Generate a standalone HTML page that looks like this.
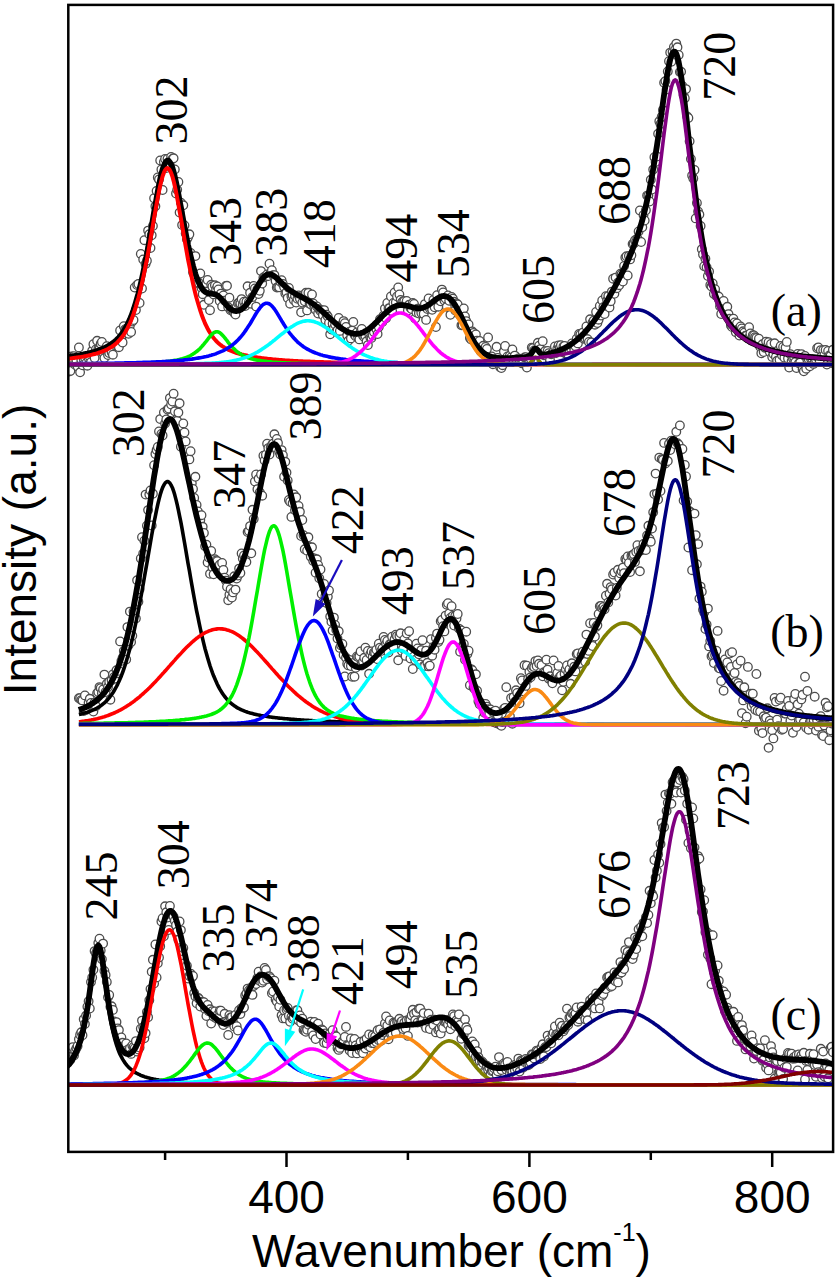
<!DOCTYPE html>
<html><head><meta charset="utf-8"><style>html,body{margin:0;padding:0;background:#fff;overflow:hidden}svg{display:block}</style></head>
<body><svg width="837" height="1280" viewBox="0 0 837 1280">
<rect width="837" height="1280" fill="#fff"/>
<defs><clipPath id="cp"><rect x="68" y="5" width="765" height="1146"/></clipPath></defs>
<g clip-path="url(#cp)">
<g fill="#fff" stroke="#4d4d4d" stroke-width="1.3"><circle cx="67.9" cy="360.6" r="4.3"/><circle cx="69.1" cy="371.6" r="4.3"/><circle cx="70.4" cy="370.9" r="4.3"/><circle cx="71.6" cy="356.5" r="4.3"/><circle cx="72.8" cy="358.2" r="4.3"/><circle cx="74.0" cy="356.1" r="4.3"/><circle cx="75.2" cy="364.8" r="4.3"/><circle cx="76.4" cy="360.4" r="4.3"/><circle cx="77.6" cy="366.4" r="4.3"/><circle cx="78.9" cy="347.4" r="4.3"/><circle cx="80.1" cy="372.3" r="4.3"/><circle cx="81.3" cy="360.0" r="4.3"/><circle cx="82.5" cy="365.3" r="4.3"/><circle cx="83.7" cy="358.8" r="4.3"/><circle cx="84.9" cy="357.4" r="4.3"/><circle cx="86.1" cy="363.2" r="4.3"/><circle cx="87.4" cy="365.7" r="4.3"/><circle cx="88.6" cy="358.1" r="4.3"/><circle cx="89.8" cy="356.8" r="4.3"/><circle cx="91.0" cy="362.1" r="4.3"/><circle cx="92.2" cy="350.8" r="4.3"/><circle cx="93.4" cy="344.2" r="4.3"/><circle cx="94.6" cy="358.0" r="4.3"/><circle cx="95.9" cy="349.4" r="4.3"/><circle cx="97.1" cy="340.8" r="4.3"/><circle cx="98.3" cy="349.1" r="4.3"/><circle cx="99.5" cy="349.1" r="4.3"/><circle cx="100.7" cy="343.7" r="4.3"/><circle cx="101.9" cy="341.9" r="4.3"/><circle cx="103.1" cy="352.7" r="4.3"/><circle cx="104.4" cy="358.1" r="4.3"/><circle cx="105.6" cy="349.7" r="4.3"/><circle cx="106.8" cy="346.2" r="4.3"/><circle cx="108.0" cy="355.1" r="4.3"/><circle cx="109.2" cy="353.1" r="4.3"/><circle cx="110.4" cy="349.1" r="4.3"/><circle cx="111.6" cy="352.3" r="4.3"/><circle cx="112.9" cy="354.7" r="4.3"/><circle cx="114.1" cy="345.0" r="4.3"/><circle cx="115.3" cy="344.0" r="4.3"/><circle cx="116.5" cy="344.2" r="4.3"/><circle cx="117.7" cy="343.9" r="4.3"/><circle cx="118.9" cy="347.2" r="4.3"/><circle cx="120.1" cy="330.4" r="4.3"/><circle cx="121.4" cy="339.0" r="4.3"/><circle cx="122.6" cy="342.5" r="4.3"/><circle cx="123.8" cy="326.2" r="4.3"/><circle cx="125.0" cy="329.4" r="4.3"/><circle cx="126.2" cy="329.3" r="4.3"/><circle cx="127.4" cy="328.2" r="4.3"/><circle cx="128.6" cy="333.8" r="4.3"/><circle cx="129.9" cy="325.5" r="4.3"/><circle cx="131.1" cy="332.0" r="4.3"/><circle cx="132.3" cy="321.6" r="4.3"/><circle cx="133.5" cy="320.0" r="4.3"/><circle cx="134.7" cy="287.5" r="4.3"/><circle cx="135.9" cy="310.0" r="4.3"/><circle cx="137.1" cy="284.9" r="4.3"/><circle cx="138.4" cy="284.0" r="4.3"/><circle cx="139.6" cy="303.0" r="4.3"/><circle cx="140.8" cy="253.9" r="4.3"/><circle cx="142.0" cy="288.5" r="4.3"/><circle cx="143.2" cy="259.5" r="4.3"/><circle cx="144.4" cy="240.2" r="4.3"/><circle cx="145.6" cy="263.9" r="4.3"/><circle cx="146.9" cy="260.7" r="4.3"/><circle cx="148.1" cy="230.6" r="4.3"/><circle cx="149.3" cy="234.3" r="4.3"/><circle cx="150.5" cy="248.0" r="4.3"/><circle cx="151.7" cy="235.3" r="4.3"/><circle cx="152.9" cy="226.0" r="4.3"/><circle cx="154.1" cy="198.2" r="4.3"/><circle cx="155.4" cy="206.3" r="4.3"/><circle cx="156.6" cy="190.9" r="4.3"/><circle cx="157.8" cy="177.5" r="4.3"/><circle cx="159.0" cy="179.4" r="4.3"/><circle cx="160.2" cy="160.4" r="4.3"/><circle cx="161.4" cy="169.5" r="4.3"/><circle cx="162.6" cy="190.0" r="4.3"/><circle cx="163.9" cy="162.0" r="4.3"/><circle cx="165.1" cy="159.0" r="4.3"/><circle cx="166.3" cy="168.1" r="4.3"/><circle cx="167.5" cy="158.9" r="4.3"/><circle cx="168.7" cy="166.1" r="4.3"/><circle cx="169.9" cy="165.7" r="4.3"/><circle cx="171.1" cy="156.9" r="4.3"/><circle cx="172.4" cy="158.9" r="4.3"/><circle cx="173.6" cy="158.3" r="4.3"/><circle cx="174.8" cy="169.5" r="4.3"/><circle cx="176.0" cy="193.5" r="4.3"/><circle cx="177.2" cy="189.8" r="4.3"/><circle cx="178.4" cy="181.9" r="4.3"/><circle cx="179.6" cy="212.6" r="4.3"/><circle cx="180.9" cy="202.7" r="4.3"/><circle cx="182.1" cy="225.1" r="4.3"/><circle cx="183.3" cy="205.3" r="4.3"/><circle cx="184.5" cy="225.4" r="4.3"/><circle cx="185.7" cy="233.5" r="4.3"/><circle cx="186.9" cy="239.2" r="4.3"/><circle cx="188.1" cy="236.9" r="4.3"/><circle cx="189.4" cy="234.3" r="4.3"/><circle cx="190.6" cy="253.0" r="4.3"/><circle cx="191.8" cy="256.4" r="4.3"/><circle cx="193.0" cy="272.3" r="4.3"/><circle cx="194.2" cy="274.4" r="4.3"/><circle cx="195.4" cy="256.1" r="4.3"/><circle cx="196.6" cy="277.5" r="4.3"/><circle cx="197.9" cy="283.2" r="4.3"/><circle cx="199.1" cy="283.3" r="4.3"/><circle cx="200.3" cy="273.5" r="4.3"/><circle cx="201.5" cy="288.1" r="4.3"/><circle cx="202.7" cy="294.2" r="4.3"/><circle cx="203.9" cy="304.8" r="4.3"/><circle cx="205.1" cy="287.8" r="4.3"/><circle cx="206.4" cy="283.2" r="4.3"/><circle cx="207.6" cy="279.9" r="4.3"/><circle cx="208.8" cy="300.1" r="4.3"/><circle cx="210.0" cy="310.2" r="4.3"/><circle cx="211.2" cy="284.8" r="4.3"/><circle cx="212.4" cy="286.5" r="4.3"/><circle cx="213.6" cy="294.4" r="4.3"/><circle cx="214.9" cy="285.3" r="4.3"/><circle cx="216.1" cy="289.5" r="4.3"/><circle cx="217.3" cy="286.5" r="4.3"/><circle cx="218.5" cy="289.4" r="4.3"/><circle cx="219.7" cy="301.1" r="4.3"/><circle cx="220.9" cy="293.6" r="4.3"/><circle cx="222.1" cy="306.4" r="4.3"/><circle cx="223.4" cy="295.4" r="4.3"/><circle cx="224.6" cy="300.6" r="4.3"/><circle cx="225.8" cy="286.0" r="4.3"/><circle cx="227.0" cy="285.8" r="4.3"/><circle cx="228.2" cy="307.3" r="4.3"/><circle cx="229.4" cy="297.7" r="4.3"/><circle cx="230.6" cy="310.2" r="4.3"/><circle cx="231.9" cy="309.9" r="4.3"/><circle cx="233.1" cy="309.8" r="4.3"/><circle cx="234.3" cy="313.1" r="4.3"/><circle cx="235.5" cy="314.6" r="4.3"/><circle cx="236.7" cy="306.9" r="4.3"/><circle cx="237.9" cy="303.3" r="4.3"/><circle cx="239.1" cy="302.7" r="4.3"/><circle cx="240.4" cy="303.5" r="4.3"/><circle cx="241.6" cy="299.1" r="4.3"/><circle cx="242.8" cy="304.7" r="4.3"/><circle cx="244.0" cy="301.7" r="4.3"/><circle cx="245.2" cy="306.0" r="4.3"/><circle cx="246.4" cy="301.7" r="4.3"/><circle cx="247.6" cy="286.3" r="4.3"/><circle cx="248.9" cy="302.2" r="4.3"/><circle cx="250.1" cy="292.8" r="4.3"/><circle cx="251.3" cy="303.7" r="4.3"/><circle cx="252.5" cy="297.1" r="4.3"/><circle cx="253.7" cy="286.0" r="4.3"/><circle cx="254.9" cy="288.4" r="4.3"/><circle cx="256.1" cy="306.6" r="4.3"/><circle cx="257.4" cy="289.2" r="4.3"/><circle cx="258.6" cy="294.0" r="4.3"/><circle cx="259.8" cy="290.8" r="4.3"/><circle cx="261.0" cy="271.1" r="4.3"/><circle cx="262.2" cy="283.5" r="4.3"/><circle cx="263.4" cy="277.5" r="4.3"/><circle cx="264.6" cy="277.0" r="4.3"/><circle cx="265.9" cy="276.5" r="4.3"/><circle cx="267.1" cy="274.5" r="4.3"/><circle cx="268.3" cy="276.0" r="4.3"/><circle cx="269.5" cy="263.7" r="4.3"/><circle cx="270.7" cy="272.7" r="4.3"/><circle cx="271.9" cy="270.2" r="4.3"/><circle cx="273.1" cy="275.3" r="4.3"/><circle cx="274.4" cy="275.1" r="4.3"/><circle cx="275.6" cy="280.9" r="4.3"/><circle cx="276.8" cy="287.6" r="4.3"/><circle cx="278.0" cy="287.2" r="4.3"/><circle cx="279.2" cy="287.3" r="4.3"/><circle cx="280.4" cy="281.7" r="4.3"/><circle cx="281.6" cy="280.2" r="4.3"/><circle cx="282.9" cy="283.9" r="4.3"/><circle cx="284.1" cy="286.9" r="4.3"/><circle cx="285.3" cy="293.6" r="4.3"/><circle cx="286.5" cy="292.5" r="4.3"/><circle cx="287.7" cy="298.1" r="4.3"/><circle cx="288.9" cy="287.9" r="4.3"/><circle cx="290.1" cy="303.7" r="4.3"/><circle cx="291.4" cy="296.2" r="4.3"/><circle cx="292.6" cy="295.2" r="4.3"/><circle cx="293.8" cy="300.1" r="4.3"/><circle cx="295.0" cy="295.7" r="4.3"/><circle cx="296.2" cy="302.6" r="4.3"/><circle cx="297.4" cy="298.8" r="4.3"/><circle cx="298.6" cy="295.5" r="4.3"/><circle cx="299.9" cy="298.7" r="4.3"/><circle cx="301.1" cy="312.3" r="4.3"/><circle cx="302.3" cy="302.6" r="4.3"/><circle cx="303.5" cy="295.1" r="4.3"/><circle cx="304.7" cy="301.3" r="4.3"/><circle cx="305.9" cy="292.8" r="4.3"/><circle cx="307.1" cy="310.4" r="4.3"/><circle cx="308.4" cy="292.8" r="4.3"/><circle cx="309.6" cy="303.7" r="4.3"/><circle cx="310.8" cy="304.2" r="4.3"/><circle cx="312.0" cy="294.4" r="4.3"/><circle cx="313.2" cy="303.4" r="4.3"/><circle cx="314.4" cy="308.3" r="4.3"/><circle cx="315.6" cy="309.8" r="4.3"/><circle cx="316.9" cy="306.5" r="4.3"/><circle cx="318.1" cy="313.5" r="4.3"/><circle cx="319.3" cy="309.3" r="4.3"/><circle cx="320.5" cy="311.0" r="4.3"/><circle cx="321.7" cy="310.2" r="4.3"/><circle cx="322.9" cy="315.3" r="4.3"/><circle cx="324.1" cy="310.1" r="4.3"/><circle cx="325.4" cy="319.9" r="4.3"/><circle cx="326.6" cy="314.7" r="4.3"/><circle cx="327.8" cy="316.6" r="4.3"/><circle cx="329.0" cy="322.9" r="4.3"/><circle cx="330.2" cy="334.3" r="4.3"/><circle cx="331.4" cy="329.5" r="4.3"/><circle cx="332.6" cy="323.7" r="4.3"/><circle cx="333.9" cy="328.2" r="4.3"/><circle cx="335.1" cy="324.5" r="4.3"/><circle cx="336.3" cy="331.7" r="4.3"/><circle cx="337.5" cy="330.3" r="4.3"/><circle cx="338.7" cy="318.0" r="4.3"/><circle cx="339.9" cy="330.9" r="4.3"/><circle cx="341.1" cy="325.7" r="4.3"/><circle cx="342.4" cy="324.4" r="4.3"/><circle cx="343.6" cy="321.1" r="4.3"/><circle cx="344.8" cy="323.2" r="4.3"/><circle cx="346.0" cy="327.0" r="4.3"/><circle cx="347.2" cy="335.6" r="4.3"/><circle cx="348.4" cy="340.8" r="4.3"/><circle cx="349.6" cy="331.7" r="4.3"/><circle cx="350.9" cy="338.4" r="4.3"/><circle cx="352.1" cy="330.6" r="4.3"/><circle cx="353.3" cy="322.0" r="4.3"/><circle cx="354.5" cy="334.8" r="4.3"/><circle cx="355.7" cy="336.3" r="4.3"/><circle cx="356.9" cy="332.5" r="4.3"/><circle cx="358.1" cy="337.2" r="4.3"/><circle cx="359.4" cy="339.4" r="4.3"/><circle cx="360.6" cy="331.4" r="4.3"/><circle cx="361.8" cy="328.9" r="4.3"/><circle cx="363.0" cy="335.8" r="4.3"/><circle cx="364.2" cy="336.9" r="4.3"/><circle cx="365.4" cy="336.0" r="4.3"/><circle cx="366.6" cy="341.3" r="4.3"/><circle cx="367.9" cy="345.1" r="4.3"/><circle cx="369.1" cy="334.0" r="4.3"/><circle cx="370.3" cy="337.5" r="4.3"/><circle cx="371.5" cy="337.9" r="4.3"/><circle cx="372.7" cy="335.2" r="4.3"/><circle cx="373.9" cy="331.9" r="4.3"/><circle cx="375.1" cy="326.9" r="4.3"/><circle cx="376.4" cy="329.2" r="4.3"/><circle cx="377.6" cy="334.1" r="4.3"/><circle cx="378.8" cy="327.0" r="4.3"/><circle cx="380.0" cy="319.3" r="4.3"/><circle cx="381.2" cy="319.4" r="4.3"/><circle cx="382.4" cy="322.0" r="4.3"/><circle cx="383.6" cy="315.6" r="4.3"/><circle cx="384.9" cy="308.6" r="4.3"/><circle cx="386.1" cy="318.2" r="4.3"/><circle cx="387.3" cy="303.0" r="4.3"/><circle cx="388.5" cy="308.4" r="4.3"/><circle cx="389.7" cy="308.2" r="4.3"/><circle cx="390.9" cy="296.5" r="4.3"/><circle cx="392.1" cy="311.0" r="4.3"/><circle cx="393.4" cy="302.9" r="4.3"/><circle cx="394.6" cy="292.5" r="4.3"/><circle cx="395.8" cy="302.4" r="4.3"/><circle cx="397.0" cy="296.4" r="4.3"/><circle cx="398.2" cy="287.5" r="4.3"/><circle cx="399.4" cy="294.5" r="4.3"/><circle cx="400.6" cy="300.0" r="4.3"/><circle cx="401.9" cy="302.5" r="4.3"/><circle cx="403.1" cy="301.2" r="4.3"/><circle cx="404.3" cy="301.1" r="4.3"/><circle cx="405.5" cy="304.3" r="4.3"/><circle cx="406.7" cy="300.9" r="4.3"/><circle cx="407.9" cy="310.5" r="4.3"/><circle cx="409.1" cy="304.8" r="4.3"/><circle cx="410.4" cy="307.8" r="4.3"/><circle cx="411.6" cy="309.1" r="4.3"/><circle cx="412.8" cy="303.0" r="4.3"/><circle cx="414.0" cy="303.9" r="4.3"/><circle cx="415.2" cy="318.5" r="4.3"/><circle cx="416.4" cy="312.5" r="4.3"/><circle cx="417.6" cy="308.8" r="4.3"/><circle cx="418.9" cy="313.5" r="4.3"/><circle cx="420.1" cy="308.6" r="4.3"/><circle cx="421.3" cy="313.0" r="4.3"/><circle cx="422.5" cy="309.0" r="4.3"/><circle cx="423.7" cy="314.0" r="4.3"/><circle cx="424.9" cy="304.1" r="4.3"/><circle cx="426.1" cy="319.9" r="4.3"/><circle cx="427.4" cy="309.1" r="4.3"/><circle cx="428.6" cy="298.5" r="4.3"/><circle cx="429.8" cy="308.4" r="4.3"/><circle cx="431.0" cy="307.5" r="4.3"/><circle cx="432.2" cy="309.8" r="4.3"/><circle cx="433.4" cy="299.9" r="4.3"/><circle cx="434.6" cy="307.3" r="4.3"/><circle cx="435.9" cy="327.0" r="4.3"/><circle cx="437.1" cy="295.2" r="4.3"/><circle cx="438.3" cy="306.7" r="4.3"/><circle cx="439.5" cy="300.5" r="4.3"/><circle cx="440.7" cy="301.3" r="4.3"/><circle cx="441.9" cy="289.6" r="4.3"/><circle cx="443.1" cy="292.5" r="4.3"/><circle cx="444.4" cy="300.4" r="4.3"/><circle cx="445.6" cy="298.5" r="4.3"/><circle cx="446.8" cy="306.8" r="4.3"/><circle cx="448.0" cy="295.4" r="4.3"/><circle cx="449.2" cy="300.8" r="4.3"/><circle cx="450.4" cy="314.8" r="4.3"/><circle cx="451.6" cy="296.9" r="4.3"/><circle cx="452.9" cy="298.7" r="4.3"/><circle cx="454.1" cy="301.8" r="4.3"/><circle cx="455.3" cy="310.5" r="4.3"/><circle cx="456.5" cy="303.4" r="4.3"/><circle cx="457.7" cy="304.5" r="4.3"/><circle cx="458.9" cy="312.8" r="4.3"/><circle cx="460.1" cy="315.2" r="4.3"/><circle cx="461.4" cy="325.3" r="4.3"/><circle cx="462.6" cy="325.0" r="4.3"/><circle cx="463.8" cy="308.4" r="4.3"/><circle cx="465.0" cy="316.5" r="4.3"/><circle cx="466.2" cy="321.1" r="4.3"/><circle cx="467.4" cy="326.8" r="4.3"/><circle cx="468.6" cy="324.4" r="4.3"/><circle cx="469.9" cy="338.1" r="4.3"/><circle cx="471.1" cy="339.5" r="4.3"/><circle cx="472.3" cy="331.5" r="4.3"/><circle cx="473.5" cy="333.0" r="4.3"/><circle cx="474.7" cy="337.5" r="4.3"/><circle cx="475.9" cy="334.5" r="4.3"/><circle cx="477.1" cy="340.6" r="4.3"/><circle cx="478.4" cy="345.6" r="4.3"/><circle cx="479.6" cy="341.0" r="4.3"/><circle cx="480.8" cy="351.4" r="4.3"/><circle cx="482.0" cy="348.0" r="4.3"/><circle cx="483.2" cy="345.8" r="4.3"/><circle cx="484.4" cy="349.1" r="4.3"/><circle cx="485.6" cy="346.9" r="4.3"/><circle cx="486.9" cy="349.0" r="4.3"/><circle cx="488.1" cy="337.5" r="4.3"/><circle cx="489.3" cy="360.6" r="4.3"/><circle cx="490.5" cy="360.6" r="4.3"/><circle cx="491.7" cy="356.5" r="4.3"/><circle cx="492.9" cy="364.2" r="4.3"/><circle cx="494.1" cy="361.0" r="4.3"/><circle cx="495.4" cy="361.8" r="4.3"/><circle cx="496.6" cy="346.8" r="4.3"/><circle cx="497.8" cy="358.0" r="4.3"/><circle cx="499.0" cy="362.2" r="4.3"/><circle cx="500.2" cy="367.2" r="4.3"/><circle cx="501.4" cy="368.0" r="4.3"/><circle cx="502.6" cy="365.2" r="4.3"/><circle cx="503.9" cy="351.6" r="4.3"/><circle cx="505.1" cy="345.9" r="4.3"/><circle cx="506.3" cy="359.4" r="4.3"/><circle cx="507.5" cy="356.4" r="4.3"/><circle cx="508.7" cy="360.8" r="4.3"/><circle cx="509.9" cy="355.6" r="4.3"/><circle cx="511.1" cy="357.4" r="4.3"/><circle cx="512.4" cy="349.5" r="4.3"/><circle cx="513.6" cy="359.5" r="4.3"/><circle cx="514.8" cy="355.6" r="4.3"/><circle cx="516.0" cy="359.5" r="4.3"/><circle cx="517.2" cy="360.8" r="4.3"/><circle cx="518.4" cy="358.4" r="4.3"/><circle cx="519.6" cy="361.0" r="4.3"/><circle cx="520.9" cy="359.6" r="4.3"/><circle cx="522.1" cy="363.4" r="4.3"/><circle cx="523.3" cy="362.2" r="4.3"/><circle cx="524.5" cy="357.4" r="4.3"/><circle cx="525.7" cy="357.2" r="4.3"/><circle cx="526.9" cy="367.6" r="4.3"/><circle cx="528.1" cy="358.5" r="4.3"/><circle cx="529.4" cy="361.8" r="4.3"/><circle cx="530.6" cy="358.7" r="4.3"/><circle cx="531.8" cy="347.6" r="4.3"/><circle cx="533.0" cy="348.2" r="4.3"/><circle cx="534.2" cy="350.4" r="4.3"/><circle cx="535.4" cy="351.5" r="4.3"/><circle cx="536.6" cy="354.6" r="4.3"/><circle cx="537.9" cy="342.8" r="4.3"/><circle cx="539.1" cy="345.7" r="4.3"/><circle cx="540.3" cy="349.1" r="4.3"/><circle cx="541.5" cy="361.1" r="4.3"/><circle cx="542.7" cy="341.2" r="4.3"/><circle cx="543.9" cy="355.3" r="4.3"/><circle cx="545.1" cy="351.1" r="4.3"/><circle cx="546.4" cy="355.5" r="4.3"/><circle cx="547.6" cy="350.9" r="4.3"/><circle cx="548.8" cy="353.1" r="4.3"/><circle cx="550.0" cy="359.9" r="4.3"/><circle cx="551.2" cy="354.3" r="4.3"/><circle cx="552.4" cy="353.1" r="4.3"/><circle cx="553.6" cy="351.7" r="4.3"/><circle cx="554.9" cy="346.4" r="4.3"/><circle cx="556.1" cy="353.0" r="4.3"/><circle cx="557.3" cy="348.7" r="4.3"/><circle cx="558.5" cy="345.4" r="4.3"/><circle cx="559.7" cy="347.7" r="4.3"/><circle cx="560.9" cy="345.2" r="4.3"/><circle cx="562.1" cy="352.0" r="4.3"/><circle cx="563.4" cy="346.4" r="4.3"/><circle cx="564.6" cy="346.0" r="4.3"/><circle cx="565.8" cy="353.7" r="4.3"/><circle cx="567.0" cy="353.4" r="4.3"/><circle cx="568.2" cy="354.4" r="4.3"/><circle cx="569.4" cy="349.6" r="4.3"/><circle cx="570.6" cy="348.1" r="4.3"/><circle cx="571.9" cy="343.5" r="4.3"/><circle cx="573.1" cy="346.3" r="4.3"/><circle cx="574.3" cy="350.4" r="4.3"/><circle cx="575.5" cy="346.2" r="4.3"/><circle cx="576.7" cy="338.7" r="4.3"/><circle cx="577.9" cy="343.4" r="4.3"/><circle cx="579.1" cy="333.9" r="4.3"/><circle cx="580.4" cy="334.5" r="4.3"/><circle cx="581.6" cy="337.6" r="4.3"/><circle cx="582.8" cy="332.6" r="4.3"/><circle cx="584.0" cy="338.8" r="4.3"/><circle cx="585.2" cy="338.3" r="4.3"/><circle cx="586.4" cy="326.4" r="4.3"/><circle cx="587.6" cy="339.2" r="4.3"/><circle cx="588.9" cy="341.9" r="4.3"/><circle cx="590.1" cy="319.3" r="4.3"/><circle cx="591.3" cy="342.5" r="4.3"/><circle cx="592.5" cy="322.4" r="4.3"/><circle cx="593.7" cy="320.6" r="4.3"/><circle cx="594.9" cy="324.7" r="4.3"/><circle cx="596.1" cy="311.9" r="4.3"/><circle cx="597.4" cy="323.0" r="4.3"/><circle cx="598.6" cy="319.7" r="4.3"/><circle cx="599.8" cy="306.0" r="4.3"/><circle cx="601.0" cy="315.5" r="4.3"/><circle cx="602.2" cy="300.4" r="4.3"/><circle cx="603.4" cy="307.1" r="4.3"/><circle cx="604.6" cy="314.1" r="4.3"/><circle cx="605.9" cy="296.2" r="4.3"/><circle cx="607.1" cy="300.6" r="4.3"/><circle cx="608.3" cy="296.1" r="4.3"/><circle cx="609.5" cy="307.6" r="4.3"/><circle cx="610.7" cy="301.2" r="4.3"/><circle cx="611.9" cy="291.6" r="4.3"/><circle cx="613.1" cy="278.7" r="4.3"/><circle cx="614.4" cy="293.8" r="4.3"/><circle cx="615.6" cy="277.6" r="4.3"/><circle cx="616.8" cy="288.2" r="4.3"/><circle cx="618.0" cy="282.6" r="4.3"/><circle cx="619.2" cy="285.2" r="4.3"/><circle cx="620.4" cy="273.7" r="4.3"/><circle cx="621.6" cy="274.3" r="4.3"/><circle cx="622.9" cy="281.5" r="4.3"/><circle cx="624.1" cy="265.9" r="4.3"/><circle cx="625.3" cy="257.6" r="4.3"/><circle cx="626.5" cy="256.3" r="4.3"/><circle cx="627.7" cy="275.5" r="4.3"/><circle cx="628.9" cy="256.0" r="4.3"/><circle cx="630.1" cy="259.4" r="4.3"/><circle cx="631.4" cy="255.2" r="4.3"/><circle cx="632.6" cy="243.9" r="4.3"/><circle cx="633.8" cy="243.6" r="4.3"/><circle cx="635.0" cy="240.3" r="4.3"/><circle cx="636.2" cy="241.8" r="4.3"/><circle cx="637.4" cy="238.6" r="4.3"/><circle cx="638.6" cy="231.4" r="4.3"/><circle cx="639.9" cy="210.4" r="4.3"/><circle cx="641.1" cy="242.0" r="4.3"/><circle cx="642.3" cy="227.3" r="4.3"/><circle cx="643.5" cy="215.1" r="4.3"/><circle cx="644.7" cy="220.5" r="4.3"/><circle cx="645.9" cy="210.2" r="4.3"/><circle cx="647.1" cy="195.6" r="4.3"/><circle cx="648.4" cy="195.4" r="4.3"/><circle cx="649.6" cy="201.5" r="4.3"/><circle cx="650.8" cy="179.8" r="4.3"/><circle cx="652.0" cy="189.6" r="4.3"/><circle cx="653.2" cy="169.6" r="4.3"/><circle cx="654.4" cy="157.2" r="4.3"/><circle cx="655.6" cy="162.1" r="4.3"/><circle cx="656.9" cy="156.5" r="4.3"/><circle cx="658.1" cy="133.8" r="4.3"/><circle cx="659.3" cy="121.3" r="4.3"/><circle cx="660.5" cy="123.9" r="4.3"/><circle cx="661.7" cy="116.7" r="4.3"/><circle cx="662.9" cy="110.1" r="4.3"/><circle cx="664.1" cy="82.7" r="4.3"/><circle cx="665.4" cy="81.1" r="4.3"/><circle cx="666.6" cy="89.6" r="4.3"/><circle cx="667.8" cy="71.5" r="4.3"/><circle cx="669.0" cy="61.2" r="4.3"/><circle cx="670.2" cy="52.6" r="4.3"/><circle cx="671.4" cy="61.7" r="4.3"/><circle cx="672.6" cy="52.1" r="4.3"/><circle cx="673.9" cy="46.9" r="4.3"/><circle cx="675.1" cy="49.7" r="4.3"/><circle cx="676.3" cy="43.6" r="4.3"/><circle cx="677.5" cy="47.3" r="4.3"/><circle cx="678.7" cy="54.9" r="4.3"/><circle cx="679.9" cy="71.9" r="4.3"/><circle cx="681.1" cy="71.8" r="4.3"/><circle cx="682.4" cy="85.9" r="4.3"/><circle cx="683.6" cy="95.2" r="4.3"/><circle cx="684.8" cy="98.2" r="4.3"/><circle cx="686.0" cy="89.1" r="4.3"/><circle cx="687.2" cy="116.4" r="4.3"/><circle cx="688.4" cy="118.0" r="4.3"/><circle cx="689.6" cy="141.2" r="4.3"/><circle cx="690.9" cy="158.9" r="4.3"/><circle cx="692.1" cy="175.5" r="4.3"/><circle cx="693.3" cy="178.5" r="4.3"/><circle cx="694.5" cy="169.9" r="4.3"/><circle cx="695.7" cy="218.4" r="4.3"/><circle cx="696.9" cy="203.0" r="4.3"/><circle cx="698.1" cy="211.4" r="4.3"/><circle cx="699.4" cy="214.6" r="4.3"/><circle cx="700.6" cy="226.0" r="4.3"/><circle cx="701.8" cy="249.3" r="4.3"/><circle cx="703.0" cy="254.4" r="4.3"/><circle cx="704.2" cy="266.2" r="4.3"/><circle cx="705.4" cy="258.7" r="4.3"/><circle cx="706.6" cy="267.3" r="4.3"/><circle cx="707.9" cy="276.0" r="4.3"/><circle cx="709.1" cy="271.6" r="4.3"/><circle cx="710.3" cy="285.1" r="4.3"/><circle cx="711.5" cy="286.4" r="4.3"/><circle cx="712.7" cy="283.4" r="4.3"/><circle cx="713.9" cy="294.0" r="4.3"/><circle cx="715.1" cy="289.2" r="4.3"/><circle cx="716.4" cy="296.0" r="4.3"/><circle cx="717.6" cy="295.8" r="4.3"/><circle cx="718.8" cy="296.7" r="4.3"/><circle cx="720.0" cy="306.2" r="4.3"/><circle cx="721.2" cy="314.0" r="4.3"/><circle cx="722.4" cy="306.4" r="4.3"/><circle cx="723.6" cy="300.9" r="4.3"/><circle cx="724.9" cy="309.2" r="4.3"/><circle cx="726.1" cy="309.6" r="4.3"/><circle cx="727.3" cy="306.8" r="4.3"/><circle cx="728.5" cy="314.1" r="4.3"/><circle cx="729.7" cy="318.8" r="4.3"/><circle cx="730.9" cy="325.5" r="4.3"/><circle cx="732.1" cy="327.1" r="4.3"/><circle cx="733.4" cy="318.7" r="4.3"/><circle cx="734.6" cy="322.4" r="4.3"/><circle cx="735.8" cy="332.2" r="4.3"/><circle cx="737.0" cy="323.4" r="4.3"/><circle cx="738.2" cy="329.3" r="4.3"/><circle cx="739.4" cy="335.5" r="4.3"/><circle cx="740.6" cy="326.5" r="4.3"/><circle cx="741.9" cy="328.5" r="4.3"/><circle cx="743.1" cy="331.3" r="4.3"/><circle cx="744.3" cy="332.7" r="4.3"/><circle cx="745.5" cy="335.8" r="4.3"/><circle cx="746.7" cy="335.7" r="4.3"/><circle cx="747.9" cy="338.6" r="4.3"/><circle cx="749.1" cy="327.2" r="4.3"/><circle cx="750.4" cy="333.5" r="4.3"/><circle cx="751.6" cy="340.7" r="4.3"/><circle cx="752.8" cy="335.2" r="4.3"/><circle cx="754.0" cy="335.4" r="4.3"/><circle cx="755.2" cy="337.1" r="4.3"/><circle cx="756.4" cy="338.0" r="4.3"/><circle cx="757.6" cy="343.1" r="4.3"/><circle cx="758.9" cy="338.7" r="4.3"/><circle cx="760.1" cy="346.7" r="4.3"/><circle cx="761.3" cy="353.3" r="4.3"/><circle cx="762.5" cy="344.3" r="4.3"/><circle cx="763.7" cy="352.1" r="4.3"/><circle cx="764.9" cy="347.7" r="4.3"/><circle cx="766.1" cy="341.6" r="4.3"/><circle cx="767.4" cy="346.4" r="4.3"/><circle cx="768.6" cy="342.2" r="4.3"/><circle cx="769.8" cy="351.9" r="4.3"/><circle cx="771.0" cy="344.0" r="4.3"/><circle cx="772.2" cy="356.9" r="4.3"/><circle cx="773.4" cy="353.9" r="4.3"/><circle cx="774.6" cy="343.3" r="4.3"/><circle cx="775.9" cy="357.0" r="4.3"/><circle cx="777.1" cy="360.8" r="4.3"/><circle cx="778.3" cy="350.3" r="4.3"/><circle cx="779.5" cy="359.8" r="4.3"/><circle cx="780.7" cy="346.0" r="4.3"/><circle cx="781.9" cy="355.2" r="4.3"/><circle cx="783.1" cy="347.0" r="4.3"/><circle cx="784.4" cy="357.7" r="4.3"/><circle cx="785.6" cy="347.6" r="4.3"/><circle cx="786.8" cy="341.9" r="4.3"/><circle cx="788.0" cy="358.6" r="4.3"/><circle cx="789.2" cy="367.6" r="4.3"/><circle cx="790.4" cy="354.2" r="4.3"/><circle cx="791.6" cy="361.2" r="4.3"/><circle cx="792.9" cy="358.4" r="4.3"/><circle cx="794.1" cy="357.2" r="4.3"/><circle cx="795.3" cy="362.1" r="4.3"/><circle cx="796.5" cy="368.1" r="4.3"/><circle cx="797.7" cy="354.0" r="4.3"/><circle cx="798.9" cy="363.3" r="4.3"/><circle cx="800.1" cy="362.7" r="4.3"/><circle cx="801.4" cy="354.1" r="4.3"/><circle cx="802.6" cy="369.3" r="4.3"/><circle cx="803.8" cy="371.3" r="4.3"/><circle cx="805.0" cy="355.9" r="4.3"/><circle cx="806.2" cy="368.7" r="4.3"/><circle cx="807.4" cy="360.3" r="4.3"/><circle cx="808.6" cy="359.0" r="4.3"/><circle cx="809.9" cy="366.3" r="4.3"/><circle cx="811.1" cy="359.3" r="4.3"/><circle cx="812.3" cy="359.1" r="4.3"/><circle cx="813.5" cy="363.9" r="4.3"/><circle cx="814.7" cy="362.4" r="4.3"/><circle cx="815.9" cy="359.4" r="4.3"/><circle cx="817.1" cy="348.2" r="4.3"/><circle cx="818.4" cy="347.5" r="4.3"/><circle cx="819.6" cy="360.4" r="4.3"/><circle cx="820.8" cy="350.1" r="4.3"/><circle cx="822.0" cy="355.8" r="4.3"/><circle cx="823.2" cy="350.2" r="4.3"/><circle cx="824.4" cy="355.0" r="4.3"/><circle cx="825.6" cy="349.9" r="4.3"/><circle cx="826.9" cy="364.5" r="4.3"/><circle cx="828.1" cy="350.9" r="4.3"/><circle cx="829.3" cy="355.5" r="4.3"/><circle cx="830.5" cy="355.8" r="4.3"/><circle cx="831.7" cy="363.1" r="4.3"/><circle cx="832.9" cy="349.8" r="4.3"/></g><path d="M67.9 356.9 69.1 356.8 70.4 356.6 71.6 356.4 72.8 356.2 74.0 356.1 75.2 355.9 76.4 355.7 77.6 355.5 78.9 355.3 80.1 355.1 81.3 354.8 82.5 354.6 83.7 354.4 84.9 354.1 86.1 353.8 87.4 353.6 88.6 353.3 89.8 353.0 91.0 352.7 92.2 352.4 93.4 352.0 94.6 351.7 95.9 351.3 97.1 350.9 98.3 350.5 99.5 350.1 100.7 349.6 101.9 349.1 103.1 348.6 104.4 348.1 105.6 347.5 106.8 346.9 108.0 346.2 109.2 345.5 110.4 344.8 111.6 344.0 112.9 343.1 114.1 342.2 115.3 341.2 116.5 340.1 117.7 338.9 118.9 337.6 120.1 336.2 121.4 334.7 122.6 333.0 123.8 331.2 125.0 329.2 126.2 327.1 127.4 324.8 128.6 322.3 129.9 319.6 131.1 316.7 132.3 313.5 133.5 310.1 134.7 306.4 135.9 302.5 137.1 298.3 138.4 293.8 139.6 289.1 140.8 284.0 142.0 278.7 143.2 273.0 144.4 267.1 145.6 260.9 146.9 254.5 148.1 247.8 149.3 241.0 150.5 233.9 151.7 226.8 152.9 219.5 154.1 212.3 155.4 205.2 156.6 198.2 157.8 191.5 159.0 185.1 160.2 179.3 161.4 174.0 162.6 169.5 163.9 165.8 165.1 163.1 166.3 161.3 167.5 160.6 168.7 160.9 169.9 162.3 171.1 164.6 172.4 167.9 173.6 172.0 174.8 176.8 176.0 182.2 177.2 188.1 178.4 194.3 179.6 200.7 180.9 207.3 182.1 213.9 183.3 220.5 184.5 227.0 185.7 233.4 186.9 239.5 188.1 245.3 189.4 250.9 190.6 256.2 191.8 261.2 193.0 265.8 194.2 270.0 195.4 273.9 196.6 277.4 197.9 280.5 199.1 283.3 200.3 285.7 201.5 287.7 202.7 289.4 203.9 290.8 205.1 291.8 206.4 292.6 207.6 293.1 208.8 293.4 210.0 293.6 211.2 293.7 212.4 293.8 213.6 294.0 214.9 294.3 216.1 294.7 217.3 295.4 218.5 296.3 219.7 297.4 220.9 298.6 222.1 300.0 223.4 301.4 224.6 302.9 225.8 304.3 227.0 305.7 228.2 306.9 229.4 308.1 230.6 309.0 231.9 309.8 233.1 310.4 234.3 310.8 235.5 311.0 236.7 311.0 237.9 310.8 239.1 310.5 240.4 309.9 241.6 309.2 242.8 308.3 244.0 307.2 245.2 306.0 246.4 304.5 247.6 303.0 248.9 301.3 250.1 299.4 251.3 297.5 252.5 295.4 253.7 293.3 254.9 291.1 256.1 288.9 257.4 286.7 258.6 284.6 259.8 282.6 261.0 280.7 262.2 279.0 263.4 277.6 264.6 276.3 265.9 275.4 267.1 274.7 268.3 274.3 269.5 274.2 270.7 274.3 271.9 274.8 273.1 275.4 274.4 276.2 275.6 277.2 276.8 278.2 278.0 279.4 279.2 280.6 280.4 281.8 281.6 283.0 282.9 284.2 284.1 285.4 285.3 286.5 286.5 287.6 287.7 288.6 288.9 289.5 290.1 290.4 291.4 291.2 292.6 292.0 293.8 292.8 295.0 293.5 296.2 294.2 297.4 294.8 298.6 295.5 299.9 296.1 301.1 296.8 302.3 297.4 303.5 298.0 304.7 298.7 305.9 299.4 307.1 300.1 308.4 300.8 309.6 301.5 310.8 302.3 312.0 303.1 313.2 304.0 314.4 304.9 315.6 305.8 316.9 306.7 318.1 307.7 319.3 308.7 320.5 309.8 321.7 310.8 322.9 311.9 324.1 313.0 325.4 314.1 326.6 315.2 327.8 316.4 329.0 317.5 330.2 318.6 331.4 319.7 332.6 320.8 333.9 321.9 335.1 323.0 336.3 324.0 337.5 325.1 338.7 326.0 339.9 327.0 341.1 327.9 342.4 328.8 343.6 329.6 344.8 330.3 346.0 331.0 347.2 331.6 348.4 332.2 349.6 332.6 350.9 333.0 352.1 333.4 353.3 333.6 354.5 333.8 355.7 333.8 356.9 333.8 358.1 333.7 359.4 333.5 360.6 333.2 361.8 332.8 363.0 332.4 364.2 331.8 365.4 331.1 366.6 330.4 367.9 329.6 369.1 328.7 370.3 327.8 371.5 326.8 372.7 325.7 373.9 324.6 375.1 323.4 376.4 322.2 377.6 321.0 378.8 319.8 380.0 318.5 381.2 317.3 382.4 316.0 383.6 314.8 384.9 313.7 386.1 312.6 387.3 311.5 388.5 310.5 389.7 309.5 390.9 308.7 392.1 307.9 393.4 307.2 394.6 306.6 395.8 306.1 397.0 305.7 398.2 305.4 399.4 305.2 400.6 305.1 401.9 305.1 403.1 305.2 404.3 305.3 405.5 305.5 406.7 305.7 407.9 306.0 409.1 306.4 410.4 306.7 411.6 307.0 412.8 307.4 414.0 307.7 415.2 307.9 416.4 308.1 417.6 308.2 418.9 308.2 420.1 308.2 421.3 308.0 422.5 307.8 423.7 307.4 424.9 306.9 426.1 306.4 427.4 305.7 428.6 304.9 429.8 304.1 431.0 303.2 432.2 302.3 433.4 301.3 434.6 300.4 435.9 299.5 437.1 298.6 438.3 297.9 439.5 297.2 440.7 296.6 441.9 296.2 443.1 296.0 444.4 296.0 445.6 296.2 446.8 296.5 448.0 297.1 449.2 298.0 450.4 299.0 451.6 300.3 452.9 301.8 454.1 303.5 455.3 305.4 456.5 307.5 457.7 309.7 458.9 312.0 460.1 314.4 461.4 316.9 462.6 319.5 463.8 322.0 465.0 324.6 466.2 327.1 467.4 329.6 468.6 332.1 469.9 334.4 471.1 336.7 472.3 338.8 473.5 340.9 474.7 342.8 475.9 344.6 477.1 346.2 478.4 347.7 479.6 349.1 480.8 350.4 482.0 351.5 483.2 352.5 484.4 353.4 485.6 354.2 486.9 354.9 488.1 355.5 489.3 356.0 490.5 356.4 491.7 356.8 492.9 357.1 494.1 357.4 495.4 357.6 496.6 357.8 497.8 357.9 499.0 358.0 500.2 358.1 501.4 358.1 502.6 358.2 503.9 358.2 505.1 358.2 506.3 358.2 507.5 358.2 508.7 358.1 509.9 358.1 511.1 358.1 512.4 358.0 513.6 358.0 514.8 357.9 516.0 357.8 517.2 357.8 518.4 357.7 519.6 357.6 520.9 357.5 522.1 357.4 523.3 357.3 524.5 357.2 525.7 357.1 526.9 356.9 528.1 356.4 529.4 355.7 530.6 354.5 531.8 352.8 533.0 350.9 534.2 349.3 535.4 348.6 536.6 349.0 537.9 350.3 539.1 351.8 540.3 353.2 541.5 354.1 542.7 354.5 543.9 354.6 545.1 354.5 546.4 354.3 547.6 354.0 548.8 353.7 550.0 353.4 551.2 353.1 552.4 352.7 553.6 352.4 554.9 352.0 556.1 351.6 557.3 351.2 558.5 350.7 559.7 350.2 560.9 349.7 562.1 349.2 563.4 348.6 564.6 348.0 565.8 347.4 567.0 346.7 568.2 346.0 569.4 345.3 570.6 344.5 571.9 343.7 573.1 342.8 574.3 341.9 575.5 341.0 576.7 340.0 577.9 339.0 579.1 337.9 580.4 336.8 581.6 335.6 582.8 334.4 584.0 333.1 585.2 331.8 586.4 330.5 587.6 329.1 588.9 327.6 590.1 326.1 591.3 324.6 592.5 323.0 593.7 321.4 594.9 319.7 596.1 318.0 597.4 316.2 598.6 314.4 599.8 312.6 601.0 310.7 602.2 308.8 603.4 306.8 604.6 304.8 605.9 302.8 607.1 300.7 608.3 298.6 609.5 296.5 610.7 294.4 611.9 292.2 613.1 290.0 614.4 287.8 615.6 285.5 616.8 283.2 618.0 280.9 619.2 278.5 620.4 276.1 621.6 273.7 622.9 271.2 624.1 268.7 625.3 266.2 626.5 263.5 627.7 260.9 628.9 258.1 630.1 255.3 631.4 252.4 632.6 249.3 633.8 246.2 635.0 243.0 636.2 239.6 637.4 236.1 638.6 232.4 639.9 228.5 641.1 224.4 642.3 220.1 643.5 215.6 644.7 210.8 645.9 205.8 647.1 200.4 648.4 194.8 649.6 188.9 650.8 182.6 652.0 175.9 653.2 169.0 654.4 161.6 655.6 154.0 656.9 146.0 658.1 137.8 659.3 129.3 660.5 120.6 661.7 111.9 662.9 103.1 664.1 94.6 665.4 86.3 666.6 78.5 667.8 71.3 669.0 65.0 670.2 59.7 671.4 55.6 672.6 52.8 673.9 51.6 675.1 51.9 676.3 53.8 677.5 57.2 678.7 62.2 679.9 68.5 681.1 76.0 682.4 84.6 683.6 93.9 684.8 104.0 686.0 114.4 687.2 125.1 688.4 136.0 689.6 146.8 690.9 157.4 692.1 167.9 693.3 178.1 694.5 187.9 695.7 197.3 696.9 206.3 698.1 214.9 699.4 223.1 700.6 230.8 701.8 238.1 703.0 245.0 704.2 251.5 705.4 257.6 706.6 263.3 707.9 268.7 709.1 273.7 710.3 278.5 711.5 282.9 712.7 287.1 713.9 291.0 715.1 294.6 716.4 298.0 717.6 301.2 718.8 304.2 720.0 307.0 721.2 309.6 722.4 312.1 723.6 314.4 724.9 316.5 726.1 318.6 727.3 320.5 728.5 322.3 729.7 324.0 730.9 325.6 732.1 327.1 733.4 328.5 734.6 329.8 735.8 331.1 737.0 332.3 738.2 333.4 739.4 334.5 740.6 335.5 741.9 336.5 743.1 337.4 744.3 338.3 745.5 339.1 746.7 339.9 747.9 340.6 749.1 341.4 750.4 342.1 751.6 342.7 752.8 343.3 754.0 343.9 755.2 344.5 756.4 345.1 757.6 345.6 758.9 346.1 760.1 346.6 761.3 347.1 762.5 347.5 763.7 347.9 764.9 348.4 766.1 348.8 767.4 349.1 768.6 349.5 769.8 349.9 771.0 350.2 772.2 350.6 773.4 350.9 774.6 351.2 775.9 351.5 777.1 351.8 778.3 352.1 779.5 352.3 780.7 352.6 781.9 352.8 783.1 353.1 784.4 353.3 785.6 353.6 786.8 353.8 788.0 354.0 789.2 354.2 790.4 354.4 791.6 354.6 792.9 354.8 794.1 355.0 795.3 355.2 796.5 355.3 797.7 355.5 798.9 355.7 800.1 355.8 801.4 356.0 802.6 356.2 803.8 356.3 805.0 356.5 806.2 356.6 807.4 356.7 808.6 356.9 809.9 357.0 811.1 357.1 812.3 357.2 813.5 357.4 814.7 357.5 815.9 357.6 817.1 357.7 818.4 357.8 819.6 357.9 820.8 358.0 822.0 358.1 823.2 358.2 824.4 358.3 825.6 358.4 826.9 358.5 828.1 358.6 829.3 358.7 830.5 358.8 831.7 358.9 832.9 358.9" fill="none" stroke="#000" stroke-width="5.8" stroke-linejoin="round"/><path d="M67.9 358.7 69.1 358.6 70.4 358.4 71.6 358.3 72.8 358.1 74.0 358.0 75.2 357.8 76.4 357.6 77.6 357.5 78.9 357.3 80.1 357.1 81.3 356.9 82.5 356.7 83.7 356.5 84.9 356.2 86.1 356.0 87.4 355.7 88.6 355.5 89.8 355.2 91.0 354.9 92.2 354.6 93.4 354.3 94.6 354.0 95.9 353.7 97.1 353.3 98.3 352.9 99.5 352.5 100.7 352.1 101.9 351.7 103.1 351.2 104.4 350.7 105.6 350.2 106.8 349.6 108.0 349.0 109.2 348.3 110.4 347.6 111.6 346.9 112.9 346.0 114.1 345.1 115.3 344.2 116.5 343.1 117.7 342.0 118.9 340.7 120.1 339.4 121.4 337.9 122.6 336.3 123.8 334.6 125.0 332.7 126.2 330.6 127.4 328.4 128.6 325.9 129.9 323.3 131.1 320.4 132.3 317.3 133.5 314.0 134.7 310.4 135.9 306.6 137.1 302.4 138.4 298.0 139.6 293.4 140.8 288.4 142.0 283.1 143.2 277.6 144.4 271.8 145.6 265.7 146.9 259.4 148.1 252.8 149.3 246.0 150.5 239.1 151.7 232.1 152.9 225.0 154.1 217.9 155.4 210.9 156.6 204.1 157.8 197.5 159.0 191.3 160.2 185.6 161.4 180.6 162.6 176.2 163.9 172.7 165.1 170.2 166.3 168.6 167.5 168.1 168.7 168.7 169.9 170.3 171.1 172.9 172.4 176.5 173.6 180.9 174.8 186.0 176.0 191.7 177.2 197.9 178.4 204.5 179.6 211.3 180.9 218.4 182.1 225.4 183.3 232.5 184.5 239.6 185.7 246.5 186.9 253.2 188.1 259.8 189.4 266.1 190.6 272.1 191.8 277.9 193.0 283.5 194.2 288.7 195.4 293.7 196.6 298.3 197.9 302.7 199.1 306.8 200.3 310.6 201.5 314.2 202.7 317.5 203.9 320.6 205.1 323.5 206.4 326.1 207.6 328.5 208.8 330.7 210.0 332.8 211.2 334.7 212.4 336.4 213.6 338.0 214.9 339.5 216.1 340.8 217.3 342.1 218.5 343.2 219.7 344.2 220.9 345.2 222.1 346.1 223.4 346.9 224.6 347.7 225.8 348.4 227.0 349.0 228.2 349.6 229.4 350.2 230.6 350.7 231.9 351.2 233.1 351.7 234.3 352.2 235.5 352.6 236.7 353.0 237.9 353.3 239.1 353.7 240.4 354.0 241.6 354.4 242.8 354.7 244.0 355.0 245.2 355.2 246.4 355.5 247.6 355.8 248.9 356.0 250.1 356.2 251.3 356.5 252.5 356.7 253.7 356.9 254.9 357.1 256.1 357.3 257.4 357.5 258.6 357.7 259.8 357.8 261.0 358.0 262.2 358.2 263.4 358.3 264.6 358.5 265.9 358.6 267.1 358.7 268.3 358.9 269.5 359.0 270.7 359.1 271.9 359.2 273.1 359.4 274.4 359.5 275.6 359.6 276.8 359.7 278.0 359.8 279.2 359.9 280.4 360.0 281.6 360.1 282.9 360.2 284.1 360.3 285.3 360.4 286.5 360.4 287.7 360.5 288.9 360.6 290.1 360.7 291.4 360.7 292.6 360.8 293.8 360.9 295.0 361.0 296.2 361.0 297.4 361.1 298.6 361.2 299.9 361.2 301.1 361.3 302.3 361.3 303.5 361.4 304.7 361.4 305.9 361.5 307.1 361.5 308.4 361.6 309.6 361.6 310.8 361.7 312.0 361.7 313.2 361.8 314.4 361.8 315.6 361.9 316.9 361.9 318.1 362.0 319.3 362.0 320.5 362.0 321.7 362.1 322.9 362.1 324.1 362.2 325.4 362.2 326.6 362.2 327.8 362.3 329.0 362.3 330.2 362.3 331.4 362.4 332.6 362.4 333.9 362.4 335.1 362.5 336.3 362.5 337.5 362.5 338.7 362.6 339.9 362.6 341.1 362.6 342.4 362.6 343.6 362.7 344.8 362.7 346.0 362.7 347.2 362.7 348.4 362.8 349.6 362.8 350.9 362.8 352.1 362.8 353.3 362.9 354.5 362.9 355.7 362.9 356.9 362.9 358.1 362.9 359.4 363.0 360.6 363.0 361.8 363.0 363.0 363.0 364.2 363.0 365.4 363.1 366.6 363.1 367.9 363.1 369.1 363.1 370.3 363.1 371.5 363.2 372.7 363.2 373.9 363.2 375.1 363.2 376.4 363.2 377.6 363.2 378.8 363.2 380.0 363.3 381.2 363.3 382.4 363.3 383.6 363.3 384.9 363.3 386.1 363.3 387.3 363.3 388.5 363.4 389.7 363.4 390.9 363.4 392.1 363.4 393.4 363.4 394.6 363.4 395.8 363.4 397.0 363.5 398.2 363.5 399.4 363.5 400.6 363.5 401.9 363.5 403.1 363.5 404.3 363.5 405.5 363.5 406.7 363.5 407.9 363.6 409.1 363.6 410.4 363.6 411.6 363.6 412.8 363.6 414.0 363.6 415.2 363.6 416.4 363.6 417.6 363.6 418.9 363.6 420.1 363.7 421.3 363.7 422.5 363.7 423.7 363.7 424.9 363.7 426.1 363.7 427.4 363.7 428.6 363.7 429.8 363.7 431.0 363.7 432.2 363.7 433.4 363.7 434.6 363.8 435.9 363.8 437.1 363.8 438.3 363.8 439.5 363.8 440.7 363.8 441.9 363.8 443.1 363.8 444.4 363.8 445.6 363.8 446.8 363.8 448.0 363.8 449.2 363.8 450.4 363.8 451.6 363.8 452.9 363.9 454.1 363.9 455.3 363.9 456.5 363.9 457.7 363.9 458.9 363.9 460.1 363.9 461.4 363.9 462.6 363.9 463.8 363.9 465.0 363.9 466.2 363.9 467.4 363.9 468.6 363.9 469.9 363.9 471.1 363.9 472.3 363.9 473.5 364.0 474.7 364.0 475.9 364.0 477.1 364.0 478.4 364.0 479.6 364.0 480.8 364.0 482.0 364.0 483.2 364.0 484.4 364.0 485.6 364.0 486.9 364.0 488.1 364.0 489.3 364.0 490.5 364.0 491.7 364.0 492.9 364.0 494.1 364.0 495.4 364.0 496.6 364.0 497.8 364.0 499.0 364.0 500.2 364.1 501.4 364.1 502.6 364.1 503.9 364.1 505.1 364.1 506.3 364.1 507.5 364.1 508.7 364.1 509.9 364.1 511.1 364.1 512.4 364.1 513.6 364.1 514.8 364.1 516.0 364.1 517.2 364.1 518.4 364.1 519.6 364.1 520.9 364.1 522.1 364.1 523.3 364.1 524.5 364.1 525.7 364.1 526.9 364.1 528.1 364.1 529.4 364.1 530.6 364.1 531.8 364.1 533.0 364.1 534.2 364.1 535.4 364.2 536.6 364.2 537.9 364.2 539.1 364.2 540.3 364.2 541.5 364.2 542.7 364.2 543.9 364.2 545.1 364.2 546.4 364.2 547.6 364.2 548.8 364.2 550.0 364.2 551.2 364.2 552.4 364.2 553.6 364.2 554.9 364.2 556.1 364.2 557.3 364.2 558.5 364.2 559.7 364.2 560.9 364.2 562.1 364.2 563.4 364.2 564.6 364.2 565.8 364.2 567.0 364.2 568.2 364.2 569.4 364.2 570.6 364.2 571.9 364.2 573.1 364.2 574.3 364.2 575.5 364.2 576.7 364.2 577.9 364.2 579.1 364.2 580.4 364.2 581.6 364.2 582.8 364.2 584.0 364.2 585.2 364.3 586.4 364.3 587.6 364.3 588.9 364.3 590.1 364.3 591.3 364.3 592.5 364.3 593.7 364.3 594.9 364.3 596.1 364.3 597.4 364.3 598.6 364.3 599.8 364.3 601.0 364.3 602.2 364.3 603.4 364.3 604.6 364.3 605.9 364.3 607.1 364.3 608.3 364.3 609.5 364.3 610.7 364.3 611.9 364.3 613.1 364.3 614.4 364.3 615.6 364.3 616.8 364.3 618.0 364.3 619.2 364.3 620.4 364.3 621.6 364.3 622.9 364.3 624.1 364.3 625.3 364.3 626.5 364.3 627.7 364.3 628.9 364.3 630.1 364.3 631.4 364.3 632.6 364.3 633.8 364.3 635.0 364.3 636.2 364.3 637.4 364.3 638.6 364.3 639.9 364.3 641.1 364.3 642.3 364.3 643.5 364.3 644.7 364.3 645.9 364.3 647.1 364.3 648.4 364.3 649.6 364.3 650.8 364.3 652.0 364.3 653.2 364.3 654.4 364.3 655.6 364.3 656.9 364.3 658.1 364.3 659.3 364.3 660.5 364.3 661.7 364.4 662.9 364.4 664.1 364.4 665.4 364.4 666.6 364.4 667.8 364.4 669.0 364.4 670.2 364.4 671.4 364.4 672.6 364.4 673.9 364.4 675.1 364.4 676.3 364.4 677.5 364.4 678.7 364.4 679.9 364.4 681.1 364.4 682.4 364.4 683.6 364.4 684.8 364.4 686.0 364.4 687.2 364.4 688.4 364.4 689.6 364.4 690.9 364.4 692.1 364.4 693.3 364.4 694.5 364.4 695.7 364.4 696.9 364.4 698.1 364.4 699.4 364.4 700.6 364.4 701.8 364.4 703.0 364.4 704.2 364.4 705.4 364.4 706.6 364.4 707.9 364.4 709.1 364.4 710.3 364.4 711.5 364.4 712.7 364.4 713.9 364.4 715.1 364.4 716.4 364.4 717.6 364.4 718.8 364.4 720.0 364.4 721.2 364.4 722.4 364.4 723.6 364.4 724.9 364.4 726.1 364.4 727.3 364.4 728.5 364.4 729.7 364.4 730.9 364.4 732.1 364.4 733.4 364.4 734.6 364.4 735.8 364.4 737.0 364.4 738.2 364.4 739.4 364.4 740.6 364.4 741.9 364.4 743.1 364.4 744.3 364.4 745.5 364.4 746.7 364.4 747.9 364.4 749.1 364.4 750.4 364.4 751.6 364.4 752.8 364.4 754.0 364.4 755.2 364.4 756.4 364.4 757.6 364.4 758.9 364.4 760.1 364.4 761.3 364.4 762.5 364.4 763.7 364.4 764.9 364.4 766.1 364.4 767.4 364.4 768.6 364.4 769.8 364.4 771.0 364.4 772.2 364.4 773.4 364.4 774.6 364.4 775.9 364.4 777.1 364.4 778.3 364.4 779.5 364.4 780.7 364.4 781.9 364.4 783.1 364.4 784.4 364.4 785.6 364.4 786.8 364.4 788.0 364.4 789.2 364.4 790.4 364.4 791.6 364.4 792.9 364.4 794.1 364.4 795.3 364.4 796.5 364.4 797.7 364.4 798.9 364.4 800.1 364.4 801.4 364.4 802.6 364.4 803.8 364.4 805.0 364.5 806.2 364.5 807.4 364.5 808.6 364.5 809.9 364.5 811.1 364.5 812.3 364.5 813.5 364.5 814.7 364.5 815.9 364.5 817.1 364.5 818.4 364.5 819.6 364.5 820.8 364.5 822.0 364.5 823.2 364.5 824.4 364.5 825.6 364.5 826.9 364.5 828.1 364.5 829.3 364.5 830.5 364.5 831.7 364.5 832.9 364.5" fill="none" stroke="#ff0000" stroke-width="4.0" stroke-linejoin="round"/><path d="M67.9 364.2 69.1 364.2 70.4 364.2 71.6 364.2 72.8 364.2 74.0 364.2 75.2 364.2 76.4 364.2 77.6 364.2 78.9 364.2 80.1 364.2 81.3 364.1 82.5 364.1 83.7 364.1 84.9 364.1 86.1 364.1 87.4 364.1 88.6 364.1 89.8 364.1 91.0 364.1 92.2 364.1 93.4 364.1 94.6 364.0 95.9 364.0 97.1 364.0 98.3 364.0 99.5 364.0 100.7 364.0 101.9 364.0 103.1 364.0 104.4 363.9 105.6 363.9 106.8 363.9 108.0 363.9 109.2 363.9 110.4 363.9 111.6 363.9 112.9 363.8 114.1 363.8 115.3 363.8 116.5 363.8 117.7 363.8 118.9 363.7 120.1 363.7 121.4 363.7 122.6 363.7 123.8 363.7 125.0 363.6 126.2 363.6 127.4 363.6 128.6 363.6 129.9 363.5 131.1 363.5 132.3 363.5 133.5 363.4 134.7 363.4 135.9 363.4 137.1 363.3 138.4 363.3 139.6 363.2 140.8 363.2 142.0 363.2 143.2 363.1 144.4 363.1 145.6 363.0 146.9 363.0 148.1 362.9 149.3 362.9 150.5 362.8 151.7 362.7 152.9 362.7 154.1 362.6 155.4 362.5 156.6 362.4 157.8 362.4 159.0 362.3 160.2 362.2 161.4 362.1 162.6 362.0 163.9 361.9 165.1 361.7 166.3 361.6 167.5 361.5 168.7 361.3 169.9 361.2 171.1 361.0 172.4 360.8 173.6 360.6 174.8 360.4 176.0 360.2 177.2 360.0 178.4 359.7 179.6 359.4 180.9 359.1 182.1 358.8 183.3 358.4 184.5 358.1 185.7 357.6 186.9 357.2 188.1 356.7 189.4 356.1 190.6 355.5 191.8 354.8 193.0 354.1 194.2 353.3 195.4 352.4 196.6 351.5 197.9 350.5 199.1 349.4 200.3 348.2 201.5 346.9 202.7 345.5 203.9 344.1 205.1 342.6 206.4 341.1 207.6 339.5 208.8 337.9 210.0 336.5 211.2 335.1 212.4 333.9 213.6 332.9 214.9 332.2 216.1 331.8 217.3 331.8 218.5 332.1 219.7 332.7 220.9 333.7 222.1 334.8 223.4 336.2 224.6 337.6 225.8 339.2 227.0 340.7 228.2 342.3 229.4 343.8 230.6 345.3 231.9 346.6 233.1 347.9 234.3 349.1 235.5 350.3 236.7 351.3 237.9 352.3 239.1 353.1 240.4 353.9 241.6 354.7 242.8 355.4 244.0 356.0 245.2 356.5 246.4 357.1 247.6 357.5 248.9 358.0 250.1 358.4 251.3 358.7 252.5 359.1 253.7 359.4 254.9 359.7 256.1 359.9 257.4 360.2 258.6 360.4 259.8 360.6 261.0 360.8 262.2 361.0 263.4 361.1 264.6 361.3 265.9 361.4 267.1 361.6 268.3 361.7 269.5 361.8 270.7 361.9 271.9 362.1 273.1 362.2 274.4 362.2 275.6 362.3 276.8 362.4 278.0 362.5 279.2 362.6 280.4 362.6 281.6 362.7 282.9 362.8 284.1 362.8 285.3 362.9 286.5 363.0 287.7 363.0 288.9 363.1 290.1 363.1 291.4 363.2 292.6 363.2 293.8 363.2 295.0 363.3 296.2 363.3 297.4 363.4 298.6 363.4 299.9 363.4 301.1 363.5 302.3 363.5 303.5 363.5 304.7 363.5 305.9 363.6 307.1 363.6 308.4 363.6 309.6 363.6 310.8 363.7 312.0 363.7 313.2 363.7 314.4 363.7 315.6 363.8 316.9 363.8 318.1 363.8 319.3 363.8 320.5 363.8 321.7 363.9 322.9 363.9 324.1 363.9 325.4 363.9 326.6 363.9 327.8 363.9 329.0 363.9 330.2 364.0 331.4 364.0 332.6 364.0 333.9 364.0 335.1 364.0 336.3 364.0 337.5 364.0 338.7 364.0 339.9 364.1 341.1 364.1 342.4 364.1 343.6 364.1 344.8 364.1 346.0 364.1 347.2 364.1 348.4 364.1 349.6 364.1 350.9 364.1 352.1 364.1 353.3 364.2 354.5 364.2 355.7 364.2 356.9 364.2 358.1 364.2 359.4 364.2 360.6 364.2 361.8 364.2 363.0 364.2 364.2 364.2 365.4 364.2 366.6 364.2 367.9 364.2 369.1 364.2 370.3 364.2 371.5 364.3 372.7 364.3 373.9 364.3 375.1 364.3 376.4 364.3 377.6 364.3 378.8 364.3 380.0 364.3 381.2 364.3 382.4 364.3 383.6 364.3 384.9 364.3 386.1 364.3 387.3 364.3 388.5 364.3 389.7 364.3 390.9 364.3 392.1 364.3 393.4 364.3 394.6 364.3 395.8 364.3 397.0 364.3 398.2 364.3 399.4 364.3 400.6 364.4 401.9 364.4 403.1 364.4 404.3 364.4 405.5 364.4 406.7 364.4 407.9 364.4 409.1 364.4 410.4 364.4 411.6 364.4 412.8 364.4 414.0 364.4 415.2 364.4 416.4 364.4 417.6 364.4 418.9 364.4 420.1 364.4 421.3 364.4 422.5 364.4 423.7 364.4 424.9 364.4 426.1 364.4 427.4 364.4 428.6 364.4 429.8 364.4 431.0 364.4 432.2 364.4 433.4 364.4 434.6 364.4 435.9 364.4 437.1 364.4 438.3 364.4 439.5 364.4 440.7 364.4 441.9 364.4 443.1 364.4 444.4 364.4 445.6 364.4 446.8 364.4 448.0 364.4 449.2 364.4 450.4 364.4 451.6 364.4 452.9 364.4 454.1 364.5 455.3 364.5 456.5 364.5 457.7 364.5 458.9 364.5 460.1 364.5 461.4 364.5 462.6 364.5 463.8 364.5 465.0 364.5 466.2 364.5 467.4 364.5 468.6 364.5 469.9 364.5 471.1 364.5 472.3 364.5 473.5 364.5 474.7 364.5 475.9 364.5 477.1 364.5 478.4 364.5 479.6 364.5 480.8 364.5 482.0 364.5 483.2 364.5 484.4 364.5 485.6 364.5 486.9 364.5 488.1 364.5 489.3 364.5 490.5 364.5 491.7 364.5 492.9 364.5 494.1 364.5 495.4 364.5 496.6 364.5 497.8 364.5 499.0 364.5 500.2 364.5 501.4 364.5 502.6 364.5 503.9 364.5 505.1 364.5 506.3 364.5 507.5 364.5 508.7 364.5 509.9 364.5 511.1 364.5 512.4 364.5 513.6 364.5 514.8 364.5 516.0 364.5 517.2 364.5 518.4 364.5 519.6 364.5 520.9 364.5 522.1 364.5 523.3 364.5 524.5 364.5 525.7 364.5 526.9 364.5 528.1 364.5 529.4 364.5 530.6 364.5 531.8 364.5 533.0 364.5 534.2 364.5 535.4 364.5 536.6 364.5 537.9 364.5 539.1 364.5 540.3 364.5 541.5 364.5 542.7 364.5 543.9 364.5 545.1 364.5 546.4 364.5 547.6 364.5 548.8 364.5 550.0 364.5 551.2 364.5 552.4 364.5 553.6 364.5 554.9 364.5 556.1 364.5 557.3 364.5 558.5 364.5 559.7 364.5 560.9 364.5 562.1 364.5 563.4 364.5 564.6 364.5 565.8 364.5 567.0 364.5 568.2 364.5 569.4 364.5 570.6 364.5 571.9 364.5 573.1 364.5 574.3 364.5 575.5 364.5 576.7 364.5 577.9 364.5 579.1 364.5 580.4 364.5 581.6 364.5 582.8 364.5 584.0 364.5 585.2 364.5 586.4 364.5 587.6 364.5 588.9 364.5 590.1 364.5 591.3 364.5 592.5 364.5 593.7 364.5 594.9 364.5 596.1 364.5 597.4 364.5 598.6 364.5 599.8 364.5 601.0 364.5 602.2 364.5 603.4 364.5 604.6 364.5 605.9 364.5 607.1 364.5 608.3 364.5 609.5 364.5 610.7 364.5 611.9 364.5 613.1 364.5 614.4 364.5 615.6 364.5 616.8 364.5 618.0 364.5 619.2 364.5 620.4 364.5 621.6 364.5 622.9 364.5 624.1 364.5 625.3 364.5 626.5 364.5 627.7 364.6 628.9 364.6 630.1 364.6 631.4 364.6 632.6 364.6 633.8 364.6 635.0 364.6 636.2 364.6 637.4 364.6 638.6 364.6 639.9 364.6 641.1 364.6 642.3 364.6 643.5 364.6 644.7 364.6 645.9 364.6 647.1 364.6 648.4 364.6 649.6 364.6 650.8 364.6 652.0 364.6 653.2 364.6 654.4 364.6 655.6 364.6 656.9 364.6 658.1 364.6 659.3 364.6 660.5 364.6 661.7 364.6 662.9 364.6 664.1 364.6 665.4 364.6 666.6 364.6 667.8 364.6 669.0 364.6 670.2 364.6 671.4 364.6 672.6 364.6 673.9 364.6 675.1 364.6 676.3 364.6 677.5 364.6 678.7 364.6 679.9 364.6 681.1 364.6 682.4 364.6 683.6 364.6 684.8 364.6 686.0 364.6 687.2 364.6 688.4 364.6 689.6 364.6 690.9 364.6 692.1 364.6 693.3 364.6 694.5 364.6 695.7 364.6 696.9 364.6 698.1 364.6 699.4 364.6 700.6 364.6 701.8 364.6 703.0 364.6 704.2 364.6 705.4 364.6 706.6 364.6 707.9 364.6 709.1 364.6 710.3 364.6 711.5 364.6 712.7 364.6 713.9 364.6 715.1 364.6 716.4 364.6 717.6 364.6 718.8 364.6 720.0 364.6 721.2 364.6 722.4 364.6 723.6 364.6 724.9 364.6 726.1 364.6 727.3 364.6 728.5 364.6 729.7 364.6 730.9 364.6 732.1 364.6 733.4 364.6 734.6 364.6 735.8 364.6 737.0 364.6 738.2 364.6 739.4 364.6 740.6 364.6 741.9 364.6 743.1 364.6 744.3 364.6 745.5 364.6 746.7 364.6 747.9 364.6 749.1 364.6 750.4 364.6 751.6 364.6 752.8 364.6 754.0 364.6 755.2 364.6 756.4 364.6 757.6 364.6 758.9 364.6 760.1 364.6 761.3 364.6 762.5 364.6 763.7 364.6 764.9 364.6 766.1 364.6 767.4 364.6 768.6 364.6 769.8 364.6 771.0 364.6 772.2 364.6 773.4 364.6 774.6 364.6 775.9 364.6 777.1 364.6 778.3 364.6 779.5 364.6 780.7 364.6 781.9 364.6 783.1 364.6 784.4 364.6 785.6 364.6 786.8 364.6 788.0 364.6 789.2 364.6 790.4 364.6 791.6 364.6 792.9 364.6 794.1 364.6 795.3 364.6 796.5 364.6 797.7 364.6 798.9 364.6 800.1 364.6 801.4 364.6 802.6 364.6 803.8 364.6 805.0 364.6 806.2 364.6 807.4 364.6 808.6 364.6 809.9 364.6 811.1 364.6 812.3 364.6 813.5 364.6 814.7 364.6 815.9 364.6 817.1 364.6 818.4 364.6 819.6 364.6 820.8 364.6 822.0 364.6 823.2 364.6 824.4 364.6 825.6 364.6 826.9 364.6 828.1 364.6 829.3 364.6 830.5 364.6 831.7 364.6 832.9 364.6" fill="none" stroke="#00f000" stroke-width="3.6" stroke-linejoin="round"/><path d="M67.9 363.7 69.1 363.7 70.4 363.7 71.6 363.7 72.8 363.7 74.0 363.7 75.2 363.7 76.4 363.7 77.6 363.7 78.9 363.6 80.1 363.6 81.3 363.6 82.5 363.6 83.7 363.6 84.9 363.6 86.1 363.6 87.4 363.6 88.6 363.5 89.8 363.5 91.0 363.5 92.2 363.5 93.4 363.5 94.6 363.5 95.9 363.5 97.1 363.4 98.3 363.4 99.5 363.4 100.7 363.4 101.9 363.4 103.1 363.3 104.4 363.3 105.6 363.3 106.8 363.3 108.0 363.3 109.2 363.3 110.4 363.2 111.6 363.2 112.9 363.2 114.1 363.2 115.3 363.1 116.5 363.1 117.7 363.1 118.9 363.1 120.1 363.0 121.4 363.0 122.6 363.0 123.8 363.0 125.0 362.9 126.2 362.9 127.4 362.9 128.6 362.9 129.9 362.8 131.1 362.8 132.3 362.8 133.5 362.7 134.7 362.7 135.9 362.7 137.1 362.6 138.4 362.6 139.6 362.6 140.8 362.5 142.0 362.5 143.2 362.4 144.4 362.4 145.6 362.4 146.9 362.3 148.1 362.3 149.3 362.2 150.5 362.2 151.7 362.1 152.9 362.1 154.1 362.0 155.4 362.0 156.6 361.9 157.8 361.8 159.0 361.8 160.2 361.7 161.4 361.7 162.6 361.6 163.9 361.5 165.1 361.5 166.3 361.4 167.5 361.3 168.7 361.2 169.9 361.2 171.1 361.1 172.4 361.0 173.6 360.9 174.8 360.8 176.0 360.7 177.2 360.6 178.4 360.5 179.6 360.4 180.9 360.3 182.1 360.2 183.3 360.1 184.5 359.9 185.7 359.8 186.9 359.7 188.1 359.5 189.4 359.4 190.6 359.2 191.8 359.1 193.0 358.9 194.2 358.7 195.4 358.5 196.6 358.3 197.9 358.1 199.1 357.9 200.3 357.7 201.5 357.5 202.7 357.3 203.9 357.0 205.1 356.7 206.4 356.5 207.6 356.2 208.8 355.9 210.0 355.5 211.2 355.2 212.4 354.8 213.6 354.5 214.9 354.1 216.1 353.7 217.3 353.2 218.5 352.7 219.7 352.2 220.9 351.7 222.1 351.2 223.4 350.6 224.6 350.0 225.8 349.3 227.0 348.6 228.2 347.8 229.4 347.1 230.6 346.2 231.9 345.3 233.1 344.4 234.3 343.4 235.5 342.3 236.7 341.2 237.9 340.0 239.1 338.7 240.4 337.3 241.6 335.9 242.8 334.4 244.0 332.8 245.2 331.1 246.4 329.4 247.6 327.5 248.9 325.6 250.1 323.7 251.3 321.7 252.5 319.6 253.7 317.6 254.9 315.5 256.1 313.5 257.4 311.6 258.6 309.8 259.8 308.2 261.0 306.7 262.2 305.4 263.4 304.4 264.6 303.7 265.9 303.3 267.1 303.2 268.3 303.5 269.5 304.0 270.7 304.9 271.9 306.0 273.1 307.4 274.4 309.0 275.6 310.7 276.8 312.6 278.0 314.6 279.2 316.6 280.4 318.6 281.6 320.7 282.9 322.7 284.1 324.7 285.3 326.6 286.5 328.5 287.7 330.3 288.9 332.0 290.1 333.6 291.4 335.2 292.6 336.6 293.8 338.0 295.0 339.3 296.2 340.6 297.4 341.8 298.6 342.9 299.9 343.9 301.1 344.9 302.3 345.8 303.5 346.7 304.7 347.5 305.9 348.2 307.1 349.0 308.4 349.6 309.6 350.3 310.8 350.9 312.0 351.5 313.2 352.0 314.4 352.5 315.6 353.0 316.9 353.4 318.1 353.9 319.3 354.3 320.5 354.7 321.7 355.0 322.9 355.4 324.1 355.7 325.4 356.0 326.6 356.3 327.8 356.6 329.0 356.9 330.2 357.1 331.4 357.4 332.6 357.6 333.9 357.8 335.1 358.0 336.3 358.3 337.5 358.4 338.7 358.6 339.9 358.8 341.1 359.0 342.4 359.1 343.6 359.3 344.8 359.4 346.0 359.6 347.2 359.7 348.4 359.9 349.6 360.0 350.9 360.1 352.1 360.2 353.3 360.3 354.5 360.5 355.7 360.6 356.9 360.7 358.1 360.8 359.4 360.9 360.6 360.9 361.8 361.0 363.0 361.1 364.2 361.2 365.4 361.3 366.6 361.4 367.9 361.4 369.1 361.5 370.3 361.6 371.5 361.6 372.7 361.7 373.9 361.8 375.1 361.8 376.4 361.9 377.6 361.9 378.8 362.0 380.0 362.0 381.2 362.1 382.4 362.1 383.6 362.2 384.9 362.2 386.1 362.3 387.3 362.3 388.5 362.4 389.7 362.4 390.9 362.5 392.1 362.5 393.4 362.5 394.6 362.6 395.8 362.6 397.0 362.6 398.2 362.7 399.4 362.7 400.6 362.7 401.9 362.8 403.1 362.8 404.3 362.8 405.5 362.9 406.7 362.9 407.9 362.9 409.1 363.0 410.4 363.0 411.6 363.0 412.8 363.0 414.0 363.1 415.2 363.1 416.4 363.1 417.6 363.1 418.9 363.2 420.1 363.2 421.3 363.2 422.5 363.2 423.7 363.2 424.9 363.3 426.1 363.3 427.4 363.3 428.6 363.3 429.8 363.3 431.0 363.4 432.2 363.4 433.4 363.4 434.6 363.4 435.9 363.4 437.1 363.4 438.3 363.5 439.5 363.5 440.7 363.5 441.9 363.5 443.1 363.5 444.4 363.5 445.6 363.5 446.8 363.6 448.0 363.6 449.2 363.6 450.4 363.6 451.6 363.6 452.9 363.6 454.1 363.6 455.3 363.7 456.5 363.7 457.7 363.7 458.9 363.7 460.1 363.7 461.4 363.7 462.6 363.7 463.8 363.7 465.0 363.7 466.2 363.8 467.4 363.8 468.6 363.8 469.9 363.8 471.1 363.8 472.3 363.8 473.5 363.8 474.7 363.8 475.9 363.8 477.1 363.8 478.4 363.8 479.6 363.9 480.8 363.9 482.0 363.9 483.2 363.9 484.4 363.9 485.6 363.9 486.9 363.9 488.1 363.9 489.3 363.9 490.5 363.9 491.7 363.9 492.9 363.9 494.1 363.9 495.4 364.0 496.6 364.0 497.8 364.0 499.0 364.0 500.2 364.0 501.4 364.0 502.6 364.0 503.9 364.0 505.1 364.0 506.3 364.0 507.5 364.0 508.7 364.0 509.9 364.0 511.1 364.0 512.4 364.0 513.6 364.0 514.8 364.0 516.0 364.1 517.2 364.1 518.4 364.1 519.6 364.1 520.9 364.1 522.1 364.1 523.3 364.1 524.5 364.1 525.7 364.1 526.9 364.1 528.1 364.1 529.4 364.1 530.6 364.1 531.8 364.1 533.0 364.1 534.2 364.1 535.4 364.1 536.6 364.1 537.9 364.1 539.1 364.1 540.3 364.1 541.5 364.1 542.7 364.2 543.9 364.2 545.1 364.2 546.4 364.2 547.6 364.2 548.8 364.2 550.0 364.2 551.2 364.2 552.4 364.2 553.6 364.2 554.9 364.2 556.1 364.2 557.3 364.2 558.5 364.2 559.7 364.2 560.9 364.2 562.1 364.2 563.4 364.2 564.6 364.2 565.8 364.2 567.0 364.2 568.2 364.2 569.4 364.2 570.6 364.2 571.9 364.2 573.1 364.2 574.3 364.2 575.5 364.2 576.7 364.2 577.9 364.2 579.1 364.3 580.4 364.3 581.6 364.3 582.8 364.3 584.0 364.3 585.2 364.3 586.4 364.3 587.6 364.3 588.9 364.3 590.1 364.3 591.3 364.3 592.5 364.3 593.7 364.3 594.9 364.3 596.1 364.3 597.4 364.3 598.6 364.3 599.8 364.3 601.0 364.3 602.2 364.3 603.4 364.3 604.6 364.3 605.9 364.3 607.1 364.3 608.3 364.3 609.5 364.3 610.7 364.3 611.9 364.3 613.1 364.3 614.4 364.3 615.6 364.3 616.8 364.3 618.0 364.3 619.2 364.3 620.4 364.3 621.6 364.3 622.9 364.3 624.1 364.3 625.3 364.3 626.5 364.3 627.7 364.3 628.9 364.3 630.1 364.3 631.4 364.3 632.6 364.3 633.8 364.3 635.0 364.3 636.2 364.4 637.4 364.4 638.6 364.4 639.9 364.4 641.1 364.4 642.3 364.4 643.5 364.4 644.7 364.4 645.9 364.4 647.1 364.4 648.4 364.4 649.6 364.4 650.8 364.4 652.0 364.4 653.2 364.4 654.4 364.4 655.6 364.4 656.9 364.4 658.1 364.4 659.3 364.4 660.5 364.4 661.7 364.4 662.9 364.4 664.1 364.4 665.4 364.4 666.6 364.4 667.8 364.4 669.0 364.4 670.2 364.4 671.4 364.4 672.6 364.4 673.9 364.4 675.1 364.4 676.3 364.4 677.5 364.4 678.7 364.4 679.9 364.4 681.1 364.4 682.4 364.4 683.6 364.4 684.8 364.4 686.0 364.4 687.2 364.4 688.4 364.4 689.6 364.4 690.9 364.4 692.1 364.4 693.3 364.4 694.5 364.4 695.7 364.4 696.9 364.4 698.1 364.4 699.4 364.4 700.6 364.4 701.8 364.4 703.0 364.4 704.2 364.4 705.4 364.4 706.6 364.4 707.9 364.4 709.1 364.4 710.3 364.4 711.5 364.4 712.7 364.4 713.9 364.4 715.1 364.4 716.4 364.4 717.6 364.4 718.8 364.4 720.0 364.4 721.2 364.4 722.4 364.4 723.6 364.4 724.9 364.4 726.1 364.4 727.3 364.4 728.5 364.4 729.7 364.4 730.9 364.4 732.1 364.4 733.4 364.4 734.6 364.4 735.8 364.4 737.0 364.4 738.2 364.4 739.4 364.4 740.6 364.4 741.9 364.4 743.1 364.4 744.3 364.5 745.5 364.5 746.7 364.5 747.9 364.5 749.1 364.5 750.4 364.5 751.6 364.5 752.8 364.5 754.0 364.5 755.2 364.5 756.4 364.5 757.6 364.5 758.9 364.5 760.1 364.5 761.3 364.5 762.5 364.5 763.7 364.5 764.9 364.5 766.1 364.5 767.4 364.5 768.6 364.5 769.8 364.5 771.0 364.5 772.2 364.5 773.4 364.5 774.6 364.5 775.9 364.5 777.1 364.5 778.3 364.5 779.5 364.5 780.7 364.5 781.9 364.5 783.1 364.5 784.4 364.5 785.6 364.5 786.8 364.5 788.0 364.5 789.2 364.5 790.4 364.5 791.6 364.5 792.9 364.5 794.1 364.5 795.3 364.5 796.5 364.5 797.7 364.5 798.9 364.5 800.1 364.5 801.4 364.5 802.6 364.5 803.8 364.5 805.0 364.5 806.2 364.5 807.4 364.5 808.6 364.5 809.9 364.5 811.1 364.5 812.3 364.5 813.5 364.5 814.7 364.5 815.9 364.5 817.1 364.5 818.4 364.5 819.6 364.5 820.8 364.5 822.0 364.5 823.2 364.5 824.4 364.5 825.6 364.5 826.9 364.5 828.1 364.5 829.3 364.5 830.5 364.5 831.7 364.5 832.9 364.5" fill="none" stroke="#0000ff" stroke-width="3.6" stroke-linejoin="round"/><path d="M67.9 364.4 69.1 364.4 70.4 364.4 71.6 364.4 72.8 364.4 74.0 364.4 75.2 364.4 76.4 364.4 77.6 364.4 78.9 364.4 80.1 364.4 81.3 364.4 82.5 364.4 83.7 364.4 84.9 364.4 86.1 364.4 87.4 364.4 88.6 364.4 89.8 364.3 91.0 364.3 92.2 364.3 93.4 364.3 94.6 364.3 95.9 364.3 97.1 364.3 98.3 364.3 99.5 364.3 100.7 364.3 101.9 364.3 103.1 364.3 104.4 364.3 105.6 364.3 106.8 364.3 108.0 364.3 109.2 364.3 110.4 364.3 111.6 364.3 112.9 364.3 114.1 364.3 115.3 364.3 116.5 364.3 117.7 364.3 118.9 364.3 120.1 364.3 121.4 364.3 122.6 364.3 123.8 364.3 125.0 364.2 126.2 364.2 127.4 364.2 128.6 364.2 129.9 364.2 131.1 364.2 132.3 364.2 133.5 364.2 134.7 364.2 135.9 364.2 137.1 364.2 138.4 364.2 139.6 364.2 140.8 364.2 142.0 364.2 143.2 364.2 144.4 364.2 145.6 364.2 146.9 364.2 148.1 364.1 149.3 364.1 150.5 364.1 151.7 364.1 152.9 364.1 154.1 364.1 155.4 364.1 156.6 364.1 157.8 364.1 159.0 364.1 160.2 364.1 161.4 364.1 162.6 364.1 163.9 364.0 165.1 364.0 166.3 364.0 167.5 364.0 168.7 364.0 169.9 364.0 171.1 364.0 172.4 364.0 173.6 364.0 174.8 364.0 176.0 363.9 177.2 363.9 178.4 363.9 179.6 363.9 180.9 363.9 182.1 363.9 183.3 363.9 184.5 363.8 185.7 363.8 186.9 363.8 188.1 363.8 189.4 363.8 190.6 363.8 191.8 363.7 193.0 363.7 194.2 363.7 195.4 363.7 196.6 363.6 197.9 363.6 199.1 363.6 200.3 363.6 201.5 363.5 202.7 363.5 203.9 363.5 205.1 363.4 206.4 363.4 207.6 363.3 208.8 363.3 210.0 363.2 211.2 363.2 212.4 363.1 213.6 363.0 214.9 363.0 216.1 362.9 217.3 362.8 218.5 362.7 219.7 362.6 220.9 362.5 222.1 362.4 223.4 362.3 224.6 362.1 225.8 362.0 227.0 361.8 228.2 361.7 229.4 361.5 230.6 361.3 231.9 361.1 233.1 360.8 234.3 360.6 235.5 360.4 236.7 360.1 237.9 359.8 239.1 359.5 240.4 359.1 241.6 358.8 242.8 358.4 244.0 358.0 245.2 357.6 246.4 357.2 247.6 356.7 248.9 356.2 250.1 355.7 251.3 355.2 252.5 354.6 253.7 354.0 254.9 353.4 256.1 352.7 257.4 352.1 258.6 351.4 259.8 350.6 261.0 349.9 262.2 349.1 263.4 348.3 264.6 347.5 265.9 346.6 267.1 345.8 268.3 344.9 269.5 344.0 270.7 343.0 271.9 342.1 273.1 341.1 274.4 340.2 275.6 339.2 276.8 338.2 278.0 337.2 279.2 336.2 280.4 335.2 281.6 334.2 282.9 333.3 284.1 332.3 285.3 331.4 286.5 330.4 287.7 329.5 288.9 328.6 290.1 327.8 291.4 326.9 292.6 326.2 293.8 325.4 295.0 324.7 296.2 324.0 297.4 323.4 298.6 322.9 299.9 322.4 301.1 322.0 302.3 321.6 303.5 321.3 304.7 321.1 305.9 320.9 307.1 320.8 308.4 320.8 309.6 320.9 310.8 321.0 312.0 321.2 313.2 321.4 314.4 321.8 315.6 322.2 316.9 322.6 318.1 323.1 319.3 323.7 320.5 324.3 321.7 325.0 322.9 325.7 324.1 326.5 325.4 327.3 326.6 328.1 327.8 329.0 329.0 329.9 330.2 330.8 331.4 331.8 332.6 332.7 333.9 333.7 335.1 334.7 336.3 335.7 337.5 336.7 338.7 337.7 339.9 338.6 341.1 339.6 342.4 340.6 343.6 341.6 344.8 342.5 346.0 343.4 347.2 344.4 348.4 345.3 349.6 346.2 350.9 347.0 352.1 347.9 353.3 348.7 354.5 349.5 355.7 350.2 356.9 351.0 358.1 351.7 359.4 352.4 360.6 353.0 361.8 353.7 363.0 354.3 364.2 354.9 365.4 355.4 366.6 355.9 367.9 356.4 369.1 356.9 370.3 357.4 371.5 357.8 372.7 358.2 373.9 358.6 375.1 359.0 376.4 359.3 377.6 359.6 378.8 359.9 380.0 360.2 381.2 360.5 382.4 360.7 383.6 360.9 384.9 361.2 386.1 361.4 387.3 361.6 388.5 361.7 389.7 361.9 390.9 362.0 392.1 362.2 393.4 362.3 394.6 362.4 395.8 362.5 397.0 362.6 398.2 362.7 399.4 362.8 400.6 362.9 401.9 363.0 403.1 363.1 404.3 363.1 405.5 363.2 406.7 363.2 407.9 363.3 409.1 363.3 410.4 363.4 411.6 363.4 412.8 363.5 414.0 363.5 415.2 363.5 416.4 363.6 417.6 363.6 418.9 363.6 420.1 363.7 421.3 363.7 422.5 363.7 423.7 363.7 424.9 363.7 426.1 363.8 427.4 363.8 428.6 363.8 429.8 363.8 431.0 363.8 432.2 363.9 433.4 363.9 434.6 363.9 435.9 363.9 437.1 363.9 438.3 363.9 439.5 363.9 440.7 363.9 441.9 364.0 443.1 364.0 444.4 364.0 445.6 364.0 446.8 364.0 448.0 364.0 449.2 364.0 450.4 364.0 451.6 364.0 452.9 364.0 454.1 364.1 455.3 364.1 456.5 364.1 457.7 364.1 458.9 364.1 460.1 364.1 461.4 364.1 462.6 364.1 463.8 364.1 465.0 364.1 466.2 364.1 467.4 364.1 468.6 364.1 469.9 364.2 471.1 364.2 472.3 364.2 473.5 364.2 474.7 364.2 475.9 364.2 477.1 364.2 478.4 364.2 479.6 364.2 480.8 364.2 482.0 364.2 483.2 364.2 484.4 364.2 485.6 364.2 486.9 364.2 488.1 364.2 489.3 364.2 490.5 364.2 491.7 364.3 492.9 364.3 494.1 364.3 495.4 364.3 496.6 364.3 497.8 364.3 499.0 364.3 500.2 364.3 501.4 364.3 502.6 364.3 503.9 364.3 505.1 364.3 506.3 364.3 507.5 364.3 508.7 364.3 509.9 364.3 511.1 364.3 512.4 364.3 513.6 364.3 514.8 364.3 516.0 364.3 517.2 364.3 518.4 364.3 519.6 364.3 520.9 364.3 522.1 364.3 523.3 364.3 524.5 364.3 525.7 364.3 526.9 364.4 528.1 364.4 529.4 364.4 530.6 364.4 531.8 364.4 533.0 364.4 534.2 364.4 535.4 364.4 536.6 364.4 537.9 364.4 539.1 364.4 540.3 364.4 541.5 364.4 542.7 364.4 543.9 364.4 545.1 364.4 546.4 364.4 547.6 364.4 548.8 364.4 550.0 364.4 551.2 364.4 552.4 364.4 553.6 364.4 554.9 364.4 556.1 364.4 557.3 364.4 558.5 364.4 559.7 364.4 560.9 364.4 562.1 364.4 563.4 364.4 564.6 364.4 565.8 364.4 567.0 364.4 568.2 364.4 569.4 364.4 570.6 364.4 571.9 364.4 573.1 364.4 574.3 364.4 575.5 364.4 576.7 364.4 577.9 364.4 579.1 364.4 580.4 364.4 581.6 364.4 582.8 364.4 584.0 364.4 585.2 364.4 586.4 364.4 587.6 364.4 588.9 364.4 590.1 364.4 591.3 364.4 592.5 364.5 593.7 364.5 594.9 364.5 596.1 364.5 597.4 364.5 598.6 364.5 599.8 364.5 601.0 364.5 602.2 364.5 603.4 364.5 604.6 364.5 605.9 364.5 607.1 364.5 608.3 364.5 609.5 364.5 610.7 364.5 611.9 364.5 613.1 364.5 614.4 364.5 615.6 364.5 616.8 364.5 618.0 364.5 619.2 364.5 620.4 364.5 621.6 364.5 622.9 364.5 624.1 364.5 625.3 364.5 626.5 364.5 627.7 364.5 628.9 364.5 630.1 364.5 631.4 364.5 632.6 364.5 633.8 364.5 635.0 364.5 636.2 364.5 637.4 364.5 638.6 364.5 639.9 364.5 641.1 364.5 642.3 364.5 643.5 364.5 644.7 364.5 645.9 364.5 647.1 364.5 648.4 364.5 649.6 364.5 650.8 364.5 652.0 364.5 653.2 364.5 654.4 364.5 655.6 364.5 656.9 364.5 658.1 364.5 659.3 364.5 660.5 364.5 661.7 364.5 662.9 364.5 664.1 364.5 665.4 364.5 666.6 364.5 667.8 364.5 669.0 364.5 670.2 364.5 671.4 364.5 672.6 364.5 673.9 364.5 675.1 364.5 676.3 364.5 677.5 364.5 678.7 364.5 679.9 364.5 681.1 364.5 682.4 364.5 683.6 364.5 684.8 364.5 686.0 364.5 687.2 364.5 688.4 364.5 689.6 364.5 690.9 364.5 692.1 364.5 693.3 364.5 694.5 364.5 695.7 364.5 696.9 364.5 698.1 364.5 699.4 364.5 700.6 364.5 701.8 364.5 703.0 364.5 704.2 364.5 705.4 364.5 706.6 364.5 707.9 364.5 709.1 364.5 710.3 364.5 711.5 364.5 712.7 364.5 713.9 364.5 715.1 364.5 716.4 364.5 717.6 364.5 718.8 364.5 720.0 364.5 721.2 364.5 722.4 364.5 723.6 364.5 724.9 364.5 726.1 364.5 727.3 364.5 728.5 364.5 729.7 364.5 730.9 364.5 732.1 364.5 733.4 364.5 734.6 364.5 735.8 364.5 737.0 364.5 738.2 364.5 739.4 364.5 740.6 364.5 741.9 364.5 743.1 364.5 744.3 364.5 745.5 364.5 746.7 364.5 747.9 364.5 749.1 364.5 750.4 364.5 751.6 364.5 752.8 364.5 754.0 364.5 755.2 364.5 756.4 364.5 757.6 364.5 758.9 364.5 760.1 364.5 761.3 364.5 762.5 364.5 763.7 364.5 764.9 364.5 766.1 364.5 767.4 364.5 768.6 364.5 769.8 364.5 771.0 364.5 772.2 364.5 773.4 364.5 774.6 364.5 775.9 364.5 777.1 364.5 778.3 364.5 779.5 364.5 780.7 364.5 781.9 364.5 783.1 364.5 784.4 364.5 785.6 364.5 786.8 364.5 788.0 364.5 789.2 364.5 790.4 364.5 791.6 364.5 792.9 364.5 794.1 364.5 795.3 364.5 796.5 364.5 797.7 364.5 798.9 364.5 800.1 364.5 801.4 364.5 802.6 364.6 803.8 364.6 805.0 364.6 806.2 364.6 807.4 364.6 808.6 364.6 809.9 364.6 811.1 364.6 812.3 364.6 813.5 364.6 814.7 364.6 815.9 364.6 817.1 364.6 818.4 364.6 819.6 364.6 820.8 364.6 822.0 364.6 823.2 364.6 824.4 364.6 825.6 364.6 826.9 364.6 828.1 364.6 829.3 364.6 830.5 364.6 831.7 364.6 832.9 364.6" fill="none" stroke="#00ffff" stroke-width="3.6" stroke-linejoin="round"/><path d="M67.9 364.6 69.1 364.6 70.4 364.6 71.6 364.6 72.8 364.6 74.0 364.6 75.2 364.6 76.4 364.6 77.6 364.6 78.9 364.6 80.1 364.6 81.3 364.6 82.5 364.6 83.7 364.6 84.9 364.6 86.1 364.6 87.4 364.6 88.6 364.6 89.8 364.6 91.0 364.6 92.2 364.6 93.4 364.6 94.6 364.6 95.9 364.6 97.1 364.6 98.3 364.6 99.5 364.6 100.7 364.6 101.9 364.6 103.1 364.6 104.4 364.6 105.6 364.6 106.8 364.6 108.0 364.6 109.2 364.6 110.4 364.6 111.6 364.6 112.9 364.6 114.1 364.6 115.3 364.6 116.5 364.6 117.7 364.6 118.9 364.6 120.1 364.6 121.4 364.6 122.6 364.6 123.8 364.6 125.0 364.6 126.2 364.6 127.4 364.6 128.6 364.6 129.9 364.6 131.1 364.6 132.3 364.6 133.5 364.6 134.7 364.6 135.9 364.6 137.1 364.6 138.4 364.6 139.6 364.6 140.8 364.6 142.0 364.6 143.2 364.6 144.4 364.6 145.6 364.6 146.9 364.6 148.1 364.6 149.3 364.6 150.5 364.6 151.7 364.6 152.9 364.6 154.1 364.6 155.4 364.6 156.6 364.6 157.8 364.6 159.0 364.6 160.2 364.6 161.4 364.6 162.6 364.6 163.9 364.6 165.1 364.6 166.3 364.6 167.5 364.6 168.7 364.6 169.9 364.6 171.1 364.6 172.4 364.6 173.6 364.6 174.8 364.6 176.0 364.6 177.2 364.6 178.4 364.6 179.6 364.6 180.9 364.6 182.1 364.6 183.3 364.6 184.5 364.6 185.7 364.6 186.9 364.6 188.1 364.6 189.4 364.6 190.6 364.6 191.8 364.6 193.0 364.6 194.2 364.6 195.4 364.6 196.6 364.6 197.9 364.6 199.1 364.6 200.3 364.6 201.5 364.6 202.7 364.6 203.9 364.6 205.1 364.6 206.4 364.6 207.6 364.6 208.8 364.6 210.0 364.6 211.2 364.6 212.4 364.6 213.6 364.6 214.9 364.6 216.1 364.6 217.3 364.6 218.5 364.6 219.7 364.6 220.9 364.6 222.1 364.6 223.4 364.6 224.6 364.6 225.8 364.6 227.0 364.6 228.2 364.6 229.4 364.6 230.6 364.6 231.9 364.6 233.1 364.6 234.3 364.6 235.5 364.6 236.7 364.6 237.9 364.6 239.1 364.6 240.4 364.6 241.6 364.6 242.8 364.6 244.0 364.6 245.2 364.6 246.4 364.6 247.6 364.6 248.9 364.6 250.1 364.6 251.3 364.6 252.5 364.6 253.7 364.6 254.9 364.6 256.1 364.6 257.4 364.6 258.6 364.6 259.8 364.6 261.0 364.6 262.2 364.6 263.4 364.6 264.6 364.6 265.9 364.6 267.1 364.6 268.3 364.6 269.5 364.6 270.7 364.6 271.9 364.6 273.1 364.6 274.4 364.6 275.6 364.6 276.8 364.6 278.0 364.6 279.2 364.6 280.4 364.6 281.6 364.6 282.9 364.6 284.1 364.6 285.3 364.6 286.5 364.6 287.7 364.6 288.9 364.6 290.1 364.6 291.4 364.6 292.6 364.6 293.8 364.6 295.0 364.6 296.2 364.6 297.4 364.6 298.6 364.6 299.9 364.6 301.1 364.6 302.3 364.5 303.5 364.5 304.7 364.5 305.9 364.5 307.1 364.5 308.4 364.5 309.6 364.5 310.8 364.5 312.0 364.5 313.2 364.5 314.4 364.5 315.6 364.5 316.9 364.4 318.1 364.4 319.3 364.4 320.5 364.4 321.7 364.3 322.9 364.3 324.1 364.2 325.4 364.2 326.6 364.1 327.8 364.1 329.0 364.0 330.2 363.9 331.4 363.8 332.6 363.7 333.9 363.5 335.1 363.4 336.3 363.2 337.5 363.0 338.7 362.8 339.9 362.5 341.1 362.2 342.4 361.9 343.6 361.6 344.8 361.2 346.0 360.8 347.2 360.3 348.4 359.8 349.6 359.2 350.9 358.6 352.1 358.0 353.3 357.3 354.5 356.5 355.7 355.7 356.9 354.8 358.1 353.9 359.4 352.9 360.6 351.8 361.8 350.7 363.0 349.5 364.2 348.3 365.4 347.0 366.6 345.6 367.9 344.2 369.1 342.8 370.3 341.3 371.5 339.8 372.7 338.2 373.9 336.7 375.1 335.1 376.4 333.5 377.6 331.9 378.8 330.3 380.0 328.7 381.2 327.1 382.4 325.6 383.6 324.1 384.9 322.7 386.1 321.3 387.3 320.1 388.5 318.9 389.7 317.8 390.9 316.7 392.1 315.8 393.4 315.1 394.6 314.4 395.8 313.8 397.0 313.4 398.2 313.1 399.4 313.0 400.6 313.0 401.9 313.1 403.1 313.4 404.3 313.8 405.5 314.3 406.7 315.0 407.9 315.7 409.1 316.6 410.4 317.6 411.6 318.7 412.8 319.9 414.0 321.2 415.2 322.6 416.4 324.0 417.6 325.4 418.9 327.0 420.1 328.5 421.3 330.1 422.5 331.7 423.7 333.3 424.9 334.9 426.1 336.5 427.4 338.1 428.6 339.6 429.8 341.1 431.0 342.6 432.2 344.1 433.4 345.5 434.6 346.8 435.9 348.1 437.1 349.4 438.3 350.6 439.5 351.7 440.7 352.8 441.9 353.8 443.1 354.7 444.4 355.6 445.6 356.4 446.8 357.2 448.0 357.9 449.2 358.6 450.4 359.2 451.6 359.7 452.9 360.3 454.1 360.7 455.3 361.1 456.5 361.5 457.7 361.9 458.9 362.2 460.1 362.5 461.4 362.7 462.6 363.0 463.8 363.2 465.0 363.3 466.2 363.5 467.4 363.6 468.6 363.8 469.9 363.9 471.1 364.0 472.3 364.0 473.5 364.1 474.7 364.2 475.9 364.2 477.1 364.3 478.4 364.3 479.6 364.4 480.8 364.4 482.0 364.4 483.2 364.4 484.4 364.5 485.6 364.5 486.9 364.5 488.1 364.5 489.3 364.5 490.5 364.5 491.7 364.5 492.9 364.5 494.1 364.5 495.4 364.5 496.6 364.5 497.8 364.5 499.0 364.6 500.2 364.6 501.4 364.6 502.6 364.6 503.9 364.6 505.1 364.6 506.3 364.6 507.5 364.6 508.7 364.6 509.9 364.6 511.1 364.6 512.4 364.6 513.6 364.6 514.8 364.6 516.0 364.6 517.2 364.6 518.4 364.6 519.6 364.6 520.9 364.6 522.1 364.6 523.3 364.6 524.5 364.6 525.7 364.6 526.9 364.6 528.1 364.6 529.4 364.6 530.6 364.6 531.8 364.6 533.0 364.6 534.2 364.6 535.4 364.6 536.6 364.6 537.9 364.6 539.1 364.6 540.3 364.6 541.5 364.6 542.7 364.6 543.9 364.6 545.1 364.6 546.4 364.6 547.6 364.6 548.8 364.6 550.0 364.6 551.2 364.6 552.4 364.6 553.6 364.6 554.9 364.6 556.1 364.6 557.3 364.6 558.5 364.6 559.7 364.6 560.9 364.6 562.1 364.6 563.4 364.6 564.6 364.6 565.8 364.6 567.0 364.6 568.2 364.6 569.4 364.6 570.6 364.6 571.9 364.6 573.1 364.6 574.3 364.6 575.5 364.6 576.7 364.6 577.9 364.6 579.1 364.6 580.4 364.6 581.6 364.6 582.8 364.6 584.0 364.6 585.2 364.6 586.4 364.6 587.6 364.6 588.9 364.6 590.1 364.6 591.3 364.6 592.5 364.6 593.7 364.6 594.9 364.6 596.1 364.6 597.4 364.6 598.6 364.6 599.8 364.6 601.0 364.6 602.2 364.6 603.4 364.6 604.6 364.6 605.9 364.6 607.1 364.6 608.3 364.6 609.5 364.6 610.7 364.6 611.9 364.6 613.1 364.6 614.4 364.6 615.6 364.6 616.8 364.6 618.0 364.6 619.2 364.6 620.4 364.6 621.6 364.6 622.9 364.6 624.1 364.6 625.3 364.6 626.5 364.6 627.7 364.6 628.9 364.6 630.1 364.6 631.4 364.6 632.6 364.6 633.8 364.6 635.0 364.6 636.2 364.6 637.4 364.6 638.6 364.6 639.9 364.6 641.1 364.6 642.3 364.6 643.5 364.6 644.7 364.6 645.9 364.6 647.1 364.6 648.4 364.6 649.6 364.6 650.8 364.6 652.0 364.6 653.2 364.6 654.4 364.6 655.6 364.6 656.9 364.6 658.1 364.6 659.3 364.6 660.5 364.6 661.7 364.6 662.9 364.6 664.1 364.6 665.4 364.6 666.6 364.6 667.8 364.6 669.0 364.6 670.2 364.6 671.4 364.6 672.6 364.6 673.9 364.6 675.1 364.6 676.3 364.6 677.5 364.6 678.7 364.6 679.9 364.6 681.1 364.6 682.4 364.6 683.6 364.6 684.8 364.6 686.0 364.6 687.2 364.6 688.4 364.6 689.6 364.6 690.9 364.6 692.1 364.6 693.3 364.6 694.5 364.6 695.7 364.6 696.9 364.6 698.1 364.6 699.4 364.6 700.6 364.6 701.8 364.6 703.0 364.6 704.2 364.6 705.4 364.6 706.6 364.6 707.9 364.6 709.1 364.6 710.3 364.6 711.5 364.6 712.7 364.6 713.9 364.6 715.1 364.6 716.4 364.6 717.6 364.6 718.8 364.6 720.0 364.6 721.2 364.6 722.4 364.6 723.6 364.6 724.9 364.6 726.1 364.6 727.3 364.6 728.5 364.6 729.7 364.6 730.9 364.6 732.1 364.6 733.4 364.6 734.6 364.6 735.8 364.6 737.0 364.6 738.2 364.6 739.4 364.6 740.6 364.6 741.9 364.6 743.1 364.6 744.3 364.6 745.5 364.6 746.7 364.6 747.9 364.6 749.1 364.6 750.4 364.6 751.6 364.6 752.8 364.6 754.0 364.6 755.2 364.6 756.4 364.6 757.6 364.6 758.9 364.6 760.1 364.6 761.3 364.6 762.5 364.6 763.7 364.6 764.9 364.6 766.1 364.6 767.4 364.6 768.6 364.6 769.8 364.6 771.0 364.6 772.2 364.6 773.4 364.6 774.6 364.6 775.9 364.6 777.1 364.6 778.3 364.6 779.5 364.6 780.7 364.6 781.9 364.6 783.1 364.6 784.4 364.6 785.6 364.6 786.8 364.6 788.0 364.6 789.2 364.6 790.4 364.6 791.6 364.6 792.9 364.6 794.1 364.6 795.3 364.6 796.5 364.6 797.7 364.6 798.9 364.6 800.1 364.6 801.4 364.6 802.6 364.6 803.8 364.6 805.0 364.6 806.2 364.6 807.4 364.6 808.6 364.6 809.9 364.6 811.1 364.6 812.3 364.6 813.5 364.6 814.7 364.6 815.9 364.6 817.1 364.6 818.4 364.6 819.6 364.6 820.8 364.6 822.0 364.6 823.2 364.6 824.4 364.6 825.6 364.6 826.9 364.6 828.1 364.6 829.3 364.6 830.5 364.6 831.7 364.6 832.9 364.6" fill="none" stroke="#ff00ff" stroke-width="3.6" stroke-linejoin="round"/><path d="M67.9 364.6 69.1 364.6 70.4 364.6 71.6 364.6 72.8 364.6 74.0 364.6 75.2 364.6 76.4 364.6 77.6 364.6 78.9 364.6 80.1 364.6 81.3 364.6 82.5 364.6 83.7 364.6 84.9 364.6 86.1 364.6 87.4 364.6 88.6 364.6 89.8 364.6 91.0 364.6 92.2 364.6 93.4 364.6 94.6 364.6 95.9 364.6 97.1 364.6 98.3 364.6 99.5 364.6 100.7 364.6 101.9 364.6 103.1 364.6 104.4 364.6 105.6 364.6 106.8 364.6 108.0 364.6 109.2 364.6 110.4 364.6 111.6 364.6 112.9 364.6 114.1 364.6 115.3 364.6 116.5 364.6 117.7 364.6 118.9 364.6 120.1 364.6 121.4 364.6 122.6 364.6 123.8 364.6 125.0 364.6 126.2 364.6 127.4 364.6 128.6 364.6 129.9 364.6 131.1 364.6 132.3 364.6 133.5 364.6 134.7 364.6 135.9 364.6 137.1 364.6 138.4 364.6 139.6 364.6 140.8 364.6 142.0 364.6 143.2 364.6 144.4 364.6 145.6 364.6 146.9 364.6 148.1 364.6 149.3 364.6 150.5 364.6 151.7 364.6 152.9 364.6 154.1 364.6 155.4 364.6 156.6 364.6 157.8 364.6 159.0 364.6 160.2 364.6 161.4 364.6 162.6 364.6 163.9 364.6 165.1 364.6 166.3 364.6 167.5 364.6 168.7 364.6 169.9 364.6 171.1 364.6 172.4 364.6 173.6 364.6 174.8 364.6 176.0 364.6 177.2 364.6 178.4 364.6 179.6 364.6 180.9 364.6 182.1 364.6 183.3 364.6 184.5 364.6 185.7 364.6 186.9 364.6 188.1 364.6 189.4 364.6 190.6 364.6 191.8 364.6 193.0 364.6 194.2 364.6 195.4 364.6 196.6 364.6 197.9 364.6 199.1 364.6 200.3 364.6 201.5 364.6 202.7 364.6 203.9 364.6 205.1 364.6 206.4 364.6 207.6 364.6 208.8 364.6 210.0 364.6 211.2 364.6 212.4 364.6 213.6 364.6 214.9 364.6 216.1 364.6 217.3 364.6 218.5 364.6 219.7 364.6 220.9 364.6 222.1 364.6 223.4 364.6 224.6 364.6 225.8 364.6 227.0 364.6 228.2 364.6 229.4 364.6 230.6 364.6 231.9 364.6 233.1 364.6 234.3 364.6 235.5 364.6 236.7 364.6 237.9 364.6 239.1 364.6 240.4 364.6 241.6 364.6 242.8 364.6 244.0 364.6 245.2 364.6 246.4 364.6 247.6 364.6 248.9 364.6 250.1 364.6 251.3 364.6 252.5 364.6 253.7 364.6 254.9 364.6 256.1 364.6 257.4 364.6 258.6 364.6 259.8 364.6 261.0 364.6 262.2 364.6 263.4 364.6 264.6 364.6 265.9 364.6 267.1 364.6 268.3 364.6 269.5 364.6 270.7 364.6 271.9 364.6 273.1 364.6 274.4 364.6 275.6 364.6 276.8 364.6 278.0 364.6 279.2 364.6 280.4 364.6 281.6 364.6 282.9 364.6 284.1 364.6 285.3 364.6 286.5 364.6 287.7 364.6 288.9 364.6 290.1 364.6 291.4 364.6 292.6 364.6 293.8 364.6 295.0 364.6 296.2 364.6 297.4 364.6 298.6 364.6 299.9 364.6 301.1 364.6 302.3 364.6 303.5 364.6 304.7 364.6 305.9 364.6 307.1 364.6 308.4 364.6 309.6 364.6 310.8 364.6 312.0 364.6 313.2 364.6 314.4 364.6 315.6 364.6 316.9 364.6 318.1 364.6 319.3 364.6 320.5 364.6 321.7 364.6 322.9 364.6 324.1 364.6 325.4 364.6 326.6 364.6 327.8 364.6 329.0 364.6 330.2 364.6 331.4 364.6 332.6 364.6 333.9 364.6 335.1 364.6 336.3 364.6 337.5 364.6 338.7 364.6 339.9 364.6 341.1 364.6 342.4 364.6 343.6 364.6 344.8 364.6 346.0 364.6 347.2 364.6 348.4 364.6 349.6 364.6 350.9 364.6 352.1 364.6 353.3 364.6 354.5 364.6 355.7 364.6 356.9 364.6 358.1 364.6 359.4 364.6 360.6 364.6 361.8 364.6 363.0 364.6 364.2 364.6 365.4 364.6 366.6 364.6 367.9 364.6 369.1 364.6 370.3 364.6 371.5 364.6 372.7 364.6 373.9 364.6 375.1 364.6 376.4 364.6 377.6 364.6 378.8 364.6 380.0 364.6 381.2 364.6 382.4 364.6 383.6 364.6 384.9 364.5 386.1 364.5 387.3 364.5 388.5 364.5 389.7 364.4 390.9 364.4 392.1 364.3 393.4 364.3 394.6 364.2 395.8 364.1 397.0 364.0 398.2 363.8 399.4 363.6 400.6 363.4 401.9 363.1 403.1 362.8 404.3 362.5 405.5 362.1 406.7 361.6 407.9 361.0 409.1 360.4 410.4 359.7 411.6 358.8 412.8 357.9 414.0 356.9 415.2 355.7 416.4 354.4 417.6 353.0 418.9 351.5 420.1 349.9 421.3 348.1 422.5 346.2 423.7 344.2 424.9 342.1 426.1 339.9 427.4 337.6 428.6 335.3 429.8 332.9 431.0 330.5 432.2 328.1 433.4 325.7 434.6 323.4 435.9 321.2 437.1 319.1 438.3 317.1 439.5 315.3 440.7 313.7 441.9 312.2 443.1 311.1 444.4 310.1 445.6 309.5 446.8 309.1 448.0 309.0 449.2 309.1 450.4 309.6 451.6 310.3 452.9 311.3 454.1 312.5 455.3 314.0 456.5 315.7 457.7 317.5 458.9 319.5 460.1 321.7 461.4 323.9 462.6 326.3 463.8 328.6 465.0 331.0 466.2 333.4 467.4 335.8 468.6 338.1 469.9 340.4 471.1 342.6 472.3 344.7 473.5 346.6 474.7 348.5 475.9 350.3 477.1 351.9 478.4 353.4 479.6 354.7 480.8 356.0 482.0 357.1 483.2 358.1 484.4 359.0 485.6 359.8 486.9 360.5 488.1 361.2 489.3 361.7 490.5 362.2 491.7 362.6 492.9 362.9 494.1 363.2 495.4 363.5 496.6 363.7 497.8 363.8 499.0 364.0 500.2 364.1 501.4 364.2 502.6 364.3 503.9 364.3 505.1 364.4 506.3 364.4 507.5 364.5 508.7 364.5 509.9 364.5 511.1 364.5 512.4 364.6 513.6 364.6 514.8 364.6 516.0 364.6 517.2 364.6 518.4 364.6 519.6 364.6 520.9 364.6 522.1 364.6 523.3 364.6 524.5 364.6 525.7 364.6 526.9 364.6 528.1 364.6 529.4 364.6 530.6 364.6 531.8 364.6 533.0 364.6 534.2 364.6 535.4 364.6 536.6 364.6 537.9 364.6 539.1 364.6 540.3 364.6 541.5 364.6 542.7 364.6 543.9 364.6 545.1 364.6 546.4 364.6 547.6 364.6 548.8 364.6 550.0 364.6 551.2 364.6 552.4 364.6 553.6 364.6 554.9 364.6 556.1 364.6 557.3 364.6 558.5 364.6 559.7 364.6 560.9 364.6 562.1 364.6 563.4 364.6 564.6 364.6 565.8 364.6 567.0 364.6 568.2 364.6 569.4 364.6 570.6 364.6 571.9 364.6 573.1 364.6 574.3 364.6 575.5 364.6 576.7 364.6 577.9 364.6 579.1 364.6 580.4 364.6 581.6 364.6 582.8 364.6 584.0 364.6 585.2 364.6 586.4 364.6 587.6 364.6 588.9 364.6 590.1 364.6 591.3 364.6 592.5 364.6 593.7 364.6 594.9 364.6 596.1 364.6 597.4 364.6 598.6 364.6 599.8 364.6 601.0 364.6 602.2 364.6 603.4 364.6 604.6 364.6 605.9 364.6 607.1 364.6 608.3 364.6 609.5 364.6 610.7 364.6 611.9 364.6 613.1 364.6 614.4 364.6 615.6 364.6 616.8 364.6 618.0 364.6 619.2 364.6 620.4 364.6 621.6 364.6 622.9 364.6 624.1 364.6 625.3 364.6 626.5 364.6 627.7 364.6 628.9 364.6 630.1 364.6 631.4 364.6 632.6 364.6 633.8 364.6 635.0 364.6 636.2 364.6 637.4 364.6 638.6 364.6 639.9 364.6 641.1 364.6 642.3 364.6 643.5 364.6 644.7 364.6 645.9 364.6 647.1 364.6 648.4 364.6 649.6 364.6 650.8 364.6 652.0 364.6 653.2 364.6 654.4 364.6 655.6 364.6 656.9 364.6 658.1 364.6 659.3 364.6 660.5 364.6 661.7 364.6 662.9 364.6 664.1 364.6 665.4 364.6 666.6 364.6 667.8 364.6 669.0 364.6 670.2 364.6 671.4 364.6 672.6 364.6 673.9 364.6 675.1 364.6 676.3 364.6 677.5 364.6 678.7 364.6 679.9 364.6 681.1 364.6 682.4 364.6 683.6 364.6 684.8 364.6 686.0 364.6 687.2 364.6 688.4 364.6 689.6 364.6 690.9 364.6 692.1 364.6 693.3 364.6 694.5 364.6 695.7 364.6 696.9 364.6 698.1 364.6 699.4 364.6 700.6 364.6 701.8 364.6 703.0 364.6 704.2 364.6 705.4 364.6 706.6 364.6 707.9 364.6 709.1 364.6 710.3 364.6 711.5 364.6 712.7 364.6 713.9 364.6 715.1 364.6 716.4 364.6 717.6 364.6 718.8 364.6 720.0 364.6 721.2 364.6 722.4 364.6 723.6 364.6 724.9 364.6 726.1 364.6 727.3 364.6 728.5 364.6 729.7 364.6 730.9 364.6 732.1 364.6 733.4 364.6 734.6 364.6 735.8 364.6 737.0 364.6 738.2 364.6 739.4 364.6 740.6 364.6 741.9 364.6 743.1 364.6 744.3 364.6 745.5 364.6 746.7 364.6 747.9 364.6 749.1 364.6 750.4 364.6 751.6 364.6 752.8 364.6 754.0 364.6 755.2 364.6 756.4 364.6 757.6 364.6 758.9 364.6 760.1 364.6 761.3 364.6 762.5 364.6 763.7 364.6 764.9 364.6 766.1 364.6 767.4 364.6 768.6 364.6 769.8 364.6 771.0 364.6 772.2 364.6 773.4 364.6 774.6 364.6 775.9 364.6 777.1 364.6 778.3 364.6 779.5 364.6 780.7 364.6 781.9 364.6 783.1 364.6 784.4 364.6 785.6 364.6 786.8 364.6 788.0 364.6 789.2 364.6 790.4 364.6 791.6 364.6 792.9 364.6 794.1 364.6 795.3 364.6 796.5 364.6 797.7 364.6 798.9 364.6 800.1 364.6 801.4 364.6 802.6 364.6 803.8 364.6 805.0 364.6 806.2 364.6 807.4 364.6 808.6 364.6 809.9 364.6 811.1 364.6 812.3 364.6 813.5 364.6 814.7 364.6 815.9 364.6 817.1 364.6 818.4 364.6 819.6 364.6 820.8 364.6 822.0 364.6 823.2 364.6 824.4 364.6 825.6 364.6 826.9 364.6 828.1 364.6 829.3 364.6 830.5 364.6 831.7 364.6 832.9 364.6" fill="none" stroke="#fa8a14" stroke-width="3.6" stroke-linejoin="round"/><path d="M67.9 364.6 69.1 364.6 70.4 364.6 71.6 364.6 72.8 364.6 74.0 364.6 75.2 364.6 76.4 364.6 77.6 364.6 78.9 364.6 80.1 364.6 81.3 364.6 82.5 364.6 83.7 364.6 84.9 364.6 86.1 364.6 87.4 364.6 88.6 364.6 89.8 364.6 91.0 364.6 92.2 364.6 93.4 364.6 94.6 364.6 95.9 364.6 97.1 364.6 98.3 364.6 99.5 364.6 100.7 364.6 101.9 364.6 103.1 364.6 104.4 364.6 105.6 364.6 106.8 364.6 108.0 364.6 109.2 364.6 110.4 364.6 111.6 364.6 112.9 364.6 114.1 364.6 115.3 364.6 116.5 364.6 117.7 364.6 118.9 364.6 120.1 364.6 121.4 364.6 122.6 364.6 123.8 364.6 125.0 364.6 126.2 364.6 127.4 364.6 128.6 364.6 129.9 364.6 131.1 364.6 132.3 364.6 133.5 364.6 134.7 364.6 135.9 364.6 137.1 364.6 138.4 364.6 139.6 364.6 140.8 364.6 142.0 364.6 143.2 364.6 144.4 364.6 145.6 364.6 146.9 364.6 148.1 364.6 149.3 364.6 150.5 364.6 151.7 364.6 152.9 364.6 154.1 364.6 155.4 364.6 156.6 364.6 157.8 364.6 159.0 364.6 160.2 364.6 161.4 364.6 162.6 364.6 163.9 364.6 165.1 364.6 166.3 364.6 167.5 364.6 168.7 364.6 169.9 364.6 171.1 364.6 172.4 364.6 173.6 364.6 174.8 364.6 176.0 364.6 177.2 364.6 178.4 364.6 179.6 364.6 180.9 364.6 182.1 364.6 183.3 364.6 184.5 364.6 185.7 364.6 186.9 364.6 188.1 364.6 189.4 364.6 190.6 364.6 191.8 364.6 193.0 364.6 194.2 364.6 195.4 364.6 196.6 364.6 197.9 364.6 199.1 364.6 200.3 364.6 201.5 364.6 202.7 364.6 203.9 364.6 205.1 364.6 206.4 364.6 207.6 364.6 208.8 364.6 210.0 364.6 211.2 364.6 212.4 364.6 213.6 364.6 214.9 364.6 216.1 364.6 217.3 364.6 218.5 364.6 219.7 364.6 220.9 364.6 222.1 364.6 223.4 364.6 224.6 364.6 225.8 364.6 227.0 364.6 228.2 364.6 229.4 364.6 230.6 364.6 231.9 364.6 233.1 364.6 234.3 364.6 235.5 364.6 236.7 364.6 237.9 364.6 239.1 364.6 240.4 364.6 241.6 364.6 242.8 364.6 244.0 364.6 245.2 364.6 246.4 364.6 247.6 364.6 248.9 364.6 250.1 364.6 251.3 364.6 252.5 364.6 253.7 364.6 254.9 364.6 256.1 364.6 257.4 364.6 258.6 364.6 259.8 364.6 261.0 364.6 262.2 364.6 263.4 364.6 264.6 364.6 265.9 364.6 267.1 364.6 268.3 364.6 269.5 364.6 270.7 364.6 271.9 364.6 273.1 364.6 274.4 364.6 275.6 364.6 276.8 364.6 278.0 364.6 279.2 364.6 280.4 364.6 281.6 364.6 282.9 364.6 284.1 364.6 285.3 364.6 286.5 364.6 287.7 364.6 288.9 364.6 290.1 364.6 291.4 364.6 292.6 364.6 293.8 364.6 295.0 364.6 296.2 364.6 297.4 364.6 298.6 364.6 299.9 364.6 301.1 364.6 302.3 364.6 303.5 364.6 304.7 364.6 305.9 364.6 307.1 364.6 308.4 364.6 309.6 364.6 310.8 364.6 312.0 364.6 313.2 364.6 314.4 364.6 315.6 364.6 316.9 364.6 318.1 364.6 319.3 364.6 320.5 364.6 321.7 364.6 322.9 364.6 324.1 364.6 325.4 364.6 326.6 364.6 327.8 364.6 329.0 364.6 330.2 364.6 331.4 364.6 332.6 364.6 333.9 364.6 335.1 364.6 336.3 364.6 337.5 364.6 338.7 364.6 339.9 364.6 341.1 364.6 342.4 364.6 343.6 364.6 344.8 364.6 346.0 364.6 347.2 364.6 348.4 364.6 349.6 364.6 350.9 364.6 352.1 364.6 353.3 364.6 354.5 364.6 355.7 364.6 356.9 364.6 358.1 364.6 359.4 364.6 360.6 364.6 361.8 364.6 363.0 364.6 364.2 364.6 365.4 364.6 366.6 364.6 367.9 364.6 369.1 364.6 370.3 364.6 371.5 364.6 372.7 364.6 373.9 364.6 375.1 364.6 376.4 364.6 377.6 364.6 378.8 364.6 380.0 364.6 381.2 364.6 382.4 364.6 383.6 364.6 384.9 364.6 386.1 364.6 387.3 364.6 388.5 364.6 389.7 364.6 390.9 364.6 392.1 364.6 393.4 364.6 394.6 364.6 395.8 364.6 397.0 364.6 398.2 364.6 399.4 364.6 400.6 364.6 401.9 364.6 403.1 364.6 404.3 364.6 405.5 364.6 406.7 364.6 407.9 364.6 409.1 364.6 410.4 364.6 411.6 364.6 412.8 364.6 414.0 364.6 415.2 364.6 416.4 364.6 417.6 364.6 418.9 364.6 420.1 364.6 421.3 364.6 422.5 364.6 423.7 364.6 424.9 364.6 426.1 364.6 427.4 364.6 428.6 364.6 429.8 364.6 431.0 364.6 432.2 364.6 433.4 364.6 434.6 364.6 435.9 364.6 437.1 364.6 438.3 364.6 439.5 364.6 440.7 364.6 441.9 364.6 443.1 364.6 444.4 364.6 445.6 364.6 446.8 364.6 448.0 364.6 449.2 364.6 450.4 364.6 451.6 364.6 452.9 364.6 454.1 364.6 455.3 364.6 456.5 364.6 457.7 364.6 458.9 364.6 460.1 364.6 461.4 364.6 462.6 364.6 463.8 364.6 465.0 364.6 466.2 364.6 467.4 364.6 468.6 364.6 469.9 364.6 471.1 364.6 472.3 364.6 473.5 364.6 474.7 364.6 475.9 364.6 477.1 364.6 478.4 364.6 479.6 364.6 480.8 364.6 482.0 364.6 483.2 364.6 484.4 364.6 485.6 364.6 486.9 364.6 488.1 364.6 489.3 364.6 490.5 364.6 491.7 364.6 492.9 364.6 494.1 364.6 495.4 364.6 496.6 364.6 497.8 364.6 499.0 364.6 500.2 364.6 501.4 364.6 502.6 364.6 503.9 364.6 505.1 364.6 506.3 364.6 507.5 364.6 508.7 364.6 509.9 364.6 511.1 364.6 512.4 364.6 513.6 364.6 514.8 364.6 516.0 364.6 517.2 364.6 518.4 364.6 519.6 364.6 520.9 364.6 522.1 364.6 523.3 364.6 524.5 364.6 525.7 364.5 526.9 364.4 528.1 364.1 529.4 363.5 530.6 362.4 531.8 360.9 533.0 359.1 534.2 357.7 535.4 357.1 536.6 357.7 537.9 359.1 539.1 360.9 540.3 362.4 541.5 363.5 542.7 364.1 543.9 364.4 545.1 364.5 546.4 364.6 547.6 364.6 548.8 364.6 550.0 364.6 551.2 364.6 552.4 364.6 553.6 364.6 554.9 364.6 556.1 364.6 557.3 364.6 558.5 364.6 559.7 364.6 560.9 364.6 562.1 364.6 563.4 364.6 564.6 364.6 565.8 364.6 567.0 364.6 568.2 364.6 569.4 364.6 570.6 364.6 571.9 364.6 573.1 364.6 574.3 364.6 575.5 364.6 576.7 364.6 577.9 364.6 579.1 364.6 580.4 364.6 581.6 364.6 582.8 364.6 584.0 364.6 585.2 364.6 586.4 364.6 587.6 364.6 588.9 364.6 590.1 364.6 591.3 364.6 592.5 364.6 593.7 364.6 594.9 364.6 596.1 364.6 597.4 364.6 598.6 364.6 599.8 364.6 601.0 364.6 602.2 364.6 603.4 364.6 604.6 364.6 605.9 364.6 607.1 364.6 608.3 364.6 609.5 364.6 610.7 364.6 611.9 364.6 613.1 364.6 614.4 364.6 615.6 364.6 616.8 364.6 618.0 364.6 619.2 364.6 620.4 364.6 621.6 364.6 622.9 364.6 624.1 364.6 625.3 364.6 626.5 364.6 627.7 364.6 628.9 364.6 630.1 364.6 631.4 364.6 632.6 364.6 633.8 364.6 635.0 364.6 636.2 364.6 637.4 364.6 638.6 364.6 639.9 364.6 641.1 364.6 642.3 364.6 643.5 364.6 644.7 364.6 645.9 364.6 647.1 364.6 648.4 364.6 649.6 364.6 650.8 364.6 652.0 364.6 653.2 364.6 654.4 364.6 655.6 364.6 656.9 364.6 658.1 364.6 659.3 364.6 660.5 364.6 661.7 364.6 662.9 364.6 664.1 364.6 665.4 364.6 666.6 364.6 667.8 364.6 669.0 364.6 670.2 364.6 671.4 364.6 672.6 364.6 673.9 364.6 675.1 364.6 676.3 364.6 677.5 364.6 678.7 364.6 679.9 364.6 681.1 364.6 682.4 364.6 683.6 364.6 684.8 364.6 686.0 364.6 687.2 364.6 688.4 364.6 689.6 364.6 690.9 364.6 692.1 364.6 693.3 364.6 694.5 364.6 695.7 364.6 696.9 364.6 698.1 364.6 699.4 364.6 700.6 364.6 701.8 364.6 703.0 364.6 704.2 364.6 705.4 364.6 706.6 364.6 707.9 364.6 709.1 364.6 710.3 364.6 711.5 364.6 712.7 364.6 713.9 364.6 715.1 364.6 716.4 364.6 717.6 364.6 718.8 364.6 720.0 364.6 721.2 364.6 722.4 364.6 723.6 364.6 724.9 364.6 726.1 364.6 727.3 364.6 728.5 364.6 729.7 364.6 730.9 364.6 732.1 364.6 733.4 364.6 734.6 364.6 735.8 364.6 737.0 364.6 738.2 364.6 739.4 364.6 740.6 364.6 741.9 364.6 743.1 364.6 744.3 364.6 745.5 364.6 746.7 364.6 747.9 364.6 749.1 364.6 750.4 364.6 751.6 364.6 752.8 364.6 754.0 364.6 755.2 364.6 756.4 364.6 757.6 364.6 758.9 364.6 760.1 364.6 761.3 364.6 762.5 364.6 763.7 364.6 764.9 364.6 766.1 364.6 767.4 364.6 768.6 364.6 769.8 364.6 771.0 364.6 772.2 364.6 773.4 364.6 774.6 364.6 775.9 364.6 777.1 364.6 778.3 364.6 779.5 364.6 780.7 364.6 781.9 364.6 783.1 364.6 784.4 364.6 785.6 364.6 786.8 364.6 788.0 364.6 789.2 364.6 790.4 364.6 791.6 364.6 792.9 364.6 794.1 364.6 795.3 364.6 796.5 364.6 797.7 364.6 798.9 364.6 800.1 364.6 801.4 364.6 802.6 364.6 803.8 364.6 805.0 364.6 806.2 364.6 807.4 364.6 808.6 364.6 809.9 364.6 811.1 364.6 812.3 364.6 813.5 364.6 814.7 364.6 815.9 364.6 817.1 364.6 818.4 364.6 819.6 364.6 820.8 364.6 822.0 364.6 823.2 364.6 824.4 364.6 825.6 364.6 826.9 364.6 828.1 364.6 829.3 364.6 830.5 364.6 831.7 364.6 832.9 364.6" fill="none" stroke="#808000" stroke-width="3.6" stroke-linejoin="round"/><path d="M67.9 364.6 69.1 364.6 70.4 364.6 71.6 364.6 72.8 364.6 74.0 364.6 75.2 364.6 76.4 364.6 77.6 364.6 78.9 364.6 80.1 364.6 81.3 364.6 82.5 364.6 83.7 364.6 84.9 364.6 86.1 364.6 87.4 364.6 88.6 364.6 89.8 364.6 91.0 364.6 92.2 364.6 93.4 364.6 94.6 364.6 95.9 364.6 97.1 364.6 98.3 364.6 99.5 364.6 100.7 364.6 101.9 364.6 103.1 364.6 104.4 364.6 105.6 364.6 106.8 364.6 108.0 364.6 109.2 364.6 110.4 364.6 111.6 364.6 112.9 364.6 114.1 364.6 115.3 364.6 116.5 364.6 117.7 364.6 118.9 364.6 120.1 364.6 121.4 364.6 122.6 364.6 123.8 364.6 125.0 364.6 126.2 364.6 127.4 364.6 128.6 364.6 129.9 364.6 131.1 364.6 132.3 364.6 133.5 364.6 134.7 364.6 135.9 364.6 137.1 364.6 138.4 364.6 139.6 364.6 140.8 364.6 142.0 364.6 143.2 364.6 144.4 364.6 145.6 364.6 146.9 364.6 148.1 364.6 149.3 364.6 150.5 364.6 151.7 364.6 152.9 364.6 154.1 364.6 155.4 364.6 156.6 364.6 157.8 364.6 159.0 364.6 160.2 364.6 161.4 364.6 162.6 364.6 163.9 364.6 165.1 364.6 166.3 364.6 167.5 364.6 168.7 364.6 169.9 364.6 171.1 364.6 172.4 364.6 173.6 364.6 174.8 364.6 176.0 364.6 177.2 364.6 178.4 364.6 179.6 364.6 180.9 364.6 182.1 364.6 183.3 364.6 184.5 364.6 185.7 364.6 186.9 364.6 188.1 364.6 189.4 364.6 190.6 364.6 191.8 364.6 193.0 364.6 194.2 364.6 195.4 364.6 196.6 364.6 197.9 364.6 199.1 364.6 200.3 364.6 201.5 364.6 202.7 364.6 203.9 364.6 205.1 364.6 206.4 364.6 207.6 364.6 208.8 364.6 210.0 364.6 211.2 364.6 212.4 364.6 213.6 364.6 214.9 364.6 216.1 364.6 217.3 364.6 218.5 364.6 219.7 364.6 220.9 364.6 222.1 364.6 223.4 364.6 224.6 364.6 225.8 364.6 227.0 364.6 228.2 364.6 229.4 364.6 230.6 364.6 231.9 364.6 233.1 364.6 234.3 364.6 235.5 364.6 236.7 364.6 237.9 364.6 239.1 364.6 240.4 364.6 241.6 364.6 242.8 364.6 244.0 364.6 245.2 364.6 246.4 364.6 247.6 364.6 248.9 364.6 250.1 364.6 251.3 364.6 252.5 364.6 253.7 364.6 254.9 364.6 256.1 364.6 257.4 364.6 258.6 364.6 259.8 364.6 261.0 364.6 262.2 364.6 263.4 364.6 264.6 364.6 265.9 364.6 267.1 364.6 268.3 364.6 269.5 364.6 270.7 364.6 271.9 364.6 273.1 364.6 274.4 364.6 275.6 364.6 276.8 364.6 278.0 364.6 279.2 364.6 280.4 364.6 281.6 364.6 282.9 364.6 284.1 364.6 285.3 364.6 286.5 364.6 287.7 364.6 288.9 364.6 290.1 364.6 291.4 364.6 292.6 364.6 293.8 364.6 295.0 364.6 296.2 364.6 297.4 364.6 298.6 364.6 299.9 364.6 301.1 364.6 302.3 364.6 303.5 364.6 304.7 364.6 305.9 364.6 307.1 364.6 308.4 364.6 309.6 364.6 310.8 364.6 312.0 364.6 313.2 364.6 314.4 364.6 315.6 364.6 316.9 364.6 318.1 364.6 319.3 364.6 320.5 364.6 321.7 364.6 322.9 364.6 324.1 364.6 325.4 364.6 326.6 364.6 327.8 364.6 329.0 364.6 330.2 364.6 331.4 364.6 332.6 364.6 333.9 364.6 335.1 364.6 336.3 364.6 337.5 364.6 338.7 364.6 339.9 364.6 341.1 364.6 342.4 364.6 343.6 364.6 344.8 364.6 346.0 364.6 347.2 364.6 348.4 364.6 349.6 364.6 350.9 364.6 352.1 364.6 353.3 364.6 354.5 364.6 355.7 364.6 356.9 364.6 358.1 364.6 359.4 364.6 360.6 364.6 361.8 364.6 363.0 364.6 364.2 364.6 365.4 364.6 366.6 364.6 367.9 364.6 369.1 364.6 370.3 364.6 371.5 364.6 372.7 364.6 373.9 364.6 375.1 364.6 376.4 364.6 377.6 364.6 378.8 364.6 380.0 364.6 381.2 364.6 382.4 364.6 383.6 364.6 384.9 364.6 386.1 364.6 387.3 364.6 388.5 364.6 389.7 364.6 390.9 364.6 392.1 364.6 393.4 364.6 394.6 364.6 395.8 364.6 397.0 364.6 398.2 364.6 399.4 364.6 400.6 364.6 401.9 364.6 403.1 364.6 404.3 364.6 405.5 364.6 406.7 364.6 407.9 364.6 409.1 364.6 410.4 364.6 411.6 364.6 412.8 364.6 414.0 364.6 415.2 364.6 416.4 364.6 417.6 364.6 418.9 364.6 420.1 364.6 421.3 364.6 422.5 364.6 423.7 364.6 424.9 364.6 426.1 364.6 427.4 364.6 428.6 364.6 429.8 364.6 431.0 364.6 432.2 364.6 433.4 364.6 434.6 364.6 435.9 364.6 437.1 364.6 438.3 364.6 439.5 364.6 440.7 364.6 441.9 364.6 443.1 364.6 444.4 364.6 445.6 364.6 446.8 364.6 448.0 364.6 449.2 364.6 450.4 364.6 451.6 364.6 452.9 364.6 454.1 364.6 455.3 364.6 456.5 364.6 457.7 364.6 458.9 364.6 460.1 364.6 461.4 364.6 462.6 364.6 463.8 364.6 465.0 364.6 466.2 364.6 467.4 364.6 468.6 364.6 469.9 364.6 471.1 364.6 472.3 364.6 473.5 364.6 474.7 364.6 475.9 364.6 477.1 364.6 478.4 364.6 479.6 364.6 480.8 364.6 482.0 364.6 483.2 364.6 484.4 364.6 485.6 364.6 486.9 364.6 488.1 364.6 489.3 364.6 490.5 364.6 491.7 364.6 492.9 364.6 494.1 364.6 495.4 364.6 496.6 364.6 497.8 364.6 499.0 364.6 500.2 364.6 501.4 364.6 502.6 364.6 503.9 364.6 505.1 364.6 506.3 364.6 507.5 364.6 508.7 364.6 509.9 364.6 511.1 364.6 512.4 364.6 513.6 364.6 514.8 364.5 516.0 364.5 517.2 364.5 518.4 364.5 519.6 364.5 520.9 364.5 522.1 364.5 523.3 364.5 524.5 364.4 525.7 364.4 526.9 364.4 528.1 364.4 529.4 364.3 530.6 364.3 531.8 364.3 533.0 364.2 534.2 364.2 535.4 364.1 536.6 364.1 537.9 364.0 539.1 363.9 540.3 363.9 541.5 363.8 542.7 363.7 543.9 363.6 545.1 363.5 546.4 363.4 547.6 363.2 548.8 363.1 550.0 362.9 551.2 362.8 552.4 362.6 553.6 362.4 554.9 362.2 556.1 361.9 557.3 361.7 558.5 361.4 559.7 361.1 560.9 360.8 562.1 360.4 563.4 360.1 564.6 359.7 565.8 359.3 567.0 358.8 568.2 358.4 569.4 357.9 570.6 357.3 571.9 356.8 573.1 356.2 574.3 355.6 575.5 354.9 576.7 354.2 577.9 353.5 579.1 352.8 580.4 352.0 581.6 351.2 582.8 350.3 584.0 349.4 585.2 348.5 586.4 347.6 587.6 346.6 588.9 345.6 590.1 344.5 591.3 343.4 592.5 342.4 593.7 341.2 594.9 340.1 596.1 338.9 597.4 337.7 598.6 336.5 599.8 335.3 601.0 334.1 602.2 332.9 603.4 331.6 604.6 330.4 605.9 329.2 607.1 327.9 608.3 326.7 609.5 325.5 610.7 324.3 611.9 323.2 613.1 322.0 614.4 320.9 615.6 319.8 616.8 318.8 618.0 317.8 619.2 316.8 620.4 315.9 621.6 315.1 622.9 314.2 624.1 313.5 625.3 312.8 626.5 312.2 627.7 311.6 628.9 311.1 630.1 310.7 631.4 310.3 632.6 310.1 633.8 309.9 635.0 309.7 636.2 309.7 637.4 309.7 638.6 309.8 639.9 310.0 641.1 310.2 642.3 310.5 643.5 310.9 644.7 311.4 645.9 311.9 647.1 312.5 648.4 313.2 649.6 313.9 650.8 314.7 652.0 315.5 653.2 316.4 654.4 317.3 655.6 318.3 656.9 319.3 658.1 320.4 659.3 321.5 660.5 322.6 661.7 323.8 662.9 325.0 664.1 326.2 665.4 327.4 666.6 328.6 667.8 329.8 669.0 331.1 670.2 332.3 671.4 333.5 672.6 334.8 673.9 336.0 675.1 337.2 676.3 338.4 677.5 339.5 678.7 340.7 679.9 341.8 681.1 342.9 682.4 344.0 683.6 345.1 684.8 346.1 686.0 347.1 687.2 348.1 688.4 349.0 689.6 349.9 690.9 350.8 692.1 351.6 693.3 352.4 694.5 353.2 695.7 353.9 696.9 354.6 698.1 355.3 699.4 355.9 700.6 356.5 701.8 357.1 703.0 357.6 704.2 358.1 705.4 358.6 706.6 359.1 707.9 359.5 709.1 359.9 710.3 360.3 711.5 360.6 712.7 361.0 713.9 361.3 715.1 361.5 716.4 361.8 717.6 362.0 718.8 362.3 720.0 362.5 721.2 362.7 722.4 362.9 723.6 363.0 724.9 363.2 726.1 363.3 727.3 363.4 728.5 363.5 729.7 363.6 730.9 363.7 732.1 363.8 733.4 363.9 734.6 364.0 735.8 364.0 737.0 364.1 738.2 364.2 739.4 364.2 740.6 364.3 741.9 364.3 743.1 364.3 744.3 364.4 745.5 364.4 746.7 364.4 747.9 364.4 749.1 364.5 750.4 364.5 751.6 364.5 752.8 364.5 754.0 364.5 755.2 364.5 756.4 364.5 757.6 364.5 758.9 364.5 760.1 364.6 761.3 364.6 762.5 364.6 763.7 364.6 764.9 364.6 766.1 364.6 767.4 364.6 768.6 364.6 769.8 364.6 771.0 364.6 772.2 364.6 773.4 364.6 774.6 364.6 775.9 364.6 777.1 364.6 778.3 364.6 779.5 364.6 780.7 364.6 781.9 364.6 783.1 364.6 784.4 364.6 785.6 364.6 786.8 364.6 788.0 364.6 789.2 364.6 790.4 364.6 791.6 364.6 792.9 364.6 794.1 364.6 795.3 364.6 796.5 364.6 797.7 364.6 798.9 364.6 800.1 364.6 801.4 364.6 802.6 364.6 803.8 364.6 805.0 364.6 806.2 364.6 807.4 364.6 808.6 364.6 809.9 364.6 811.1 364.6 812.3 364.6 813.5 364.6 814.7 364.6 815.9 364.6 817.1 364.6 818.4 364.6 819.6 364.6 820.8 364.6 822.0 364.6 823.2 364.6 824.4 364.6 825.6 364.6 826.9 364.6 828.1 364.6 829.3 364.6 830.5 364.6 831.7 364.6 832.9 364.6" fill="none" stroke="#000080" stroke-width="3.6" stroke-linejoin="round"/><path d="M67.9 364.2 69.1 364.2 70.4 364.2 71.6 364.2 72.8 364.2 74.0 364.2 75.2 364.2 76.4 364.2 77.6 364.2 78.9 364.2 80.1 364.2 81.3 364.2 82.5 364.2 83.7 364.2 84.9 364.2 86.1 364.2 87.4 364.2 88.6 364.2 89.8 364.2 91.0 364.2 92.2 364.2 93.4 364.2 94.6 364.2 95.9 364.2 97.1 364.2 98.3 364.2 99.5 364.2 100.7 364.2 101.9 364.2 103.1 364.2 104.4 364.2 105.6 364.2 106.8 364.2 108.0 364.2 109.2 364.2 110.4 364.2 111.6 364.2 112.9 364.2 114.1 364.2 115.3 364.2 116.5 364.2 117.7 364.2 118.9 364.2 120.1 364.2 121.4 364.2 122.6 364.2 123.8 364.2 125.0 364.2 126.2 364.2 127.4 364.1 128.6 364.1 129.9 364.1 131.1 364.1 132.3 364.1 133.5 364.1 134.7 364.1 135.9 364.1 137.1 364.1 138.4 364.1 139.6 364.1 140.8 364.1 142.0 364.1 143.2 364.1 144.4 364.1 145.6 364.1 146.9 364.1 148.1 364.1 149.3 364.1 150.5 364.1 151.7 364.1 152.9 364.1 154.1 364.1 155.4 364.1 156.6 364.1 157.8 364.1 159.0 364.1 160.2 364.1 161.4 364.1 162.6 364.1 163.9 364.1 165.1 364.1 166.3 364.1 167.5 364.1 168.7 364.1 169.9 364.1 171.1 364.1 172.4 364.1 173.6 364.1 174.8 364.1 176.0 364.1 177.2 364.1 178.4 364.1 179.6 364.0 180.9 364.0 182.1 364.0 183.3 364.0 184.5 364.0 185.7 364.0 186.9 364.0 188.1 364.0 189.4 364.0 190.6 364.0 191.8 364.0 193.0 364.0 194.2 364.0 195.4 364.0 196.6 364.0 197.9 364.0 199.1 364.0 200.3 364.0 201.5 364.0 202.7 364.0 203.9 364.0 205.1 364.0 206.4 364.0 207.6 364.0 208.8 364.0 210.0 364.0 211.2 364.0 212.4 364.0 213.6 364.0 214.9 364.0 216.1 364.0 217.3 364.0 218.5 364.0 219.7 363.9 220.9 363.9 222.1 363.9 223.4 363.9 224.6 363.9 225.8 363.9 227.0 363.9 228.2 363.9 229.4 363.9 230.6 363.9 231.9 363.9 233.1 363.9 234.3 363.9 235.5 363.9 236.7 363.9 237.9 363.9 239.1 363.9 240.4 363.9 241.6 363.9 242.8 363.9 244.0 363.9 245.2 363.9 246.4 363.9 247.6 363.9 248.9 363.9 250.1 363.9 251.3 363.8 252.5 363.8 253.7 363.8 254.9 363.8 256.1 363.8 257.4 363.8 258.6 363.8 259.8 363.8 261.0 363.8 262.2 363.8 263.4 363.8 264.6 363.8 265.9 363.8 267.1 363.8 268.3 363.8 269.5 363.8 270.7 363.8 271.9 363.8 273.1 363.8 274.4 363.8 275.6 363.8 276.8 363.7 278.0 363.7 279.2 363.7 280.4 363.7 281.6 363.7 282.9 363.7 284.1 363.7 285.3 363.7 286.5 363.7 287.7 363.7 288.9 363.7 290.1 363.7 291.4 363.7 292.6 363.7 293.8 363.7 295.0 363.7 296.2 363.7 297.4 363.7 298.6 363.6 299.9 363.6 301.1 363.6 302.3 363.6 303.5 363.6 304.7 363.6 305.9 363.6 307.1 363.6 308.4 363.6 309.6 363.6 310.8 363.6 312.0 363.6 313.2 363.6 314.4 363.6 315.6 363.6 316.9 363.5 318.1 363.5 319.3 363.5 320.5 363.5 321.7 363.5 322.9 363.5 324.1 363.5 325.4 363.5 326.6 363.5 327.8 363.5 329.0 363.5 330.2 363.5 331.4 363.5 332.6 363.4 333.9 363.4 335.1 363.4 336.3 363.4 337.5 363.4 338.7 363.4 339.9 363.4 341.1 363.4 342.4 363.4 343.6 363.4 344.8 363.4 346.0 363.4 347.2 363.3 348.4 363.3 349.6 363.3 350.9 363.3 352.1 363.3 353.3 363.3 354.5 363.3 355.7 363.3 356.9 363.3 358.1 363.3 359.4 363.2 360.6 363.2 361.8 363.2 363.0 363.2 364.2 363.2 365.4 363.2 366.6 363.2 367.9 363.2 369.1 363.2 370.3 363.1 371.5 363.1 372.7 363.1 373.9 363.1 375.1 363.1 376.4 363.1 377.6 363.1 378.8 363.1 380.0 363.1 381.2 363.0 382.4 363.0 383.6 363.0 384.9 363.0 386.1 363.0 387.3 363.0 388.5 363.0 389.7 362.9 390.9 362.9 392.1 362.9 393.4 362.9 394.6 362.9 395.8 362.9 397.0 362.9 398.2 362.8 399.4 362.8 400.6 362.8 401.9 362.8 403.1 362.8 404.3 362.8 405.5 362.7 406.7 362.7 407.9 362.7 409.1 362.7 410.4 362.7 411.6 362.7 412.8 362.6 414.0 362.6 415.2 362.6 416.4 362.6 417.6 362.6 418.9 362.6 420.1 362.5 421.3 362.5 422.5 362.5 423.7 362.5 424.9 362.5 426.1 362.4 427.4 362.4 428.6 362.4 429.8 362.4 431.0 362.3 432.2 362.3 433.4 362.3 434.6 362.3 435.9 362.3 437.1 362.2 438.3 362.2 439.5 362.2 440.7 362.2 441.9 362.1 443.1 362.1 444.4 362.1 445.6 362.1 446.8 362.0 448.0 362.0 449.2 362.0 450.4 361.9 451.6 361.9 452.9 361.9 454.1 361.9 455.3 361.8 456.5 361.8 457.7 361.8 458.9 361.7 460.1 361.7 461.4 361.7 462.6 361.6 463.8 361.6 465.0 361.6 466.2 361.5 467.4 361.5 468.6 361.5 469.9 361.4 471.1 361.4 472.3 361.3 473.5 361.3 474.7 361.3 475.9 361.2 477.1 361.2 478.4 361.1 479.6 361.1 480.8 361.1 482.0 361.0 483.2 361.0 484.4 360.9 485.6 360.9 486.9 360.8 488.1 360.8 489.3 360.7 490.5 360.7 491.7 360.6 492.9 360.6 494.1 360.5 495.4 360.5 496.6 360.4 497.8 360.4 499.0 360.3 500.2 360.2 501.4 360.2 502.6 360.1 503.9 360.1 505.1 360.0 506.3 359.9 507.5 359.9 508.7 359.8 509.9 359.7 511.1 359.7 512.4 359.6 513.6 359.5 514.8 359.4 516.0 359.4 517.2 359.3 518.4 359.2 519.6 359.1 520.9 359.0 522.1 358.9 523.3 358.8 524.5 358.8 525.7 358.7 526.9 358.6 528.1 358.5 529.4 358.4 530.6 358.3 531.8 358.2 533.0 358.1 534.2 357.9 535.4 357.8 536.6 357.7 537.9 357.6 539.1 357.5 540.3 357.3 541.5 357.2 542.7 357.1 543.9 357.0 545.1 356.8 546.4 356.7 547.6 356.5 548.8 356.4 550.0 356.2 551.2 356.1 552.4 355.9 553.6 355.7 554.9 355.5 556.1 355.4 557.3 355.2 558.5 355.0 559.7 354.8 560.9 354.6 562.1 354.4 563.4 354.2 564.6 354.0 565.8 353.7 567.0 353.5 568.2 353.2 569.4 353.0 570.6 352.7 571.9 352.5 573.1 352.2 574.3 351.9 575.5 351.6 576.7 351.3 577.9 351.0 579.1 350.7 580.4 350.3 581.6 350.0 582.8 349.6 584.0 349.2 585.2 348.8 586.4 348.4 587.6 348.0 588.9 347.6 590.1 347.1 591.3 346.6 592.5 346.1 593.7 345.6 594.9 345.1 596.1 344.5 597.4 343.9 598.6 343.3 599.8 342.7 601.0 342.0 602.2 341.3 603.4 340.6 604.6 339.8 605.9 339.0 607.1 338.2 608.3 337.3 609.5 336.4 610.7 335.4 611.9 334.4 613.1 333.4 614.4 332.2 615.6 331.0 616.8 329.8 618.0 328.5 619.2 327.1 620.4 325.6 621.6 324.0 622.9 322.3 624.1 320.6 625.3 318.7 626.5 316.7 627.7 314.6 628.9 312.3 630.1 309.9 631.4 307.3 632.6 304.6 633.8 301.7 635.0 298.5 636.2 295.2 637.4 291.7 638.6 287.9 639.9 283.8 641.1 279.5 642.3 274.9 643.5 270.0 644.7 264.7 645.9 259.1 647.1 253.2 648.4 246.9 649.6 240.2 650.8 233.1 652.0 225.7 653.2 217.8 654.4 209.5 655.6 200.9 656.9 191.9 658.1 182.6 659.3 173.0 660.5 163.2 661.7 153.3 662.9 143.4 664.1 133.6 665.4 124.1 666.6 115.1 667.8 106.7 669.0 99.1 670.2 92.6 671.4 87.2 672.6 83.3 673.9 80.8 675.1 79.9 676.3 80.6 677.5 82.9 678.7 86.7 679.9 91.8 681.1 98.2 682.4 105.7 683.6 114.0 684.8 123.0 686.0 132.4 687.2 142.2 688.4 152.1 689.6 162.0 690.9 171.8 692.1 181.4 693.3 190.8 694.5 199.8 695.7 208.5 696.9 216.8 698.1 224.7 699.4 232.3 700.6 239.4 701.8 246.1 703.0 252.5 704.2 258.4 705.4 264.1 706.6 269.3 707.9 274.3 709.1 278.9 710.3 283.3 711.5 287.4 712.7 291.2 713.9 294.8 715.1 298.1 716.4 301.3 717.6 304.2 718.8 307.0 720.0 309.6 721.2 312.0 722.4 314.3 723.6 316.4 724.9 318.4 726.1 320.3 727.3 322.1 728.5 323.8 729.7 325.4 730.9 326.9 732.1 328.3 733.4 329.6 734.6 330.9 735.8 332.1 737.0 333.2 738.2 334.3 739.4 335.3 740.6 336.3 741.9 337.2 743.1 338.1 744.3 338.9 745.5 339.7 746.7 340.5 747.9 341.2 749.1 341.9 750.4 342.6 751.6 343.2 752.8 343.9 754.0 344.4 755.2 345.0 756.4 345.5 757.6 346.1 758.9 346.6 760.1 347.0 761.3 347.5 762.5 347.9 763.7 348.4 764.9 348.8 766.1 349.2 767.4 349.6 768.6 349.9 769.8 350.3 771.0 350.6 772.2 350.9 773.4 351.3 774.6 351.6 775.9 351.9 777.1 352.2 778.3 352.4 779.5 352.7 780.7 353.0 781.9 353.2 783.1 353.5 784.4 353.7 785.6 353.9 786.8 354.1 788.0 354.4 789.2 354.6 790.4 354.8 791.6 355.0 792.9 355.2 794.1 355.3 795.3 355.5 796.5 355.7 797.7 355.9 798.9 356.0 800.1 356.2 801.4 356.4 802.6 356.5 803.8 356.7 805.0 356.8 806.2 356.9 807.4 357.1 808.6 357.2 809.9 357.3 811.1 357.5 812.3 357.6 813.5 357.7 814.7 357.8 815.9 357.9 817.1 358.0 818.4 358.1 819.6 358.3 820.8 358.4 822.0 358.5 823.2 358.6 824.4 358.7 825.6 358.7 826.9 358.8 828.1 358.9 829.3 359.0 830.5 359.1 831.7 359.2 832.9 359.3" fill="none" stroke="#800080" stroke-width="3.6" stroke-linejoin="round"/><g fill="#fff" stroke="#4d4d4d" stroke-width="1.3"><circle cx="78.9" cy="698.2" r="4.3"/><circle cx="80.1" cy="698.2" r="4.3"/><circle cx="81.3" cy="700.1" r="4.3"/><circle cx="82.5" cy="700.4" r="4.3"/><circle cx="83.7" cy="711.0" r="4.3"/><circle cx="84.9" cy="695.4" r="4.3"/><circle cx="86.1" cy="709.9" r="4.3"/><circle cx="87.4" cy="709.1" r="4.3"/><circle cx="88.6" cy="702.7" r="4.3"/><circle cx="89.8" cy="698.8" r="4.3"/><circle cx="91.0" cy="703.0" r="4.3"/><circle cx="92.2" cy="706.4" r="4.3"/><circle cx="93.4" cy="711.6" r="4.3"/><circle cx="94.6" cy="702.6" r="4.3"/><circle cx="95.9" cy="706.2" r="4.3"/><circle cx="97.1" cy="693.2" r="4.3"/><circle cx="98.3" cy="691.9" r="4.3"/><circle cx="99.5" cy="687.1" r="4.3"/><circle cx="100.7" cy="688.1" r="4.3"/><circle cx="101.9" cy="693.2" r="4.3"/><circle cx="103.1" cy="689.4" r="4.3"/><circle cx="104.4" cy="674.6" r="4.3"/><circle cx="105.6" cy="692.0" r="4.3"/><circle cx="106.8" cy="683.8" r="4.3"/><circle cx="108.0" cy="686.9" r="4.3"/><circle cx="109.2" cy="681.8" r="4.3"/><circle cx="110.4" cy="699.7" r="4.3"/><circle cx="111.6" cy="680.3" r="4.3"/><circle cx="112.9" cy="674.5" r="4.3"/><circle cx="114.1" cy="677.1" r="4.3"/><circle cx="115.3" cy="678.6" r="4.3"/><circle cx="116.5" cy="670.3" r="4.3"/><circle cx="117.7" cy="673.2" r="4.3"/><circle cx="118.9" cy="670.9" r="4.3"/><circle cx="120.1" cy="641.4" r="4.3"/><circle cx="121.4" cy="660.9" r="4.3"/><circle cx="122.6" cy="657.8" r="4.3"/><circle cx="123.8" cy="650.9" r="4.3"/><circle cx="125.0" cy="653.7" r="4.3"/><circle cx="126.2" cy="659.6" r="4.3"/><circle cx="127.4" cy="627.1" r="4.3"/><circle cx="128.6" cy="645.2" r="4.3"/><circle cx="129.9" cy="611.6" r="4.3"/><circle cx="131.1" cy="642.1" r="4.3"/><circle cx="132.3" cy="635.8" r="4.3"/><circle cx="133.5" cy="611.4" r="4.3"/><circle cx="134.7" cy="612.7" r="4.3"/><circle cx="135.9" cy="618.6" r="4.3"/><circle cx="137.1" cy="580.3" r="4.3"/><circle cx="138.4" cy="601.8" r="4.3"/><circle cx="139.6" cy="589.3" r="4.3"/><circle cx="140.8" cy="558.4" r="4.3"/><circle cx="142.0" cy="537.2" r="4.3"/><circle cx="143.2" cy="553.5" r="4.3"/><circle cx="144.4" cy="540.7" r="4.3"/><circle cx="145.6" cy="494.6" r="4.3"/><circle cx="146.9" cy="525.7" r="4.3"/><circle cx="148.1" cy="510.1" r="4.3"/><circle cx="149.3" cy="494.6" r="4.3"/><circle cx="150.5" cy="490.4" r="4.3"/><circle cx="151.7" cy="525.5" r="4.3"/><circle cx="152.9" cy="493.8" r="4.3"/><circle cx="154.1" cy="465.2" r="4.3"/><circle cx="155.4" cy="454.0" r="4.3"/><circle cx="156.6" cy="450.0" r="4.3"/><circle cx="157.8" cy="447.0" r="4.3"/><circle cx="159.0" cy="431.4" r="4.3"/><circle cx="160.2" cy="419.1" r="4.3"/><circle cx="161.4" cy="433.9" r="4.3"/><circle cx="162.6" cy="435.5" r="4.3"/><circle cx="163.9" cy="412.4" r="4.3"/><circle cx="165.1" cy="423.5" r="4.3"/><circle cx="166.3" cy="419.5" r="4.3"/><circle cx="167.5" cy="409.5" r="4.3"/><circle cx="168.7" cy="408.6" r="4.3"/><circle cx="169.9" cy="398.1" r="4.3"/><circle cx="171.1" cy="404.5" r="4.3"/><circle cx="172.4" cy="401.5" r="4.3"/><circle cx="173.6" cy="393.7" r="4.3"/><circle cx="174.8" cy="411.3" r="4.3"/><circle cx="176.0" cy="419.9" r="4.3"/><circle cx="177.2" cy="420.8" r="4.3"/><circle cx="178.4" cy="412.6" r="4.3"/><circle cx="179.6" cy="403.3" r="4.3"/><circle cx="180.9" cy="446.7" r="4.3"/><circle cx="182.1" cy="434.1" r="4.3"/><circle cx="183.3" cy="423.4" r="4.3"/><circle cx="184.5" cy="432.5" r="4.3"/><circle cx="185.7" cy="441.4" r="4.3"/><circle cx="186.9" cy="459.6" r="4.3"/><circle cx="188.1" cy="456.3" r="4.3"/><circle cx="189.4" cy="459.4" r="4.3"/><circle cx="190.6" cy="451.2" r="4.3"/><circle cx="191.8" cy="483.2" r="4.3"/><circle cx="193.0" cy="488.9" r="4.3"/><circle cx="194.2" cy="498.0" r="4.3"/><circle cx="195.4" cy="476.8" r="4.3"/><circle cx="196.6" cy="504.9" r="4.3"/><circle cx="197.9" cy="511.4" r="4.3"/><circle cx="199.1" cy="515.8" r="4.3"/><circle cx="200.3" cy="520.1" r="4.3"/><circle cx="201.5" cy="515.2" r="4.3"/><circle cx="202.7" cy="526.8" r="4.3"/><circle cx="203.9" cy="533.0" r="4.3"/><circle cx="205.1" cy="546.3" r="4.3"/><circle cx="206.4" cy="544.7" r="4.3"/><circle cx="207.6" cy="562.6" r="4.3"/><circle cx="208.8" cy="557.5" r="4.3"/><circle cx="210.0" cy="573.8" r="4.3"/><circle cx="211.2" cy="550.9" r="4.3"/><circle cx="212.4" cy="567.2" r="4.3"/><circle cx="213.6" cy="574.3" r="4.3"/><circle cx="214.9" cy="559.2" r="4.3"/><circle cx="216.1" cy="560.4" r="4.3"/><circle cx="217.3" cy="561.1" r="4.3"/><circle cx="218.5" cy="568.9" r="4.3"/><circle cx="219.7" cy="564.8" r="4.3"/><circle cx="220.9" cy="573.3" r="4.3"/><circle cx="222.1" cy="563.0" r="4.3"/><circle cx="223.4" cy="570.0" r="4.3"/><circle cx="224.6" cy="577.7" r="4.3"/><circle cx="225.8" cy="580.6" r="4.3"/><circle cx="227.0" cy="586.7" r="4.3"/><circle cx="228.2" cy="600.2" r="4.3"/><circle cx="229.4" cy="594.8" r="4.3"/><circle cx="230.6" cy="589.2" r="4.3"/><circle cx="231.9" cy="597.5" r="4.3"/><circle cx="233.1" cy="592.4" r="4.3"/><circle cx="234.3" cy="576.3" r="4.3"/><circle cx="235.5" cy="589.6" r="4.3"/><circle cx="236.7" cy="578.6" r="4.3"/><circle cx="237.9" cy="575.6" r="4.3"/><circle cx="239.1" cy="568.6" r="4.3"/><circle cx="240.4" cy="572.9" r="4.3"/><circle cx="241.6" cy="553.4" r="4.3"/><circle cx="242.8" cy="558.4" r="4.3"/><circle cx="244.0" cy="555.4" r="4.3"/><circle cx="245.2" cy="558.8" r="4.3"/><circle cx="246.4" cy="562.1" r="4.3"/><circle cx="247.6" cy="532.1" r="4.3"/><circle cx="248.9" cy="530.9" r="4.3"/><circle cx="250.1" cy="526.1" r="4.3"/><circle cx="251.3" cy="553.3" r="4.3"/><circle cx="252.5" cy="509.8" r="4.3"/><circle cx="253.7" cy="518.9" r="4.3"/><circle cx="254.9" cy="481.4" r="4.3"/><circle cx="256.1" cy="474.5" r="4.3"/><circle cx="257.4" cy="489.2" r="4.3"/><circle cx="258.6" cy="478.8" r="4.3"/><circle cx="259.8" cy="492.2" r="4.3"/><circle cx="261.0" cy="474.4" r="4.3"/><circle cx="262.2" cy="495.7" r="4.3"/><circle cx="263.4" cy="455.7" r="4.3"/><circle cx="264.6" cy="460.5" r="4.3"/><circle cx="265.9" cy="454.7" r="4.3"/><circle cx="267.1" cy="443.7" r="4.3"/><circle cx="268.3" cy="448.1" r="4.3"/><circle cx="269.5" cy="454.5" r="4.3"/><circle cx="270.7" cy="447.4" r="4.3"/><circle cx="271.9" cy="445.1" r="4.3"/><circle cx="273.1" cy="443.6" r="4.3"/><circle cx="274.4" cy="434.3" r="4.3"/><circle cx="275.6" cy="447.6" r="4.3"/><circle cx="276.8" cy="438.9" r="4.3"/><circle cx="278.0" cy="443.1" r="4.3"/><circle cx="279.2" cy="451.6" r="4.3"/><circle cx="280.4" cy="454.4" r="4.3"/><circle cx="281.6" cy="450.1" r="4.3"/><circle cx="282.9" cy="455.2" r="4.3"/><circle cx="284.1" cy="476.7" r="4.3"/><circle cx="285.3" cy="461.8" r="4.3"/><circle cx="286.5" cy="472.6" r="4.3"/><circle cx="287.7" cy="480.5" r="4.3"/><circle cx="288.9" cy="500.0" r="4.3"/><circle cx="290.1" cy="501.7" r="4.3"/><circle cx="291.4" cy="516.9" r="4.3"/><circle cx="292.6" cy="503.2" r="4.3"/><circle cx="293.8" cy="494.4" r="4.3"/><circle cx="295.0" cy="510.2" r="4.3"/><circle cx="296.2" cy="497.3" r="4.3"/><circle cx="297.4" cy="508.7" r="4.3"/><circle cx="298.6" cy="505.9" r="4.3"/><circle cx="299.9" cy="511.8" r="4.3"/><circle cx="301.1" cy="536.0" r="4.3"/><circle cx="302.3" cy="520.0" r="4.3"/><circle cx="303.5" cy="535.2" r="4.3"/><circle cx="304.7" cy="549.3" r="4.3"/><circle cx="305.9" cy="538.9" r="4.3"/><circle cx="307.1" cy="550.7" r="4.3"/><circle cx="308.4" cy="537.3" r="4.3"/><circle cx="309.6" cy="546.9" r="4.3"/><circle cx="310.8" cy="556.8" r="4.3"/><circle cx="312.0" cy="547.3" r="4.3"/><circle cx="313.2" cy="560.9" r="4.3"/><circle cx="314.4" cy="558.4" r="4.3"/><circle cx="315.6" cy="572.7" r="4.3"/><circle cx="316.9" cy="559.3" r="4.3"/><circle cx="318.1" cy="565.0" r="4.3"/><circle cx="319.3" cy="578.3" r="4.3"/><circle cx="320.5" cy="569.5" r="4.3"/><circle cx="321.7" cy="593.9" r="4.3"/><circle cx="322.9" cy="601.9" r="4.3"/><circle cx="324.1" cy="583.9" r="4.3"/><circle cx="325.4" cy="596.0" r="4.3"/><circle cx="326.6" cy="603.0" r="4.3"/><circle cx="327.8" cy="596.8" r="4.3"/><circle cx="329.0" cy="590.5" r="4.3"/><circle cx="330.2" cy="616.6" r="4.3"/><circle cx="331.4" cy="621.8" r="4.3"/><circle cx="332.6" cy="630.6" r="4.3"/><circle cx="333.9" cy="617.6" r="4.3"/><circle cx="335.1" cy="624.9" r="4.3"/><circle cx="336.3" cy="630.1" r="4.3"/><circle cx="337.5" cy="638.6" r="4.3"/><circle cx="338.7" cy="631.3" r="4.3"/><circle cx="339.9" cy="647.9" r="4.3"/><circle cx="341.1" cy="645.4" r="4.3"/><circle cx="342.4" cy="643.9" r="4.3"/><circle cx="343.6" cy="654.9" r="4.3"/><circle cx="344.8" cy="676.5" r="4.3"/><circle cx="346.0" cy="657.8" r="4.3"/><circle cx="347.2" cy="663.8" r="4.3"/><circle cx="348.4" cy="665.4" r="4.3"/><circle cx="349.6" cy="660.0" r="4.3"/><circle cx="350.9" cy="666.0" r="4.3"/><circle cx="352.1" cy="676.8" r="4.3"/><circle cx="353.3" cy="663.0" r="4.3"/><circle cx="354.5" cy="676.7" r="4.3"/><circle cx="355.7" cy="667.8" r="4.3"/><circle cx="356.9" cy="656.5" r="4.3"/><circle cx="358.1" cy="656.9" r="4.3"/><circle cx="359.4" cy="656.6" r="4.3"/><circle cx="360.6" cy="651.4" r="4.3"/><circle cx="361.8" cy="665.5" r="4.3"/><circle cx="363.0" cy="661.6" r="4.3"/><circle cx="364.2" cy="657.8" r="4.3"/><circle cx="365.4" cy="647.7" r="4.3"/><circle cx="366.6" cy="659.9" r="4.3"/><circle cx="367.9" cy="650.9" r="4.3"/><circle cx="369.1" cy="673.8" r="4.3"/><circle cx="370.3" cy="654.2" r="4.3"/><circle cx="371.5" cy="651.4" r="4.3"/><circle cx="372.7" cy="657.1" r="4.3"/><circle cx="373.9" cy="652.6" r="4.3"/><circle cx="375.1" cy="652.9" r="4.3"/><circle cx="376.4" cy="649.7" r="4.3"/><circle cx="377.6" cy="659.2" r="4.3"/><circle cx="378.8" cy="643.7" r="4.3"/><circle cx="380.0" cy="647.6" r="4.3"/><circle cx="381.2" cy="650.9" r="4.3"/><circle cx="382.4" cy="648.5" r="4.3"/><circle cx="383.6" cy="637.0" r="4.3"/><circle cx="384.9" cy="639.9" r="4.3"/><circle cx="386.1" cy="644.0" r="4.3"/><circle cx="387.3" cy="640.9" r="4.3"/><circle cx="388.5" cy="652.5" r="4.3"/><circle cx="389.7" cy="644.2" r="4.3"/><circle cx="390.9" cy="644.1" r="4.3"/><circle cx="392.1" cy="636.7" r="4.3"/><circle cx="393.4" cy="646.9" r="4.3"/><circle cx="394.6" cy="639.3" r="4.3"/><circle cx="395.8" cy="634.7" r="4.3"/><circle cx="397.0" cy="636.1" r="4.3"/><circle cx="398.2" cy="660.3" r="4.3"/><circle cx="399.4" cy="636.0" r="4.3"/><circle cx="400.6" cy="633.3" r="4.3"/><circle cx="401.9" cy="650.9" r="4.3"/><circle cx="403.1" cy="648.6" r="4.3"/><circle cx="404.3" cy="639.4" r="4.3"/><circle cx="405.5" cy="655.9" r="4.3"/><circle cx="406.7" cy="633.5" r="4.3"/><circle cx="407.9" cy="643.4" r="4.3"/><circle cx="409.1" cy="631.2" r="4.3"/><circle cx="410.4" cy="658.6" r="4.3"/><circle cx="411.6" cy="650.9" r="4.3"/><circle cx="412.8" cy="669.0" r="4.3"/><circle cx="414.0" cy="656.4" r="4.3"/><circle cx="415.2" cy="660.0" r="4.3"/><circle cx="416.4" cy="643.7" r="4.3"/><circle cx="417.6" cy="648.4" r="4.3"/><circle cx="418.9" cy="654.3" r="4.3"/><circle cx="420.1" cy="664.4" r="4.3"/><circle cx="421.3" cy="650.1" r="4.3"/><circle cx="422.5" cy="640.2" r="4.3"/><circle cx="423.7" cy="665.9" r="4.3"/><circle cx="424.9" cy="665.9" r="4.3"/><circle cx="426.1" cy="650.6" r="4.3"/><circle cx="427.4" cy="662.8" r="4.3"/><circle cx="428.6" cy="666.4" r="4.3"/><circle cx="429.8" cy="665.7" r="4.3"/><circle cx="431.0" cy="639.2" r="4.3"/><circle cx="432.2" cy="655.7" r="4.3"/><circle cx="433.4" cy="647.1" r="4.3"/><circle cx="434.6" cy="649.7" r="4.3"/><circle cx="435.9" cy="638.0" r="4.3"/><circle cx="437.1" cy="633.6" r="4.3"/><circle cx="438.3" cy="642.1" r="4.3"/><circle cx="439.5" cy="639.7" r="4.3"/><circle cx="440.7" cy="621.3" r="4.3"/><circle cx="441.9" cy="619.9" r="4.3"/><circle cx="443.1" cy="626.2" r="4.3"/><circle cx="444.4" cy="631.4" r="4.3"/><circle cx="445.6" cy="615.6" r="4.3"/><circle cx="446.8" cy="604.7" r="4.3"/><circle cx="448.0" cy="603.2" r="4.3"/><circle cx="449.2" cy="613.4" r="4.3"/><circle cx="450.4" cy="617.9" r="4.3"/><circle cx="451.6" cy="606.2" r="4.3"/><circle cx="452.9" cy="615.9" r="4.3"/><circle cx="454.1" cy="625.5" r="4.3"/><circle cx="455.3" cy="615.8" r="4.3"/><circle cx="456.5" cy="618.5" r="4.3"/><circle cx="457.7" cy="614.0" r="4.3"/><circle cx="458.9" cy="628.6" r="4.3"/><circle cx="460.1" cy="651.7" r="4.3"/><circle cx="461.4" cy="630.5" r="4.3"/><circle cx="462.6" cy="645.8" r="4.3"/><circle cx="463.8" cy="643.9" r="4.3"/><circle cx="465.0" cy="659.7" r="4.3"/><circle cx="466.2" cy="631.7" r="4.3"/><circle cx="467.4" cy="654.1" r="4.3"/><circle cx="468.6" cy="650.7" r="4.3"/><circle cx="469.9" cy="685.2" r="4.3"/><circle cx="471.1" cy="669.1" r="4.3"/><circle cx="472.3" cy="670.2" r="4.3"/><circle cx="473.5" cy="687.6" r="4.3"/><circle cx="474.7" cy="688.9" r="4.3"/><circle cx="475.9" cy="674.3" r="4.3"/><circle cx="477.1" cy="690.8" r="4.3"/><circle cx="478.4" cy="701.2" r="4.3"/><circle cx="479.6" cy="704.2" r="4.3"/><circle cx="480.8" cy="703.1" r="4.3"/><circle cx="482.0" cy="703.5" r="4.3"/><circle cx="483.2" cy="718.1" r="4.3"/><circle cx="484.4" cy="712.7" r="4.3"/><circle cx="485.6" cy="703.9" r="4.3"/><circle cx="486.9" cy="706.7" r="4.3"/><circle cx="488.1" cy="709.1" r="4.3"/><circle cx="489.3" cy="713.4" r="4.3"/><circle cx="490.5" cy="709.5" r="4.3"/><circle cx="491.7" cy="721.2" r="4.3"/><circle cx="492.9" cy="711.9" r="4.3"/><circle cx="494.1" cy="722.3" r="4.3"/><circle cx="495.4" cy="710.6" r="4.3"/><circle cx="496.6" cy="723.3" r="4.3"/><circle cx="497.8" cy="715.6" r="4.3"/><circle cx="499.0" cy="724.0" r="4.3"/><circle cx="500.2" cy="724.4" r="4.3"/><circle cx="501.4" cy="725.8" r="4.3"/><circle cx="502.6" cy="721.9" r="4.3"/><circle cx="503.9" cy="709.0" r="4.3"/><circle cx="505.1" cy="708.0" r="4.3"/><circle cx="506.3" cy="687.2" r="4.3"/><circle cx="507.5" cy="720.1" r="4.3"/><circle cx="508.7" cy="719.2" r="4.3"/><circle cx="509.9" cy="716.2" r="4.3"/><circle cx="511.1" cy="698.0" r="4.3"/><circle cx="512.4" cy="723.7" r="4.3"/><circle cx="513.6" cy="697.1" r="4.3"/><circle cx="514.8" cy="701.9" r="4.3"/><circle cx="516.0" cy="690.3" r="4.3"/><circle cx="517.2" cy="693.0" r="4.3"/><circle cx="518.4" cy="700.6" r="4.3"/><circle cx="519.6" cy="703.2" r="4.3"/><circle cx="520.9" cy="678.2" r="4.3"/><circle cx="522.1" cy="680.5" r="4.3"/><circle cx="523.3" cy="691.3" r="4.3"/><circle cx="524.5" cy="665.3" r="4.3"/><circle cx="525.7" cy="685.9" r="4.3"/><circle cx="526.9" cy="665.7" r="4.3"/><circle cx="528.1" cy="679.2" r="4.3"/><circle cx="529.4" cy="671.8" r="4.3"/><circle cx="530.6" cy="677.3" r="4.3"/><circle cx="531.8" cy="668.0" r="4.3"/><circle cx="533.0" cy="666.3" r="4.3"/><circle cx="534.2" cy="667.1" r="4.3"/><circle cx="535.4" cy="661.1" r="4.3"/><circle cx="536.6" cy="666.1" r="4.3"/><circle cx="537.9" cy="660.4" r="4.3"/><circle cx="539.1" cy="663.8" r="4.3"/><circle cx="540.3" cy="672.4" r="4.3"/><circle cx="541.5" cy="665.2" r="4.3"/><circle cx="542.7" cy="676.3" r="4.3"/><circle cx="543.9" cy="672.3" r="4.3"/><circle cx="545.1" cy="673.0" r="4.3"/><circle cx="546.4" cy="659.7" r="4.3"/><circle cx="547.6" cy="669.6" r="4.3"/><circle cx="548.8" cy="678.7" r="4.3"/><circle cx="550.0" cy="676.3" r="4.3"/><circle cx="551.2" cy="680.1" r="4.3"/><circle cx="552.4" cy="683.3" r="4.3"/><circle cx="553.6" cy="660.4" r="4.3"/><circle cx="554.9" cy="677.4" r="4.3"/><circle cx="556.1" cy="677.6" r="4.3"/><circle cx="557.3" cy="673.0" r="4.3"/><circle cx="558.5" cy="665.9" r="4.3"/><circle cx="559.7" cy="677.0" r="4.3"/><circle cx="560.9" cy="675.7" r="4.3"/><circle cx="562.1" cy="690.3" r="4.3"/><circle cx="563.4" cy="681.8" r="4.3"/><circle cx="564.6" cy="674.1" r="4.3"/><circle cx="565.8" cy="669.2" r="4.3"/><circle cx="567.0" cy="665.5" r="4.3"/><circle cx="568.2" cy="672.7" r="4.3"/><circle cx="569.4" cy="669.4" r="4.3"/><circle cx="570.6" cy="683.8" r="4.3"/><circle cx="571.9" cy="663.3" r="4.3"/><circle cx="573.1" cy="670.5" r="4.3"/><circle cx="574.3" cy="666.6" r="4.3"/><circle cx="575.5" cy="671.4" r="4.3"/><circle cx="576.7" cy="654.0" r="4.3"/><circle cx="577.9" cy="653.4" r="4.3"/><circle cx="579.1" cy="663.8" r="4.3"/><circle cx="580.4" cy="663.1" r="4.3"/><circle cx="581.6" cy="654.9" r="4.3"/><circle cx="582.8" cy="651.7" r="4.3"/><circle cx="584.0" cy="656.5" r="4.3"/><circle cx="585.2" cy="661.8" r="4.3"/><circle cx="586.4" cy="634.6" r="4.3"/><circle cx="587.6" cy="653.9" r="4.3"/><circle cx="588.9" cy="650.9" r="4.3"/><circle cx="590.1" cy="623.2" r="4.3"/><circle cx="591.3" cy="641.0" r="4.3"/><circle cx="592.5" cy="646.0" r="4.3"/><circle cx="593.7" cy="623.0" r="4.3"/><circle cx="594.9" cy="636.6" r="4.3"/><circle cx="596.1" cy="627.1" r="4.3"/><circle cx="597.4" cy="625.3" r="4.3"/><circle cx="598.6" cy="613.9" r="4.3"/><circle cx="599.8" cy="606.3" r="4.3"/><circle cx="601.0" cy="605.9" r="4.3"/><circle cx="602.2" cy="608.3" r="4.3"/><circle cx="603.4" cy="607.0" r="4.3"/><circle cx="604.6" cy="609.2" r="4.3"/><circle cx="605.9" cy="595.7" r="4.3"/><circle cx="607.1" cy="583.8" r="4.3"/><circle cx="608.3" cy="602.5" r="4.3"/><circle cx="609.5" cy="593.8" r="4.3"/><circle cx="610.7" cy="587.1" r="4.3"/><circle cx="611.9" cy="589.3" r="4.3"/><circle cx="613.1" cy="574.5" r="4.3"/><circle cx="614.4" cy="572.6" r="4.3"/><circle cx="615.6" cy="595.5" r="4.3"/><circle cx="616.8" cy="587.9" r="4.3"/><circle cx="618.0" cy="569.8" r="4.3"/><circle cx="619.2" cy="577.9" r="4.3"/><circle cx="620.4" cy="573.4" r="4.3"/><circle cx="621.6" cy="571.3" r="4.3"/><circle cx="622.9" cy="567.6" r="4.3"/><circle cx="624.1" cy="573.1" r="4.3"/><circle cx="625.3" cy="559.1" r="4.3"/><circle cx="626.5" cy="560.1" r="4.3"/><circle cx="627.7" cy="556.4" r="4.3"/><circle cx="628.9" cy="563.0" r="4.3"/><circle cx="630.1" cy="572.0" r="4.3"/><circle cx="631.4" cy="555.8" r="4.3"/><circle cx="632.6" cy="555.3" r="4.3"/><circle cx="633.8" cy="554.3" r="4.3"/><circle cx="635.0" cy="561.9" r="4.3"/><circle cx="636.2" cy="551.9" r="4.3"/><circle cx="637.4" cy="545.2" r="4.3"/><circle cx="638.6" cy="550.9" r="4.3"/><circle cx="639.9" cy="571.3" r="4.3"/><circle cx="641.1" cy="550.5" r="4.3"/><circle cx="642.3" cy="548.4" r="4.3"/><circle cx="643.5" cy="543.9" r="4.3"/><circle cx="644.7" cy="549.6" r="4.3"/><circle cx="645.9" cy="550.0" r="4.3"/><circle cx="647.1" cy="535.5" r="4.3"/><circle cx="648.4" cy="525.8" r="4.3"/><circle cx="649.6" cy="539.0" r="4.3"/><circle cx="650.8" cy="541.7" r="4.3"/><circle cx="652.0" cy="528.5" r="4.3"/><circle cx="653.2" cy="512.3" r="4.3"/><circle cx="654.4" cy="494.1" r="4.3"/><circle cx="655.6" cy="473.6" r="4.3"/><circle cx="656.9" cy="493.6" r="4.3"/><circle cx="658.1" cy="499.6" r="4.3"/><circle cx="659.3" cy="457.6" r="4.3"/><circle cx="660.5" cy="490.9" r="4.3"/><circle cx="661.7" cy="459.1" r="4.3"/><circle cx="662.9" cy="459.8" r="4.3"/><circle cx="664.1" cy="442.9" r="4.3"/><circle cx="665.4" cy="463.5" r="4.3"/><circle cx="666.6" cy="460.3" r="4.3"/><circle cx="667.8" cy="461.1" r="4.3"/><circle cx="669.0" cy="443.7" r="4.3"/><circle cx="670.2" cy="450.0" r="4.3"/><circle cx="671.4" cy="440.6" r="4.3"/><circle cx="672.6" cy="442.3" r="4.3"/><circle cx="673.9" cy="441.8" r="4.3"/><circle cx="675.1" cy="444.2" r="4.3"/><circle cx="676.3" cy="431.8" r="4.3"/><circle cx="677.5" cy="443.3" r="4.3"/><circle cx="678.7" cy="444.7" r="4.3"/><circle cx="679.9" cy="425.5" r="4.3"/><circle cx="681.1" cy="449.8" r="4.3"/><circle cx="682.4" cy="449.0" r="4.3"/><circle cx="683.6" cy="500.4" r="4.3"/><circle cx="684.8" cy="464.9" r="4.3"/><circle cx="686.0" cy="476.4" r="4.3"/><circle cx="687.2" cy="501.6" r="4.3"/><circle cx="688.4" cy="547.5" r="4.3"/><circle cx="689.6" cy="511.3" r="4.3"/><circle cx="690.9" cy="512.4" r="4.3"/><circle cx="692.1" cy="570.2" r="4.3"/><circle cx="693.3" cy="540.2" r="4.3"/><circle cx="694.5" cy="513.6" r="4.3"/><circle cx="695.7" cy="535.1" r="4.3"/><circle cx="696.9" cy="564.3" r="4.3"/><circle cx="698.1" cy="544.1" r="4.3"/><circle cx="699.4" cy="598.6" r="4.3"/><circle cx="700.6" cy="586.6" r="4.3"/><circle cx="701.8" cy="591.7" r="4.3"/><circle cx="703.0" cy="609.7" r="4.3"/><circle cx="704.2" cy="612.5" r="4.3"/><circle cx="705.4" cy="629.0" r="4.3"/><circle cx="706.6" cy="624.6" r="4.3"/><circle cx="707.9" cy="608.6" r="4.3"/><circle cx="709.1" cy="646.4" r="4.3"/><circle cx="710.3" cy="641.1" r="4.3"/><circle cx="711.5" cy="656.3" r="4.3"/><circle cx="712.7" cy="655.3" r="4.3"/><circle cx="713.9" cy="663.1" r="4.3"/><circle cx="715.1" cy="654.9" r="4.3"/><circle cx="716.4" cy="650.7" r="4.3"/><circle cx="717.6" cy="630.9" r="4.3"/><circle cx="718.8" cy="668.1" r="4.3"/><circle cx="720.0" cy="668.6" r="4.3"/><circle cx="721.2" cy="681.0" r="4.3"/><circle cx="722.4" cy="662.6" r="4.3"/><circle cx="723.6" cy="690.7" r="4.3"/><circle cx="724.9" cy="659.4" r="4.3"/><circle cx="726.1" cy="672.2" r="4.3"/><circle cx="727.3" cy="662.4" r="4.3"/><circle cx="728.5" cy="669.9" r="4.3"/><circle cx="729.7" cy="653.6" r="4.3"/><circle cx="730.9" cy="667.0" r="4.3"/><circle cx="732.1" cy="652.2" r="4.3"/><circle cx="733.4" cy="675.2" r="4.3"/><circle cx="734.6" cy="673.0" r="4.3"/><circle cx="735.8" cy="681.9" r="4.3"/><circle cx="737.0" cy="664.5" r="4.3"/><circle cx="738.2" cy="683.1" r="4.3"/><circle cx="739.4" cy="686.0" r="4.3"/><circle cx="740.6" cy="660.7" r="4.3"/><circle cx="741.9" cy="713.1" r="4.3"/><circle cx="743.1" cy="700.4" r="4.3"/><circle cx="744.3" cy="687.3" r="4.3"/><circle cx="745.5" cy="723.2" r="4.3"/><circle cx="746.7" cy="716.7" r="4.3"/><circle cx="747.9" cy="666.9" r="4.3"/><circle cx="749.1" cy="699.4" r="4.3"/><circle cx="750.4" cy="693.8" r="4.3"/><circle cx="751.6" cy="706.3" r="4.3"/><circle cx="752.8" cy="693.7" r="4.3"/><circle cx="754.0" cy="704.2" r="4.3"/><circle cx="755.2" cy="709.7" r="4.3"/><circle cx="756.4" cy="674.0" r="4.3"/><circle cx="757.6" cy="710.9" r="4.3"/><circle cx="758.9" cy="730.8" r="4.3"/><circle cx="760.1" cy="711.6" r="4.3"/><circle cx="761.3" cy="728.6" r="4.3"/><circle cx="762.5" cy="733.1" r="4.3"/><circle cx="763.7" cy="716.3" r="4.3"/><circle cx="764.9" cy="718.7" r="4.3"/><circle cx="766.1" cy="717.7" r="4.3"/><circle cx="767.4" cy="708.3" r="4.3"/><circle cx="768.6" cy="747.8" r="4.3"/><circle cx="769.8" cy="720.6" r="4.3"/><circle cx="771.0" cy="723.5" r="4.3"/><circle cx="772.2" cy="730.3" r="4.3"/><circle cx="773.4" cy="738.4" r="4.3"/><circle cx="774.6" cy="698.0" r="4.3"/><circle cx="775.9" cy="701.6" r="4.3"/><circle cx="777.1" cy="719.7" r="4.3"/><circle cx="778.3" cy="726.3" r="4.3"/><circle cx="779.5" cy="699.8" r="4.3"/><circle cx="780.7" cy="697.7" r="4.3"/><circle cx="781.9" cy="729.7" r="4.3"/><circle cx="783.1" cy="729.0" r="4.3"/><circle cx="784.4" cy="713.5" r="4.3"/><circle cx="785.6" cy="713.6" r="4.3"/><circle cx="786.8" cy="708.9" r="4.3"/><circle cx="788.0" cy="700.9" r="4.3"/><circle cx="789.2" cy="705.9" r="4.3"/><circle cx="790.4" cy="721.0" r="4.3"/><circle cx="791.6" cy="715.6" r="4.3"/><circle cx="792.9" cy="732.7" r="4.3"/><circle cx="794.1" cy="699.0" r="4.3"/><circle cx="795.3" cy="694.0" r="4.3"/><circle cx="796.5" cy="727.1" r="4.3"/><circle cx="797.7" cy="704.3" r="4.3"/><circle cx="798.9" cy="713.7" r="4.3"/><circle cx="800.1" cy="719.3" r="4.3"/><circle cx="801.4" cy="699.4" r="4.3"/><circle cx="802.6" cy="694.8" r="4.3"/><circle cx="803.8" cy="722.3" r="4.3"/><circle cx="805.0" cy="676.7" r="4.3"/><circle cx="806.2" cy="727.7" r="4.3"/><circle cx="807.4" cy="691.0" r="4.3"/><circle cx="808.6" cy="729.7" r="4.3"/><circle cx="809.9" cy="721.9" r="4.3"/><circle cx="811.1" cy="721.1" r="4.3"/><circle cx="812.3" cy="724.8" r="4.3"/><circle cx="813.5" cy="719.5" r="4.3"/><circle cx="814.7" cy="696.7" r="4.3"/><circle cx="815.9" cy="730.6" r="4.3"/><circle cx="817.1" cy="720.6" r="4.3"/><circle cx="818.4" cy="726.7" r="4.3"/><circle cx="819.6" cy="717.2" r="4.3"/><circle cx="820.8" cy="716.2" r="4.3"/><circle cx="822.0" cy="735.0" r="4.3"/><circle cx="823.2" cy="736.1" r="4.3"/><circle cx="824.4" cy="725.4" r="4.3"/><circle cx="825.6" cy="702.8" r="4.3"/><circle cx="826.9" cy="707.4" r="4.3"/><circle cx="828.1" cy="706.2" r="4.3"/><circle cx="829.3" cy="740.2" r="4.3"/><circle cx="830.5" cy="730.3" r="4.3"/><circle cx="831.7" cy="723.5" r="4.3"/><circle cx="832.9" cy="720.2" r="4.3"/></g><path d="M78.9 710.0 80.1 709.5 81.3 709.1 82.5 708.6 83.7 708.1 84.9 707.5 86.1 707.0 87.4 706.4 88.6 705.7 89.8 705.1 91.0 704.3 92.2 703.6 93.4 702.8 94.6 701.9 95.9 701.0 97.1 700.1 98.3 699.0 99.5 697.9 100.7 696.7 101.9 695.5 103.1 694.1 104.4 692.7 105.6 691.1 106.8 689.5 108.0 687.7 109.2 685.8 110.4 683.8 111.6 681.6 112.9 679.2 114.1 676.7 115.3 674.1 116.5 671.2 117.7 668.2 118.9 664.9 120.1 661.5 121.4 657.8 122.6 653.9 123.8 649.7 125.0 645.4 126.2 640.7 127.4 635.9 128.6 630.7 129.9 625.3 131.1 619.7 132.3 613.7 133.5 607.6 134.7 601.1 135.9 594.5 137.1 587.5 138.4 580.4 139.6 573.0 140.8 565.4 142.0 557.7 143.2 549.8 144.4 541.7 145.6 533.5 146.9 525.3 148.1 517.0 149.3 508.7 150.5 500.5 151.7 492.3 152.9 484.3 154.1 476.4 155.4 468.9 156.6 461.6 157.8 454.7 159.0 448.3 160.2 442.3 161.4 437.0 162.6 432.2 163.9 428.2 165.1 424.8 166.3 422.2 167.5 420.4 168.7 419.3 169.9 419.0 171.1 419.5 172.4 420.7 173.6 422.5 174.8 425.1 176.0 428.1 177.2 431.7 178.4 435.8 179.6 440.3 180.9 445.1 182.1 450.2 183.3 455.5 184.5 461.0 185.7 466.6 186.9 472.3 188.1 478.0 189.4 483.7 190.6 489.4 191.8 495.0 193.0 500.5 194.2 505.9 195.4 511.2 196.6 516.3 197.9 521.3 199.1 526.0 200.3 530.6 201.5 535.0 202.7 539.2 203.9 543.2 205.1 547.0 206.4 550.6 207.6 553.9 208.8 557.1 210.0 560.0 211.2 562.8 212.4 565.3 213.6 567.7 214.9 569.8 216.1 571.8 217.3 573.6 218.5 575.1 219.7 576.5 220.9 577.7 222.1 578.7 223.4 579.6 224.6 580.2 225.8 580.6 227.0 580.8 228.2 580.8 229.4 580.6 230.6 580.2 231.9 579.6 233.1 578.7 234.3 577.5 235.5 576.1 236.7 574.4 237.9 572.4 239.1 570.2 240.4 567.6 241.6 564.8 242.8 561.6 244.0 558.2 245.2 554.4 246.4 550.3 247.6 545.9 248.9 541.2 250.1 536.3 251.3 531.1 252.5 525.6 253.7 519.9 254.9 514.1 256.1 508.1 257.4 502.0 258.6 495.8 259.8 489.7 261.0 483.6 262.2 477.7 263.4 472.0 264.6 466.6 265.9 461.6 267.1 457.1 268.3 453.1 269.5 449.8 270.7 447.2 271.9 445.3 273.1 444.3 274.4 444.0 275.6 444.6 276.8 446.0 278.0 448.1 279.2 450.8 280.4 454.2 281.6 458.0 282.9 462.3 284.1 466.9 285.3 471.7 286.5 476.7 287.7 481.7 288.9 486.8 290.1 491.8 291.4 496.8 292.6 501.6 293.8 506.3 295.0 510.7 296.2 515.0 297.4 519.1 298.6 523.0 299.9 526.7 301.1 530.3 302.3 533.7 303.5 536.9 304.7 540.0 305.9 543.0 307.1 546.0 308.4 548.9 309.6 551.9 310.8 554.8 312.0 557.8 313.2 560.9 314.4 564.0 315.6 567.2 316.9 570.6 318.1 574.0 319.3 577.6 320.5 581.3 321.7 585.1 322.9 588.9 324.1 592.9 325.4 596.9 326.6 600.9 327.8 605.0 329.0 609.1 330.2 613.1 331.4 617.2 332.6 621.1 333.9 625.0 335.1 628.8 336.3 632.5 337.5 636.0 338.7 639.4 339.9 642.7 341.1 645.7 342.4 648.6 343.6 651.3 344.8 653.8 346.0 656.1 347.2 658.1 348.4 660.0 349.6 661.6 350.9 663.0 352.1 664.2 353.3 665.2 354.5 666.0 355.7 666.6 356.9 667.0 358.1 667.2 359.4 667.3 360.6 667.1 361.8 666.9 363.0 666.5 364.2 665.9 365.4 665.3 366.6 664.5 367.9 663.6 369.1 662.7 370.3 661.7 371.5 660.6 372.7 659.4 373.9 658.3 375.1 657.1 376.4 655.8 377.6 654.6 378.8 653.4 380.0 652.2 381.2 651.0 382.4 649.9 383.6 648.8 384.9 647.8 386.1 646.8 387.3 645.9 388.5 645.1 389.7 644.4 390.9 643.7 392.1 643.2 393.4 642.8 394.6 642.4 395.8 642.2 397.0 642.1 398.2 642.2 399.4 642.3 400.6 642.5 401.9 642.9 403.1 643.4 404.3 643.9 405.5 644.6 406.7 645.3 407.9 646.1 409.1 646.9 410.4 647.8 411.6 648.7 412.8 649.6 414.0 650.5 415.2 651.4 416.4 652.2 417.6 653.0 418.9 653.6 420.1 654.1 421.3 654.5 422.5 654.7 423.7 654.7 424.9 654.4 426.1 654.0 427.4 653.3 428.6 652.4 429.8 651.1 431.0 649.7 432.2 648.0 433.4 646.1 434.6 643.9 435.9 641.6 437.1 639.2 438.3 636.7 439.5 634.1 440.7 631.6 441.9 629.1 443.1 626.7 444.4 624.6 445.6 622.7 446.8 621.1 448.0 619.9 449.2 619.2 450.4 618.8 451.6 619.0 452.9 619.6 454.1 620.8 455.3 622.5 456.5 624.6 457.7 627.2 458.9 630.3 460.1 633.8 461.4 637.6 462.6 641.6 463.8 645.9 465.0 650.4 466.2 655.0 467.4 659.6 468.6 664.2 469.9 668.7 471.1 673.1 472.3 677.4 473.5 681.4 474.7 685.2 475.9 688.8 477.1 692.1 478.4 695.2 479.6 697.9 480.8 700.4 482.0 702.6 483.2 704.6 484.4 706.3 485.6 707.8 486.9 709.1 488.1 710.1 489.3 711.0 490.5 711.7 491.7 712.3 492.9 712.7 494.1 712.9 495.4 713.1 496.6 713.1 497.8 712.9 499.0 712.7 500.2 712.4 501.4 711.9 502.6 711.3 503.9 710.7 505.1 709.9 506.3 709.0 507.5 707.9 508.7 706.8 509.9 705.6 511.1 704.2 512.4 702.7 513.6 701.2 514.8 699.5 516.0 697.8 517.2 696.0 518.4 694.2 519.6 692.3 520.9 690.4 522.1 688.5 523.3 686.7 524.5 684.9 525.7 683.2 526.9 681.5 528.1 680.0 529.4 678.6 530.6 677.4 531.8 676.3 533.0 675.4 534.2 674.7 535.4 674.2 536.6 673.8 537.9 673.6 539.1 673.6 540.3 673.7 541.5 674.0 542.7 674.4 543.9 674.9 545.1 675.5 546.4 676.1 547.6 676.8 548.8 677.5 550.0 678.1 551.2 678.7 552.4 679.3 553.6 679.7 554.9 680.1 556.1 680.4 557.3 680.5 558.5 680.5 559.7 680.3 560.9 680.0 562.1 679.6 563.4 679.0 564.6 678.2 565.8 677.3 567.0 676.3 568.2 675.1 569.4 673.8 570.6 672.4 571.9 670.9 573.1 669.2 574.3 667.4 575.5 665.6 576.7 663.7 577.9 661.6 579.1 659.6 580.4 657.4 581.6 655.2 582.8 652.9 584.0 650.6 585.2 648.3 586.4 645.9 587.6 643.5 588.9 641.1 590.1 638.6 591.3 636.1 592.5 633.7 593.7 631.2 594.9 628.7 596.1 626.2 597.4 623.8 598.6 621.3 599.8 618.9 601.0 616.5 602.2 614.1 603.4 611.7 604.6 609.4 605.9 607.1 607.1 604.9 608.3 602.6 609.5 600.5 610.7 598.3 611.9 596.2 613.1 594.2 614.4 592.2 615.6 590.2 616.8 588.2 618.0 586.4 619.2 584.5 620.4 582.7 621.6 580.9 622.9 579.1 624.1 577.4 625.3 575.7 626.5 573.9 627.7 572.2 628.9 570.5 630.1 568.7 631.4 567.0 632.6 565.1 633.8 563.3 635.0 561.3 636.2 559.3 637.4 557.2 638.6 555.0 639.9 552.7 641.1 550.2 642.3 547.6 643.5 544.8 644.7 541.9 645.9 538.7 647.1 535.3 648.4 531.6 649.6 527.8 650.8 523.6 652.0 519.2 653.2 514.6 654.4 509.7 655.6 504.5 656.9 499.1 658.1 493.6 659.3 487.8 660.5 482.0 661.7 476.1 662.9 470.3 664.1 464.6 665.4 459.2 666.6 454.1 667.8 449.6 669.0 445.7 670.2 442.6 671.4 440.3 672.6 439.1 673.9 439.0 675.1 439.9 676.3 442.1 677.5 445.4 678.7 449.8 679.9 455.2 681.1 461.5 682.4 468.6 683.6 476.4 684.8 484.7 686.0 493.4 687.2 502.4 688.4 511.5 689.6 520.6 690.9 529.7 692.1 538.6 693.3 547.4 694.5 555.9 695.7 564.1 696.9 572.0 698.1 579.6 699.4 586.9 700.6 593.8 701.8 600.4 703.0 606.6 704.2 612.5 705.4 618.1 706.6 623.4 707.9 628.4 709.1 633.1 710.3 637.5 711.5 641.7 712.7 645.6 713.9 649.3 715.1 652.8 716.4 656.1 717.6 659.2 718.8 662.1 720.0 664.9 721.2 667.5 722.4 669.9 723.6 672.2 724.9 674.4 726.1 676.4 727.3 678.4 728.5 680.2 729.7 681.9 730.9 683.5 732.1 685.1 733.4 686.5 734.6 687.9 735.8 689.2 737.0 690.5 738.2 691.6 739.4 692.8 740.6 693.8 741.9 694.8 743.1 695.8 744.3 696.7 745.5 697.6 746.7 698.4 747.9 699.2 749.1 700.0 750.4 700.7 751.6 701.4 752.8 702.0 754.0 702.7 755.2 703.3 756.4 703.8 757.6 704.4 758.9 704.9 760.1 705.4 761.3 705.9 762.5 706.4 763.7 706.9 764.9 707.3 766.1 707.7 767.4 708.1 768.6 708.5 769.8 708.9 771.0 709.2 772.2 709.6 773.4 709.9 774.6 710.3 775.9 710.6 777.1 710.9 778.3 711.2 779.5 711.5 780.7 711.7 781.9 712.0 783.1 712.3 784.4 712.5 785.6 712.8 786.8 713.0 788.0 713.2 789.2 713.4 790.4 713.7 791.6 713.9 792.9 714.1 794.1 714.3 795.3 714.5 796.5 714.6 797.7 714.8 798.9 715.0 800.1 715.2 801.4 715.3 802.6 715.5 803.8 715.6 805.0 715.8 806.2 716.0 807.4 716.1 808.6 716.2 809.9 716.4 811.1 716.5 812.3 716.6 813.5 716.8 814.7 716.9 815.9 717.0 817.1 717.1 818.4 717.2 819.6 717.4 820.8 717.5 822.0 717.6 823.2 717.7 824.4 717.8 825.6 717.9 826.9 718.0 828.1 718.1 829.3 718.2 830.5 718.3 831.7 718.4 832.9 718.4" fill="none" stroke="#000" stroke-width="5.8" stroke-linejoin="round"/><path d="M78.9 714.5 80.1 714.2 81.3 713.9 82.5 713.6 83.7 713.3 84.9 712.9 86.1 712.6 87.4 712.2 88.6 711.8 89.8 711.4 91.0 710.9 92.2 710.4 93.4 709.9 94.6 709.3 95.9 708.7 97.1 708.0 98.3 707.3 99.5 706.6 100.7 705.8 101.9 704.9 103.1 703.9 104.4 702.9 105.6 701.7 106.8 700.5 108.0 699.2 109.2 697.8 110.4 696.2 111.6 694.6 112.9 692.8 114.1 690.8 115.3 688.7 116.5 686.5 117.7 684.1 118.9 681.5 120.1 678.7 121.4 675.7 122.6 672.5 123.8 669.1 125.0 665.5 126.2 661.6 127.4 657.6 128.6 653.3 129.9 648.7 131.1 643.9 132.3 638.9 133.5 633.7 134.7 628.2 135.9 622.5 137.1 616.6 138.4 610.5 139.6 604.2 140.8 597.7 142.0 591.0 143.2 584.2 144.4 577.3 145.6 570.4 146.9 563.3 148.1 556.2 149.3 549.2 150.5 542.2 151.7 535.3 152.9 528.6 154.1 522.1 155.4 515.8 156.6 509.9 157.8 504.4 159.0 499.4 160.2 494.8 161.4 490.9 162.6 487.6 163.9 485.0 165.1 483.1 166.3 481.9 167.5 481.5 168.7 482.0 169.9 483.1 171.1 485.1 172.4 487.7 173.6 491.1 174.8 495.1 176.0 499.6 177.2 504.7 178.4 510.2 179.6 516.1 180.9 522.4 182.1 528.9 183.3 535.7 184.5 542.5 185.7 549.5 186.9 556.6 188.1 563.7 189.4 570.7 190.6 577.7 191.8 584.6 193.0 591.4 194.2 598.0 195.4 604.5 196.6 610.8 197.9 616.9 199.1 622.8 200.3 628.5 201.5 634.0 202.7 639.2 203.9 644.2 205.1 649.0 206.4 653.5 207.6 657.8 208.8 661.8 210.0 665.7 211.2 669.3 212.4 672.7 213.6 675.8 214.9 678.8 216.1 681.6 217.3 684.2 218.5 686.6 219.7 688.9 220.9 690.9 222.1 692.9 223.4 694.7 224.6 696.3 225.8 697.9 227.0 699.3 228.2 700.6 229.4 701.8 230.6 702.9 231.9 704.0 233.1 704.9 234.3 705.8 235.5 706.6 236.7 707.4 237.9 708.1 239.1 708.7 240.4 709.3 241.6 709.9 242.8 710.4 244.0 710.9 245.2 711.4 246.4 711.8 247.6 712.2 248.9 712.6 250.1 713.0 251.3 713.3 252.5 713.6 253.7 713.9 254.9 714.2 256.1 714.5 257.4 714.8 258.6 715.0 259.8 715.2 261.0 715.5 262.2 715.7 263.4 715.9 264.6 716.1 265.9 716.3 267.1 716.5 268.3 716.7 269.5 716.9 270.7 717.0 271.9 717.2 273.1 717.4 274.4 717.5 275.6 717.7 276.8 717.8 278.0 718.0 279.2 718.1 280.4 718.2 281.6 718.3 282.9 718.5 284.1 718.6 285.3 718.7 286.5 718.8 287.7 718.9 288.9 719.0 290.1 719.1 291.4 719.2 292.6 719.3 293.8 719.4 295.0 719.5 296.2 719.6 297.4 719.7 298.6 719.8 299.9 719.9 301.1 720.0 302.3 720.0 303.5 720.1 304.7 720.2 305.9 720.3 307.1 720.3 308.4 720.4 309.6 720.5 310.8 720.5 312.0 720.6 313.2 720.7 314.4 720.7 315.6 720.8 316.9 720.9 318.1 720.9 319.3 721.0 320.5 721.0 321.7 721.1 322.9 721.1 324.1 721.2 325.4 721.2 326.6 721.3 327.8 721.3 329.0 721.4 330.2 721.4 331.4 721.5 332.6 721.5 333.9 721.6 335.1 721.6 336.3 721.7 337.5 721.7 338.7 721.7 339.9 721.8 341.1 721.8 342.4 721.8 343.6 721.9 344.8 721.9 346.0 722.0 347.2 722.0 348.4 722.0 349.6 722.1 350.9 722.1 352.1 722.1 353.3 722.2 354.5 722.2 355.7 722.2 356.9 722.2 358.1 722.3 359.4 722.3 360.6 722.3 361.8 722.4 363.0 722.4 364.2 722.4 365.4 722.4 366.6 722.5 367.9 722.5 369.1 722.5 370.3 722.5 371.5 722.6 372.7 722.6 373.9 722.6 375.1 722.6 376.4 722.7 377.6 722.7 378.8 722.7 380.0 722.7 381.2 722.7 382.4 722.8 383.6 722.8 384.9 722.8 386.1 722.8 387.3 722.8 388.5 722.9 389.7 722.9 390.9 722.9 392.1 722.9 393.4 722.9 394.6 723.0 395.8 723.0 397.0 723.0 398.2 723.0 399.4 723.0 400.6 723.0 401.9 723.1 403.1 723.1 404.3 723.1 405.5 723.1 406.7 723.1 407.9 723.1 409.1 723.1 410.4 723.2 411.6 723.2 412.8 723.2 414.0 723.2 415.2 723.2 416.4 723.2 417.6 723.2 418.9 723.3 420.1 723.3 421.3 723.3 422.5 723.3 423.7 723.3 424.9 723.3 426.1 723.3 427.4 723.3 428.6 723.3 429.8 723.4 431.0 723.4 432.2 723.4 433.4 723.4 434.6 723.4 435.9 723.4 437.1 723.4 438.3 723.4 439.5 723.4 440.7 723.5 441.9 723.5 443.1 723.5 444.4 723.5 445.6 723.5 446.8 723.5 448.0 723.5 449.2 723.5 450.4 723.5 451.6 723.5 452.9 723.6 454.1 723.6 455.3 723.6 456.5 723.6 457.7 723.6 458.9 723.6 460.1 723.6 461.4 723.6 462.6 723.6 463.8 723.6 465.0 723.6 466.2 723.6 467.4 723.6 468.6 723.7 469.9 723.7 471.1 723.7 472.3 723.7 473.5 723.7 474.7 723.7 475.9 723.7 477.1 723.7 478.4 723.7 479.6 723.7 480.8 723.7 482.0 723.7 483.2 723.7 484.4 723.7 485.6 723.8 486.9 723.8 488.1 723.8 489.3 723.8 490.5 723.8 491.7 723.8 492.9 723.8 494.1 723.8 495.4 723.8 496.6 723.8 497.8 723.8 499.0 723.8 500.2 723.8 501.4 723.8 502.6 723.8 503.9 723.8 505.1 723.8 506.3 723.9 507.5 723.9 508.7 723.9 509.9 723.9 511.1 723.9 512.4 723.9 513.6 723.9 514.8 723.9 516.0 723.9 517.2 723.9 518.4 723.9 519.6 723.9 520.9 723.9 522.1 723.9 523.3 723.9 524.5 723.9 525.7 723.9 526.9 723.9 528.1 723.9 529.4 723.9 530.6 723.9 531.8 724.0 533.0 724.0 534.2 724.0 535.4 724.0 536.6 724.0 537.9 724.0 539.1 724.0 540.3 724.0 541.5 724.0 542.7 724.0 543.9 724.0 545.1 724.0 546.4 724.0 547.6 724.0 548.8 724.0 550.0 724.0 551.2 724.0 552.4 724.0 553.6 724.0 554.9 724.0 556.1 724.0 557.3 724.0 558.5 724.0 559.7 724.0 560.9 724.0 562.1 724.0 563.4 724.1 564.6 724.1 565.8 724.1 567.0 724.1 568.2 724.1 569.4 724.1 570.6 724.1 571.9 724.1 573.1 724.1 574.3 724.1 575.5 724.1 576.7 724.1 577.9 724.1 579.1 724.1 580.4 724.1 581.6 724.1 582.8 724.1 584.0 724.1 585.2 724.1 586.4 724.1 587.6 724.1 588.9 724.1 590.1 724.1 591.3 724.1 592.5 724.1 593.7 724.1 594.9 724.1 596.1 724.1 597.4 724.1 598.6 724.1 599.8 724.1 601.0 724.1 602.2 724.1 603.4 724.1 604.6 724.2 605.9 724.2 607.1 724.2 608.3 724.2 609.5 724.2 610.7 724.2 611.9 724.2 613.1 724.2 614.4 724.2 615.6 724.2 616.8 724.2 618.0 724.2 619.2 724.2 620.4 724.2 621.6 724.2 622.9 724.2 624.1 724.2 625.3 724.2 626.5 724.2 627.7 724.2 628.9 724.2 630.1 724.2 631.4 724.2 632.6 724.2 633.8 724.2 635.0 724.2 636.2 724.2 637.4 724.2 638.6 724.2 639.9 724.2 641.1 724.2 642.3 724.2 643.5 724.2 644.7 724.2 645.9 724.2 647.1 724.2 648.4 724.2 649.6 724.2 650.8 724.2 652.0 724.2 653.2 724.2 654.4 724.2 655.6 724.2 656.9 724.2 658.1 724.2 659.3 724.2 660.5 724.2 661.7 724.2 662.9 724.2 664.1 724.3 665.4 724.3 666.6 724.3 667.8 724.3 669.0 724.3 670.2 724.3 671.4 724.3 672.6 724.3 673.9 724.3 675.1 724.3 676.3 724.3 677.5 724.3 678.7 724.3 679.9 724.3 681.1 724.3 682.4 724.3 683.6 724.3 684.8 724.3 686.0 724.3 687.2 724.3 688.4 724.3 689.6 724.3 690.9 724.3 692.1 724.3 693.3 724.3 694.5 724.3 695.7 724.3 696.9 724.3 698.1 724.3 699.4 724.3 700.6 724.3 701.8 724.3 703.0 724.3 704.2 724.3 705.4 724.3 706.6 724.3 707.9 724.3 709.1 724.3 710.3 724.3 711.5 724.3 712.7 724.3 713.9 724.3 715.1 724.3 716.4 724.3 717.6 724.3 718.8 724.3 720.0 724.3 721.2 724.3 722.4 724.3 723.6 724.3 724.9 724.3 726.1 724.3 727.3 724.3 728.5 724.3 729.7 724.3 730.9 724.3 732.1 724.3 733.4 724.3 734.6 724.3 735.8 724.3 737.0 724.3 738.2 724.3 739.4 724.3 740.6 724.3 741.9 724.3 743.1 724.3 744.3 724.3 745.5 724.3 746.7 724.3 747.9 724.3 749.1 724.3 750.4 724.3 751.6 724.3 752.8 724.3 754.0 724.3 755.2 724.4 756.4 724.4 757.6 724.4 758.9 724.4 760.1 724.4 761.3 724.4 762.5 724.4 763.7 724.4 764.9 724.4 766.1 724.4 767.4 724.4 768.6 724.4 769.8 724.4 771.0 724.4 772.2 724.4 773.4 724.4 774.6 724.4 775.9 724.4 777.1 724.4 778.3 724.4 779.5 724.4 780.7 724.4 781.9 724.4 783.1 724.4 784.4 724.4 785.6 724.4 786.8 724.4 788.0 724.4 789.2 724.4 790.4 724.4 791.6 724.4 792.9 724.4 794.1 724.4 795.3 724.4 796.5 724.4 797.7 724.4 798.9 724.4 800.1 724.4 801.4 724.4 802.6 724.4 803.8 724.4 805.0 724.4 806.2 724.4 807.4 724.4 808.6 724.4 809.9 724.4 811.1 724.4 812.3 724.4 813.5 724.4 814.7 724.4 815.9 724.4 817.1 724.4 818.4 724.4 819.6 724.4 820.8 724.4 822.0 724.4 823.2 724.4 824.4 724.4 825.6 724.4 826.9 724.4 828.1 724.4 829.3 724.4 830.5 724.4 831.7 724.4 832.9 724.4" fill="none" stroke="#000000" stroke-width="3.6" stroke-linejoin="round"/><path d="M78.9 721.9 80.1 721.8 81.3 721.6 82.5 721.4 83.7 721.3 84.9 721.1 86.1 720.9 87.4 720.7 88.6 720.5 89.8 720.3 91.0 720.1 92.2 719.8 93.4 719.6 94.6 719.3 95.9 719.0 97.1 718.8 98.3 718.4 99.5 718.1 100.7 717.8 101.9 717.4 103.1 717.1 104.4 716.7 105.6 716.3 106.8 715.9 108.0 715.5 109.2 715.0 110.4 714.5 111.6 714.0 112.9 713.5 114.1 713.0 115.3 712.5 116.5 711.9 117.7 711.3 118.9 710.7 120.1 710.1 121.4 709.4 122.6 708.7 123.8 708.0 125.0 707.3 126.2 706.6 127.4 705.8 128.6 705.0 129.9 704.2 131.1 703.3 132.3 702.5 133.5 701.6 134.7 700.7 135.9 699.7 137.1 698.8 138.4 697.8 139.6 696.8 140.8 695.7 142.0 694.7 143.2 693.6 144.4 692.5 145.6 691.4 146.9 690.2 148.1 689.1 149.3 687.9 150.5 686.7 151.7 685.5 152.9 684.2 154.1 683.0 155.4 681.7 156.6 680.4 157.8 679.1 159.0 677.8 160.2 676.5 161.4 675.1 162.6 673.8 163.9 672.4 165.1 671.0 166.3 669.7 167.5 668.3 168.7 666.9 169.9 665.6 171.1 664.2 172.4 662.8 173.6 661.4 174.8 660.1 176.0 658.7 177.2 657.3 178.4 656.0 179.6 654.7 180.9 653.4 182.1 652.1 183.3 650.8 184.5 649.5 185.7 648.3 186.9 647.1 188.1 645.9 189.4 644.7 190.6 643.6 191.8 642.4 193.0 641.4 194.2 640.3 195.4 639.3 196.6 638.3 197.9 637.4 199.1 636.5 200.3 635.7 201.5 634.9 202.7 634.1 203.9 633.4 205.1 632.7 206.4 632.1 207.6 631.6 208.8 631.0 210.0 630.6 211.2 630.2 212.4 629.8 213.6 629.5 214.9 629.3 216.1 629.1 217.3 628.9 218.5 628.8 219.7 628.8 220.9 628.9 222.1 628.9 223.4 629.1 224.6 629.3 225.8 629.6 227.0 629.9 228.2 630.2 229.4 630.7 230.6 631.1 231.9 631.6 233.1 632.2 234.3 632.8 235.5 633.5 236.7 634.2 237.9 635.0 239.1 635.8 240.4 636.7 241.6 637.6 242.8 638.5 244.0 639.5 245.2 640.5 246.4 641.6 247.6 642.6 248.9 643.8 250.1 644.9 251.3 646.1 252.5 647.3 253.7 648.5 254.9 649.7 256.1 651.0 257.4 652.3 258.6 653.6 259.8 654.9 261.0 656.2 262.2 657.6 263.4 658.9 264.6 660.3 265.9 661.7 267.1 663.0 268.3 664.4 269.5 665.8 270.7 667.2 271.9 668.6 273.1 669.9 274.4 671.3 275.6 672.7 276.8 674.0 278.0 675.4 279.2 676.7 280.4 678.0 281.6 679.3 282.9 680.6 284.1 681.9 285.3 683.2 286.5 684.4 287.7 685.7 288.9 686.9 290.1 688.1 291.4 689.3 292.6 690.4 293.8 691.6 295.0 692.7 296.2 693.8 297.4 694.9 298.6 695.9 299.9 696.9 301.1 698.0 302.3 698.9 303.5 699.9 304.7 700.8 305.9 701.7 307.1 702.6 308.4 703.5 309.6 704.3 310.8 705.1 312.0 705.9 313.2 706.7 314.4 707.4 315.6 708.2 316.9 708.8 318.1 709.5 319.3 710.2 320.5 710.8 321.7 711.4 322.9 712.0 324.1 712.6 325.4 713.1 326.6 713.6 327.8 714.1 329.0 714.6 330.2 715.1 331.4 715.5 332.6 716.0 333.9 716.4 335.1 716.8 336.3 717.1 337.5 717.5 338.7 717.9 339.9 718.2 341.1 718.5 342.4 718.8 343.6 719.1 344.8 719.4 346.0 719.6 347.2 719.9 348.4 720.1 349.6 720.3 350.9 720.6 352.1 720.8 353.3 721.0 354.5 721.1 355.7 721.3 356.9 721.5 358.1 721.6 359.4 721.8 360.6 721.9 361.8 722.1 363.0 722.2 364.2 722.3 365.4 722.4 366.6 722.5 367.9 722.6 369.1 722.7 370.3 722.8 371.5 722.9 372.7 723.0 373.9 723.0 375.1 723.1 376.4 723.2 377.6 723.2 378.8 723.3 380.0 723.4 381.2 723.4 382.4 723.5 383.6 723.5 384.9 723.6 386.1 723.6 387.3 723.6 388.5 723.7 389.7 723.7 390.9 723.7 392.1 723.8 393.4 723.8 394.6 723.8 395.8 723.8 397.0 723.9 398.2 723.9 399.4 723.9 400.6 723.9 401.9 724.0 403.1 724.0 404.3 724.0 405.5 724.0 406.7 724.0 407.9 724.0 409.1 724.0 410.4 724.1 411.6 724.1 412.8 724.1 414.0 724.1 415.2 724.1 416.4 724.1 417.6 724.1 418.9 724.1 420.1 724.1 421.3 724.1 422.5 724.2 423.7 724.2 424.9 724.2 426.1 724.2 427.4 724.2 428.6 724.2 429.8 724.2 431.0 724.2 432.2 724.2 433.4 724.2 434.6 724.2 435.9 724.2 437.1 724.2 438.3 724.2 439.5 724.2 440.7 724.2 441.9 724.2 443.1 724.2 444.4 724.3 445.6 724.3 446.8 724.3 448.0 724.3 449.2 724.3 450.4 724.3 451.6 724.3 452.9 724.3 454.1 724.3 455.3 724.3 456.5 724.3 457.7 724.3 458.9 724.3 460.1 724.3 461.4 724.3 462.6 724.3 463.8 724.3 465.0 724.3 466.2 724.3 467.4 724.3 468.6 724.3 469.9 724.3 471.1 724.3 472.3 724.3 473.5 724.3 474.7 724.3 475.9 724.3 477.1 724.3 478.4 724.3 479.6 724.3 480.8 724.3 482.0 724.3 483.2 724.3 484.4 724.3 485.6 724.3 486.9 724.4 488.1 724.4 489.3 724.4 490.5 724.4 491.7 724.4 492.9 724.4 494.1 724.4 495.4 724.4 496.6 724.4 497.8 724.4 499.0 724.4 500.2 724.4 501.4 724.4 502.6 724.4 503.9 724.4 505.1 724.4 506.3 724.4 507.5 724.4 508.7 724.4 509.9 724.4 511.1 724.4 512.4 724.4 513.6 724.4 514.8 724.4 516.0 724.4 517.2 724.4 518.4 724.4 519.6 724.4 520.9 724.4 522.1 724.4 523.3 724.4 524.5 724.4 525.7 724.4 526.9 724.4 528.1 724.4 529.4 724.4 530.6 724.4 531.8 724.4 533.0 724.4 534.2 724.4 535.4 724.4 536.6 724.4 537.9 724.4 539.1 724.4 540.3 724.4 541.5 724.4 542.7 724.4 543.9 724.4 545.1 724.4 546.4 724.4 547.6 724.4 548.8 724.4 550.0 724.4 551.2 724.4 552.4 724.4 553.6 724.4 554.9 724.4 556.1 724.4 557.3 724.4 558.5 724.4 559.7 724.4 560.9 724.4 562.1 724.4 563.4 724.4 564.6 724.4 565.8 724.4 567.0 724.5 568.2 724.5 569.4 724.5 570.6 724.5 571.9 724.5 573.1 724.5 574.3 724.5 575.5 724.5 576.7 724.5 577.9 724.5 579.1 724.5 580.4 724.5 581.6 724.5 582.8 724.5 584.0 724.5 585.2 724.5 586.4 724.5 587.6 724.5 588.9 724.5 590.1 724.5 591.3 724.5 592.5 724.5 593.7 724.5 594.9 724.5 596.1 724.5 597.4 724.5 598.6 724.5 599.8 724.5 601.0 724.5 602.2 724.5 603.4 724.5 604.6 724.5 605.9 724.5 607.1 724.5 608.3 724.5 609.5 724.5 610.7 724.5 611.9 724.5 613.1 724.5 614.4 724.5 615.6 724.5 616.8 724.5 618.0 724.5 619.2 724.5 620.4 724.5 621.6 724.5 622.9 724.5 624.1 724.5 625.3 724.5 626.5 724.5 627.7 724.5 628.9 724.5 630.1 724.5 631.4 724.5 632.6 724.5 633.8 724.5 635.0 724.5 636.2 724.5 637.4 724.5 638.6 724.5 639.9 724.5 641.1 724.5 642.3 724.5 643.5 724.5 644.7 724.5 645.9 724.5 647.1 724.5 648.4 724.5 649.6 724.5 650.8 724.5 652.0 724.5 653.2 724.5 654.4 724.5 655.6 724.5 656.9 724.5 658.1 724.5 659.3 724.5 660.5 724.5 661.7 724.5 662.9 724.5 664.1 724.5 665.4 724.5 666.6 724.5 667.8 724.5 669.0 724.5 670.2 724.5 671.4 724.5 672.6 724.5 673.9 724.5 675.1 724.5 676.3 724.5 677.5 724.5 678.7 724.5 679.9 724.5 681.1 724.5 682.4 724.5 683.6 724.5 684.8 724.5 686.0 724.5 687.2 724.5 688.4 724.5 689.6 724.5 690.9 724.5 692.1 724.5 693.3 724.5 694.5 724.5 695.7 724.5 696.9 724.5 698.1 724.5 699.4 724.5 700.6 724.5 701.8 724.5 703.0 724.5 704.2 724.5 705.4 724.5 706.6 724.5 707.9 724.5 709.1 724.5 710.3 724.5 711.5 724.5 712.7 724.5 713.9 724.5 715.1 724.5 716.4 724.5 717.6 724.5 718.8 724.5 720.0 724.5 721.2 724.5 722.4 724.5 723.6 724.5 724.9 724.5 726.1 724.5 727.3 724.5 728.5 724.5 729.7 724.5 730.9 724.5 732.1 724.5 733.4 724.5 734.6 724.5 735.8 724.5 737.0 724.5 738.2 724.5 739.4 724.5 740.6 724.5 741.9 724.5 743.1 724.5 744.3 724.5 745.5 724.5 746.7 724.5 747.9 724.5 749.1 724.5 750.4 724.5 751.6 724.5 752.8 724.5 754.0 724.5 755.2 724.5 756.4 724.5 757.6 724.5 758.9 724.5 760.1 724.5 761.3 724.5 762.5 724.5 763.7 724.5 764.9 724.5 766.1 724.5 767.4 724.5 768.6 724.5 769.8 724.5 771.0 724.5 772.2 724.5 773.4 724.5 774.6 724.5 775.9 724.5 777.1 724.5 778.3 724.5 779.5 724.5 780.7 724.5 781.9 724.5 783.1 724.5 784.4 724.5 785.6 724.5 786.8 724.5 788.0 724.5 789.2 724.5 790.4 724.5 791.6 724.5 792.9 724.5 794.1 724.5 795.3 724.5 796.5 724.5 797.7 724.5 798.9 724.5 800.1 724.5 801.4 724.5 802.6 724.5 803.8 724.5 805.0 724.5 806.2 724.5 807.4 724.5 808.6 724.5 809.9 724.5 811.1 724.5 812.3 724.5 813.5 724.5 814.7 724.5 815.9 724.5 817.1 724.5 818.4 724.5 819.6 724.5 820.8 724.5 822.0 724.5 823.2 724.5 824.4 724.5 825.6 724.5 826.9 724.5 828.1 724.6 829.3 724.6 830.5 724.6 831.7 724.6 832.9 724.6" fill="none" stroke="#ff0000" stroke-width="3.6" stroke-linejoin="round"/><path d="M78.9 723.5 80.1 723.5 81.3 723.5 82.5 723.5 83.7 723.4 84.9 723.4 86.1 723.4 87.4 723.4 88.6 723.4 89.8 723.4 91.0 723.3 92.2 723.3 93.4 723.3 94.6 723.3 95.9 723.3 97.1 723.3 98.3 723.2 99.5 723.2 100.7 723.2 101.9 723.2 103.1 723.2 104.4 723.1 105.6 723.1 106.8 723.1 108.0 723.1 109.2 723.1 110.4 723.0 111.6 723.0 112.9 723.0 114.1 723.0 115.3 722.9 116.5 722.9 117.7 722.9 118.9 722.9 120.1 722.8 121.4 722.8 122.6 722.8 123.8 722.8 125.0 722.7 126.2 722.7 127.4 722.7 128.6 722.6 129.9 722.6 131.1 722.6 132.3 722.5 133.5 722.5 134.7 722.5 135.9 722.4 137.1 722.4 138.4 722.3 139.6 722.3 140.8 722.3 142.0 722.2 143.2 722.2 144.4 722.1 145.6 722.1 146.9 722.0 148.1 722.0 149.3 721.9 150.5 721.9 151.7 721.8 152.9 721.8 154.1 721.7 155.4 721.7 156.6 721.6 157.8 721.6 159.0 721.5 160.2 721.4 161.4 721.4 162.6 721.3 163.9 721.2 165.1 721.2 166.3 721.1 167.5 721.0 168.7 720.9 169.9 720.8 171.1 720.7 172.4 720.7 173.6 720.6 174.8 720.5 176.0 720.4 177.2 720.3 178.4 720.2 179.6 720.1 180.9 719.9 182.1 719.8 183.3 719.7 184.5 719.6 185.7 719.4 186.9 719.3 188.1 719.2 189.4 719.0 190.6 718.9 191.8 718.7 193.0 718.5 194.2 718.4 195.4 718.2 196.6 718.0 197.9 717.8 199.1 717.6 200.3 717.3 201.5 717.1 202.7 716.8 203.9 716.6 205.1 716.3 206.4 716.0 207.6 715.6 208.8 715.3 210.0 714.9 211.2 714.5 212.4 714.0 213.6 713.5 214.9 713.0 216.1 712.4 217.3 711.7 218.5 711.0 219.7 710.2 220.9 709.3 222.1 708.3 223.4 707.2 224.6 706.0 225.8 704.7 227.0 703.2 228.2 701.6 229.4 699.8 230.6 697.8 231.9 695.7 233.1 693.3 234.3 690.7 235.5 687.9 236.7 684.8 237.9 681.4 239.1 677.8 240.4 673.9 241.6 669.6 242.8 665.1 244.0 660.3 245.2 655.2 246.4 649.8 247.6 644.1 248.9 638.1 250.1 631.9 251.3 625.4 252.5 618.7 253.7 611.9 254.9 604.8 256.1 597.7 257.4 590.5 258.6 583.3 259.8 576.2 261.0 569.2 262.2 562.5 263.4 556.0 264.6 549.9 265.9 544.3 267.1 539.3 268.3 535.0 269.5 531.4 270.7 528.6 271.9 526.8 273.1 525.9 274.4 525.9 275.6 526.9 276.8 528.9 278.0 531.7 279.2 535.4 280.4 539.8 281.6 544.9 282.9 550.5 284.1 556.7 285.3 563.2 286.5 570.0 287.7 577.0 288.9 584.1 290.1 591.3 291.4 598.5 292.6 605.6 293.8 612.6 295.0 619.5 296.2 626.1 297.4 632.6 298.6 638.8 299.9 644.7 301.1 650.4 302.3 655.8 303.5 660.9 304.7 665.6 305.9 670.1 307.1 674.3 308.4 678.2 309.6 681.8 310.8 685.1 312.0 688.2 313.2 691.0 314.4 693.6 315.6 695.9 316.9 698.1 318.1 700.0 319.3 701.8 320.5 703.4 321.7 704.8 322.9 706.2 324.1 707.3 325.4 708.4 326.6 709.4 327.8 710.3 329.0 711.0 330.2 711.8 331.4 712.4 332.6 713.0 333.9 713.6 335.1 714.0 336.3 714.5 337.5 714.9 338.7 715.3 339.9 715.7 341.1 716.0 342.4 716.3 343.6 716.6 344.8 716.9 346.0 717.1 347.2 717.4 348.4 717.6 349.6 717.8 350.9 718.0 352.1 718.2 353.3 718.4 354.5 718.6 355.7 718.7 356.9 718.9 358.1 719.0 359.4 719.2 360.6 719.3 361.8 719.5 363.0 719.6 364.2 719.7 365.4 719.8 366.6 720.0 367.9 720.1 369.1 720.2 370.3 720.3 371.5 720.4 372.7 720.5 373.9 720.6 375.1 720.7 376.4 720.8 377.6 720.8 378.8 720.9 380.0 721.0 381.2 721.1 382.4 721.2 383.6 721.2 384.9 721.3 386.1 721.4 387.3 721.4 388.5 721.5 389.7 721.6 390.9 721.6 392.1 721.7 393.4 721.7 394.6 721.8 395.8 721.8 397.0 721.9 398.2 722.0 399.4 722.0 400.6 722.0 401.9 722.1 403.1 722.1 404.3 722.2 405.5 722.2 406.7 722.3 407.9 722.3 409.1 722.3 410.4 722.4 411.6 722.4 412.8 722.5 414.0 722.5 415.2 722.5 416.4 722.6 417.6 722.6 418.9 722.6 420.1 722.7 421.3 722.7 422.5 722.7 423.7 722.8 424.9 722.8 426.1 722.8 427.4 722.8 428.6 722.9 429.8 722.9 431.0 722.9 432.2 722.9 433.4 723.0 434.6 723.0 435.9 723.0 437.1 723.0 438.3 723.1 439.5 723.1 440.7 723.1 441.9 723.1 443.1 723.1 444.4 723.2 445.6 723.2 446.8 723.2 448.0 723.2 449.2 723.2 450.4 723.3 451.6 723.3 452.9 723.3 454.1 723.3 455.3 723.3 456.5 723.3 457.7 723.4 458.9 723.4 460.1 723.4 461.4 723.4 462.6 723.4 463.8 723.4 465.0 723.5 466.2 723.5 467.4 723.5 468.6 723.5 469.9 723.5 471.1 723.5 472.3 723.5 473.5 723.6 474.7 723.6 475.9 723.6 477.1 723.6 478.4 723.6 479.6 723.6 480.8 723.6 482.0 723.6 483.2 723.6 484.4 723.7 485.6 723.7 486.9 723.7 488.1 723.7 489.3 723.7 490.5 723.7 491.7 723.7 492.9 723.7 494.1 723.7 495.4 723.7 496.6 723.8 497.8 723.8 499.0 723.8 500.2 723.8 501.4 723.8 502.6 723.8 503.9 723.8 505.1 723.8 506.3 723.8 507.5 723.8 508.7 723.8 509.9 723.8 511.1 723.9 512.4 723.9 513.6 723.9 514.8 723.9 516.0 723.9 517.2 723.9 518.4 723.9 519.6 723.9 520.9 723.9 522.1 723.9 523.3 723.9 524.5 723.9 525.7 723.9 526.9 723.9 528.1 723.9 529.4 724.0 530.6 724.0 531.8 724.0 533.0 724.0 534.2 724.0 535.4 724.0 536.6 724.0 537.9 724.0 539.1 724.0 540.3 724.0 541.5 724.0 542.7 724.0 543.9 724.0 545.1 724.0 546.4 724.0 547.6 724.0 548.8 724.0 550.0 724.0 551.2 724.1 552.4 724.1 553.6 724.1 554.9 724.1 556.1 724.1 557.3 724.1 558.5 724.1 559.7 724.1 560.9 724.1 562.1 724.1 563.4 724.1 564.6 724.1 565.8 724.1 567.0 724.1 568.2 724.1 569.4 724.1 570.6 724.1 571.9 724.1 573.1 724.1 574.3 724.1 575.5 724.1 576.7 724.1 577.9 724.1 579.1 724.1 580.4 724.2 581.6 724.2 582.8 724.2 584.0 724.2 585.2 724.2 586.4 724.2 587.6 724.2 588.9 724.2 590.1 724.2 591.3 724.2 592.5 724.2 593.7 724.2 594.9 724.2 596.1 724.2 597.4 724.2 598.6 724.2 599.8 724.2 601.0 724.2 602.2 724.2 603.4 724.2 604.6 724.2 605.9 724.2 607.1 724.2 608.3 724.2 609.5 724.2 610.7 724.2 611.9 724.2 613.1 724.2 614.4 724.2 615.6 724.2 616.8 724.2 618.0 724.2 619.2 724.2 620.4 724.2 621.6 724.3 622.9 724.3 624.1 724.3 625.3 724.3 626.5 724.3 627.7 724.3 628.9 724.3 630.1 724.3 631.4 724.3 632.6 724.3 633.8 724.3 635.0 724.3 636.2 724.3 637.4 724.3 638.6 724.3 639.9 724.3 641.1 724.3 642.3 724.3 643.5 724.3 644.7 724.3 645.9 724.3 647.1 724.3 648.4 724.3 649.6 724.3 650.8 724.3 652.0 724.3 653.2 724.3 654.4 724.3 655.6 724.3 656.9 724.3 658.1 724.3 659.3 724.3 660.5 724.3 661.7 724.3 662.9 724.3 664.1 724.3 665.4 724.3 666.6 724.3 667.8 724.3 669.0 724.3 670.2 724.3 671.4 724.3 672.6 724.3 673.9 724.3 675.1 724.3 676.3 724.3 677.5 724.3 678.7 724.3 679.9 724.3 681.1 724.3 682.4 724.3 683.6 724.3 684.8 724.3 686.0 724.4 687.2 724.4 688.4 724.4 689.6 724.4 690.9 724.4 692.1 724.4 693.3 724.4 694.5 724.4 695.7 724.4 696.9 724.4 698.1 724.4 699.4 724.4 700.6 724.4 701.8 724.4 703.0 724.4 704.2 724.4 705.4 724.4 706.6 724.4 707.9 724.4 709.1 724.4 710.3 724.4 711.5 724.4 712.7 724.4 713.9 724.4 715.1 724.4 716.4 724.4 717.6 724.4 718.8 724.4 720.0 724.4 721.2 724.4 722.4 724.4 723.6 724.4 724.9 724.4 726.1 724.4 727.3 724.4 728.5 724.4 729.7 724.4 730.9 724.4 732.1 724.4 733.4 724.4 734.6 724.4 735.8 724.4 737.0 724.4 738.2 724.4 739.4 724.4 740.6 724.4 741.9 724.4 743.1 724.4 744.3 724.4 745.5 724.4 746.7 724.4 747.9 724.4 749.1 724.4 750.4 724.4 751.6 724.4 752.8 724.4 754.0 724.4 755.2 724.4 756.4 724.4 757.6 724.4 758.9 724.4 760.1 724.4 761.3 724.4 762.5 724.4 763.7 724.4 764.9 724.4 766.1 724.4 767.4 724.4 768.6 724.4 769.8 724.4 771.0 724.4 772.2 724.4 773.4 724.4 774.6 724.4 775.9 724.4 777.1 724.4 778.3 724.4 779.5 724.4 780.7 724.4 781.9 724.4 783.1 724.4 784.4 724.4 785.6 724.4 786.8 724.4 788.0 724.4 789.2 724.4 790.4 724.4 791.6 724.4 792.9 724.4 794.1 724.4 795.3 724.4 796.5 724.4 797.7 724.4 798.9 724.4 800.1 724.4 801.4 724.4 802.6 724.4 803.8 724.4 805.0 724.5 806.2 724.5 807.4 724.5 808.6 724.5 809.9 724.5 811.1 724.5 812.3 724.5 813.5 724.5 814.7 724.5 815.9 724.5 817.1 724.5 818.4 724.5 819.6 724.5 820.8 724.5 822.0 724.5 823.2 724.5 824.4 724.5 825.6 724.5 826.9 724.5 828.1 724.5 829.3 724.5 830.5 724.5 831.7 724.5 832.9 724.5" fill="none" stroke="#00f000" stroke-width="3.6" stroke-linejoin="round"/><path d="M78.9 724.4 80.1 724.4 81.3 724.4 82.5 724.4 83.7 724.4 84.9 724.4 86.1 724.4 87.4 724.4 88.6 724.4 89.8 724.4 91.0 724.4 92.2 724.4 93.4 724.4 94.6 724.4 95.9 724.4 97.1 724.4 98.3 724.4 99.5 724.4 100.7 724.4 101.9 724.4 103.1 724.4 104.4 724.4 105.6 724.4 106.8 724.4 108.0 724.4 109.2 724.4 110.4 724.4 111.6 724.4 112.9 724.4 114.1 724.4 115.3 724.4 116.5 724.4 117.7 724.4 118.9 724.4 120.1 724.4 121.4 724.4 122.6 724.4 123.8 724.4 125.0 724.4 126.2 724.4 127.4 724.4 128.6 724.4 129.9 724.4 131.1 724.3 132.3 724.3 133.5 724.3 134.7 724.3 135.9 724.3 137.1 724.3 138.4 724.3 139.6 724.3 140.8 724.3 142.0 724.3 143.2 724.3 144.4 724.3 145.6 724.3 146.9 724.3 148.1 724.3 149.3 724.3 150.5 724.3 151.7 724.3 152.9 724.3 154.1 724.3 155.4 724.3 156.6 724.3 157.8 724.3 159.0 724.3 160.2 724.2 161.4 724.2 162.6 724.2 163.9 724.2 165.1 724.2 166.3 724.2 167.5 724.2 168.7 724.2 169.9 724.2 171.1 724.2 172.4 724.2 173.6 724.2 174.8 724.2 176.0 724.2 177.2 724.2 178.4 724.1 179.6 724.1 180.9 724.1 182.1 724.1 183.3 724.1 184.5 724.1 185.7 724.1 186.9 724.1 188.1 724.1 189.4 724.1 190.6 724.1 191.8 724.0 193.0 724.0 194.2 724.0 195.4 724.0 196.6 724.0 197.9 724.0 199.1 724.0 200.3 724.0 201.5 724.0 202.7 723.9 203.9 723.9 205.1 723.9 206.4 723.9 207.6 723.9 208.8 723.9 210.0 723.8 211.2 723.8 212.4 723.8 213.6 723.8 214.9 723.8 216.1 723.8 217.3 723.7 218.5 723.7 219.7 723.7 220.9 723.7 222.1 723.6 223.4 723.6 224.6 723.6 225.8 723.6 227.0 723.5 228.2 723.5 229.4 723.5 230.6 723.4 231.9 723.4 233.1 723.3 234.3 723.3 235.5 723.2 236.7 723.2 237.9 723.1 239.1 723.0 240.4 723.0 241.6 722.9 242.8 722.8 244.0 722.7 245.2 722.5 246.4 722.4 247.6 722.2 248.9 722.0 250.1 721.8 251.3 721.6 252.5 721.3 253.7 721.0 254.9 720.7 256.1 720.3 257.4 719.8 258.6 719.3 259.8 718.8 261.0 718.2 262.2 717.5 263.4 716.7 264.6 715.8 265.9 714.9 267.1 713.8 268.3 712.7 269.5 711.4 270.7 710.0 271.9 708.5 273.1 706.8 274.4 705.0 275.6 703.1 276.8 701.0 278.0 698.8 279.2 696.5 280.4 694.0 281.6 691.4 282.9 688.6 284.1 685.7 285.3 682.6 286.5 679.5 287.7 676.2 288.9 672.9 290.1 669.5 291.4 666.0 292.6 662.5 293.8 659.0 295.0 655.4 296.2 651.9 297.4 648.5 298.6 645.1 299.9 641.9 301.1 638.7 302.3 635.8 303.5 633.0 304.7 630.4 305.9 628.1 307.1 626.1 308.4 624.3 309.6 622.9 310.8 621.8 312.0 621.0 313.2 620.6 314.4 620.6 315.6 620.9 316.9 621.6 318.1 622.6 319.3 624.0 320.5 625.7 321.7 627.6 322.9 629.9 324.1 632.4 325.4 635.1 326.6 638.1 327.8 641.2 329.0 644.4 330.2 647.8 331.4 651.2 332.6 654.7 333.9 658.2 335.1 661.7 336.3 665.3 337.5 668.7 338.7 672.2 339.9 675.5 341.1 678.8 342.4 682.0 343.6 685.0 344.8 688.0 346.0 690.8 347.2 693.4 348.4 696.0 349.6 698.3 350.9 700.6 352.1 702.7 353.3 704.6 354.5 706.4 355.7 708.1 356.9 709.7 358.1 711.1 359.4 712.4 360.6 713.6 361.8 714.7 363.0 715.6 364.2 716.5 365.4 717.3 366.6 718.0 367.9 718.7 369.1 719.2 370.3 719.7 371.5 720.2 372.7 720.6 373.9 720.9 375.1 721.3 376.4 721.5 377.6 721.8 378.8 722.0 380.0 722.2 381.2 722.4 382.4 722.5 383.6 722.6 384.9 722.8 386.1 722.9 387.3 722.9 388.5 723.0 389.7 723.1 390.9 723.2 392.1 723.2 393.4 723.3 394.6 723.3 395.8 723.4 397.0 723.4 398.2 723.5 399.4 723.5 400.6 723.5 401.9 723.6 403.1 723.6 404.3 723.6 405.5 723.6 406.7 723.7 407.9 723.7 409.1 723.7 410.4 723.7 411.6 723.8 412.8 723.8 414.0 723.8 415.2 723.8 416.4 723.8 417.6 723.8 418.9 723.9 420.1 723.9 421.3 723.9 422.5 723.9 423.7 723.9 424.9 723.9 426.1 724.0 427.4 724.0 428.6 724.0 429.8 724.0 431.0 724.0 432.2 724.0 433.4 724.0 434.6 724.0 435.9 724.0 437.1 724.1 438.3 724.1 439.5 724.1 440.7 724.1 441.9 724.1 443.1 724.1 444.4 724.1 445.6 724.1 446.8 724.1 448.0 724.1 449.2 724.1 450.4 724.2 451.6 724.2 452.9 724.2 454.1 724.2 455.3 724.2 456.5 724.2 457.7 724.2 458.9 724.2 460.1 724.2 461.4 724.2 462.6 724.2 463.8 724.2 465.0 724.2 466.2 724.2 467.4 724.2 468.6 724.3 469.9 724.3 471.1 724.3 472.3 724.3 473.5 724.3 474.7 724.3 475.9 724.3 477.1 724.3 478.4 724.3 479.6 724.3 480.8 724.3 482.0 724.3 483.2 724.3 484.4 724.3 485.6 724.3 486.9 724.3 488.1 724.3 489.3 724.3 490.5 724.3 491.7 724.3 492.9 724.3 494.1 724.3 495.4 724.3 496.6 724.3 497.8 724.4 499.0 724.4 500.2 724.4 501.4 724.4 502.6 724.4 503.9 724.4 505.1 724.4 506.3 724.4 507.5 724.4 508.7 724.4 509.9 724.4 511.1 724.4 512.4 724.4 513.6 724.4 514.8 724.4 516.0 724.4 517.2 724.4 518.4 724.4 519.6 724.4 520.9 724.4 522.1 724.4 523.3 724.4 524.5 724.4 525.7 724.4 526.9 724.4 528.1 724.4 529.4 724.4 530.6 724.4 531.8 724.4 533.0 724.4 534.2 724.4 535.4 724.4 536.6 724.4 537.9 724.4 539.1 724.4 540.3 724.4 541.5 724.4 542.7 724.4 543.9 724.4 545.1 724.4 546.4 724.4 547.6 724.4 548.8 724.4 550.0 724.4 551.2 724.4 552.4 724.5 553.6 724.5 554.9 724.5 556.1 724.5 557.3 724.5 558.5 724.5 559.7 724.5 560.9 724.5 562.1 724.5 563.4 724.5 564.6 724.5 565.8 724.5 567.0 724.5 568.2 724.5 569.4 724.5 570.6 724.5 571.9 724.5 573.1 724.5 574.3 724.5 575.5 724.5 576.7 724.5 577.9 724.5 579.1 724.5 580.4 724.5 581.6 724.5 582.8 724.5 584.0 724.5 585.2 724.5 586.4 724.5 587.6 724.5 588.9 724.5 590.1 724.5 591.3 724.5 592.5 724.5 593.7 724.5 594.9 724.5 596.1 724.5 597.4 724.5 598.6 724.5 599.8 724.5 601.0 724.5 602.2 724.5 603.4 724.5 604.6 724.5 605.9 724.5 607.1 724.5 608.3 724.5 609.5 724.5 610.7 724.5 611.9 724.5 613.1 724.5 614.4 724.5 615.6 724.5 616.8 724.5 618.0 724.5 619.2 724.5 620.4 724.5 621.6 724.5 622.9 724.5 624.1 724.5 625.3 724.5 626.5 724.5 627.7 724.5 628.9 724.5 630.1 724.5 631.4 724.5 632.6 724.5 633.8 724.5 635.0 724.5 636.2 724.5 637.4 724.5 638.6 724.5 639.9 724.5 641.1 724.5 642.3 724.5 643.5 724.5 644.7 724.5 645.9 724.5 647.1 724.5 648.4 724.5 649.6 724.5 650.8 724.5 652.0 724.5 653.2 724.5 654.4 724.5 655.6 724.5 656.9 724.5 658.1 724.5 659.3 724.5 660.5 724.5 661.7 724.5 662.9 724.5 664.1 724.5 665.4 724.5 666.6 724.5 667.8 724.5 669.0 724.5 670.2 724.5 671.4 724.5 672.6 724.5 673.9 724.5 675.1 724.5 676.3 724.5 677.5 724.5 678.7 724.5 679.9 724.5 681.1 724.5 682.4 724.5 683.6 724.5 684.8 724.5 686.0 724.5 687.2 724.5 688.4 724.5 689.6 724.5 690.9 724.5 692.1 724.5 693.3 724.5 694.5 724.5 695.7 724.5 696.9 724.5 698.1 724.5 699.4 724.5 700.6 724.5 701.8 724.5 703.0 724.5 704.2 724.5 705.4 724.5 706.6 724.5 707.9 724.5 709.1 724.5 710.3 724.5 711.5 724.5 712.7 724.5 713.9 724.5 715.1 724.5 716.4 724.5 717.6 724.5 718.8 724.5 720.0 724.5 721.2 724.5 722.4 724.5 723.6 724.5 724.9 724.5 726.1 724.5 727.3 724.5 728.5 724.6 729.7 724.6 730.9 724.6 732.1 724.6 733.4 724.6 734.6 724.6 735.8 724.6 737.0 724.6 738.2 724.6 739.4 724.6 740.6 724.6 741.9 724.6 743.1 724.6 744.3 724.6 745.5 724.6 746.7 724.6 747.9 724.6 749.1 724.6 750.4 724.6 751.6 724.6 752.8 724.6 754.0 724.6 755.2 724.6 756.4 724.6 757.6 724.6 758.9 724.6 760.1 724.6 761.3 724.6 762.5 724.6 763.7 724.6 764.9 724.6 766.1 724.6 767.4 724.6 768.6 724.6 769.8 724.6 771.0 724.6 772.2 724.6 773.4 724.6 774.6 724.6 775.9 724.6 777.1 724.6 778.3 724.6 779.5 724.6 780.7 724.6 781.9 724.6 783.1 724.6 784.4 724.6 785.6 724.6 786.8 724.6 788.0 724.6 789.2 724.6 790.4 724.6 791.6 724.6 792.9 724.6 794.1 724.6 795.3 724.6 796.5 724.6 797.7 724.6 798.9 724.6 800.1 724.6 801.4 724.6 802.6 724.6 803.8 724.6 805.0 724.6 806.2 724.6 807.4 724.6 808.6 724.6 809.9 724.6 811.1 724.6 812.3 724.6 813.5 724.6 814.7 724.6 815.9 724.6 817.1 724.6 818.4 724.6 819.6 724.6 820.8 724.6 822.0 724.6 823.2 724.6 824.4 724.6 825.6 724.6 826.9 724.6 828.1 724.6 829.3 724.6 830.5 724.6 831.7 724.6 832.9 724.6" fill="none" stroke="#0000ff" stroke-width="3.6" stroke-linejoin="round"/><path d="M78.9 724.4 80.1 724.4 81.3 724.4 82.5 724.4 83.7 724.4 84.9 724.4 86.1 724.4 87.4 724.4 88.6 724.4 89.8 724.4 91.0 724.4 92.2 724.4 93.4 724.4 94.6 724.4 95.9 724.4 97.1 724.4 98.3 724.4 99.5 724.4 100.7 724.4 101.9 724.4 103.1 724.4 104.4 724.4 105.6 724.4 106.8 724.4 108.0 724.4 109.2 724.4 110.4 724.4 111.6 724.4 112.9 724.4 114.1 724.4 115.3 724.4 116.5 724.4 117.7 724.4 118.9 724.4 120.1 724.4 121.4 724.4 122.6 724.4 123.8 724.4 125.0 724.4 126.2 724.4 127.4 724.4 128.6 724.4 129.9 724.4 131.1 724.4 132.3 724.4 133.5 724.4 134.7 724.4 135.9 724.4 137.1 724.4 138.4 724.4 139.6 724.4 140.8 724.4 142.0 724.4 143.2 724.3 144.4 724.3 145.6 724.3 146.9 724.3 148.1 724.3 149.3 724.3 150.5 724.3 151.7 724.3 152.9 724.3 154.1 724.3 155.4 724.3 156.6 724.3 157.8 724.3 159.0 724.3 160.2 724.3 161.4 724.3 162.6 724.3 163.9 724.3 165.1 724.3 166.3 724.3 167.5 724.3 168.7 724.3 169.9 724.3 171.1 724.3 172.4 724.3 173.6 724.3 174.8 724.3 176.0 724.3 177.2 724.3 178.4 724.3 179.6 724.3 180.9 724.3 182.1 724.3 183.3 724.2 184.5 724.2 185.7 724.2 186.9 724.2 188.1 724.2 189.4 724.2 190.6 724.2 191.8 724.2 193.0 724.2 194.2 724.2 195.4 724.2 196.6 724.2 197.9 724.2 199.1 724.2 200.3 724.2 201.5 724.2 202.7 724.2 203.9 724.2 205.1 724.2 206.4 724.2 207.6 724.2 208.8 724.2 210.0 724.1 211.2 724.1 212.4 724.1 213.6 724.1 214.9 724.1 216.1 724.1 217.3 724.1 218.5 724.1 219.7 724.1 220.9 724.1 222.1 724.1 223.4 724.1 224.6 724.1 225.8 724.1 227.0 724.1 228.2 724.0 229.4 724.0 230.6 724.0 231.9 724.0 233.1 724.0 234.3 724.0 235.5 724.0 236.7 724.0 237.9 724.0 239.1 724.0 240.4 724.0 241.6 724.0 242.8 723.9 244.0 723.9 245.2 723.9 246.4 723.9 247.6 723.9 248.9 723.9 250.1 723.9 251.3 723.9 252.5 723.9 253.7 723.8 254.9 723.8 256.1 723.8 257.4 723.8 258.6 723.8 259.8 723.8 261.0 723.8 262.2 723.8 263.4 723.7 264.6 723.7 265.9 723.7 267.1 723.7 268.3 723.7 269.5 723.7 270.7 723.6 271.9 723.6 273.1 723.6 274.4 723.6 275.6 723.6 276.8 723.5 278.0 723.5 279.2 723.5 280.4 723.5 281.6 723.4 282.9 723.4 284.1 723.4 285.3 723.4 286.5 723.3 287.7 723.3 288.9 723.2 290.1 723.2 291.4 723.2 292.6 723.1 293.8 723.1 295.0 723.0 296.2 723.0 297.4 722.9 298.6 722.8 299.9 722.7 301.1 722.7 302.3 722.6 303.5 722.5 304.7 722.4 305.9 722.3 307.1 722.2 308.4 722.0 309.6 721.9 310.8 721.7 312.0 721.6 313.2 721.4 314.4 721.2 315.6 721.0 316.9 720.8 318.1 720.5 319.3 720.2 320.5 720.0 321.7 719.7 322.9 719.3 324.1 719.0 325.4 718.6 326.6 718.1 327.8 717.7 329.0 717.2 330.2 716.7 331.4 716.2 332.6 715.6 333.9 715.0 335.1 714.3 336.3 713.6 337.5 712.8 338.7 712.0 339.9 711.2 341.1 710.3 342.4 709.4 343.6 708.4 344.8 707.4 346.0 706.3 347.2 705.2 348.4 704.0 349.6 702.8 350.9 701.6 352.1 700.3 353.3 698.9 354.5 697.5 355.7 696.0 356.9 694.6 358.1 693.0 359.4 691.5 360.6 689.9 361.8 688.2 363.0 686.6 364.2 684.9 365.4 683.2 366.6 681.5 367.9 679.7 369.1 678.0 370.3 676.3 371.5 674.5 372.7 672.8 373.9 671.1 375.1 669.4 376.4 667.7 377.6 666.1 378.8 664.5 380.0 663.0 381.2 661.5 382.4 660.1 383.6 658.8 384.9 657.5 386.1 656.3 387.3 655.2 388.5 654.2 389.7 653.3 390.9 652.5 392.1 651.8 393.4 651.3 394.6 650.8 395.8 650.5 397.0 650.3 398.2 650.2 399.4 650.3 400.6 650.5 401.9 650.8 403.1 651.2 404.3 651.8 405.5 652.5 406.7 653.2 407.9 654.1 409.1 655.1 410.4 656.2 411.6 657.4 412.8 658.6 414.0 660.0 415.2 661.4 416.4 662.9 417.6 664.4 418.9 666.0 420.1 667.6 421.3 669.2 422.5 670.9 423.7 672.6 424.9 674.4 426.1 676.1 427.4 677.8 428.6 679.6 429.8 681.3 431.0 683.0 432.2 684.7 433.4 686.4 434.6 688.1 435.9 689.7 437.1 691.3 438.3 692.9 439.5 694.4 440.7 695.9 441.9 697.4 443.1 698.8 444.4 700.1 445.6 701.5 446.8 702.7 448.0 703.9 449.2 705.1 450.4 706.2 451.6 707.3 452.9 708.3 454.1 709.3 455.3 710.3 456.5 711.1 457.7 712.0 458.9 712.8 460.1 713.5 461.4 714.2 462.6 714.9 463.8 715.5 465.0 716.1 466.2 716.7 467.4 717.2 468.6 717.7 469.9 718.1 471.1 718.5 472.3 718.9 473.5 719.3 474.7 719.6 475.9 719.9 477.1 720.2 478.4 720.5 479.6 720.7 480.8 721.0 482.0 721.2 483.2 721.4 484.4 721.6 485.6 721.7 486.9 721.9 488.1 722.0 489.3 722.2 490.5 722.3 491.7 722.4 492.9 722.5 494.1 722.6 495.4 722.7 496.6 722.7 497.8 722.8 499.0 722.9 500.2 722.9 501.4 723.0 502.6 723.1 503.9 723.1 505.1 723.2 506.3 723.2 507.5 723.2 508.7 723.3 509.9 723.3 511.1 723.3 512.4 723.4 513.6 723.4 514.8 723.4 516.0 723.5 517.2 723.5 518.4 723.5 519.6 723.5 520.9 723.6 522.1 723.6 523.3 723.6 524.5 723.6 525.7 723.6 526.9 723.7 528.1 723.7 529.4 723.7 530.6 723.7 531.8 723.7 533.0 723.7 534.2 723.8 535.4 723.8 536.6 723.8 537.9 723.8 539.1 723.8 540.3 723.8 541.5 723.8 542.7 723.8 543.9 723.9 545.1 723.9 546.4 723.9 547.6 723.9 548.8 723.9 550.0 723.9 551.2 723.9 552.4 723.9 553.6 723.9 554.9 724.0 556.1 724.0 557.3 724.0 558.5 724.0 559.7 724.0 560.9 724.0 562.1 724.0 563.4 724.0 564.6 724.0 565.8 724.0 567.0 724.0 568.2 724.0 569.4 724.1 570.6 724.1 571.9 724.1 573.1 724.1 574.3 724.1 575.5 724.1 576.7 724.1 577.9 724.1 579.1 724.1 580.4 724.1 581.6 724.1 582.8 724.1 584.0 724.1 585.2 724.1 586.4 724.1 587.6 724.2 588.9 724.2 590.1 724.2 591.3 724.2 592.5 724.2 593.7 724.2 594.9 724.2 596.1 724.2 597.4 724.2 598.6 724.2 599.8 724.2 601.0 724.2 602.2 724.2 603.4 724.2 604.6 724.2 605.9 724.2 607.1 724.2 608.3 724.2 609.5 724.2 610.7 724.2 611.9 724.2 613.1 724.2 614.4 724.3 615.6 724.3 616.8 724.3 618.0 724.3 619.2 724.3 620.4 724.3 621.6 724.3 622.9 724.3 624.1 724.3 625.3 724.3 626.5 724.3 627.7 724.3 628.9 724.3 630.1 724.3 631.4 724.3 632.6 724.3 633.8 724.3 635.0 724.3 636.2 724.3 637.4 724.3 638.6 724.3 639.9 724.3 641.1 724.3 642.3 724.3 643.5 724.3 644.7 724.3 645.9 724.3 647.1 724.3 648.4 724.3 649.6 724.3 650.8 724.3 652.0 724.3 653.2 724.3 654.4 724.4 655.6 724.4 656.9 724.4 658.1 724.4 659.3 724.4 660.5 724.4 661.7 724.4 662.9 724.4 664.1 724.4 665.4 724.4 666.6 724.4 667.8 724.4 669.0 724.4 670.2 724.4 671.4 724.4 672.6 724.4 673.9 724.4 675.1 724.4 676.3 724.4 677.5 724.4 678.7 724.4 679.9 724.4 681.1 724.4 682.4 724.4 683.6 724.4 684.8 724.4 686.0 724.4 687.2 724.4 688.4 724.4 689.6 724.4 690.9 724.4 692.1 724.4 693.3 724.4 694.5 724.4 695.7 724.4 696.9 724.4 698.1 724.4 699.4 724.4 700.6 724.4 701.8 724.4 703.0 724.4 704.2 724.4 705.4 724.4 706.6 724.4 707.9 724.4 709.1 724.4 710.3 724.4 711.5 724.4 712.7 724.4 713.9 724.4 715.1 724.4 716.4 724.4 717.6 724.4 718.8 724.4 720.0 724.4 721.2 724.4 722.4 724.4 723.6 724.4 724.9 724.4 726.1 724.4 727.3 724.4 728.5 724.4 729.7 724.5 730.9 724.5 732.1 724.5 733.4 724.5 734.6 724.5 735.8 724.5 737.0 724.5 738.2 724.5 739.4 724.5 740.6 724.5 741.9 724.5 743.1 724.5 744.3 724.5 745.5 724.5 746.7 724.5 747.9 724.5 749.1 724.5 750.4 724.5 751.6 724.5 752.8 724.5 754.0 724.5 755.2 724.5 756.4 724.5 757.6 724.5 758.9 724.5 760.1 724.5 761.3 724.5 762.5 724.5 763.7 724.5 764.9 724.5 766.1 724.5 767.4 724.5 768.6 724.5 769.8 724.5 771.0 724.5 772.2 724.5 773.4 724.5 774.6 724.5 775.9 724.5 777.1 724.5 778.3 724.5 779.5 724.5 780.7 724.5 781.9 724.5 783.1 724.5 784.4 724.5 785.6 724.5 786.8 724.5 788.0 724.5 789.2 724.5 790.4 724.5 791.6 724.5 792.9 724.5 794.1 724.5 795.3 724.5 796.5 724.5 797.7 724.5 798.9 724.5 800.1 724.5 801.4 724.5 802.6 724.5 803.8 724.5 805.0 724.5 806.2 724.5 807.4 724.5 808.6 724.5 809.9 724.5 811.1 724.5 812.3 724.5 813.5 724.5 814.7 724.5 815.9 724.5 817.1 724.5 818.4 724.5 819.6 724.5 820.8 724.5 822.0 724.5 823.2 724.5 824.4 724.5 825.6 724.5 826.9 724.5 828.1 724.5 829.3 724.5 830.5 724.5 831.7 724.5 832.9 724.5" fill="none" stroke="#00ffff" stroke-width="3.6" stroke-linejoin="round"/><path d="M78.9 724.6 80.1 724.6 81.3 724.6 82.5 724.6 83.7 724.6 84.9 724.6 86.1 724.6 87.4 724.6 88.6 724.6 89.8 724.6 91.0 724.6 92.2 724.6 93.4 724.6 94.6 724.6 95.9 724.6 97.1 724.6 98.3 724.6 99.5 724.6 100.7 724.6 101.9 724.6 103.1 724.6 104.4 724.6 105.6 724.6 106.8 724.6 108.0 724.6 109.2 724.6 110.4 724.6 111.6 724.6 112.9 724.6 114.1 724.6 115.3 724.6 116.5 724.6 117.7 724.6 118.9 724.6 120.1 724.6 121.4 724.6 122.6 724.6 123.8 724.6 125.0 724.6 126.2 724.6 127.4 724.6 128.6 724.6 129.9 724.6 131.1 724.6 132.3 724.6 133.5 724.6 134.7 724.6 135.9 724.6 137.1 724.6 138.4 724.6 139.6 724.6 140.8 724.6 142.0 724.6 143.2 724.6 144.4 724.6 145.6 724.6 146.9 724.6 148.1 724.6 149.3 724.6 150.5 724.6 151.7 724.6 152.9 724.6 154.1 724.6 155.4 724.6 156.6 724.6 157.8 724.6 159.0 724.6 160.2 724.6 161.4 724.6 162.6 724.6 163.9 724.6 165.1 724.6 166.3 724.6 167.5 724.6 168.7 724.6 169.9 724.6 171.1 724.6 172.4 724.6 173.6 724.6 174.8 724.6 176.0 724.6 177.2 724.6 178.4 724.6 179.6 724.6 180.9 724.6 182.1 724.6 183.3 724.6 184.5 724.6 185.7 724.6 186.9 724.6 188.1 724.6 189.4 724.6 190.6 724.6 191.8 724.6 193.0 724.6 194.2 724.6 195.4 724.6 196.6 724.6 197.9 724.6 199.1 724.6 200.3 724.6 201.5 724.6 202.7 724.6 203.9 724.6 205.1 724.6 206.4 724.6 207.6 724.6 208.8 724.6 210.0 724.6 211.2 724.6 212.4 724.6 213.6 724.6 214.9 724.6 216.1 724.6 217.3 724.6 218.5 724.6 219.7 724.6 220.9 724.6 222.1 724.6 223.4 724.6 224.6 724.6 225.8 724.6 227.0 724.6 228.2 724.6 229.4 724.6 230.6 724.6 231.9 724.6 233.1 724.6 234.3 724.6 235.5 724.6 236.7 724.6 237.9 724.6 239.1 724.6 240.4 724.6 241.6 724.6 242.8 724.6 244.0 724.6 245.2 724.6 246.4 724.6 247.6 724.6 248.9 724.6 250.1 724.6 251.3 724.6 252.5 724.6 253.7 724.6 254.9 724.6 256.1 724.6 257.4 724.6 258.6 724.6 259.8 724.6 261.0 724.6 262.2 724.6 263.4 724.6 264.6 724.6 265.9 724.6 267.1 724.6 268.3 724.6 269.5 724.6 270.7 724.6 271.9 724.6 273.1 724.6 274.4 724.6 275.6 724.6 276.8 724.6 278.0 724.6 279.2 724.6 280.4 724.6 281.6 724.6 282.9 724.6 284.1 724.6 285.3 724.6 286.5 724.6 287.7 724.6 288.9 724.6 290.1 724.6 291.4 724.6 292.6 724.6 293.8 724.6 295.0 724.6 296.2 724.6 297.4 724.6 298.6 724.6 299.9 724.6 301.1 724.6 302.3 724.6 303.5 724.6 304.7 724.6 305.9 724.6 307.1 724.6 308.4 724.6 309.6 724.6 310.8 724.6 312.0 724.6 313.2 724.6 314.4 724.6 315.6 724.6 316.9 724.6 318.1 724.6 319.3 724.6 320.5 724.6 321.7 724.6 322.9 724.6 324.1 724.6 325.4 724.6 326.6 724.6 327.8 724.6 329.0 724.6 330.2 724.6 331.4 724.6 332.6 724.6 333.9 724.6 335.1 724.6 336.3 724.6 337.5 724.6 338.7 724.6 339.9 724.6 341.1 724.6 342.4 724.6 343.6 724.6 344.8 724.6 346.0 724.6 347.2 724.6 348.4 724.6 349.6 724.6 350.9 724.6 352.1 724.6 353.3 724.6 354.5 724.6 355.7 724.6 356.9 724.6 358.1 724.6 359.4 724.6 360.6 724.6 361.8 724.6 363.0 724.6 364.2 724.6 365.4 724.6 366.6 724.6 367.9 724.6 369.1 724.6 370.3 724.6 371.5 724.6 372.7 724.6 373.9 724.6 375.1 724.6 376.4 724.6 377.6 724.6 378.8 724.6 380.0 724.6 381.2 724.6 382.4 724.6 383.6 724.6 384.9 724.6 386.1 724.6 387.3 724.6 388.5 724.6 389.7 724.6 390.9 724.6 392.1 724.6 393.4 724.6 394.6 724.6 395.8 724.6 397.0 724.5 398.2 724.5 399.4 724.5 400.6 724.5 401.9 724.4 403.1 724.3 404.3 724.3 405.5 724.1 406.7 724.0 407.9 723.8 409.1 723.6 410.4 723.4 411.6 723.0 412.8 722.6 414.0 722.1 415.2 721.5 416.4 720.8 417.6 720.0 418.9 719.0 420.1 717.8 421.3 716.5 422.5 715.0 423.7 713.2 424.9 711.2 426.1 709.0 427.4 706.5 428.6 703.8 429.8 700.8 431.0 697.6 432.2 694.2 433.4 690.6 434.6 686.7 435.9 682.8 437.1 678.7 438.3 674.6 439.5 670.5 440.7 666.4 441.9 662.5 443.1 658.7 444.4 655.2 445.6 652.0 446.8 649.1 448.0 646.7 449.2 644.7 450.4 643.3 451.6 642.3 452.9 642.0 454.1 642.1 455.3 642.9 456.5 644.1 457.7 645.9 458.9 648.2 460.1 650.9 461.4 654.0 462.6 657.4 463.8 661.1 465.0 665.0 466.2 669.0 467.4 673.1 468.6 677.2 469.9 681.3 471.1 685.3 472.3 689.2 473.5 692.9 474.7 696.4 475.9 699.7 477.1 702.8 478.4 705.6 479.6 708.1 480.8 710.4 482.0 712.5 483.2 714.4 484.4 716.0 485.6 717.4 486.9 718.6 488.1 719.6 489.3 720.5 490.5 721.3 491.7 721.9 492.9 722.5 494.1 722.9 495.4 723.2 496.6 723.5 497.8 723.8 499.0 724.0 500.2 724.1 501.4 724.2 502.6 724.3 503.9 724.4 505.1 724.4 506.3 724.5 507.5 724.5 508.7 724.5 509.9 724.6 511.1 724.6 512.4 724.6 513.6 724.6 514.8 724.6 516.0 724.6 517.2 724.6 518.4 724.6 519.6 724.6 520.9 724.6 522.1 724.6 523.3 724.6 524.5 724.6 525.7 724.6 526.9 724.6 528.1 724.6 529.4 724.6 530.6 724.6 531.8 724.6 533.0 724.6 534.2 724.6 535.4 724.6 536.6 724.6 537.9 724.6 539.1 724.6 540.3 724.6 541.5 724.6 542.7 724.6 543.9 724.6 545.1 724.6 546.4 724.6 547.6 724.6 548.8 724.6 550.0 724.6 551.2 724.6 552.4 724.6 553.6 724.6 554.9 724.6 556.1 724.6 557.3 724.6 558.5 724.6 559.7 724.6 560.9 724.6 562.1 724.6 563.4 724.6 564.6 724.6 565.8 724.6 567.0 724.6 568.2 724.6 569.4 724.6 570.6 724.6 571.9 724.6 573.1 724.6 574.3 724.6 575.5 724.6 576.7 724.6 577.9 724.6 579.1 724.6 580.4 724.6 581.6 724.6 582.8 724.6 584.0 724.6 585.2 724.6 586.4 724.6 587.6 724.6 588.9 724.6 590.1 724.6 591.3 724.6 592.5 724.6 593.7 724.6 594.9 724.6 596.1 724.6 597.4 724.6 598.6 724.6 599.8 724.6 601.0 724.6 602.2 724.6 603.4 724.6 604.6 724.6 605.9 724.6 607.1 724.6 608.3 724.6 609.5 724.6 610.7 724.6 611.9 724.6 613.1 724.6 614.4 724.6 615.6 724.6 616.8 724.6 618.0 724.6 619.2 724.6 620.4 724.6 621.6 724.6 622.9 724.6 624.1 724.6 625.3 724.6 626.5 724.6 627.7 724.6 628.9 724.6 630.1 724.6 631.4 724.6 632.6 724.6 633.8 724.6 635.0 724.6 636.2 724.6 637.4 724.6 638.6 724.6 639.9 724.6 641.1 724.6 642.3 724.6 643.5 724.6 644.7 724.6 645.9 724.6 647.1 724.6 648.4 724.6 649.6 724.6 650.8 724.6 652.0 724.6 653.2 724.6 654.4 724.6 655.6 724.6 656.9 724.6 658.1 724.6 659.3 724.6 660.5 724.6 661.7 724.6 662.9 724.6 664.1 724.6 665.4 724.6 666.6 724.6 667.8 724.6 669.0 724.6 670.2 724.6 671.4 724.6 672.6 724.6 673.9 724.6 675.1 724.6 676.3 724.6 677.5 724.6 678.7 724.6 679.9 724.6 681.1 724.6 682.4 724.6 683.6 724.6 684.8 724.6 686.0 724.6 687.2 724.6 688.4 724.6 689.6 724.6 690.9 724.6 692.1 724.6 693.3 724.6 694.5 724.6 695.7 724.6 696.9 724.6 698.1 724.6 699.4 724.6 700.6 724.6 701.8 724.6 703.0 724.6 704.2 724.6 705.4 724.6 706.6 724.6 707.9 724.6 709.1 724.6 710.3 724.6 711.5 724.6 712.7 724.6 713.9 724.6 715.1 724.6 716.4 724.6 717.6 724.6 718.8 724.6 720.0 724.6 721.2 724.6 722.4 724.6 723.6 724.6 724.9 724.6 726.1 724.6 727.3 724.6 728.5 724.6 729.7 724.6 730.9 724.6 732.1 724.6 733.4 724.6 734.6 724.6 735.8 724.6 737.0 724.6 738.2 724.6 739.4 724.6 740.6 724.6 741.9 724.6 743.1 724.6 744.3 724.6 745.5 724.6 746.7 724.6 747.9 724.6 749.1 724.6 750.4 724.6 751.6 724.6 752.8 724.6 754.0 724.6 755.2 724.6 756.4 724.6 757.6 724.6 758.9 724.6 760.1 724.6 761.3 724.6 762.5 724.6 763.7 724.6 764.9 724.6 766.1 724.6 767.4 724.6 768.6 724.6 769.8 724.6 771.0 724.6 772.2 724.6 773.4 724.6 774.6 724.6 775.9 724.6 777.1 724.6 778.3 724.6 779.5 724.6 780.7 724.6 781.9 724.6 783.1 724.6 784.4 724.6 785.6 724.6 786.8 724.6 788.0 724.6 789.2 724.6 790.4 724.6 791.6 724.6 792.9 724.6 794.1 724.6 795.3 724.6 796.5 724.6 797.7 724.6 798.9 724.6 800.1 724.6 801.4 724.6 802.6 724.6 803.8 724.6 805.0 724.6 806.2 724.6 807.4 724.6 808.6 724.6 809.9 724.6 811.1 724.6 812.3 724.6 813.5 724.6 814.7 724.6 815.9 724.6 817.1 724.6 818.4 724.6 819.6 724.6 820.8 724.6 822.0 724.6 823.2 724.6 824.4 724.6 825.6 724.6 826.9 724.6 828.1 724.6 829.3 724.6 830.5 724.6 831.7 724.6 832.9 724.6" fill="none" stroke="#ff00ff" stroke-width="3.6" stroke-linejoin="round"/><path d="M78.9 724.6 80.1 724.6 81.3 724.6 82.5 724.6 83.7 724.6 84.9 724.6 86.1 724.6 87.4 724.6 88.6 724.6 89.8 724.6 91.0 724.6 92.2 724.6 93.4 724.6 94.6 724.6 95.9 724.6 97.1 724.6 98.3 724.6 99.5 724.6 100.7 724.6 101.9 724.6 103.1 724.6 104.4 724.6 105.6 724.6 106.8 724.6 108.0 724.6 109.2 724.6 110.4 724.6 111.6 724.6 112.9 724.6 114.1 724.6 115.3 724.6 116.5 724.6 117.7 724.6 118.9 724.6 120.1 724.6 121.4 724.6 122.6 724.6 123.8 724.6 125.0 724.6 126.2 724.6 127.4 724.6 128.6 724.6 129.9 724.6 131.1 724.6 132.3 724.6 133.5 724.6 134.7 724.6 135.9 724.6 137.1 724.6 138.4 724.6 139.6 724.6 140.8 724.6 142.0 724.6 143.2 724.6 144.4 724.6 145.6 724.6 146.9 724.6 148.1 724.6 149.3 724.6 150.5 724.6 151.7 724.6 152.9 724.6 154.1 724.6 155.4 724.6 156.6 724.6 157.8 724.6 159.0 724.6 160.2 724.6 161.4 724.6 162.6 724.6 163.9 724.6 165.1 724.6 166.3 724.6 167.5 724.6 168.7 724.6 169.9 724.6 171.1 724.6 172.4 724.6 173.6 724.6 174.8 724.6 176.0 724.6 177.2 724.6 178.4 724.6 179.6 724.6 180.9 724.6 182.1 724.6 183.3 724.6 184.5 724.6 185.7 724.6 186.9 724.6 188.1 724.6 189.4 724.6 190.6 724.6 191.8 724.6 193.0 724.6 194.2 724.6 195.4 724.6 196.6 724.6 197.9 724.6 199.1 724.6 200.3 724.6 201.5 724.6 202.7 724.6 203.9 724.6 205.1 724.6 206.4 724.6 207.6 724.6 208.8 724.6 210.0 724.6 211.2 724.6 212.4 724.6 213.6 724.6 214.9 724.6 216.1 724.6 217.3 724.6 218.5 724.6 219.7 724.6 220.9 724.6 222.1 724.6 223.4 724.6 224.6 724.6 225.8 724.6 227.0 724.6 228.2 724.6 229.4 724.6 230.6 724.6 231.9 724.6 233.1 724.6 234.3 724.6 235.5 724.6 236.7 724.6 237.9 724.6 239.1 724.6 240.4 724.6 241.6 724.6 242.8 724.6 244.0 724.6 245.2 724.6 246.4 724.6 247.6 724.6 248.9 724.6 250.1 724.6 251.3 724.6 252.5 724.6 253.7 724.6 254.9 724.6 256.1 724.6 257.4 724.6 258.6 724.6 259.8 724.6 261.0 724.6 262.2 724.6 263.4 724.6 264.6 724.6 265.9 724.6 267.1 724.6 268.3 724.6 269.5 724.6 270.7 724.6 271.9 724.6 273.1 724.6 274.4 724.6 275.6 724.6 276.8 724.6 278.0 724.6 279.2 724.6 280.4 724.6 281.6 724.6 282.9 724.6 284.1 724.6 285.3 724.6 286.5 724.6 287.7 724.6 288.9 724.6 290.1 724.6 291.4 724.6 292.6 724.6 293.8 724.6 295.0 724.6 296.2 724.6 297.4 724.6 298.6 724.6 299.9 724.6 301.1 724.6 302.3 724.6 303.5 724.6 304.7 724.6 305.9 724.6 307.1 724.6 308.4 724.6 309.6 724.6 310.8 724.6 312.0 724.6 313.2 724.6 314.4 724.6 315.6 724.6 316.9 724.6 318.1 724.6 319.3 724.6 320.5 724.6 321.7 724.6 322.9 724.6 324.1 724.6 325.4 724.6 326.6 724.6 327.8 724.6 329.0 724.6 330.2 724.6 331.4 724.6 332.6 724.6 333.9 724.6 335.1 724.6 336.3 724.6 337.5 724.6 338.7 724.6 339.9 724.6 341.1 724.6 342.4 724.6 343.6 724.6 344.8 724.6 346.0 724.6 347.2 724.6 348.4 724.6 349.6 724.6 350.9 724.6 352.1 724.6 353.3 724.6 354.5 724.6 355.7 724.6 356.9 724.6 358.1 724.6 359.4 724.6 360.6 724.6 361.8 724.6 363.0 724.6 364.2 724.6 365.4 724.6 366.6 724.6 367.9 724.6 369.1 724.6 370.3 724.6 371.5 724.6 372.7 724.6 373.9 724.6 375.1 724.6 376.4 724.6 377.6 724.6 378.8 724.6 380.0 724.6 381.2 724.6 382.4 724.6 383.6 724.6 384.9 724.6 386.1 724.6 387.3 724.6 388.5 724.6 389.7 724.6 390.9 724.6 392.1 724.6 393.4 724.6 394.6 724.6 395.8 724.6 397.0 724.6 398.2 724.6 399.4 724.6 400.6 724.6 401.9 724.6 403.1 724.6 404.3 724.6 405.5 724.6 406.7 724.6 407.9 724.6 409.1 724.6 410.4 724.6 411.6 724.6 412.8 724.6 414.0 724.6 415.2 724.6 416.4 724.6 417.6 724.6 418.9 724.6 420.1 724.6 421.3 724.6 422.5 724.6 423.7 724.6 424.9 724.6 426.1 724.6 427.4 724.6 428.6 724.6 429.8 724.6 431.0 724.6 432.2 724.6 433.4 724.6 434.6 724.6 435.9 724.6 437.1 724.6 438.3 724.6 439.5 724.6 440.7 724.6 441.9 724.6 443.1 724.6 444.4 724.6 445.6 724.6 446.8 724.6 448.0 724.6 449.2 724.6 450.4 724.6 451.6 724.6 452.9 724.6 454.1 724.6 455.3 724.6 456.5 724.6 457.7 724.6 458.9 724.6 460.1 724.6 461.4 724.6 462.6 724.6 463.8 724.6 465.0 724.6 466.2 724.6 467.4 724.6 468.6 724.6 469.9 724.6 471.1 724.6 472.3 724.6 473.5 724.6 474.7 724.6 475.9 724.6 477.1 724.6 478.4 724.6 479.6 724.5 480.8 724.5 482.0 724.5 483.2 724.5 484.4 724.4 485.6 724.4 486.9 724.3 488.1 724.2 489.3 724.1 490.5 724.0 491.7 723.9 492.9 723.7 494.1 723.5 495.4 723.2 496.6 722.9 497.8 722.6 499.0 722.2 500.2 721.7 501.4 721.2 502.6 720.5 503.9 719.8 505.1 719.0 506.3 718.2 507.5 717.2 508.7 716.1 509.9 715.0 511.1 713.7 512.4 712.4 513.6 710.9 514.8 709.4 516.0 707.9 517.2 706.3 518.4 704.6 519.6 703.0 520.9 701.3 522.1 699.7 523.3 698.1 524.5 696.6 525.7 695.2 526.9 693.9 528.1 692.7 529.4 691.7 530.6 690.9 531.8 690.2 533.0 689.8 534.2 689.5 535.4 689.5 536.6 689.7 537.9 690.1 539.1 690.7 540.3 691.5 541.5 692.5 542.7 693.6 543.9 694.9 545.1 696.3 546.4 697.8 547.6 699.4 548.8 701.0 550.0 702.6 551.2 704.3 552.4 706.0 553.6 707.6 554.9 709.2 556.1 710.7 557.3 712.1 558.5 713.5 559.7 714.7 560.9 715.9 562.1 717.0 563.4 718.0 564.6 718.9 565.8 719.7 567.0 720.4 568.2 721.0 569.4 721.6 570.6 722.1 571.9 722.5 573.1 722.9 574.3 723.2 575.5 723.4 576.7 723.6 577.9 723.8 579.1 724.0 580.4 724.1 581.6 724.2 582.8 724.3 584.0 724.4 585.2 724.4 586.4 724.5 587.6 724.5 588.9 724.5 590.1 724.5 591.3 724.6 592.5 724.6 593.7 724.6 594.9 724.6 596.1 724.6 597.4 724.6 598.6 724.6 599.8 724.6 601.0 724.6 602.2 724.6 603.4 724.6 604.6 724.6 605.9 724.6 607.1 724.6 608.3 724.6 609.5 724.6 610.7 724.6 611.9 724.6 613.1 724.6 614.4 724.6 615.6 724.6 616.8 724.6 618.0 724.6 619.2 724.6 620.4 724.6 621.6 724.6 622.9 724.6 624.1 724.6 625.3 724.6 626.5 724.6 627.7 724.6 628.9 724.6 630.1 724.6 631.4 724.6 632.6 724.6 633.8 724.6 635.0 724.6 636.2 724.6 637.4 724.6 638.6 724.6 639.9 724.6 641.1 724.6 642.3 724.6 643.5 724.6 644.7 724.6 645.9 724.6 647.1 724.6 648.4 724.6 649.6 724.6 650.8 724.6 652.0 724.6 653.2 724.6 654.4 724.6 655.6 724.6 656.9 724.6 658.1 724.6 659.3 724.6 660.5 724.6 661.7 724.6 662.9 724.6 664.1 724.6 665.4 724.6 666.6 724.6 667.8 724.6 669.0 724.6 670.2 724.6 671.4 724.6 672.6 724.6 673.9 724.6 675.1 724.6 676.3 724.6 677.5 724.6 678.7 724.6 679.9 724.6 681.1 724.6 682.4 724.6 683.6 724.6 684.8 724.6 686.0 724.6 687.2 724.6 688.4 724.6 689.6 724.6 690.9 724.6 692.1 724.6 693.3 724.6 694.5 724.6 695.7 724.6 696.9 724.6 698.1 724.6 699.4 724.6 700.6 724.6 701.8 724.6 703.0 724.6 704.2 724.6 705.4 724.6 706.6 724.6 707.9 724.6 709.1 724.6 710.3 724.6 711.5 724.6 712.7 724.6 713.9 724.6 715.1 724.6 716.4 724.6 717.6 724.6 718.8 724.6 720.0 724.6 721.2 724.6 722.4 724.6 723.6 724.6 724.9 724.6 726.1 724.6 727.3 724.6 728.5 724.6 729.7 724.6 730.9 724.6 732.1 724.6 733.4 724.6 734.6 724.6 735.8 724.6 737.0 724.6 738.2 724.6 739.4 724.6 740.6 724.6 741.9 724.6 743.1 724.6 744.3 724.6 745.5 724.6 746.7 724.6 747.9 724.6 749.1 724.6 750.4 724.6 751.6 724.6 752.8 724.6 754.0 724.6 755.2 724.6 756.4 724.6 757.6 724.6 758.9 724.6 760.1 724.6 761.3 724.6 762.5 724.6 763.7 724.6 764.9 724.6 766.1 724.6 767.4 724.6 768.6 724.6 769.8 724.6 771.0 724.6 772.2 724.6 773.4 724.6 774.6 724.6 775.9 724.6 777.1 724.6 778.3 724.6 779.5 724.6 780.7 724.6 781.9 724.6 783.1 724.6 784.4 724.6 785.6 724.6 786.8 724.6 788.0 724.6 789.2 724.6 790.4 724.6 791.6 724.6 792.9 724.6 794.1 724.6 795.3 724.6 796.5 724.6 797.7 724.6 798.9 724.6 800.1 724.6 801.4 724.6 802.6 724.6 803.8 724.6 805.0 724.6 806.2 724.6 807.4 724.6 808.6 724.6 809.9 724.6 811.1 724.6 812.3 724.6 813.5 724.6 814.7 724.6 815.9 724.6 817.1 724.6 818.4 724.6 819.6 724.6 820.8 724.6 822.0 724.6 823.2 724.6 824.4 724.6 825.6 724.6 826.9 724.6 828.1 724.6 829.3 724.6 830.5 724.6 831.7 724.6 832.9 724.6" fill="none" stroke="#fa8a14" stroke-width="3.6" stroke-linejoin="round"/><path d="M78.9 724.6 80.1 724.6 81.3 724.6 82.5 724.6 83.7 724.6 84.9 724.6 86.1 724.6 87.4 724.6 88.6 724.6 89.8 724.6 91.0 724.6 92.2 724.6 93.4 724.6 94.6 724.6 95.9 724.6 97.1 724.6 98.3 724.6 99.5 724.6 100.7 724.6 101.9 724.6 103.1 724.6 104.4 724.6 105.6 724.6 106.8 724.6 108.0 724.6 109.2 724.6 110.4 724.6 111.6 724.6 112.9 724.6 114.1 724.6 115.3 724.6 116.5 724.6 117.7 724.6 118.9 724.6 120.1 724.6 121.4 724.6 122.6 724.6 123.8 724.6 125.0 724.6 126.2 724.6 127.4 724.6 128.6 724.6 129.9 724.6 131.1 724.6 132.3 724.6 133.5 724.6 134.7 724.6 135.9 724.6 137.1 724.6 138.4 724.6 139.6 724.6 140.8 724.6 142.0 724.6 143.2 724.6 144.4 724.6 145.6 724.6 146.9 724.6 148.1 724.6 149.3 724.6 150.5 724.6 151.7 724.6 152.9 724.6 154.1 724.6 155.4 724.6 156.6 724.6 157.8 724.6 159.0 724.6 160.2 724.6 161.4 724.6 162.6 724.6 163.9 724.6 165.1 724.6 166.3 724.6 167.5 724.6 168.7 724.6 169.9 724.6 171.1 724.6 172.4 724.6 173.6 724.6 174.8 724.6 176.0 724.6 177.2 724.6 178.4 724.6 179.6 724.6 180.9 724.6 182.1 724.6 183.3 724.6 184.5 724.6 185.7 724.6 186.9 724.6 188.1 724.6 189.4 724.6 190.6 724.6 191.8 724.6 193.0 724.6 194.2 724.6 195.4 724.6 196.6 724.6 197.9 724.6 199.1 724.6 200.3 724.6 201.5 724.6 202.7 724.6 203.9 724.6 205.1 724.6 206.4 724.6 207.6 724.6 208.8 724.6 210.0 724.6 211.2 724.6 212.4 724.6 213.6 724.6 214.9 724.6 216.1 724.6 217.3 724.6 218.5 724.6 219.7 724.6 220.9 724.6 222.1 724.6 223.4 724.6 224.6 724.6 225.8 724.6 227.0 724.6 228.2 724.6 229.4 724.6 230.6 724.6 231.9 724.6 233.1 724.6 234.3 724.6 235.5 724.6 236.7 724.6 237.9 724.6 239.1 724.6 240.4 724.6 241.6 724.6 242.8 724.6 244.0 724.6 245.2 724.6 246.4 724.6 247.6 724.6 248.9 724.6 250.1 724.6 251.3 724.6 252.5 724.6 253.7 724.6 254.9 724.6 256.1 724.6 257.4 724.6 258.6 724.6 259.8 724.6 261.0 724.6 262.2 724.6 263.4 724.6 264.6 724.6 265.9 724.6 267.1 724.6 268.3 724.6 269.5 724.6 270.7 724.6 271.9 724.6 273.1 724.6 274.4 724.6 275.6 724.6 276.8 724.6 278.0 724.6 279.2 724.6 280.4 724.6 281.6 724.6 282.9 724.6 284.1 724.6 285.3 724.6 286.5 724.6 287.7 724.6 288.9 724.6 290.1 724.6 291.4 724.6 292.6 724.6 293.8 724.6 295.0 724.6 296.2 724.6 297.4 724.6 298.6 724.6 299.9 724.6 301.1 724.6 302.3 724.6 303.5 724.6 304.7 724.6 305.9 724.6 307.1 724.6 308.4 724.6 309.6 724.6 310.8 724.6 312.0 724.6 313.2 724.6 314.4 724.6 315.6 724.6 316.9 724.6 318.1 724.6 319.3 724.6 320.5 724.6 321.7 724.6 322.9 724.6 324.1 724.6 325.4 724.6 326.6 724.6 327.8 724.6 329.0 724.6 330.2 724.6 331.4 724.6 332.6 724.6 333.9 724.6 335.1 724.6 336.3 724.6 337.5 724.6 338.7 724.6 339.9 724.6 341.1 724.6 342.4 724.6 343.6 724.6 344.8 724.6 346.0 724.5 347.2 724.5 348.4 724.5 349.6 724.5 350.9 724.5 352.1 724.5 353.3 724.5 354.5 724.5 355.7 724.5 356.9 724.5 358.1 724.5 359.4 724.5 360.6 724.5 361.8 724.5 363.0 724.5 364.2 724.5 365.4 724.5 366.6 724.5 367.9 724.5 369.1 724.5 370.3 724.5 371.5 724.5 372.7 724.5 373.9 724.5 375.1 724.5 376.4 724.5 377.6 724.5 378.8 724.5 380.0 724.5 381.2 724.5 382.4 724.5 383.6 724.5 384.9 724.5 386.1 724.5 387.3 724.5 388.5 724.5 389.7 724.5 390.9 724.5 392.1 724.5 393.4 724.5 394.6 724.5 395.8 724.5 397.0 724.5 398.2 724.5 399.4 724.5 400.6 724.5 401.9 724.5 403.1 724.5 404.3 724.5 405.5 724.5 406.7 724.5 407.9 724.5 409.1 724.5 410.4 724.5 411.6 724.5 412.8 724.5 414.0 724.5 415.2 724.5 416.4 724.5 417.6 724.5 418.9 724.5 420.1 724.5 421.3 724.5 422.5 724.5 423.7 724.5 424.9 724.5 426.1 724.5 427.4 724.5 428.6 724.5 429.8 724.5 431.0 724.5 432.2 724.5 433.4 724.5 434.6 724.5 435.9 724.5 437.1 724.5 438.3 724.5 439.5 724.5 440.7 724.5 441.9 724.5 443.1 724.5 444.4 724.5 445.6 724.5 446.8 724.5 448.0 724.5 449.2 724.5 450.4 724.5 451.6 724.5 452.9 724.5 454.1 724.5 455.3 724.5 456.5 724.5 457.7 724.5 458.9 724.5 460.1 724.5 461.4 724.5 462.6 724.5 463.8 724.4 465.0 724.4 466.2 724.4 467.4 724.4 468.6 724.4 469.9 724.4 471.1 724.4 472.3 724.4 473.5 724.4 474.7 724.4 475.9 724.4 477.1 724.4 478.4 724.4 479.6 724.4 480.8 724.4 482.0 724.4 483.2 724.4 484.4 724.3 485.6 724.3 486.9 724.3 488.1 724.3 489.3 724.3 490.5 724.3 491.7 724.2 492.9 724.2 494.1 724.2 495.4 724.2 496.6 724.1 497.8 724.1 499.0 724.1 500.2 724.0 501.4 724.0 502.6 723.9 503.9 723.9 505.1 723.8 506.3 723.8 507.5 723.7 508.7 723.6 509.9 723.5 511.1 723.4 512.4 723.3 513.6 723.2 514.8 723.1 516.0 723.0 517.2 722.8 518.4 722.7 519.6 722.5 520.9 722.3 522.1 722.1 523.3 721.9 524.5 721.7 525.7 721.4 526.9 721.2 528.1 720.9 529.4 720.6 530.6 720.3 531.8 719.9 533.0 719.5 534.2 719.1 535.4 718.7 536.6 718.2 537.9 717.8 539.1 717.2 540.3 716.7 541.5 716.1 542.7 715.5 543.9 714.8 545.1 714.1 546.4 713.4 547.6 712.6 548.8 711.8 550.0 710.9 551.2 710.0 552.4 709.0 553.6 708.0 554.9 707.0 556.1 705.9 557.3 704.8 558.5 703.6 559.7 702.3 560.9 701.0 562.1 699.7 563.4 698.3 564.6 696.9 565.8 695.4 567.0 693.9 568.2 692.3 569.4 690.7 570.6 689.0 571.9 687.3 573.1 685.6 574.3 683.8 575.5 681.9 576.7 680.1 577.9 678.2 579.1 676.3 580.4 674.3 581.6 672.4 582.8 670.4 584.0 668.4 585.2 666.4 586.4 664.4 587.6 662.3 588.9 660.3 590.1 658.3 591.3 656.3 592.5 654.3 593.7 652.3 594.9 650.4 596.1 648.4 597.4 646.6 598.6 644.7 599.8 642.9 601.0 641.2 602.2 639.5 603.4 637.8 604.6 636.2 605.9 634.7 607.1 633.3 608.3 632.0 609.5 630.7 610.7 629.5 611.9 628.4 613.1 627.4 614.4 626.5 615.6 625.7 616.8 625.0 618.0 624.4 619.2 623.9 620.4 623.5 621.6 623.2 622.9 623.1 624.1 623.0 625.3 623.1 626.5 623.3 627.7 623.5 628.9 623.9 630.1 624.4 631.4 625.0 632.6 625.8 633.8 626.6 635.0 627.5 636.2 628.5 637.4 629.6 638.6 630.8 639.9 632.1 641.1 633.4 642.3 634.9 643.5 636.4 644.7 638.0 645.9 639.6 647.1 641.3 648.4 643.1 649.6 644.9 650.8 646.7 652.0 648.6 653.2 650.5 654.4 652.5 655.6 654.5 656.9 656.5 658.1 658.5 659.3 660.5 660.5 662.5 661.7 664.5 662.9 666.6 664.1 668.6 665.4 670.6 666.6 672.6 667.8 674.5 669.0 676.5 670.2 678.4 671.4 680.3 672.6 682.1 673.9 683.9 675.1 685.7 676.3 687.5 677.5 689.2 678.7 690.8 679.9 692.4 681.1 694.0 682.4 695.5 683.6 697.0 684.8 698.4 686.0 699.8 687.2 701.2 688.4 702.4 689.6 703.7 690.9 704.9 692.1 706.0 693.3 707.1 694.5 708.1 695.7 709.1 696.9 710.1 698.1 711.0 699.4 711.8 700.6 712.7 701.8 713.4 703.0 714.2 704.2 714.9 705.4 715.5 706.6 716.1 707.9 716.7 709.1 717.3 710.3 717.8 711.5 718.3 712.7 718.7 713.9 719.2 715.1 719.6 716.4 719.9 717.6 720.3 718.8 720.6 720.0 720.9 721.2 721.2 722.4 721.5 723.6 721.7 724.9 721.9 726.1 722.2 727.3 722.3 728.5 722.5 729.7 722.7 730.9 722.8 732.1 723.0 733.4 723.1 734.6 723.2 735.8 723.3 737.0 723.4 738.2 723.5 739.4 723.6 740.6 723.7 741.9 723.8 743.1 723.8 744.3 723.9 745.5 723.9 746.7 724.0 747.9 724.0 749.1 724.1 750.4 724.1 751.6 724.1 752.8 724.2 754.0 724.2 755.2 724.2 756.4 724.2 757.6 724.3 758.9 724.3 760.1 724.3 761.3 724.3 762.5 724.3 763.7 724.3 764.9 724.4 766.1 724.4 767.4 724.4 768.6 724.4 769.8 724.4 771.0 724.4 772.2 724.4 773.4 724.4 774.6 724.4 775.9 724.4 777.1 724.4 778.3 724.4 779.5 724.4 780.7 724.4 781.9 724.4 783.1 724.4 784.4 724.4 785.6 724.5 786.8 724.5 788.0 724.5 789.2 724.5 790.4 724.5 791.6 724.5 792.9 724.5 794.1 724.5 795.3 724.5 796.5 724.5 797.7 724.5 798.9 724.5 800.1 724.5 801.4 724.5 802.6 724.5 803.8 724.5 805.0 724.5 806.2 724.5 807.4 724.5 808.6 724.5 809.9 724.5 811.1 724.5 812.3 724.5 813.5 724.5 814.7 724.5 815.9 724.5 817.1 724.5 818.4 724.5 819.6 724.5 820.8 724.5 822.0 724.5 823.2 724.5 824.4 724.5 825.6 724.5 826.9 724.5 828.1 724.5 829.3 724.5 830.5 724.5 831.7 724.5 832.9 724.5" fill="none" stroke="#808000" stroke-width="3.6" stroke-linejoin="round"/><path d="M78.9 724.2 80.1 724.2 81.3 724.2 82.5 724.2 83.7 724.2 84.9 724.2 86.1 724.2 87.4 724.2 88.6 724.2 89.8 724.2 91.0 724.2 92.2 724.2 93.4 724.2 94.6 724.2 95.9 724.2 97.1 724.2 98.3 724.2 99.5 724.2 100.7 724.2 101.9 724.2 103.1 724.2 104.4 724.2 105.6 724.2 106.8 724.2 108.0 724.2 109.2 724.2 110.4 724.2 111.6 724.2 112.9 724.2 114.1 724.2 115.3 724.1 116.5 724.1 117.7 724.1 118.9 724.1 120.1 724.1 121.4 724.1 122.6 724.1 123.8 724.1 125.0 724.1 126.2 724.1 127.4 724.1 128.6 724.1 129.9 724.1 131.1 724.1 132.3 724.1 133.5 724.1 134.7 724.1 135.9 724.1 137.1 724.1 138.4 724.1 139.6 724.1 140.8 724.1 142.0 724.1 143.2 724.1 144.4 724.1 145.6 724.1 146.9 724.1 148.1 724.1 149.3 724.1 150.5 724.1 151.7 724.1 152.9 724.1 154.1 724.1 155.4 724.1 156.6 724.1 157.8 724.1 159.0 724.1 160.2 724.1 161.4 724.1 162.6 724.1 163.9 724.1 165.1 724.1 166.3 724.1 167.5 724.1 168.7 724.0 169.9 724.0 171.1 724.0 172.4 724.0 173.6 724.0 174.8 724.0 176.0 724.0 177.2 724.0 178.4 724.0 179.6 724.0 180.9 724.0 182.1 724.0 183.3 724.0 184.5 724.0 185.7 724.0 186.9 724.0 188.1 724.0 189.4 724.0 190.6 724.0 191.8 724.0 193.0 724.0 194.2 724.0 195.4 724.0 196.6 724.0 197.9 724.0 199.1 724.0 200.3 724.0 201.5 724.0 202.7 724.0 203.9 724.0 205.1 724.0 206.4 724.0 207.6 724.0 208.8 724.0 210.0 723.9 211.2 723.9 212.4 723.9 213.6 723.9 214.9 723.9 216.1 723.9 217.3 723.9 218.5 723.9 219.7 723.9 220.9 723.9 222.1 723.9 223.4 723.9 224.6 723.9 225.8 723.9 227.0 723.9 228.2 723.9 229.4 723.9 230.6 723.9 231.9 723.9 233.1 723.9 234.3 723.9 235.5 723.9 236.7 723.9 237.9 723.9 239.1 723.9 240.4 723.9 241.6 723.8 242.8 723.8 244.0 723.8 245.2 723.8 246.4 723.8 247.6 723.8 248.9 723.8 250.1 723.8 251.3 723.8 252.5 723.8 253.7 723.8 254.9 723.8 256.1 723.8 257.4 723.8 258.6 723.8 259.8 723.8 261.0 723.8 262.2 723.8 263.4 723.8 264.6 723.8 265.9 723.8 267.1 723.8 268.3 723.7 269.5 723.7 270.7 723.7 271.9 723.7 273.1 723.7 274.4 723.7 275.6 723.7 276.8 723.7 278.0 723.7 279.2 723.7 280.4 723.7 281.6 723.7 282.9 723.7 284.1 723.7 285.3 723.7 286.5 723.7 287.7 723.7 288.9 723.7 290.1 723.6 291.4 723.6 292.6 723.6 293.8 723.6 295.0 723.6 296.2 723.6 297.4 723.6 298.6 723.6 299.9 723.6 301.1 723.6 302.3 723.6 303.5 723.6 304.7 723.6 305.9 723.6 307.1 723.6 308.4 723.6 309.6 723.5 310.8 723.5 312.0 723.5 313.2 723.5 314.4 723.5 315.6 723.5 316.9 723.5 318.1 723.5 319.3 723.5 320.5 723.5 321.7 723.5 322.9 723.5 324.1 723.5 325.4 723.4 326.6 723.4 327.8 723.4 329.0 723.4 330.2 723.4 331.4 723.4 332.6 723.4 333.9 723.4 335.1 723.4 336.3 723.4 337.5 723.4 338.7 723.4 339.9 723.3 341.1 723.3 342.4 723.3 343.6 723.3 344.8 723.3 346.0 723.3 347.2 723.3 348.4 723.3 349.6 723.3 350.9 723.3 352.1 723.3 353.3 723.2 354.5 723.2 355.7 723.2 356.9 723.2 358.1 723.2 359.4 723.2 360.6 723.2 361.8 723.2 363.0 723.2 364.2 723.1 365.4 723.1 366.6 723.1 367.9 723.1 369.1 723.1 370.3 723.1 371.5 723.1 372.7 723.1 373.9 723.0 375.1 723.0 376.4 723.0 377.6 723.0 378.8 723.0 380.0 723.0 381.2 723.0 382.4 723.0 383.6 722.9 384.9 722.9 386.1 722.9 387.3 722.9 388.5 722.9 389.7 722.9 390.9 722.9 392.1 722.8 393.4 722.8 394.6 722.8 395.8 722.8 397.0 722.8 398.2 722.8 399.4 722.8 400.6 722.7 401.9 722.7 403.1 722.7 404.3 722.7 405.5 722.7 406.7 722.7 407.9 722.6 409.1 722.6 410.4 722.6 411.6 722.6 412.8 722.6 414.0 722.5 415.2 722.5 416.4 722.5 417.6 722.5 418.9 722.5 420.1 722.4 421.3 722.4 422.5 722.4 423.7 722.4 424.9 722.4 426.1 722.3 427.4 722.3 428.6 722.3 429.8 722.3 431.0 722.2 432.2 722.2 433.4 722.2 434.6 722.2 435.9 722.2 437.1 722.1 438.3 722.1 439.5 722.1 440.7 722.1 441.9 722.0 443.1 722.0 444.4 722.0 445.6 721.9 446.8 721.9 448.0 721.9 449.2 721.9 450.4 721.8 451.6 721.8 452.9 721.8 454.1 721.7 455.3 721.7 456.5 721.7 457.7 721.6 458.9 721.6 460.1 721.6 461.4 721.5 462.6 721.5 463.8 721.5 465.0 721.4 466.2 721.4 467.4 721.4 468.6 721.3 469.9 721.3 471.1 721.2 472.3 721.2 473.5 721.2 474.7 721.1 475.9 721.1 477.1 721.0 478.4 721.0 479.6 721.0 480.8 720.9 482.0 720.9 483.2 720.8 484.4 720.8 485.6 720.7 486.9 720.7 488.1 720.6 489.3 720.6 490.5 720.5 491.7 720.5 492.9 720.4 494.1 720.4 495.4 720.3 496.6 720.2 497.8 720.2 499.0 720.1 500.2 720.1 501.4 720.0 502.6 719.9 503.9 719.9 505.1 719.8 506.3 719.7 507.5 719.7 508.7 719.6 509.9 719.5 511.1 719.5 512.4 719.4 513.6 719.3 514.8 719.2 516.0 719.1 517.2 719.1 518.4 719.0 519.6 718.9 520.9 718.8 522.1 718.7 523.3 718.6 524.5 718.5 525.7 718.4 526.9 718.3 528.1 718.2 529.4 718.1 530.6 718.0 531.8 717.9 533.0 717.8 534.2 717.7 535.4 717.6 536.6 717.4 537.9 717.3 539.1 717.2 540.3 717.1 541.5 716.9 542.7 716.8 543.9 716.7 545.1 716.5 546.4 716.4 547.6 716.2 548.8 716.1 550.0 715.9 551.2 715.7 552.4 715.6 553.6 715.4 554.9 715.2 556.1 715.0 557.3 714.8 558.5 714.6 559.7 714.4 560.9 714.2 562.1 714.0 563.4 713.8 564.6 713.6 565.8 713.3 567.0 713.1 568.2 712.8 569.4 712.6 570.6 712.3 571.9 712.1 573.1 711.8 574.3 711.5 575.5 711.2 576.7 710.9 577.9 710.5 579.1 710.2 580.4 709.8 581.6 709.5 582.8 709.1 584.0 708.7 585.2 708.3 586.4 707.9 587.6 707.5 588.9 707.0 590.1 706.6 591.3 706.1 592.5 705.6 593.7 705.0 594.9 704.5 596.1 703.9 597.4 703.3 598.6 702.7 599.8 702.1 601.0 701.4 602.2 700.7 603.4 700.0 604.6 699.2 605.9 698.4 607.1 697.6 608.3 696.7 609.5 695.8 610.7 694.8 611.9 693.8 613.1 692.7 614.4 691.6 615.6 690.4 616.8 689.2 618.0 687.9 619.2 686.5 620.4 685.1 621.6 683.5 622.9 681.9 624.1 680.2 625.3 678.4 626.5 676.5 627.7 674.5 628.9 672.4 630.1 670.1 631.4 667.7 632.6 665.2 633.8 662.5 635.0 659.7 636.2 656.6 637.4 653.4 638.6 650.0 639.9 646.4 641.1 642.6 642.3 638.5 643.5 634.2 644.7 629.6 645.9 624.8 647.1 619.7 648.4 614.3 649.6 608.6 650.8 602.6 652.0 596.3 653.2 589.7 654.4 582.9 655.6 575.7 656.9 568.3 658.1 560.7 659.3 553.0 660.5 545.1 661.7 537.2 662.9 529.4 664.1 521.7 665.4 514.2 666.6 507.2 667.8 500.7 669.0 494.8 670.2 489.8 671.4 485.7 672.6 482.6 673.9 480.6 675.1 479.8 676.3 480.2 677.5 481.8 678.7 484.5 679.9 488.3 681.1 493.0 682.4 498.6 683.6 504.9 684.8 511.8 686.0 519.1 687.2 526.7 688.4 534.5 689.6 542.4 690.9 550.3 692.1 558.1 693.3 565.8 694.5 573.2 695.7 580.5 696.9 587.4 698.1 594.1 699.4 600.5 700.6 606.6 701.8 612.4 703.0 617.9 704.2 623.1 705.4 628.0 706.6 632.7 707.9 637.1 709.1 641.2 710.3 645.1 711.5 648.8 712.7 652.3 713.9 655.6 715.1 658.6 716.4 661.6 717.6 664.3 718.8 666.9 720.0 669.3 721.2 671.6 722.4 673.8 723.6 675.9 724.9 677.8 726.1 679.6 727.3 681.4 728.5 683.0 729.7 684.6 730.9 686.0 732.1 687.4 733.4 688.8 734.6 690.0 735.8 691.2 737.0 692.4 738.2 693.4 739.4 694.5 740.6 695.4 741.9 696.4 743.1 697.3 744.3 698.1 745.5 698.9 746.7 699.7 747.9 700.5 749.1 701.2 750.4 701.9 751.6 702.5 752.8 703.1 754.0 703.7 755.2 704.3 756.4 704.9 757.6 705.4 758.9 705.9 760.1 706.4 761.3 706.9 762.5 707.3 763.7 707.8 764.9 708.2 766.1 708.6 767.4 709.0 768.6 709.4 769.8 709.7 771.0 710.1 772.2 710.4 773.4 710.7 774.6 711.1 775.9 711.4 777.1 711.7 778.3 712.0 779.5 712.2 780.7 712.5 781.9 712.8 783.1 713.0 784.4 713.3 785.6 713.5 786.8 713.7 788.0 713.9 789.2 714.2 790.4 714.4 791.6 714.6 792.9 714.8 794.1 715.0 795.3 715.2 796.5 715.3 797.7 715.5 798.9 715.7 800.1 715.8 801.4 716.0 802.6 716.2 803.8 716.3 805.0 716.5 806.2 716.6 807.4 716.8 808.6 716.9 809.9 717.0 811.1 717.2 812.3 717.3 813.5 717.4 814.7 717.5 815.9 717.6 817.1 717.8 818.4 717.9 819.6 718.0 820.8 718.1 822.0 718.2 823.2 718.3 824.4 718.4 825.6 718.5 826.9 718.6 828.1 718.7 829.3 718.8 830.5 718.9 831.7 718.9 832.9 719.0" fill="none" stroke="#000080" stroke-width="3.6" stroke-linejoin="round"/><g fill="#fff" stroke="#4d4d4d" stroke-width="1.3"><circle cx="67.9" cy="1062.7" r="4.3"/><circle cx="69.1" cy="1056.5" r="4.3"/><circle cx="70.4" cy="1059.7" r="4.3"/><circle cx="71.6" cy="1056.6" r="4.3"/><circle cx="72.8" cy="1047.1" r="4.3"/><circle cx="74.0" cy="1055.5" r="4.3"/><circle cx="75.2" cy="1050.8" r="4.3"/><circle cx="76.4" cy="1048.2" r="4.3"/><circle cx="77.6" cy="1046.0" r="4.3"/><circle cx="78.9" cy="1039.3" r="4.3"/><circle cx="80.1" cy="1034.7" r="4.3"/><circle cx="81.3" cy="1032.3" r="4.3"/><circle cx="82.5" cy="1035.3" r="4.3"/><circle cx="83.7" cy="1019.3" r="4.3"/><circle cx="84.9" cy="1024.1" r="4.3"/><circle cx="86.1" cy="1015.6" r="4.3"/><circle cx="87.4" cy="1006.7" r="4.3"/><circle cx="88.6" cy="1001.2" r="4.3"/><circle cx="89.8" cy="1008.5" r="4.3"/><circle cx="91.0" cy="982.1" r="4.3"/><circle cx="92.2" cy="977.5" r="4.3"/><circle cx="93.4" cy="969.8" r="4.3"/><circle cx="94.6" cy="951.1" r="4.3"/><circle cx="95.9" cy="953.6" r="4.3"/><circle cx="97.1" cy="950.8" r="4.3"/><circle cx="98.3" cy="943.1" r="4.3"/><circle cx="99.5" cy="938.7" r="4.3"/><circle cx="100.7" cy="950.4" r="4.3"/><circle cx="101.9" cy="959.3" r="4.3"/><circle cx="103.1" cy="943.6" r="4.3"/><circle cx="104.4" cy="971.0" r="4.3"/><circle cx="105.6" cy="974.9" r="4.3"/><circle cx="106.8" cy="982.0" r="4.3"/><circle cx="108.0" cy="997.3" r="4.3"/><circle cx="109.2" cy="995.0" r="4.3"/><circle cx="110.4" cy="1006.7" r="4.3"/><circle cx="111.6" cy="1006.3" r="4.3"/><circle cx="112.9" cy="1009.9" r="4.3"/><circle cx="114.1" cy="1021.4" r="4.3"/><circle cx="115.3" cy="1025.6" r="4.3"/><circle cx="116.5" cy="1022.1" r="4.3"/><circle cx="117.7" cy="1028.5" r="4.3"/><circle cx="118.9" cy="1030.1" r="4.3"/><circle cx="120.1" cy="1039.5" r="4.3"/><circle cx="121.4" cy="1037.4" r="4.3"/><circle cx="122.6" cy="1042.8" r="4.3"/><circle cx="123.8" cy="1046.5" r="4.3"/><circle cx="125.0" cy="1047.3" r="4.3"/><circle cx="126.2" cy="1043.5" r="4.3"/><circle cx="127.4" cy="1049.9" r="4.3"/><circle cx="128.6" cy="1050.8" r="4.3"/><circle cx="129.9" cy="1048.3" r="4.3"/><circle cx="131.1" cy="1053.9" r="4.3"/><circle cx="132.3" cy="1045.5" r="4.3"/><circle cx="133.5" cy="1046.9" r="4.3"/><circle cx="134.7" cy="1048.2" r="4.3"/><circle cx="135.9" cy="1041.1" r="4.3"/><circle cx="137.1" cy="1051.6" r="4.3"/><circle cx="138.4" cy="1049.6" r="4.3"/><circle cx="139.6" cy="1047.5" r="4.3"/><circle cx="140.8" cy="1028.7" r="4.3"/><circle cx="142.0" cy="1020.6" r="4.3"/><circle cx="143.2" cy="1027.2" r="4.3"/><circle cx="144.4" cy="1038.2" r="4.3"/><circle cx="145.6" cy="1033.3" r="4.3"/><circle cx="146.9" cy="1012.1" r="4.3"/><circle cx="148.1" cy="1017.3" r="4.3"/><circle cx="149.3" cy="1000.3" r="4.3"/><circle cx="150.5" cy="989.1" r="4.3"/><circle cx="151.7" cy="971.8" r="4.3"/><circle cx="152.9" cy="959.8" r="4.3"/><circle cx="154.1" cy="983.4" r="4.3"/><circle cx="155.4" cy="944.5" r="4.3"/><circle cx="156.6" cy="977.4" r="4.3"/><circle cx="157.8" cy="963.2" r="4.3"/><circle cx="159.0" cy="957.5" r="4.3"/><circle cx="160.2" cy="946.3" r="4.3"/><circle cx="161.4" cy="921.6" r="4.3"/><circle cx="162.6" cy="918.2" r="4.3"/><circle cx="163.9" cy="936.3" r="4.3"/><circle cx="165.1" cy="906.3" r="4.3"/><circle cx="166.3" cy="912.3" r="4.3"/><circle cx="167.5" cy="917.5" r="4.3"/><circle cx="168.7" cy="930.0" r="4.3"/><circle cx="169.9" cy="905.9" r="4.3"/><circle cx="171.1" cy="914.6" r="4.3"/><circle cx="172.4" cy="915.2" r="4.3"/><circle cx="173.6" cy="916.8" r="4.3"/><circle cx="174.8" cy="920.7" r="4.3"/><circle cx="176.0" cy="925.2" r="4.3"/><circle cx="177.2" cy="931.6" r="4.3"/><circle cx="178.4" cy="939.8" r="4.3"/><circle cx="179.6" cy="921.5" r="4.3"/><circle cx="180.9" cy="930.1" r="4.3"/><circle cx="182.1" cy="951.1" r="4.3"/><circle cx="183.3" cy="947.9" r="4.3"/><circle cx="184.5" cy="963.1" r="4.3"/><circle cx="185.7" cy="970.1" r="4.3"/><circle cx="186.9" cy="965.7" r="4.3"/><circle cx="188.1" cy="978.6" r="4.3"/><circle cx="189.4" cy="975.9" r="4.3"/><circle cx="190.6" cy="973.6" r="4.3"/><circle cx="191.8" cy="977.6" r="4.3"/><circle cx="193.0" cy="976.0" r="4.3"/><circle cx="194.2" cy="993.0" r="4.3"/><circle cx="195.4" cy="996.6" r="4.3"/><circle cx="196.6" cy="1003.3" r="4.3"/><circle cx="197.9" cy="997.6" r="4.3"/><circle cx="199.1" cy="999.0" r="4.3"/><circle cx="200.3" cy="1006.6" r="4.3"/><circle cx="201.5" cy="1001.7" r="4.3"/><circle cx="202.7" cy="1002.3" r="4.3"/><circle cx="203.9" cy="1002.2" r="4.3"/><circle cx="205.1" cy="1009.1" r="4.3"/><circle cx="206.4" cy="1016.0" r="4.3"/><circle cx="207.6" cy="1004.9" r="4.3"/><circle cx="208.8" cy="1011.3" r="4.3"/><circle cx="210.0" cy="1009.3" r="4.3"/><circle cx="211.2" cy="1023.5" r="4.3"/><circle cx="212.4" cy="1011.1" r="4.3"/><circle cx="213.6" cy="1016.7" r="4.3"/><circle cx="214.9" cy="1011.4" r="4.3"/><circle cx="216.1" cy="1018.2" r="4.3"/><circle cx="217.3" cy="1015.2" r="4.3"/><circle cx="218.5" cy="1017.5" r="4.3"/><circle cx="219.7" cy="1010.7" r="4.3"/><circle cx="220.9" cy="1010.7" r="4.3"/><circle cx="222.1" cy="1022.6" r="4.3"/><circle cx="223.4" cy="1025.0" r="4.3"/><circle cx="224.6" cy="1013.8" r="4.3"/><circle cx="225.8" cy="1021.7" r="4.3"/><circle cx="227.0" cy="1022.8" r="4.3"/><circle cx="228.2" cy="1035.0" r="4.3"/><circle cx="229.4" cy="1015.2" r="4.3"/><circle cx="230.6" cy="1017.5" r="4.3"/><circle cx="231.9" cy="1017.2" r="4.3"/><circle cx="233.1" cy="1022.5" r="4.3"/><circle cx="234.3" cy="1026.4" r="4.3"/><circle cx="235.5" cy="1014.9" r="4.3"/><circle cx="236.7" cy="1026.2" r="4.3"/><circle cx="237.9" cy="1030.5" r="4.3"/><circle cx="239.1" cy="1010.2" r="4.3"/><circle cx="240.4" cy="1014.0" r="4.3"/><circle cx="241.6" cy="1008.1" r="4.3"/><circle cx="242.8" cy="1008.4" r="4.3"/><circle cx="244.0" cy="1007.5" r="4.3"/><circle cx="245.2" cy="995.6" r="4.3"/><circle cx="246.4" cy="993.5" r="4.3"/><circle cx="247.6" cy="988.6" r="4.3"/><circle cx="248.9" cy="990.4" r="4.3"/><circle cx="250.1" cy="991.5" r="4.3"/><circle cx="251.3" cy="987.5" r="4.3"/><circle cx="252.5" cy="994.9" r="4.3"/><circle cx="253.7" cy="985.9" r="4.3"/><circle cx="254.9" cy="983.6" r="4.3"/><circle cx="256.1" cy="984.1" r="4.3"/><circle cx="257.4" cy="978.1" r="4.3"/><circle cx="258.6" cy="971.7" r="4.3"/><circle cx="259.8" cy="981.0" r="4.3"/><circle cx="261.0" cy="976.1" r="4.3"/><circle cx="262.2" cy="982.6" r="4.3"/><circle cx="263.4" cy="980.8" r="4.3"/><circle cx="264.6" cy="968.0" r="4.3"/><circle cx="265.9" cy="970.0" r="4.3"/><circle cx="267.1" cy="979.2" r="4.3"/><circle cx="268.3" cy="976.5" r="4.3"/><circle cx="269.5" cy="976.4" r="4.3"/><circle cx="270.7" cy="978.2" r="4.3"/><circle cx="271.9" cy="993.3" r="4.3"/><circle cx="273.1" cy="991.5" r="4.3"/><circle cx="274.4" cy="980.7" r="4.3"/><circle cx="275.6" cy="999.5" r="4.3"/><circle cx="276.8" cy="1001.4" r="4.3"/><circle cx="278.0" cy="997.1" r="4.3"/><circle cx="279.2" cy="1006.4" r="4.3"/><circle cx="280.4" cy="999.8" r="4.3"/><circle cx="281.6" cy="1015.3" r="4.3"/><circle cx="282.9" cy="1018.4" r="4.3"/><circle cx="284.1" cy="1010.2" r="4.3"/><circle cx="285.3" cy="1018.4" r="4.3"/><circle cx="286.5" cy="1009.4" r="4.3"/><circle cx="287.7" cy="1008.0" r="4.3"/><circle cx="288.9" cy="1015.9" r="4.3"/><circle cx="290.1" cy="1021.8" r="4.3"/><circle cx="291.4" cy="1016.9" r="4.3"/><circle cx="292.6" cy="1018.7" r="4.3"/><circle cx="293.8" cy="1017.5" r="4.3"/><circle cx="295.0" cy="1012.0" r="4.3"/><circle cx="296.2" cy="1010.4" r="4.3"/><circle cx="297.4" cy="1010.3" r="4.3"/><circle cx="298.6" cy="1020.6" r="4.3"/><circle cx="299.9" cy="1015.5" r="4.3"/><circle cx="301.1" cy="1022.7" r="4.3"/><circle cx="302.3" cy="1018.6" r="4.3"/><circle cx="303.5" cy="1030.0" r="4.3"/><circle cx="304.7" cy="1030.8" r="4.3"/><circle cx="305.9" cy="1031.8" r="4.3"/><circle cx="307.1" cy="1029.7" r="4.3"/><circle cx="308.4" cy="1024.7" r="4.3"/><circle cx="309.6" cy="1022.8" r="4.3"/><circle cx="310.8" cy="1021.6" r="4.3"/><circle cx="312.0" cy="1031.7" r="4.3"/><circle cx="313.2" cy="1035.4" r="4.3"/><circle cx="314.4" cy="1021.9" r="4.3"/><circle cx="315.6" cy="1039.1" r="4.3"/><circle cx="316.9" cy="1025.3" r="4.3"/><circle cx="318.1" cy="1023.7" r="4.3"/><circle cx="319.3" cy="1030.1" r="4.3"/><circle cx="320.5" cy="1034.4" r="4.3"/><circle cx="321.7" cy="1029.5" r="4.3"/><circle cx="322.9" cy="1030.4" r="4.3"/><circle cx="324.1" cy="1042.8" r="4.3"/><circle cx="325.4" cy="1033.5" r="4.3"/><circle cx="326.6" cy="1043.2" r="4.3"/><circle cx="327.8" cy="1038.4" r="4.3"/><circle cx="329.0" cy="1034.3" r="4.3"/><circle cx="330.2" cy="1038.8" r="4.3"/><circle cx="331.4" cy="1036.4" r="4.3"/><circle cx="332.6" cy="1030.2" r="4.3"/><circle cx="333.9" cy="1041.1" r="4.3"/><circle cx="335.1" cy="1035.5" r="4.3"/><circle cx="336.3" cy="1036.4" r="4.3"/><circle cx="337.5" cy="1048.2" r="4.3"/><circle cx="338.7" cy="1049.9" r="4.3"/><circle cx="339.9" cy="1047.9" r="4.3"/><circle cx="341.1" cy="1044.3" r="4.3"/><circle cx="342.4" cy="1041.6" r="4.3"/><circle cx="343.6" cy="1042.2" r="4.3"/><circle cx="344.8" cy="1036.9" r="4.3"/><circle cx="346.0" cy="1026.9" r="4.3"/><circle cx="347.2" cy="1045.3" r="4.3"/><circle cx="348.4" cy="1046.0" r="4.3"/><circle cx="349.6" cy="1050.6" r="4.3"/><circle cx="350.9" cy="1038.5" r="4.3"/><circle cx="352.1" cy="1053.1" r="4.3"/><circle cx="353.3" cy="1043.3" r="4.3"/><circle cx="354.5" cy="1038.9" r="4.3"/><circle cx="355.7" cy="1045.5" r="4.3"/><circle cx="356.9" cy="1053.4" r="4.3"/><circle cx="358.1" cy="1047.5" r="4.3"/><circle cx="359.4" cy="1050.1" r="4.3"/><circle cx="360.6" cy="1041.8" r="4.3"/><circle cx="361.8" cy="1050.1" r="4.3"/><circle cx="363.0" cy="1053.2" r="4.3"/><circle cx="364.2" cy="1040.6" r="4.3"/><circle cx="365.4" cy="1048.5" r="4.3"/><circle cx="366.6" cy="1038.6" r="4.3"/><circle cx="367.9" cy="1045.6" r="4.3"/><circle cx="369.1" cy="1034.5" r="4.3"/><circle cx="370.3" cy="1047.3" r="4.3"/><circle cx="371.5" cy="1043.0" r="4.3"/><circle cx="372.7" cy="1035.3" r="4.3"/><circle cx="373.9" cy="1043.2" r="4.3"/><circle cx="375.1" cy="1036.3" r="4.3"/><circle cx="376.4" cy="1042.0" r="4.3"/><circle cx="377.6" cy="1030.3" r="4.3"/><circle cx="378.8" cy="1040.2" r="4.3"/><circle cx="380.0" cy="1029.4" r="4.3"/><circle cx="381.2" cy="1040.8" r="4.3"/><circle cx="382.4" cy="1035.1" r="4.3"/><circle cx="383.6" cy="1032.6" r="4.3"/><circle cx="384.9" cy="1023.5" r="4.3"/><circle cx="386.1" cy="1016.4" r="4.3"/><circle cx="387.3" cy="1025.5" r="4.3"/><circle cx="388.5" cy="1039.3" r="4.3"/><circle cx="389.7" cy="1020.5" r="4.3"/><circle cx="390.9" cy="1034.2" r="4.3"/><circle cx="392.1" cy="1033.6" r="4.3"/><circle cx="393.4" cy="1022.7" r="4.3"/><circle cx="394.6" cy="1023.3" r="4.3"/><circle cx="395.8" cy="1032.8" r="4.3"/><circle cx="397.0" cy="1022.0" r="4.3"/><circle cx="398.2" cy="1021.0" r="4.3"/><circle cx="399.4" cy="1018.8" r="4.3"/><circle cx="400.6" cy="1022.5" r="4.3"/><circle cx="401.9" cy="1021.2" r="4.3"/><circle cx="403.1" cy="1029.0" r="4.3"/><circle cx="404.3" cy="1022.6" r="4.3"/><circle cx="405.5" cy="1028.3" r="4.3"/><circle cx="406.7" cy="1020.5" r="4.3"/><circle cx="407.9" cy="1035.9" r="4.3"/><circle cx="409.1" cy="1019.6" r="4.3"/><circle cx="410.4" cy="1019.4" r="4.3"/><circle cx="411.6" cy="1015.4" r="4.3"/><circle cx="412.8" cy="1009.8" r="4.3"/><circle cx="414.0" cy="1013.8" r="4.3"/><circle cx="415.2" cy="1020.3" r="4.3"/><circle cx="416.4" cy="1012.1" r="4.3"/><circle cx="417.6" cy="1022.5" r="4.3"/><circle cx="418.9" cy="1008.8" r="4.3"/><circle cx="420.1" cy="1008.6" r="4.3"/><circle cx="421.3" cy="1020.5" r="4.3"/><circle cx="422.5" cy="1020.2" r="4.3"/><circle cx="423.7" cy="1013.1" r="4.3"/><circle cx="424.9" cy="1025.1" r="4.3"/><circle cx="426.1" cy="1027.9" r="4.3"/><circle cx="427.4" cy="1021.0" r="4.3"/><circle cx="428.6" cy="1013.7" r="4.3"/><circle cx="429.8" cy="1029.1" r="4.3"/><circle cx="431.0" cy="1019.8" r="4.3"/><circle cx="432.2" cy="1022.2" r="4.3"/><circle cx="433.4" cy="1025.1" r="4.3"/><circle cx="434.6" cy="1019.6" r="4.3"/><circle cx="435.9" cy="1032.4" r="4.3"/><circle cx="437.1" cy="1020.5" r="4.3"/><circle cx="438.3" cy="1029.9" r="4.3"/><circle cx="439.5" cy="1028.7" r="4.3"/><circle cx="440.7" cy="1033.6" r="4.3"/><circle cx="441.9" cy="1026.4" r="4.3"/><circle cx="443.1" cy="1027.9" r="4.3"/><circle cx="444.4" cy="1021.7" r="4.3"/><circle cx="445.6" cy="1021.4" r="4.3"/><circle cx="446.8" cy="1020.7" r="4.3"/><circle cx="448.0" cy="1024.4" r="4.3"/><circle cx="449.2" cy="1019.9" r="4.3"/><circle cx="450.4" cy="1029.3" r="4.3"/><circle cx="451.6" cy="1023.7" r="4.3"/><circle cx="452.9" cy="1014.5" r="4.3"/><circle cx="454.1" cy="1016.2" r="4.3"/><circle cx="455.3" cy="1025.9" r="4.3"/><circle cx="456.5" cy="1020.3" r="4.3"/><circle cx="457.7" cy="1021.9" r="4.3"/><circle cx="458.9" cy="1014.5" r="4.3"/><circle cx="460.1" cy="1024.8" r="4.3"/><circle cx="461.4" cy="1038.8" r="4.3"/><circle cx="462.6" cy="1033.5" r="4.3"/><circle cx="463.8" cy="1034.6" r="4.3"/><circle cx="465.0" cy="1019.4" r="4.3"/><circle cx="466.2" cy="1027.3" r="4.3"/><circle cx="467.4" cy="1029.9" r="4.3"/><circle cx="468.6" cy="1045.4" r="4.3"/><circle cx="469.9" cy="1045.9" r="4.3"/><circle cx="471.1" cy="1047.9" r="4.3"/><circle cx="472.3" cy="1041.4" r="4.3"/><circle cx="473.5" cy="1053.8" r="4.3"/><circle cx="474.7" cy="1044.5" r="4.3"/><circle cx="475.9" cy="1056.5" r="4.3"/><circle cx="477.1" cy="1051.2" r="4.3"/><circle cx="478.4" cy="1057.1" r="4.3"/><circle cx="479.6" cy="1061.1" r="4.3"/><circle cx="480.8" cy="1067.6" r="4.3"/><circle cx="482.0" cy="1061.4" r="4.3"/><circle cx="483.2" cy="1062.9" r="4.3"/><circle cx="484.4" cy="1071.4" r="4.3"/><circle cx="485.6" cy="1072.1" r="4.3"/><circle cx="486.9" cy="1065.8" r="4.3"/><circle cx="488.1" cy="1070.1" r="4.3"/><circle cx="489.3" cy="1067.7" r="4.3"/><circle cx="490.5" cy="1073.9" r="4.3"/><circle cx="491.7" cy="1071.0" r="4.3"/><circle cx="492.9" cy="1070.5" r="4.3"/><circle cx="494.1" cy="1068.3" r="4.3"/><circle cx="495.4" cy="1066.7" r="4.3"/><circle cx="496.6" cy="1074.8" r="4.3"/><circle cx="497.8" cy="1071.3" r="4.3"/><circle cx="499.0" cy="1057.1" r="4.3"/><circle cx="500.2" cy="1067.0" r="4.3"/><circle cx="501.4" cy="1070.0" r="4.3"/><circle cx="502.6" cy="1064.9" r="4.3"/><circle cx="503.9" cy="1063.4" r="4.3"/><circle cx="505.1" cy="1064.3" r="4.3"/><circle cx="506.3" cy="1069.6" r="4.3"/><circle cx="507.5" cy="1061.9" r="4.3"/><circle cx="508.7" cy="1068.5" r="4.3"/><circle cx="509.9" cy="1073.3" r="4.3"/><circle cx="511.1" cy="1070.4" r="4.3"/><circle cx="512.4" cy="1070.9" r="4.3"/><circle cx="513.6" cy="1065.4" r="4.3"/><circle cx="514.8" cy="1070.2" r="4.3"/><circle cx="516.0" cy="1064.4" r="4.3"/><circle cx="517.2" cy="1068.5" r="4.3"/><circle cx="518.4" cy="1058.6" r="4.3"/><circle cx="519.6" cy="1071.6" r="4.3"/><circle cx="520.9" cy="1060.8" r="4.3"/><circle cx="522.1" cy="1061.6" r="4.3"/><circle cx="523.3" cy="1067.6" r="4.3"/><circle cx="524.5" cy="1062.1" r="4.3"/><circle cx="525.7" cy="1058.9" r="4.3"/><circle cx="526.9" cy="1060.2" r="4.3"/><circle cx="528.1" cy="1065.3" r="4.3"/><circle cx="529.4" cy="1064.6" r="4.3"/><circle cx="530.6" cy="1062.4" r="4.3"/><circle cx="531.8" cy="1054.4" r="4.3"/><circle cx="533.0" cy="1054.4" r="4.3"/><circle cx="534.2" cy="1058.6" r="4.3"/><circle cx="535.4" cy="1054.4" r="4.3"/><circle cx="536.6" cy="1050.6" r="4.3"/><circle cx="537.9" cy="1051.1" r="4.3"/><circle cx="539.1" cy="1055.5" r="4.3"/><circle cx="540.3" cy="1059.1" r="4.3"/><circle cx="541.5" cy="1047.5" r="4.3"/><circle cx="542.7" cy="1044.3" r="4.3"/><circle cx="543.9" cy="1056.5" r="4.3"/><circle cx="545.1" cy="1047.2" r="4.3"/><circle cx="546.4" cy="1047.0" r="4.3"/><circle cx="547.6" cy="1035.6" r="4.3"/><circle cx="548.8" cy="1039.9" r="4.3"/><circle cx="550.0" cy="1042.4" r="4.3"/><circle cx="551.2" cy="1043.3" r="4.3"/><circle cx="552.4" cy="1034.8" r="4.3"/><circle cx="553.6" cy="1032.7" r="4.3"/><circle cx="554.9" cy="1026.4" r="4.3"/><circle cx="556.1" cy="1034.4" r="4.3"/><circle cx="557.3" cy="1034.1" r="4.3"/><circle cx="558.5" cy="1035.3" r="4.3"/><circle cx="559.7" cy="1022.7" r="4.3"/><circle cx="560.9" cy="1027.7" r="4.3"/><circle cx="562.1" cy="1025.8" r="4.3"/><circle cx="563.4" cy="1031.3" r="4.3"/><circle cx="564.6" cy="1029.0" r="4.3"/><circle cx="565.8" cy="1027.0" r="4.3"/><circle cx="567.0" cy="1008.7" r="4.3"/><circle cx="568.2" cy="1025.0" r="4.3"/><circle cx="569.4" cy="1017.5" r="4.3"/><circle cx="570.6" cy="1016.8" r="4.3"/><circle cx="571.9" cy="1013.3" r="4.3"/><circle cx="573.1" cy="1013.1" r="4.3"/><circle cx="574.3" cy="1015.2" r="4.3"/><circle cx="575.5" cy="1013.5" r="4.3"/><circle cx="576.7" cy="1007.4" r="4.3"/><circle cx="577.9" cy="1021.7" r="4.3"/><circle cx="579.1" cy="1019.3" r="4.3"/><circle cx="580.4" cy="1013.7" r="4.3"/><circle cx="581.6" cy="1006.6" r="4.3"/><circle cx="582.8" cy="1010.6" r="4.3"/><circle cx="584.0" cy="1011.3" r="4.3"/><circle cx="585.2" cy="1019.2" r="4.3"/><circle cx="586.4" cy="1012.9" r="4.3"/><circle cx="587.6" cy="1020.3" r="4.3"/><circle cx="588.9" cy="1004.6" r="4.3"/><circle cx="590.1" cy="1000.3" r="4.3"/><circle cx="591.3" cy="1004.2" r="4.3"/><circle cx="592.5" cy="998.0" r="4.3"/><circle cx="593.7" cy="1004.2" r="4.3"/><circle cx="594.9" cy="1008.4" r="4.3"/><circle cx="596.1" cy="993.4" r="4.3"/><circle cx="597.4" cy="998.0" r="4.3"/><circle cx="598.6" cy="1002.3" r="4.3"/><circle cx="599.8" cy="1008.4" r="4.3"/><circle cx="601.0" cy="994.6" r="4.3"/><circle cx="602.2" cy="995.8" r="4.3"/><circle cx="603.4" cy="994.0" r="4.3"/><circle cx="604.6" cy="987.9" r="4.3"/><circle cx="605.9" cy="989.0" r="4.3"/><circle cx="607.1" cy="977.5" r="4.3"/><circle cx="608.3" cy="976.7" r="4.3"/><circle cx="609.5" cy="976.5" r="4.3"/><circle cx="610.7" cy="986.8" r="4.3"/><circle cx="611.9" cy="986.1" r="4.3"/><circle cx="613.1" cy="979.5" r="4.3"/><circle cx="614.4" cy="972.5" r="4.3"/><circle cx="615.6" cy="981.2" r="4.3"/><circle cx="616.8" cy="973.4" r="4.3"/><circle cx="618.0" cy="982.4" r="4.3"/><circle cx="619.2" cy="973.9" r="4.3"/><circle cx="620.4" cy="962.1" r="4.3"/><circle cx="621.6" cy="972.4" r="4.3"/><circle cx="622.9" cy="964.9" r="4.3"/><circle cx="624.1" cy="969.0" r="4.3"/><circle cx="625.3" cy="950.1" r="4.3"/><circle cx="626.5" cy="956.8" r="4.3"/><circle cx="627.7" cy="951.8" r="4.3"/><circle cx="628.9" cy="942.1" r="4.3"/><circle cx="630.1" cy="954.2" r="4.3"/><circle cx="631.4" cy="957.9" r="4.3"/><circle cx="632.6" cy="959.1" r="4.3"/><circle cx="633.8" cy="954.7" r="4.3"/><circle cx="635.0" cy="937.6" r="4.3"/><circle cx="636.2" cy="949.1" r="4.3"/><circle cx="637.4" cy="938.6" r="4.3"/><circle cx="638.6" cy="929.3" r="4.3"/><circle cx="639.9" cy="935.0" r="4.3"/><circle cx="641.1" cy="927.0" r="4.3"/><circle cx="642.3" cy="936.3" r="4.3"/><circle cx="643.5" cy="922.8" r="4.3"/><circle cx="644.7" cy="922.3" r="4.3"/><circle cx="645.9" cy="917.3" r="4.3"/><circle cx="647.1" cy="923.1" r="4.3"/><circle cx="648.4" cy="915.0" r="4.3"/><circle cx="649.6" cy="890.8" r="4.3"/><circle cx="650.8" cy="903.2" r="4.3"/><circle cx="652.0" cy="893.8" r="4.3"/><circle cx="653.2" cy="896.3" r="4.3"/><circle cx="654.4" cy="860.0" r="4.3"/><circle cx="655.6" cy="877.6" r="4.3"/><circle cx="656.9" cy="870.8" r="4.3"/><circle cx="658.1" cy="854.4" r="4.3"/><circle cx="659.3" cy="862.8" r="4.3"/><circle cx="660.5" cy="844.0" r="4.3"/><circle cx="661.7" cy="823.1" r="4.3"/><circle cx="662.9" cy="827.9" r="4.3"/><circle cx="664.1" cy="827.0" r="4.3"/><circle cx="665.4" cy="794.6" r="4.3"/><circle cx="666.6" cy="810.9" r="4.3"/><circle cx="667.8" cy="802.7" r="4.3"/><circle cx="669.0" cy="793.5" r="4.3"/><circle cx="670.2" cy="793.8" r="4.3"/><circle cx="671.4" cy="803.8" r="4.3"/><circle cx="672.6" cy="782.3" r="4.3"/><circle cx="673.9" cy="780.5" r="4.3"/><circle cx="675.1" cy="790.8" r="4.3"/><circle cx="676.3" cy="792.5" r="4.3"/><circle cx="677.5" cy="782.4" r="4.3"/><circle cx="678.7" cy="778.3" r="4.3"/><circle cx="679.9" cy="780.1" r="4.3"/><circle cx="681.1" cy="792.6" r="4.3"/><circle cx="682.4" cy="777.0" r="4.3"/><circle cx="683.6" cy="779.2" r="4.3"/><circle cx="684.8" cy="790.4" r="4.3"/><circle cx="686.0" cy="819.7" r="4.3"/><circle cx="687.2" cy="803.8" r="4.3"/><circle cx="688.4" cy="843.0" r="4.3"/><circle cx="689.6" cy="831.1" r="4.3"/><circle cx="690.9" cy="848.2" r="4.3"/><circle cx="692.1" cy="807.4" r="4.3"/><circle cx="693.3" cy="818.4" r="4.3"/><circle cx="694.5" cy="847.6" r="4.3"/><circle cx="695.7" cy="858.4" r="4.3"/><circle cx="696.9" cy="860.6" r="4.3"/><circle cx="698.1" cy="856.1" r="4.3"/><circle cx="699.4" cy="858.6" r="4.3"/><circle cx="700.6" cy="889.5" r="4.3"/><circle cx="701.8" cy="912.0" r="4.3"/><circle cx="703.0" cy="911.6" r="4.3"/><circle cx="704.2" cy="900.2" r="4.3"/><circle cx="705.4" cy="932.3" r="4.3"/><circle cx="706.6" cy="931.7" r="4.3"/><circle cx="707.9" cy="954.8" r="4.3"/><circle cx="709.1" cy="934.1" r="4.3"/><circle cx="710.3" cy="958.4" r="4.3"/><circle cx="711.5" cy="984.2" r="4.3"/><circle cx="712.7" cy="935.2" r="4.3"/><circle cx="713.9" cy="972.0" r="4.3"/><circle cx="715.1" cy="970.4" r="4.3"/><circle cx="716.4" cy="982.4" r="4.3"/><circle cx="717.6" cy="965.5" r="4.3"/><circle cx="718.8" cy="980.8" r="4.3"/><circle cx="720.0" cy="989.4" r="4.3"/><circle cx="721.2" cy="994.4" r="4.3"/><circle cx="722.4" cy="992.7" r="4.3"/><circle cx="723.6" cy="991.4" r="4.3"/><circle cx="724.9" cy="1011.0" r="4.3"/><circle cx="726.1" cy="994.7" r="4.3"/><circle cx="727.3" cy="1007.7" r="4.3"/><circle cx="728.5" cy="1010.8" r="4.3"/><circle cx="729.7" cy="1015.4" r="4.3"/><circle cx="730.9" cy="1013.8" r="4.3"/><circle cx="732.1" cy="1017.3" r="4.3"/><circle cx="733.4" cy="1011.8" r="4.3"/><circle cx="734.6" cy="1019.7" r="4.3"/><circle cx="735.8" cy="1027.8" r="4.3"/><circle cx="737.0" cy="1040.9" r="4.3"/><circle cx="738.2" cy="1017.0" r="4.3"/><circle cx="739.4" cy="1025.0" r="4.3"/><circle cx="740.6" cy="1032.3" r="4.3"/><circle cx="741.9" cy="1025.1" r="4.3"/><circle cx="743.1" cy="1030.3" r="4.3"/><circle cx="744.3" cy="1038.8" r="4.3"/><circle cx="745.5" cy="1049.4" r="4.3"/><circle cx="746.7" cy="1046.1" r="4.3"/><circle cx="747.9" cy="1041.4" r="4.3"/><circle cx="749.1" cy="1037.4" r="4.3"/><circle cx="750.4" cy="1046.5" r="4.3"/><circle cx="751.6" cy="1035.4" r="4.3"/><circle cx="752.8" cy="1042.0" r="4.3"/><circle cx="754.0" cy="1058.6" r="4.3"/><circle cx="755.2" cy="1051.5" r="4.3"/><circle cx="756.4" cy="1050.9" r="4.3"/><circle cx="757.6" cy="1048.1" r="4.3"/><circle cx="758.9" cy="1049.5" r="4.3"/><circle cx="760.1" cy="1048.4" r="4.3"/><circle cx="761.3" cy="1057.3" r="4.3"/><circle cx="762.5" cy="1060.7" r="4.3"/><circle cx="763.7" cy="1060.0" r="4.3"/><circle cx="764.9" cy="1040.2" r="4.3"/><circle cx="766.1" cy="1067.7" r="4.3"/><circle cx="767.4" cy="1064.2" r="4.3"/><circle cx="768.6" cy="1070.4" r="4.3"/><circle cx="769.8" cy="1057.4" r="4.3"/><circle cx="771.0" cy="1046.1" r="4.3"/><circle cx="772.2" cy="1052.2" r="4.3"/><circle cx="773.4" cy="1057.5" r="4.3"/><circle cx="774.6" cy="1078.7" r="4.3"/><circle cx="775.9" cy="1059.8" r="4.3"/><circle cx="777.1" cy="1061.1" r="4.3"/><circle cx="778.3" cy="1072.9" r="4.3"/><circle cx="779.5" cy="1072.0" r="4.3"/><circle cx="780.7" cy="1072.4" r="4.3"/><circle cx="781.9" cy="1062.0" r="4.3"/><circle cx="783.1" cy="1079.0" r="4.3"/><circle cx="784.4" cy="1067.7" r="4.3"/><circle cx="785.6" cy="1058.2" r="4.3"/><circle cx="786.8" cy="1067.0" r="4.3"/><circle cx="788.0" cy="1052.9" r="4.3"/><circle cx="789.2" cy="1053.9" r="4.3"/><circle cx="790.4" cy="1057.9" r="4.3"/><circle cx="791.6" cy="1053.7" r="4.3"/><circle cx="792.9" cy="1058.7" r="4.3"/><circle cx="794.1" cy="1057.1" r="4.3"/><circle cx="795.3" cy="1058.5" r="4.3"/><circle cx="796.5" cy="1055.2" r="4.3"/><circle cx="797.7" cy="1070.4" r="4.3"/><circle cx="798.9" cy="1054.4" r="4.3"/><circle cx="800.1" cy="1058.2" r="4.3"/><circle cx="801.4" cy="1055.3" r="4.3"/><circle cx="802.6" cy="1057.9" r="4.3"/><circle cx="803.8" cy="1052.8" r="4.3"/><circle cx="805.0" cy="1079.4" r="4.3"/><circle cx="806.2" cy="1061.0" r="4.3"/><circle cx="807.4" cy="1069.9" r="4.3"/><circle cx="808.6" cy="1060.9" r="4.3"/><circle cx="809.9" cy="1053.8" r="4.3"/><circle cx="811.1" cy="1060.1" r="4.3"/><circle cx="812.3" cy="1059.0" r="4.3"/><circle cx="813.5" cy="1054.2" r="4.3"/><circle cx="814.7" cy="1064.9" r="4.3"/><circle cx="815.9" cy="1076.8" r="4.3"/><circle cx="817.1" cy="1064.6" r="4.3"/><circle cx="818.4" cy="1072.1" r="4.3"/><circle cx="819.6" cy="1073.5" r="4.3"/><circle cx="820.8" cy="1048.8" r="4.3"/><circle cx="822.0" cy="1078.0" r="4.3"/><circle cx="823.2" cy="1051.6" r="4.3"/><circle cx="824.4" cy="1076.6" r="4.3"/><circle cx="825.6" cy="1063.4" r="4.3"/><circle cx="826.9" cy="1066.5" r="4.3"/><circle cx="828.1" cy="1078.3" r="4.3"/><circle cx="829.3" cy="1069.8" r="4.3"/><circle cx="830.5" cy="1048.3" r="4.3"/><circle cx="831.7" cy="1046.8" r="4.3"/><circle cx="832.9" cy="1052.2" r="4.3"/></g><path d="M67.9 1064.0 69.1 1062.7 70.4 1061.2 71.6 1059.6 72.8 1057.7 74.0 1055.7 75.2 1053.4 76.4 1050.9 77.6 1048.0 78.9 1044.8 80.1 1041.2 81.3 1037.1 82.5 1032.5 83.7 1027.3 84.9 1021.5 86.1 1015.0 87.4 1007.8 88.6 999.9 89.8 991.4 91.0 982.5 92.2 973.4 93.4 964.7 94.6 956.9 95.9 950.7 97.1 946.7 98.3 945.3 99.5 946.8 100.7 950.9 101.9 957.2 103.1 965.0 104.4 973.7 105.6 982.6 106.8 991.4 108.0 999.6 109.2 1007.3 110.4 1014.3 111.6 1020.5 112.9 1026.0 114.1 1030.9 115.3 1035.2 116.5 1038.9 117.7 1042.1 118.9 1044.9 120.1 1047.2 121.4 1049.2 122.6 1050.8 123.8 1052.1 125.0 1053.1 126.2 1053.7 127.4 1054.0 128.6 1054.1 129.9 1053.8 131.1 1053.1 132.3 1052.1 133.5 1050.8 134.7 1049.1 135.9 1047.0 137.1 1044.5 138.4 1041.6 139.6 1038.3 140.8 1034.6 142.0 1030.4 143.2 1025.8 144.4 1020.8 145.6 1015.4 146.9 1009.7 148.1 1003.6 149.3 997.2 150.5 990.5 151.7 983.7 152.9 976.8 154.1 969.8 155.4 962.8 156.6 955.9 157.8 949.3 159.0 942.9 160.2 936.9 161.4 931.4 162.6 926.4 163.9 922.0 165.1 918.2 166.3 915.2 167.5 913.0 168.7 911.5 169.9 910.9 171.1 911.0 172.4 912.0 173.6 913.7 174.8 916.1 176.0 919.2 177.2 922.8 178.4 927.0 179.6 931.6 180.9 936.5 182.1 941.7 183.3 947.0 184.5 952.4 185.7 957.9 186.9 963.2 188.1 968.4 189.4 973.3 190.6 978.0 191.8 982.4 193.0 986.4 194.2 990.1 195.4 993.4 196.6 996.3 197.9 998.9 199.1 1001.1 200.3 1003.1 201.5 1004.8 202.7 1006.3 203.9 1007.7 205.1 1008.9 206.4 1010.1 207.6 1011.2 208.8 1012.3 210.0 1013.4 211.2 1014.6 212.4 1015.7 213.6 1016.8 214.9 1017.9 216.1 1019.0 217.3 1019.9 218.5 1020.9 219.7 1021.7 220.9 1022.3 222.1 1022.9 223.4 1023.3 224.6 1023.5 225.8 1023.6 227.0 1023.5 228.2 1023.1 229.4 1022.6 230.6 1021.9 231.9 1021.0 233.1 1019.9 234.3 1018.6 235.5 1017.0 236.7 1015.3 237.9 1013.4 239.1 1011.3 240.4 1009.0 241.6 1006.6 242.8 1004.0 244.0 1001.4 245.2 998.7 246.4 996.0 247.6 993.3 248.9 990.6 250.1 988.1 251.3 985.6 252.5 983.4 253.7 981.4 254.9 979.6 256.1 978.1 257.4 976.9 258.6 976.0 259.8 975.3 261.0 974.9 262.2 974.7 263.4 974.8 264.6 975.2 265.9 975.7 267.1 976.6 268.3 977.6 269.5 978.8 270.7 980.3 271.9 981.9 273.1 983.7 274.4 985.7 275.6 987.8 276.8 990.0 278.0 992.2 279.2 994.4 280.4 996.7 281.6 998.9 282.9 1001.0 284.1 1003.0 285.3 1004.9 286.5 1006.7 287.7 1008.4 288.9 1010.0 290.1 1011.4 291.4 1012.7 292.6 1013.9 293.8 1015.0 295.0 1016.0 296.2 1016.9 297.4 1017.7 298.6 1018.5 299.9 1019.2 301.1 1019.8 302.3 1020.5 303.5 1021.0 304.7 1021.6 305.9 1022.2 307.1 1022.8 308.4 1023.4 309.6 1024.0 310.8 1024.7 312.0 1025.4 313.2 1026.1 314.4 1026.8 315.6 1027.6 316.9 1028.4 318.1 1029.3 319.3 1030.2 320.5 1031.1 321.7 1032.0 322.9 1033.0 324.1 1034.0 325.4 1034.9 326.6 1035.9 327.8 1036.9 329.0 1037.8 330.2 1038.8 331.4 1039.7 332.6 1040.6 333.9 1041.4 335.1 1042.2 336.3 1043.0 337.5 1043.8 338.7 1044.4 339.9 1045.1 341.1 1045.7 342.4 1046.2 343.6 1046.6 344.8 1047.0 346.0 1047.4 347.2 1047.7 348.4 1047.9 349.6 1048.0 350.9 1048.1 352.1 1048.1 353.3 1048.0 354.5 1047.9 355.7 1047.7 356.9 1047.5 358.1 1047.2 359.4 1046.8 360.6 1046.4 361.8 1045.9 363.0 1045.4 364.2 1044.8 365.4 1044.2 366.6 1043.5 367.9 1042.8 369.1 1042.1 370.3 1041.4 371.5 1040.6 372.7 1039.8 373.9 1039.0 375.1 1038.1 376.4 1037.3 377.6 1036.5 378.8 1035.6 380.0 1034.8 381.2 1034.0 382.4 1033.2 383.6 1032.4 384.9 1031.7 386.1 1031.0 387.3 1030.3 388.5 1029.7 389.7 1029.1 390.9 1028.5 392.1 1028.0 393.4 1027.5 394.6 1027.1 395.8 1026.7 397.0 1026.4 398.2 1026.1 399.4 1025.8 400.6 1025.6 401.9 1025.4 403.1 1025.3 404.3 1025.1 405.5 1025.0 406.7 1025.0 407.9 1024.9 409.1 1024.8 410.4 1024.7 411.6 1024.6 412.8 1024.6 414.0 1024.4 415.2 1024.3 416.4 1024.1 417.6 1023.9 418.9 1023.7 420.1 1023.4 421.3 1023.1 422.5 1022.8 423.7 1022.4 424.9 1022.0 426.1 1021.6 427.4 1021.2 428.6 1020.7 429.8 1020.2 431.0 1019.8 432.2 1019.3 433.4 1018.9 434.6 1018.5 435.9 1018.1 437.1 1017.8 438.3 1017.6 439.5 1017.4 440.7 1017.4 441.9 1017.4 443.1 1017.5 444.4 1017.7 445.6 1018.0 446.8 1018.5 448.0 1019.1 449.2 1019.8 450.4 1020.6 451.6 1021.6 452.9 1022.6 454.1 1023.8 455.3 1025.1 456.5 1026.5 457.7 1028.1 458.9 1029.6 460.1 1031.3 461.4 1033.0 462.6 1034.8 463.8 1036.6 465.0 1038.5 466.2 1040.3 467.4 1042.2 468.6 1044.0 469.9 1045.8 471.1 1047.6 472.3 1049.4 473.5 1051.1 474.7 1052.7 475.9 1054.3 477.1 1055.8 478.4 1057.2 479.6 1058.5 480.8 1059.7 482.0 1060.9 483.2 1062.0 484.4 1062.9 485.6 1063.8 486.9 1064.6 488.1 1065.3 489.3 1065.9 490.5 1066.4 491.7 1066.9 492.9 1067.3 494.1 1067.6 495.4 1067.8 496.6 1068.0 497.8 1068.1 499.0 1068.1 500.2 1068.1 501.4 1068.0 502.6 1067.9 503.9 1067.8 505.1 1067.6 506.3 1067.4 507.5 1067.1 508.7 1066.8 509.9 1066.4 511.1 1066.1 512.4 1065.7 513.6 1065.3 514.8 1064.8 516.0 1064.3 517.2 1063.8 518.4 1063.3 519.6 1062.8 520.9 1062.2 522.1 1061.6 523.3 1061.0 524.5 1060.4 525.7 1059.7 526.9 1059.1 528.1 1058.4 529.4 1057.7 530.6 1056.9 531.8 1056.2 533.0 1055.4 534.2 1054.6 535.4 1053.8 536.6 1053.0 537.9 1052.1 539.1 1051.2 540.3 1050.4 541.5 1049.4 542.7 1048.5 543.9 1047.6 545.1 1046.6 546.4 1045.6 547.6 1044.6 548.8 1043.6 550.0 1042.6 551.2 1041.5 552.4 1040.5 553.6 1039.4 554.9 1038.3 556.1 1037.1 557.3 1036.0 558.5 1034.9 559.7 1033.7 560.9 1032.5 562.1 1031.3 563.4 1030.1 564.6 1028.9 565.8 1027.7 567.0 1026.4 568.2 1025.2 569.4 1023.9 570.6 1022.7 571.9 1021.4 573.1 1020.1 574.3 1018.8 575.5 1017.5 576.7 1016.2 577.9 1014.9 579.1 1013.6 580.4 1012.2 581.6 1010.9 582.8 1009.6 584.0 1008.2 585.2 1006.9 586.4 1005.6 587.6 1004.2 588.9 1002.9 590.1 1001.6 591.3 1000.2 592.5 998.9 593.7 997.5 594.9 996.2 596.1 994.9 597.4 993.5 598.6 992.2 599.8 990.9 601.0 989.5 602.2 988.2 603.4 986.8 604.6 985.5 605.9 984.2 607.1 982.8 608.3 981.5 609.5 980.1 610.7 978.7 611.9 977.3 613.1 975.9 614.4 974.5 615.6 973.1 616.8 971.6 618.0 970.1 619.2 968.6 620.4 967.1 621.6 965.5 622.9 963.8 624.1 962.1 625.3 960.4 626.5 958.5 627.7 956.6 628.9 954.7 630.1 952.6 631.4 950.5 632.6 948.2 633.8 945.8 635.0 943.3 636.2 940.7 637.4 937.9 638.6 935.0 639.9 931.9 641.1 928.6 642.3 925.2 643.5 921.5 644.7 917.7 645.9 913.6 647.1 909.3 648.4 904.7 649.6 900.0 650.8 894.9 652.0 889.6 653.2 884.1 654.4 878.2 655.6 872.2 656.9 865.8 658.1 859.3 659.3 852.5 660.5 845.6 661.7 838.5 662.9 831.4 664.1 824.2 665.4 817.0 666.6 810.0 667.8 803.1 669.0 796.6 670.2 790.5 671.4 784.9 672.6 780.0 673.9 775.9 675.1 772.6 676.3 770.3 677.5 769.0 678.7 768.8 679.9 769.8 681.1 771.8 682.4 774.9 683.6 779.1 684.8 784.3 686.0 790.3 687.2 797.1 688.4 804.5 689.6 812.5 690.9 820.9 692.1 829.6 693.3 838.4 694.5 847.4 695.7 856.4 696.9 865.4 698.1 874.3 699.4 883.0 700.6 891.4 701.8 899.7 703.0 907.7 704.2 915.4 705.4 922.8 706.6 930.0 707.9 936.8 709.1 943.4 710.3 949.6 711.5 955.6 712.7 961.3 713.9 966.7 715.1 971.8 716.4 976.7 717.6 981.4 718.8 985.8 720.0 990.0 721.2 993.9 722.4 997.7 723.6 1001.2 724.9 1004.6 726.1 1007.8 727.3 1010.8 728.5 1013.7 729.7 1016.4 730.9 1019.0 732.1 1021.4 733.4 1023.7 734.6 1025.9 735.8 1028.0 737.0 1029.9 738.2 1031.8 739.4 1033.5 740.6 1035.2 741.9 1036.7 743.1 1038.2 744.3 1039.6 745.5 1040.9 746.7 1042.2 747.9 1043.4 749.1 1044.5 750.4 1045.6 751.6 1046.6 752.8 1047.5 754.0 1048.4 755.2 1049.2 756.4 1050.0 757.6 1050.7 758.9 1051.4 760.1 1052.1 761.3 1052.7 762.5 1053.3 763.7 1053.8 764.9 1054.3 766.1 1054.8 767.4 1055.2 768.6 1055.6 769.8 1056.0 771.0 1056.3 772.2 1056.7 773.4 1057.0 774.6 1057.2 775.9 1057.5 777.1 1057.7 778.3 1057.9 779.5 1058.1 780.7 1058.3 781.9 1058.4 783.1 1058.6 784.4 1058.7 785.6 1058.8 786.8 1059.0 788.0 1059.1 789.2 1059.1 790.4 1059.2 791.6 1059.3 792.9 1059.4 794.1 1059.4 795.3 1059.5 796.5 1059.6 797.7 1059.6 798.9 1059.7 800.1 1059.8 801.4 1059.8 802.6 1059.9 803.8 1060.0 805.0 1060.0 806.2 1060.1 807.4 1060.2 808.6 1060.3 809.9 1060.4 811.1 1060.5 812.3 1060.6 813.5 1060.7 814.7 1060.9 815.9 1061.0 817.1 1061.2 818.4 1061.3 819.6 1061.5 820.8 1061.7 822.0 1061.9 823.2 1062.1 824.4 1062.3 825.6 1062.5 826.9 1062.8 828.1 1063.0 829.3 1063.2 830.5 1063.5 831.7 1063.8 832.9 1064.1" fill="none" stroke="#000" stroke-width="5.8" stroke-linejoin="round"/><path d="M67.9 1067.1 69.1 1065.8 70.4 1064.3 71.6 1062.7 72.8 1060.9 74.0 1058.9 75.2 1056.7 76.4 1054.2 77.6 1051.3 78.9 1048.2 80.1 1044.6 81.3 1040.6 82.5 1036.0 83.7 1030.9 84.9 1025.1 86.1 1018.7 87.4 1011.5 88.6 1003.7 89.8 995.2 91.0 986.3 92.2 977.3 93.4 968.6 94.6 960.9 95.9 954.7 97.1 950.8 98.3 949.5 99.5 951.1 100.7 955.3 101.9 961.6 103.1 969.5 104.4 978.2 105.6 987.3 106.8 996.1 108.0 1004.5 109.2 1012.3 110.4 1019.4 111.6 1025.8 112.9 1031.5 114.1 1036.5 115.3 1041.0 116.5 1045.0 117.7 1048.5 118.9 1051.7 120.1 1054.4 121.4 1056.9 122.6 1059.1 123.8 1061.1 125.0 1062.9 126.2 1064.5 127.4 1065.9 128.6 1067.2 129.9 1068.4 131.1 1069.4 132.3 1070.4 133.5 1071.3 134.7 1072.1 135.9 1072.9 137.1 1073.5 138.4 1074.2 139.6 1074.7 140.8 1075.3 142.0 1075.8 143.2 1076.2 144.4 1076.7 145.6 1077.1 146.9 1077.4 148.1 1077.8 149.3 1078.1 150.5 1078.4 151.7 1078.7 152.9 1078.9 154.1 1079.2 155.4 1079.4 156.6 1079.7 157.8 1079.9 159.0 1080.1 160.2 1080.2 161.4 1080.4 162.6 1080.6 163.9 1080.7 165.1 1080.9 166.3 1081.0 167.5 1081.2 168.7 1081.3 169.9 1081.4 171.1 1081.5 172.4 1081.6 173.6 1081.7 174.8 1081.8 176.0 1081.9 177.2 1082.0 178.4 1082.1 179.6 1082.2 180.9 1082.3 182.1 1082.4 183.3 1082.4 184.5 1082.5 185.7 1082.6 186.9 1082.6 188.1 1082.7 189.4 1082.8 190.6 1082.8 191.8 1082.9 193.0 1082.9 194.2 1083.0 195.4 1083.0 196.6 1083.1 197.9 1083.1 199.1 1083.2 200.3 1083.2 201.5 1083.2 202.7 1083.3 203.9 1083.3 205.1 1083.4 206.4 1083.4 207.6 1083.4 208.8 1083.5 210.0 1083.5 211.2 1083.5 212.4 1083.6 213.6 1083.6 214.9 1083.6 216.1 1083.6 217.3 1083.7 218.5 1083.7 219.7 1083.7 220.9 1083.8 222.1 1083.8 223.4 1083.8 224.6 1083.8 225.8 1083.8 227.0 1083.9 228.2 1083.9 229.4 1083.9 230.6 1083.9 231.9 1083.9 233.1 1084.0 234.3 1084.0 235.5 1084.0 236.7 1084.0 237.9 1084.0 239.1 1084.1 240.4 1084.1 241.6 1084.1 242.8 1084.1 244.0 1084.1 245.2 1084.1 246.4 1084.1 247.6 1084.2 248.9 1084.2 250.1 1084.2 251.3 1084.2 252.5 1084.2 253.7 1084.2 254.9 1084.2 256.1 1084.2 257.4 1084.3 258.6 1084.3 259.8 1084.3 261.0 1084.3 262.2 1084.3 263.4 1084.3 264.6 1084.3 265.9 1084.3 267.1 1084.3 268.3 1084.3 269.5 1084.4 270.7 1084.4 271.9 1084.4 273.1 1084.4 274.4 1084.4 275.6 1084.4 276.8 1084.4 278.0 1084.4 279.2 1084.4 280.4 1084.4 281.6 1084.4 282.9 1084.4 284.1 1084.5 285.3 1084.5 286.5 1084.5 287.7 1084.5 288.9 1084.5 290.1 1084.5 291.4 1084.5 292.6 1084.5 293.8 1084.5 295.0 1084.5 296.2 1084.5 297.4 1084.5 298.6 1084.5 299.9 1084.5 301.1 1084.5 302.3 1084.5 303.5 1084.6 304.7 1084.6 305.9 1084.6 307.1 1084.6 308.4 1084.6 309.6 1084.6 310.8 1084.6 312.0 1084.6 313.2 1084.6 314.4 1084.6 315.6 1084.6 316.9 1084.6 318.1 1084.6 319.3 1084.6 320.5 1084.6 321.7 1084.6 322.9 1084.6 324.1 1084.6 325.4 1084.6 326.6 1084.6 327.8 1084.6 329.0 1084.6 330.2 1084.6 331.4 1084.7 332.6 1084.7 333.9 1084.7 335.1 1084.7 336.3 1084.7 337.5 1084.7 338.7 1084.7 339.9 1084.7 341.1 1084.7 342.4 1084.7 343.6 1084.7 344.8 1084.7 346.0 1084.7 347.2 1084.7 348.4 1084.7 349.6 1084.7 350.9 1084.7 352.1 1084.7 353.3 1084.7 354.5 1084.7 355.7 1084.7 356.9 1084.7 358.1 1084.7 359.4 1084.7 360.6 1084.7 361.8 1084.7 363.0 1084.7 364.2 1084.7 365.4 1084.7 366.6 1084.7 367.9 1084.7 369.1 1084.7 370.3 1084.7 371.5 1084.7 372.7 1084.7 373.9 1084.8 375.1 1084.8 376.4 1084.8 377.6 1084.8 378.8 1084.8 380.0 1084.8 381.2 1084.8 382.4 1084.8 383.6 1084.8 384.9 1084.8 386.1 1084.8 387.3 1084.8 388.5 1084.8 389.7 1084.8 390.9 1084.8 392.1 1084.8 393.4 1084.8 394.6 1084.8 395.8 1084.8 397.0 1084.8 398.2 1084.8 399.4 1084.8 400.6 1084.8 401.9 1084.8 403.1 1084.8 404.3 1084.8 405.5 1084.8 406.7 1084.8 407.9 1084.8 409.1 1084.8 410.4 1084.8 411.6 1084.8 412.8 1084.8 414.0 1084.8 415.2 1084.8 416.4 1084.8 417.6 1084.8 418.9 1084.8 420.1 1084.8 421.3 1084.8 422.5 1084.8 423.7 1084.8 424.9 1084.8 426.1 1084.8 427.4 1084.8 428.6 1084.8 429.8 1084.8 431.0 1084.8 432.2 1084.8 433.4 1084.8 434.6 1084.8 435.9 1084.8 437.1 1084.8 438.3 1084.8 439.5 1084.8 440.7 1084.8 441.9 1084.8 443.1 1084.8 444.4 1084.8 445.6 1084.8 446.8 1084.8 448.0 1084.8 449.2 1084.8 450.4 1084.8 451.6 1084.8 452.9 1084.8 454.1 1084.9 455.3 1084.9 456.5 1084.9 457.7 1084.9 458.9 1084.9 460.1 1084.9 461.4 1084.9 462.6 1084.9 463.8 1084.9 465.0 1084.9 466.2 1084.9 467.4 1084.9 468.6 1084.9 469.9 1084.9 471.1 1084.9 472.3 1084.9 473.5 1084.9 474.7 1084.9 475.9 1084.9 477.1 1084.9 478.4 1084.9 479.6 1084.9 480.8 1084.9 482.0 1084.9 483.2 1084.9 484.4 1084.9 485.6 1084.9 486.9 1084.9 488.1 1084.9 489.3 1084.9 490.5 1084.9 491.7 1084.9 492.9 1084.9 494.1 1084.9 495.4 1084.9 496.6 1084.9 497.8 1084.9 499.0 1084.9 500.2 1084.9 501.4 1084.9 502.6 1084.9 503.9 1084.9 505.1 1084.9 506.3 1084.9 507.5 1084.9 508.7 1084.9 509.9 1084.9 511.1 1084.9 512.4 1084.9 513.6 1084.9 514.8 1084.9 516.0 1084.9 517.2 1084.9 518.4 1084.9 519.6 1084.9 520.9 1084.9 522.1 1084.9 523.3 1084.9 524.5 1084.9 525.7 1084.9 526.9 1084.9 528.1 1084.9 529.4 1084.9 530.6 1084.9 531.8 1084.9 533.0 1084.9 534.2 1084.9 535.4 1084.9 536.6 1084.9 537.9 1084.9 539.1 1084.9 540.3 1084.9 541.5 1084.9 542.7 1084.9 543.9 1084.9 545.1 1084.9 546.4 1084.9 547.6 1084.9 548.8 1084.9 550.0 1084.9 551.2 1084.9 552.4 1084.9 553.6 1084.9 554.9 1084.9 556.1 1084.9 557.3 1084.9 558.5 1084.9 559.7 1084.9 560.9 1084.9 562.1 1084.9 563.4 1084.9 564.6 1084.9 565.8 1084.9 567.0 1084.9 568.2 1084.9 569.4 1084.9 570.6 1084.9 571.9 1084.9 573.1 1084.9 574.3 1084.9 575.5 1084.9 576.7 1084.9 577.9 1084.9 579.1 1084.9 580.4 1084.9 581.6 1084.9 582.8 1084.9 584.0 1084.9 585.2 1084.9 586.4 1084.9 587.6 1084.9 588.9 1084.9 590.1 1084.9 591.3 1084.9 592.5 1084.9 593.7 1084.9 594.9 1084.9 596.1 1084.9 597.4 1084.9 598.6 1084.9 599.8 1084.9 601.0 1084.9 602.2 1084.9 603.4 1084.9 604.6 1084.9 605.9 1084.9 607.1 1084.9 608.3 1084.9 609.5 1084.9 610.7 1084.9 611.9 1084.9 613.1 1084.9 614.4 1084.9 615.6 1084.9 616.8 1084.9 618.0 1084.9 619.2 1084.9 620.4 1084.9 621.6 1084.9 622.9 1084.9 624.1 1084.9 625.3 1084.9 626.5 1084.9 627.7 1084.9 628.9 1084.9 630.1 1084.9 631.4 1084.9 632.6 1084.9 633.8 1084.9 635.0 1084.9 636.2 1084.9 637.4 1084.9 638.6 1084.9 639.9 1084.9 641.1 1084.9 642.3 1084.9 643.5 1084.9 644.7 1084.9 645.9 1084.9 647.1 1084.9 648.4 1084.9 649.6 1084.9 650.8 1084.9 652.0 1084.9 653.2 1084.9 654.4 1084.9 655.6 1084.9 656.9 1084.9 658.1 1084.9 659.3 1084.9 660.5 1084.9 661.7 1084.9 662.9 1084.9 664.1 1084.9 665.4 1084.9 666.6 1084.9 667.8 1084.9 669.0 1084.9 670.2 1084.9 671.4 1084.9 672.6 1084.9 673.9 1084.9 675.1 1084.9 676.3 1084.9 677.5 1084.9 678.7 1084.9 679.9 1084.9 681.1 1084.9 682.4 1084.9 683.6 1084.9 684.8 1084.9 686.0 1084.9 687.2 1084.9 688.4 1084.9 689.6 1084.9 690.9 1084.9 692.1 1084.9 693.3 1084.9 694.5 1084.9 695.7 1084.9 696.9 1084.9 698.1 1084.9 699.4 1084.9 700.6 1084.9 701.8 1084.9 703.0 1084.9 704.2 1084.9 705.4 1084.9 706.6 1084.9 707.9 1084.9 709.1 1084.9 710.3 1084.9 711.5 1084.9 712.7 1084.9 713.9 1085.0 715.1 1085.0 716.4 1085.0 717.6 1085.0 718.8 1085.0 720.0 1085.0 721.2 1085.0 722.4 1085.0 723.6 1085.0 724.9 1085.0 726.1 1085.0 727.3 1085.0 728.5 1085.0 729.7 1085.0 730.9 1085.0 732.1 1085.0 733.4 1085.0 734.6 1085.0 735.8 1085.0 737.0 1085.0 738.2 1085.0 739.4 1085.0 740.6 1085.0 741.9 1085.0 743.1 1085.0 744.3 1085.0 745.5 1085.0 746.7 1085.0 747.9 1085.0 749.1 1085.0 750.4 1085.0 751.6 1085.0 752.8 1085.0 754.0 1085.0 755.2 1085.0 756.4 1085.0 757.6 1085.0 758.9 1085.0 760.1 1085.0 761.3 1085.0 762.5 1085.0 763.7 1085.0 764.9 1085.0 766.1 1085.0 767.4 1085.0 768.6 1085.0 769.8 1085.0 771.0 1085.0 772.2 1085.0 773.4 1085.0 774.6 1085.0 775.9 1085.0 777.1 1085.0 778.3 1085.0 779.5 1085.0 780.7 1085.0 781.9 1085.0 783.1 1085.0 784.4 1085.0 785.6 1085.0 786.8 1085.0 788.0 1085.0 789.2 1085.0 790.4 1085.0 791.6 1085.0 792.9 1085.0 794.1 1085.0 795.3 1085.0 796.5 1085.0 797.7 1085.0 798.9 1085.0 800.1 1085.0 801.4 1085.0 802.6 1085.0 803.8 1085.0 805.0 1085.0 806.2 1085.0 807.4 1085.0 808.6 1085.0 809.9 1085.0 811.1 1085.0 812.3 1085.0 813.5 1085.0 814.7 1085.0 815.9 1085.0 817.1 1085.0 818.4 1085.0 819.6 1085.0 820.8 1085.0 822.0 1085.0 823.2 1085.0 824.4 1085.0 825.6 1085.0 826.9 1085.0 828.1 1085.0 829.3 1085.0 830.5 1085.0 831.7 1085.0 832.9 1085.0" fill="none" stroke="#000000" stroke-width="3.6" stroke-linejoin="round"/><path d="M67.9 1084.9 69.1 1084.9 70.4 1084.9 71.6 1084.9 72.8 1084.9 74.0 1084.9 75.2 1084.9 76.4 1084.9 77.6 1084.9 78.9 1084.9 80.1 1084.9 81.3 1084.9 82.5 1084.9 83.7 1084.9 84.9 1084.9 86.1 1084.9 87.4 1084.9 88.6 1084.9 89.8 1084.9 91.0 1084.9 92.2 1084.9 93.4 1084.9 94.6 1084.8 95.9 1084.8 97.1 1084.8 98.3 1084.8 99.5 1084.8 100.7 1084.8 101.9 1084.8 103.1 1084.8 104.4 1084.8 105.6 1084.7 106.8 1084.7 108.0 1084.7 109.2 1084.6 110.4 1084.5 111.6 1084.5 112.9 1084.4 114.1 1084.3 115.3 1084.1 116.5 1083.9 117.7 1083.7 118.9 1083.4 120.1 1083.1 121.4 1082.7 122.6 1082.2 123.8 1081.6 125.0 1080.9 126.2 1080.0 127.4 1079.1 128.6 1077.9 129.9 1076.5 131.1 1074.9 132.3 1073.1 133.5 1071.0 134.7 1068.6 135.9 1065.9 137.1 1062.9 138.4 1059.5 139.6 1055.8 140.8 1051.7 142.0 1047.2 143.2 1042.3 144.4 1037.0 145.6 1031.4 146.9 1025.5 148.1 1019.2 149.3 1012.7 150.5 1006.0 151.7 999.2 152.9 992.2 154.1 985.2 155.4 978.3 156.6 971.5 157.8 965.0 159.0 958.8 160.2 952.9 161.4 947.6 162.6 942.9 163.9 938.8 165.1 935.4 166.3 932.7 167.5 930.9 168.7 930.0 169.9 929.9 171.1 930.6 172.4 932.2 173.6 934.7 174.8 937.9 176.0 941.8 177.2 946.4 178.4 951.6 179.6 957.4 180.9 963.5 182.1 970.0 183.3 976.7 184.5 983.6 185.7 990.6 186.9 997.5 188.1 1004.4 189.4 1011.2 190.6 1017.7 191.8 1024.0 193.0 1030.1 194.2 1035.7 195.4 1041.1 196.6 1046.0 197.9 1050.6 199.1 1054.8 200.3 1058.7 201.5 1062.1 202.7 1065.2 203.9 1068.0 205.1 1070.5 206.4 1072.6 207.6 1074.5 208.8 1076.2 210.0 1077.6 211.2 1078.8 212.4 1079.8 213.6 1080.7 214.9 1081.4 216.1 1082.1 217.3 1082.6 218.5 1083.0 219.7 1083.4 220.9 1083.6 222.1 1083.9 223.4 1084.1 224.6 1084.2 225.8 1084.4 227.0 1084.5 228.2 1084.5 229.4 1084.6 230.6 1084.6 231.9 1084.7 233.1 1084.7 234.3 1084.7 235.5 1084.8 236.7 1084.8 237.9 1084.8 239.1 1084.8 240.4 1084.8 241.6 1084.8 242.8 1084.8 244.0 1084.8 245.2 1084.8 246.4 1084.9 247.6 1084.9 248.9 1084.9 250.1 1084.9 251.3 1084.9 252.5 1084.9 253.7 1084.9 254.9 1084.9 256.1 1084.9 257.4 1084.9 258.6 1084.9 259.8 1084.9 261.0 1084.9 262.2 1084.9 263.4 1084.9 264.6 1084.9 265.9 1084.9 267.1 1084.9 268.3 1084.9 269.5 1084.9 270.7 1084.9 271.9 1084.9 273.1 1084.9 274.4 1084.9 275.6 1084.9 276.8 1084.9 278.0 1084.9 279.2 1084.9 280.4 1084.9 281.6 1084.9 282.9 1084.9 284.1 1084.9 285.3 1084.9 286.5 1084.9 287.7 1084.9 288.9 1084.9 290.1 1084.9 291.4 1084.9 292.6 1084.9 293.8 1084.9 295.0 1084.9 296.2 1084.9 297.4 1084.9 298.6 1084.9 299.9 1084.9 301.1 1084.9 302.3 1085.0 303.5 1085.0 304.7 1085.0 305.9 1085.0 307.1 1085.0 308.4 1085.0 309.6 1085.0 310.8 1085.0 312.0 1085.0 313.2 1085.0 314.4 1085.0 315.6 1085.0 316.9 1085.0 318.1 1085.0 319.3 1085.0 320.5 1085.0 321.7 1085.0 322.9 1085.0 324.1 1085.0 325.4 1085.0 326.6 1085.0 327.8 1085.0 329.0 1085.0 330.2 1085.0 331.4 1085.0 332.6 1085.0 333.9 1085.0 335.1 1085.0 336.3 1085.0 337.5 1085.0 338.7 1085.0 339.9 1085.0 341.1 1085.0 342.4 1085.0 343.6 1085.0 344.8 1085.0 346.0 1085.0 347.2 1085.0 348.4 1085.0 349.6 1085.0 350.9 1085.0 352.1 1085.0 353.3 1085.0 354.5 1085.0 355.7 1085.0 356.9 1085.0 358.1 1085.0 359.4 1085.0 360.6 1085.0 361.8 1085.0 363.0 1085.0 364.2 1085.0 365.4 1085.0 366.6 1085.0 367.9 1085.0 369.1 1085.0 370.3 1085.0 371.5 1085.0 372.7 1085.0 373.9 1085.0 375.1 1085.0 376.4 1085.0 377.6 1085.0 378.8 1085.0 380.0 1085.0 381.2 1085.0 382.4 1085.0 383.6 1085.0 384.9 1085.0 386.1 1085.0 387.3 1085.0 388.5 1085.0 389.7 1085.0 390.9 1085.0 392.1 1085.0 393.4 1085.0 394.6 1085.0 395.8 1085.0 397.0 1085.0 398.2 1085.0 399.4 1085.0 400.6 1085.0 401.9 1085.0 403.1 1085.0 404.3 1085.0 405.5 1085.0 406.7 1085.0 407.9 1085.0 409.1 1085.0 410.4 1085.0 411.6 1085.0 412.8 1085.0 414.0 1085.0 415.2 1085.0 416.4 1085.0 417.6 1085.0 418.9 1085.0 420.1 1085.0 421.3 1085.0 422.5 1085.0 423.7 1085.0 424.9 1085.0 426.1 1085.0 427.4 1085.0 428.6 1085.0 429.8 1085.0 431.0 1085.0 432.2 1085.0 433.4 1085.0 434.6 1085.0 435.9 1085.0 437.1 1085.0 438.3 1085.0 439.5 1085.0 440.7 1085.0 441.9 1085.0 443.1 1085.0 444.4 1085.0 445.6 1085.0 446.8 1085.0 448.0 1085.0 449.2 1085.0 450.4 1085.0 451.6 1085.0 452.9 1085.0 454.1 1085.0 455.3 1085.0 456.5 1085.0 457.7 1085.0 458.9 1085.0 460.1 1085.0 461.4 1085.0 462.6 1085.0 463.8 1085.0 465.0 1085.0 466.2 1085.0 467.4 1085.0 468.6 1085.0 469.9 1085.0 471.1 1085.0 472.3 1085.0 473.5 1085.0 474.7 1085.0 475.9 1085.0 477.1 1085.0 478.4 1085.0 479.6 1085.0 480.8 1085.0 482.0 1085.0 483.2 1085.0 484.4 1085.0 485.6 1085.0 486.9 1085.0 488.1 1085.0 489.3 1085.0 490.5 1085.0 491.7 1085.0 492.9 1085.0 494.1 1085.0 495.4 1085.0 496.6 1085.0 497.8 1085.0 499.0 1085.0 500.2 1085.0 501.4 1085.0 502.6 1085.0 503.9 1085.0 505.1 1085.0 506.3 1085.0 507.5 1085.0 508.7 1085.0 509.9 1085.0 511.1 1085.0 512.4 1085.0 513.6 1085.0 514.8 1085.0 516.0 1085.0 517.2 1085.0 518.4 1085.0 519.6 1085.0 520.9 1085.0 522.1 1085.0 523.3 1085.0 524.5 1085.0 525.7 1085.0 526.9 1085.0 528.1 1085.0 529.4 1085.0 530.6 1085.0 531.8 1085.0 533.0 1085.0 534.2 1085.0 535.4 1085.0 536.6 1085.0 537.9 1085.0 539.1 1085.0 540.3 1085.0 541.5 1085.0 542.7 1085.0 543.9 1085.0 545.1 1085.0 546.4 1085.0 547.6 1085.0 548.8 1085.0 550.0 1085.0 551.2 1085.0 552.4 1085.0 553.6 1085.0 554.9 1085.0 556.1 1085.0 557.3 1085.0 558.5 1085.0 559.7 1085.0 560.9 1085.0 562.1 1085.0 563.4 1085.0 564.6 1085.0 565.8 1085.0 567.0 1085.0 568.2 1085.0 569.4 1085.0 570.6 1085.0 571.9 1085.0 573.1 1085.0 574.3 1085.0 575.5 1085.0 576.7 1085.0 577.9 1085.0 579.1 1085.0 580.4 1085.0 581.6 1085.0 582.8 1085.0 584.0 1085.0 585.2 1085.0 586.4 1085.0 587.6 1085.0 588.9 1085.0 590.1 1085.0 591.3 1085.0 592.5 1085.0 593.7 1085.0 594.9 1085.0 596.1 1085.0 597.4 1085.0 598.6 1085.0 599.8 1085.0 601.0 1085.0 602.2 1085.0 603.4 1085.0 604.6 1085.0 605.9 1085.0 607.1 1085.0 608.3 1085.0 609.5 1085.0 610.7 1085.0 611.9 1085.0 613.1 1085.0 614.4 1085.0 615.6 1085.0 616.8 1085.0 618.0 1085.0 619.2 1085.0 620.4 1085.0 621.6 1085.0 622.9 1085.0 624.1 1085.0 625.3 1085.0 626.5 1085.0 627.7 1085.0 628.9 1085.0 630.1 1085.0 631.4 1085.0 632.6 1085.0 633.8 1085.0 635.0 1085.0 636.2 1085.0 637.4 1085.0 638.6 1085.0 639.9 1085.0 641.1 1085.0 642.3 1085.0 643.5 1085.0 644.7 1085.0 645.9 1085.0 647.1 1085.0 648.4 1085.0 649.6 1085.0 650.8 1085.0 652.0 1085.0 653.2 1085.0 654.4 1085.0 655.6 1085.0 656.9 1085.0 658.1 1085.0 659.3 1085.0 660.5 1085.0 661.7 1085.0 662.9 1085.0 664.1 1085.0 665.4 1085.0 666.6 1085.0 667.8 1085.0 669.0 1085.0 670.2 1085.0 671.4 1085.0 672.6 1085.0 673.9 1085.0 675.1 1085.0 676.3 1085.0 677.5 1085.0 678.7 1085.0 679.9 1085.0 681.1 1085.0 682.4 1085.0 683.6 1085.0 684.8 1085.0 686.0 1085.0 687.2 1085.0 688.4 1085.0 689.6 1085.0 690.9 1085.0 692.1 1085.0 693.3 1085.0 694.5 1085.0 695.7 1085.0 696.9 1085.0 698.1 1085.0 699.4 1085.0 700.6 1085.0 701.8 1085.0 703.0 1085.0 704.2 1085.0 705.4 1085.0 706.6 1085.0 707.9 1085.0 709.1 1085.0 710.3 1085.0 711.5 1085.0 712.7 1085.0 713.9 1085.0 715.1 1085.0 716.4 1085.0 717.6 1085.0 718.8 1085.0 720.0 1085.0 721.2 1085.0 722.4 1085.0 723.6 1085.0 724.9 1085.0 726.1 1085.0 727.3 1085.0 728.5 1085.0 729.7 1085.0 730.9 1085.0 732.1 1085.0 733.4 1085.0 734.6 1085.0 735.8 1085.0 737.0 1085.0 738.2 1085.0 739.4 1085.0 740.6 1085.0 741.9 1085.0 743.1 1085.0 744.3 1085.0 745.5 1085.0 746.7 1085.0 747.9 1085.0 749.1 1085.0 750.4 1085.0 751.6 1085.0 752.8 1085.0 754.0 1085.0 755.2 1085.0 756.4 1085.0 757.6 1085.0 758.9 1085.0 760.1 1085.0 761.3 1085.0 762.5 1085.0 763.7 1085.0 764.9 1085.0 766.1 1085.0 767.4 1085.0 768.6 1085.0 769.8 1085.0 771.0 1085.0 772.2 1085.0 773.4 1085.0 774.6 1085.0 775.9 1085.0 777.1 1085.0 778.3 1085.0 779.5 1085.0 780.7 1085.0 781.9 1085.0 783.1 1085.0 784.4 1085.0 785.6 1085.0 786.8 1085.0 788.0 1085.0 789.2 1085.0 790.4 1085.0 791.6 1085.0 792.9 1085.0 794.1 1085.0 795.3 1085.0 796.5 1085.0 797.7 1085.0 798.9 1085.0 800.1 1085.0 801.4 1085.0 802.6 1085.0 803.8 1085.0 805.0 1085.0 806.2 1085.0 807.4 1085.0 808.6 1085.0 809.9 1085.0 811.1 1085.0 812.3 1085.0 813.5 1085.0 814.7 1085.0 815.9 1085.0 817.1 1085.0 818.4 1085.0 819.6 1085.0 820.8 1085.0 822.0 1085.0 823.2 1085.0 824.4 1085.0 825.6 1085.0 826.9 1085.0 828.1 1085.0 829.3 1085.0 830.5 1085.0 831.7 1085.0 832.9 1085.0" fill="none" stroke="#ff0000" stroke-width="3.6" stroke-linejoin="round"/><path d="M67.9 1084.5 69.1 1084.5 70.4 1084.5 71.6 1084.4 72.8 1084.4 74.0 1084.4 75.2 1084.4 76.4 1084.4 77.6 1084.4 78.9 1084.4 80.1 1084.4 81.3 1084.4 82.5 1084.3 83.7 1084.3 84.9 1084.3 86.1 1084.3 87.4 1084.3 88.6 1084.3 89.8 1084.3 91.0 1084.2 92.2 1084.2 93.4 1084.2 94.6 1084.2 95.9 1084.2 97.1 1084.2 98.3 1084.1 99.5 1084.1 100.7 1084.1 101.9 1084.1 103.1 1084.1 104.4 1084.0 105.6 1084.0 106.8 1084.0 108.0 1084.0 109.2 1084.0 110.4 1083.9 111.6 1083.9 112.9 1083.9 114.1 1083.8 115.3 1083.8 116.5 1083.8 117.7 1083.8 118.9 1083.7 120.1 1083.7 121.4 1083.7 122.6 1083.6 123.8 1083.6 125.0 1083.5 126.2 1083.5 127.4 1083.5 128.6 1083.4 129.9 1083.4 131.1 1083.3 132.3 1083.3 133.5 1083.2 134.7 1083.1 135.9 1083.1 137.1 1083.0 138.4 1083.0 139.6 1082.9 140.8 1082.8 142.0 1082.7 143.2 1082.7 144.4 1082.6 145.6 1082.5 146.9 1082.4 148.1 1082.3 149.3 1082.2 150.5 1082.1 151.7 1081.9 152.9 1081.8 154.1 1081.6 155.4 1081.5 156.6 1081.3 157.8 1081.1 159.0 1080.9 160.2 1080.7 161.4 1080.4 162.6 1080.1 163.9 1079.8 165.1 1079.5 166.3 1079.1 167.5 1078.7 168.7 1078.3 169.9 1077.8 171.1 1077.3 172.4 1076.7 173.6 1076.1 174.8 1075.4 176.0 1074.6 177.2 1073.8 178.4 1072.9 179.6 1071.9 180.9 1070.9 182.1 1069.8 183.3 1068.6 184.5 1067.3 185.7 1066.0 186.9 1064.6 188.1 1063.1 189.4 1061.6 190.6 1060.0 191.8 1058.4 193.0 1056.8 194.2 1055.1 195.4 1053.4 196.6 1051.8 197.9 1050.2 199.1 1048.7 200.3 1047.3 201.5 1046.0 202.7 1045.0 203.9 1044.1 205.1 1043.5 206.4 1043.1 207.6 1043.0 208.8 1043.2 210.0 1043.6 211.2 1044.3 212.4 1045.2 213.6 1046.4 214.9 1047.7 216.1 1049.1 217.3 1050.6 218.5 1052.2 219.7 1053.9 220.9 1055.5 222.1 1057.2 223.4 1058.9 224.6 1060.5 225.8 1062.0 227.0 1063.5 228.2 1065.0 229.4 1066.4 230.6 1067.7 231.9 1068.9 233.1 1070.1 234.3 1071.2 235.5 1072.2 236.7 1073.1 237.9 1074.0 239.1 1074.8 240.4 1075.5 241.6 1076.2 242.8 1076.9 244.0 1077.4 245.2 1077.9 246.4 1078.4 247.6 1078.8 248.9 1079.2 250.1 1079.6 251.3 1079.9 252.5 1080.2 253.7 1080.5 254.9 1080.7 256.1 1081.0 257.4 1081.2 258.6 1081.3 259.8 1081.5 261.0 1081.7 262.2 1081.8 263.4 1082.0 264.6 1082.1 265.9 1082.2 267.1 1082.3 268.3 1082.4 269.5 1082.5 270.7 1082.6 271.9 1082.7 273.1 1082.8 274.4 1082.8 275.6 1082.9 276.8 1083.0 278.0 1083.0 279.2 1083.1 280.4 1083.2 281.6 1083.2 282.9 1083.3 284.1 1083.3 285.3 1083.4 286.5 1083.4 287.7 1083.5 288.9 1083.5 290.1 1083.5 291.4 1083.6 292.6 1083.6 293.8 1083.7 295.0 1083.7 296.2 1083.7 297.4 1083.8 298.6 1083.8 299.9 1083.8 301.1 1083.9 302.3 1083.9 303.5 1083.9 304.7 1083.9 305.9 1084.0 307.1 1084.0 308.4 1084.0 309.6 1084.0 310.8 1084.1 312.0 1084.1 313.2 1084.1 314.4 1084.1 315.6 1084.1 316.9 1084.2 318.1 1084.2 319.3 1084.2 320.5 1084.2 321.7 1084.2 322.9 1084.2 324.1 1084.2 325.4 1084.3 326.6 1084.3 327.8 1084.3 329.0 1084.3 330.2 1084.3 331.4 1084.3 332.6 1084.3 333.9 1084.4 335.1 1084.4 336.3 1084.4 337.5 1084.4 338.7 1084.4 339.9 1084.4 341.1 1084.4 342.4 1084.4 343.6 1084.4 344.8 1084.5 346.0 1084.5 347.2 1084.5 348.4 1084.5 349.6 1084.5 350.9 1084.5 352.1 1084.5 353.3 1084.5 354.5 1084.5 355.7 1084.5 356.9 1084.5 358.1 1084.5 359.4 1084.6 360.6 1084.6 361.8 1084.6 363.0 1084.6 364.2 1084.6 365.4 1084.6 366.6 1084.6 367.9 1084.6 369.1 1084.6 370.3 1084.6 371.5 1084.6 372.7 1084.6 373.9 1084.6 375.1 1084.6 376.4 1084.6 377.6 1084.6 378.8 1084.6 380.0 1084.7 381.2 1084.7 382.4 1084.7 383.6 1084.7 384.9 1084.7 386.1 1084.7 387.3 1084.7 388.5 1084.7 389.7 1084.7 390.9 1084.7 392.1 1084.7 393.4 1084.7 394.6 1084.7 395.8 1084.7 397.0 1084.7 398.2 1084.7 399.4 1084.7 400.6 1084.7 401.9 1084.7 403.1 1084.7 404.3 1084.7 405.5 1084.7 406.7 1084.7 407.9 1084.7 409.1 1084.7 410.4 1084.7 411.6 1084.8 412.8 1084.8 414.0 1084.8 415.2 1084.8 416.4 1084.8 417.6 1084.8 418.9 1084.8 420.1 1084.8 421.3 1084.8 422.5 1084.8 423.7 1084.8 424.9 1084.8 426.1 1084.8 427.4 1084.8 428.6 1084.8 429.8 1084.8 431.0 1084.8 432.2 1084.8 433.4 1084.8 434.6 1084.8 435.9 1084.8 437.1 1084.8 438.3 1084.8 439.5 1084.8 440.7 1084.8 441.9 1084.8 443.1 1084.8 444.4 1084.8 445.6 1084.8 446.8 1084.8 448.0 1084.8 449.2 1084.8 450.4 1084.8 451.6 1084.8 452.9 1084.8 454.1 1084.8 455.3 1084.8 456.5 1084.8 457.7 1084.8 458.9 1084.8 460.1 1084.8 461.4 1084.8 462.6 1084.8 463.8 1084.8 465.0 1084.8 466.2 1084.8 467.4 1084.8 468.6 1084.8 469.9 1084.8 471.1 1084.8 472.3 1084.9 473.5 1084.9 474.7 1084.9 475.9 1084.9 477.1 1084.9 478.4 1084.9 479.6 1084.9 480.8 1084.9 482.0 1084.9 483.2 1084.9 484.4 1084.9 485.6 1084.9 486.9 1084.9 488.1 1084.9 489.3 1084.9 490.5 1084.9 491.7 1084.9 492.9 1084.9 494.1 1084.9 495.4 1084.9 496.6 1084.9 497.8 1084.9 499.0 1084.9 500.2 1084.9 501.4 1084.9 502.6 1084.9 503.9 1084.9 505.1 1084.9 506.3 1084.9 507.5 1084.9 508.7 1084.9 509.9 1084.9 511.1 1084.9 512.4 1084.9 513.6 1084.9 514.8 1084.9 516.0 1084.9 517.2 1084.9 518.4 1084.9 519.6 1084.9 520.9 1084.9 522.1 1084.9 523.3 1084.9 524.5 1084.9 525.7 1084.9 526.9 1084.9 528.1 1084.9 529.4 1084.9 530.6 1084.9 531.8 1084.9 533.0 1084.9 534.2 1084.9 535.4 1084.9 536.6 1084.9 537.9 1084.9 539.1 1084.9 540.3 1084.9 541.5 1084.9 542.7 1084.9 543.9 1084.9 545.1 1084.9 546.4 1084.9 547.6 1084.9 548.8 1084.9 550.0 1084.9 551.2 1084.9 552.4 1084.9 553.6 1084.9 554.9 1084.9 556.1 1084.9 557.3 1084.9 558.5 1084.9 559.7 1084.9 560.9 1084.9 562.1 1084.9 563.4 1084.9 564.6 1084.9 565.8 1084.9 567.0 1084.9 568.2 1084.9 569.4 1084.9 570.6 1084.9 571.9 1084.9 573.1 1084.9 574.3 1084.9 575.5 1084.9 576.7 1084.9 577.9 1084.9 579.1 1084.9 580.4 1084.9 581.6 1084.9 582.8 1084.9 584.0 1084.9 585.2 1084.9 586.4 1084.9 587.6 1084.9 588.9 1084.9 590.1 1084.9 591.3 1084.9 592.5 1084.9 593.7 1084.9 594.9 1084.9 596.1 1084.9 597.4 1084.9 598.6 1084.9 599.8 1084.9 601.0 1084.9 602.2 1084.9 603.4 1084.9 604.6 1084.9 605.9 1084.9 607.1 1084.9 608.3 1084.9 609.5 1084.9 610.7 1084.9 611.9 1084.9 613.1 1084.9 614.4 1084.9 615.6 1084.9 616.8 1084.9 618.0 1084.9 619.2 1084.9 620.4 1084.9 621.6 1084.9 622.9 1084.9 624.1 1084.9 625.3 1084.9 626.5 1084.9 627.7 1084.9 628.9 1084.9 630.1 1084.9 631.4 1084.9 632.6 1084.9 633.8 1084.9 635.0 1084.9 636.2 1084.9 637.4 1084.9 638.6 1084.9 639.9 1084.9 641.1 1084.9 642.3 1084.9 643.5 1084.9 644.7 1084.9 645.9 1084.9 647.1 1084.9 648.4 1084.9 649.6 1084.9 650.8 1084.9 652.0 1084.9 653.2 1084.9 654.4 1084.9 655.6 1084.9 656.9 1084.9 658.1 1084.9 659.3 1084.9 660.5 1084.9 661.7 1084.9 662.9 1084.9 664.1 1084.9 665.4 1084.9 666.6 1085.0 667.8 1085.0 669.0 1085.0 670.2 1085.0 671.4 1085.0 672.6 1085.0 673.9 1085.0 675.1 1085.0 676.3 1085.0 677.5 1085.0 678.7 1085.0 679.9 1085.0 681.1 1085.0 682.4 1085.0 683.6 1085.0 684.8 1085.0 686.0 1085.0 687.2 1085.0 688.4 1085.0 689.6 1085.0 690.9 1085.0 692.1 1085.0 693.3 1085.0 694.5 1085.0 695.7 1085.0 696.9 1085.0 698.1 1085.0 699.4 1085.0 700.6 1085.0 701.8 1085.0 703.0 1085.0 704.2 1085.0 705.4 1085.0 706.6 1085.0 707.9 1085.0 709.1 1085.0 710.3 1085.0 711.5 1085.0 712.7 1085.0 713.9 1085.0 715.1 1085.0 716.4 1085.0 717.6 1085.0 718.8 1085.0 720.0 1085.0 721.2 1085.0 722.4 1085.0 723.6 1085.0 724.9 1085.0 726.1 1085.0 727.3 1085.0 728.5 1085.0 729.7 1085.0 730.9 1085.0 732.1 1085.0 733.4 1085.0 734.6 1085.0 735.8 1085.0 737.0 1085.0 738.2 1085.0 739.4 1085.0 740.6 1085.0 741.9 1085.0 743.1 1085.0 744.3 1085.0 745.5 1085.0 746.7 1085.0 747.9 1085.0 749.1 1085.0 750.4 1085.0 751.6 1085.0 752.8 1085.0 754.0 1085.0 755.2 1085.0 756.4 1085.0 757.6 1085.0 758.9 1085.0 760.1 1085.0 761.3 1085.0 762.5 1085.0 763.7 1085.0 764.9 1085.0 766.1 1085.0 767.4 1085.0 768.6 1085.0 769.8 1085.0 771.0 1085.0 772.2 1085.0 773.4 1085.0 774.6 1085.0 775.9 1085.0 777.1 1085.0 778.3 1085.0 779.5 1085.0 780.7 1085.0 781.9 1085.0 783.1 1085.0 784.4 1085.0 785.6 1085.0 786.8 1085.0 788.0 1085.0 789.2 1085.0 790.4 1085.0 791.6 1085.0 792.9 1085.0 794.1 1085.0 795.3 1085.0 796.5 1085.0 797.7 1085.0 798.9 1085.0 800.1 1085.0 801.4 1085.0 802.6 1085.0 803.8 1085.0 805.0 1085.0 806.2 1085.0 807.4 1085.0 808.6 1085.0 809.9 1085.0 811.1 1085.0 812.3 1085.0 813.5 1085.0 814.7 1085.0 815.9 1085.0 817.1 1085.0 818.4 1085.0 819.6 1085.0 820.8 1085.0 822.0 1085.0 823.2 1085.0 824.4 1085.0 825.6 1085.0 826.9 1085.0 828.1 1085.0 829.3 1085.0 830.5 1085.0 831.7 1085.0 832.9 1085.0" fill="none" stroke="#00f000" stroke-width="3.6" stroke-linejoin="round"/><path d="M67.9 1084.0 69.1 1084.0 70.4 1084.0 71.6 1083.9 72.8 1083.9 74.0 1083.9 75.2 1083.9 76.4 1083.9 77.6 1083.9 78.9 1083.9 80.1 1083.8 81.3 1083.8 82.5 1083.8 83.7 1083.8 84.9 1083.8 86.1 1083.8 87.4 1083.7 88.6 1083.7 89.8 1083.7 91.0 1083.7 92.2 1083.7 93.4 1083.6 94.6 1083.6 95.9 1083.6 97.1 1083.6 98.3 1083.6 99.5 1083.5 100.7 1083.5 101.9 1083.5 103.1 1083.5 104.4 1083.4 105.6 1083.4 106.8 1083.4 108.0 1083.4 109.2 1083.3 110.4 1083.3 111.6 1083.3 112.9 1083.3 114.1 1083.2 115.3 1083.2 116.5 1083.2 117.7 1083.1 118.9 1083.1 120.1 1083.1 121.4 1083.0 122.6 1083.0 123.8 1083.0 125.0 1082.9 126.2 1082.9 127.4 1082.9 128.6 1082.8 129.9 1082.8 131.1 1082.7 132.3 1082.7 133.5 1082.6 134.7 1082.6 135.9 1082.5 137.1 1082.5 138.4 1082.4 139.6 1082.4 140.8 1082.3 142.0 1082.3 143.2 1082.2 144.4 1082.2 145.6 1082.1 146.9 1082.1 148.1 1082.0 149.3 1081.9 150.5 1081.9 151.7 1081.8 152.9 1081.7 154.1 1081.6 155.4 1081.6 156.6 1081.5 157.8 1081.4 159.0 1081.3 160.2 1081.2 161.4 1081.1 162.6 1081.0 163.9 1080.9 165.1 1080.8 166.3 1080.7 167.5 1080.6 168.7 1080.5 169.9 1080.4 171.1 1080.2 172.4 1080.1 173.6 1080.0 174.8 1079.8 176.0 1079.7 177.2 1079.5 178.4 1079.4 179.6 1079.2 180.9 1079.0 182.1 1078.9 183.3 1078.7 184.5 1078.5 185.7 1078.3 186.9 1078.1 188.1 1077.8 189.4 1077.6 190.6 1077.3 191.8 1077.1 193.0 1076.8 194.2 1076.5 195.4 1076.2 196.6 1075.9 197.9 1075.6 199.1 1075.2 200.3 1074.8 201.5 1074.5 202.7 1074.0 203.9 1073.6 205.1 1073.2 206.4 1072.7 207.6 1072.2 208.8 1071.6 210.0 1071.0 211.2 1070.4 212.4 1069.8 213.6 1069.1 214.9 1068.4 216.1 1067.6 217.3 1066.8 218.5 1065.9 219.7 1065.0 220.9 1064.0 222.1 1063.0 223.4 1061.9 224.6 1060.7 225.8 1059.5 227.0 1058.1 228.2 1056.7 229.4 1055.2 230.6 1053.7 231.9 1052.0 233.1 1050.2 234.3 1048.4 235.5 1046.5 236.7 1044.5 237.9 1042.4 239.1 1040.3 240.4 1038.1 241.6 1035.9 242.8 1033.7 244.0 1031.5 245.2 1029.4 246.4 1027.4 247.6 1025.5 248.9 1023.8 250.1 1022.3 251.3 1021.0 252.5 1020.1 253.7 1019.5 254.9 1019.2 256.1 1019.3 257.4 1019.7 258.6 1020.5 259.8 1021.6 261.0 1022.9 262.2 1024.5 263.4 1026.3 264.6 1028.3 265.9 1030.3 267.1 1032.5 268.3 1034.7 269.5 1036.9 270.7 1039.1 271.9 1041.2 273.1 1043.4 274.4 1045.4 275.6 1047.4 276.8 1049.2 278.0 1051.0 279.2 1052.8 280.4 1054.4 281.6 1055.9 282.9 1057.4 284.1 1058.7 285.3 1060.0 286.5 1061.2 287.7 1062.4 288.9 1063.5 290.1 1064.5 291.4 1065.4 292.6 1066.3 293.8 1067.2 295.0 1068.0 296.2 1068.7 297.4 1069.4 298.6 1070.1 299.9 1070.7 301.1 1071.3 302.3 1071.9 303.5 1072.4 304.7 1072.9 305.9 1073.4 307.1 1073.8 308.4 1074.2 309.6 1074.6 310.8 1075.0 312.0 1075.4 313.2 1075.7 314.4 1076.0 315.6 1076.4 316.9 1076.7 318.1 1076.9 319.3 1077.2 320.5 1077.5 321.7 1077.7 322.9 1077.9 324.1 1078.1 325.4 1078.4 326.6 1078.6 327.8 1078.8 329.0 1078.9 330.2 1079.1 331.4 1079.3 332.6 1079.5 333.9 1079.6 335.1 1079.8 336.3 1079.9 337.5 1080.0 338.7 1080.2 339.9 1080.3 341.1 1080.4 342.4 1080.5 343.6 1080.7 344.8 1080.8 346.0 1080.9 347.2 1081.0 348.4 1081.1 349.6 1081.2 350.9 1081.3 352.1 1081.3 353.3 1081.4 354.5 1081.5 355.7 1081.6 356.9 1081.7 358.1 1081.7 359.4 1081.8 360.6 1081.9 361.8 1082.0 363.0 1082.0 364.2 1082.1 365.4 1082.1 366.6 1082.2 367.9 1082.3 369.1 1082.3 370.3 1082.4 371.5 1082.4 372.7 1082.5 373.9 1082.5 375.1 1082.6 376.4 1082.6 377.6 1082.7 378.8 1082.7 380.0 1082.7 381.2 1082.8 382.4 1082.8 383.6 1082.9 384.9 1082.9 386.1 1082.9 387.3 1083.0 388.5 1083.0 389.7 1083.1 390.9 1083.1 392.1 1083.1 393.4 1083.2 394.6 1083.2 395.8 1083.2 397.0 1083.2 398.2 1083.3 399.4 1083.3 400.6 1083.3 401.9 1083.4 403.1 1083.4 404.3 1083.4 405.5 1083.4 406.7 1083.5 407.9 1083.5 409.1 1083.5 410.4 1083.5 411.6 1083.5 412.8 1083.6 414.0 1083.6 415.2 1083.6 416.4 1083.6 417.6 1083.7 418.9 1083.7 420.1 1083.7 421.3 1083.7 422.5 1083.7 423.7 1083.7 424.9 1083.8 426.1 1083.8 427.4 1083.8 428.6 1083.8 429.8 1083.8 431.0 1083.8 432.2 1083.9 433.4 1083.9 434.6 1083.9 435.9 1083.9 437.1 1083.9 438.3 1083.9 439.5 1083.9 440.7 1084.0 441.9 1084.0 443.1 1084.0 444.4 1084.0 445.6 1084.0 446.8 1084.0 448.0 1084.0 449.2 1084.0 450.4 1084.1 451.6 1084.1 452.9 1084.1 454.1 1084.1 455.3 1084.1 456.5 1084.1 457.7 1084.1 458.9 1084.1 460.1 1084.1 461.4 1084.2 462.6 1084.2 463.8 1084.2 465.0 1084.2 466.2 1084.2 467.4 1084.2 468.6 1084.2 469.9 1084.2 471.1 1084.2 472.3 1084.2 473.5 1084.2 474.7 1084.3 475.9 1084.3 477.1 1084.3 478.4 1084.3 479.6 1084.3 480.8 1084.3 482.0 1084.3 483.2 1084.3 484.4 1084.3 485.6 1084.3 486.9 1084.3 488.1 1084.3 489.3 1084.3 490.5 1084.4 491.7 1084.4 492.9 1084.4 494.1 1084.4 495.4 1084.4 496.6 1084.4 497.8 1084.4 499.0 1084.4 500.2 1084.4 501.4 1084.4 502.6 1084.4 503.9 1084.4 505.1 1084.4 506.3 1084.4 507.5 1084.4 508.7 1084.4 509.9 1084.4 511.1 1084.5 512.4 1084.5 513.6 1084.5 514.8 1084.5 516.0 1084.5 517.2 1084.5 518.4 1084.5 519.6 1084.5 520.9 1084.5 522.1 1084.5 523.3 1084.5 524.5 1084.5 525.7 1084.5 526.9 1084.5 528.1 1084.5 529.4 1084.5 530.6 1084.5 531.8 1084.5 533.0 1084.5 534.2 1084.5 535.4 1084.5 536.6 1084.5 537.9 1084.5 539.1 1084.6 540.3 1084.6 541.5 1084.6 542.7 1084.6 543.9 1084.6 545.1 1084.6 546.4 1084.6 547.6 1084.6 548.8 1084.6 550.0 1084.6 551.2 1084.6 552.4 1084.6 553.6 1084.6 554.9 1084.6 556.1 1084.6 557.3 1084.6 558.5 1084.6 559.7 1084.6 560.9 1084.6 562.1 1084.6 563.4 1084.6 564.6 1084.6 565.8 1084.6 567.0 1084.6 568.2 1084.6 569.4 1084.6 570.6 1084.6 571.9 1084.6 573.1 1084.6 574.3 1084.6 575.5 1084.6 576.7 1084.7 577.9 1084.7 579.1 1084.7 580.4 1084.7 581.6 1084.7 582.8 1084.7 584.0 1084.7 585.2 1084.7 586.4 1084.7 587.6 1084.7 588.9 1084.7 590.1 1084.7 591.3 1084.7 592.5 1084.7 593.7 1084.7 594.9 1084.7 596.1 1084.7 597.4 1084.7 598.6 1084.7 599.8 1084.7 601.0 1084.7 602.2 1084.7 603.4 1084.7 604.6 1084.7 605.9 1084.7 607.1 1084.7 608.3 1084.7 609.5 1084.7 610.7 1084.7 611.9 1084.7 613.1 1084.7 614.4 1084.7 615.6 1084.7 616.8 1084.7 618.0 1084.7 619.2 1084.7 620.4 1084.7 621.6 1084.7 622.9 1084.7 624.1 1084.7 625.3 1084.7 626.5 1084.7 627.7 1084.7 628.9 1084.7 630.1 1084.7 631.4 1084.7 632.6 1084.7 633.8 1084.7 635.0 1084.7 636.2 1084.8 637.4 1084.8 638.6 1084.8 639.9 1084.8 641.1 1084.8 642.3 1084.8 643.5 1084.8 644.7 1084.8 645.9 1084.8 647.1 1084.8 648.4 1084.8 649.6 1084.8 650.8 1084.8 652.0 1084.8 653.2 1084.8 654.4 1084.8 655.6 1084.8 656.9 1084.8 658.1 1084.8 659.3 1084.8 660.5 1084.8 661.7 1084.8 662.9 1084.8 664.1 1084.8 665.4 1084.8 666.6 1084.8 667.8 1084.8 669.0 1084.8 670.2 1084.8 671.4 1084.8 672.6 1084.8 673.9 1084.8 675.1 1084.8 676.3 1084.8 677.5 1084.8 678.7 1084.8 679.9 1084.8 681.1 1084.8 682.4 1084.8 683.6 1084.8 684.8 1084.8 686.0 1084.8 687.2 1084.8 688.4 1084.8 689.6 1084.8 690.9 1084.8 692.1 1084.8 693.3 1084.8 694.5 1084.8 695.7 1084.8 696.9 1084.8 698.1 1084.8 699.4 1084.8 700.6 1084.8 701.8 1084.8 703.0 1084.8 704.2 1084.8 705.4 1084.8 706.6 1084.8 707.9 1084.8 709.1 1084.8 710.3 1084.8 711.5 1084.8 712.7 1084.8 713.9 1084.8 715.1 1084.8 716.4 1084.8 717.6 1084.8 718.8 1084.8 720.0 1084.8 721.2 1084.8 722.4 1084.8 723.6 1084.8 724.9 1084.8 726.1 1084.8 727.3 1084.8 728.5 1084.8 729.7 1084.8 730.9 1084.8 732.1 1084.8 733.4 1084.8 734.6 1084.8 735.8 1084.8 737.0 1084.8 738.2 1084.8 739.4 1084.8 740.6 1084.8 741.9 1084.8 743.1 1084.8 744.3 1084.8 745.5 1084.8 746.7 1084.9 747.9 1084.9 749.1 1084.9 750.4 1084.9 751.6 1084.9 752.8 1084.9 754.0 1084.9 755.2 1084.9 756.4 1084.9 757.6 1084.9 758.9 1084.9 760.1 1084.9 761.3 1084.9 762.5 1084.9 763.7 1084.9 764.9 1084.9 766.1 1084.9 767.4 1084.9 768.6 1084.9 769.8 1084.9 771.0 1084.9 772.2 1084.9 773.4 1084.9 774.6 1084.9 775.9 1084.9 777.1 1084.9 778.3 1084.9 779.5 1084.9 780.7 1084.9 781.9 1084.9 783.1 1084.9 784.4 1084.9 785.6 1084.9 786.8 1084.9 788.0 1084.9 789.2 1084.9 790.4 1084.9 791.6 1084.9 792.9 1084.9 794.1 1084.9 795.3 1084.9 796.5 1084.9 797.7 1084.9 798.9 1084.9 800.1 1084.9 801.4 1084.9 802.6 1084.9 803.8 1084.9 805.0 1084.9 806.2 1084.9 807.4 1084.9 808.6 1084.9 809.9 1084.9 811.1 1084.9 812.3 1084.9 813.5 1084.9 814.7 1084.9 815.9 1084.9 817.1 1084.9 818.4 1084.9 819.6 1084.9 820.8 1084.9 822.0 1084.9 823.2 1084.9 824.4 1084.9 825.6 1084.9 826.9 1084.9 828.1 1084.9 829.3 1084.9 830.5 1084.9 831.7 1084.9 832.9 1084.9" fill="none" stroke="#0000ff" stroke-width="3.6" stroke-linejoin="round"/><path d="M67.9 1084.5 69.1 1084.5 70.4 1084.5 71.6 1084.5 72.8 1084.5 74.0 1084.5 75.2 1084.5 76.4 1084.5 77.6 1084.5 78.9 1084.5 80.1 1084.5 81.3 1084.5 82.5 1084.5 83.7 1084.4 84.9 1084.4 86.1 1084.4 87.4 1084.4 88.6 1084.4 89.8 1084.4 91.0 1084.4 92.2 1084.4 93.4 1084.4 94.6 1084.4 95.9 1084.4 97.1 1084.4 98.3 1084.3 99.5 1084.3 100.7 1084.3 101.9 1084.3 103.1 1084.3 104.4 1084.3 105.6 1084.3 106.8 1084.3 108.0 1084.3 109.2 1084.3 110.4 1084.2 111.6 1084.2 112.9 1084.2 114.1 1084.2 115.3 1084.2 116.5 1084.2 117.7 1084.2 118.9 1084.2 120.1 1084.1 121.4 1084.1 122.6 1084.1 123.8 1084.1 125.0 1084.1 126.2 1084.1 127.4 1084.1 128.6 1084.0 129.9 1084.0 131.1 1084.0 132.3 1084.0 133.5 1084.0 134.7 1084.0 135.9 1083.9 137.1 1083.9 138.4 1083.9 139.6 1083.9 140.8 1083.9 142.0 1083.8 143.2 1083.8 144.4 1083.8 145.6 1083.8 146.9 1083.8 148.1 1083.7 149.3 1083.7 150.5 1083.7 151.7 1083.7 152.9 1083.6 154.1 1083.6 155.4 1083.6 156.6 1083.5 157.8 1083.5 159.0 1083.5 160.2 1083.4 161.4 1083.4 162.6 1083.4 163.9 1083.3 165.1 1083.3 166.3 1083.3 167.5 1083.2 168.7 1083.2 169.9 1083.1 171.1 1083.1 172.4 1083.1 173.6 1083.0 174.8 1083.0 176.0 1082.9 177.2 1082.9 178.4 1082.8 179.6 1082.8 180.9 1082.7 182.1 1082.6 183.3 1082.6 184.5 1082.5 185.7 1082.4 186.9 1082.4 188.1 1082.3 189.4 1082.2 190.6 1082.1 191.8 1082.1 193.0 1082.0 194.2 1081.9 195.4 1081.8 196.6 1081.7 197.9 1081.6 199.1 1081.5 200.3 1081.4 201.5 1081.3 202.7 1081.1 203.9 1081.0 205.1 1080.9 206.4 1080.7 207.6 1080.6 208.8 1080.4 210.0 1080.3 211.2 1080.1 212.4 1079.9 213.6 1079.7 214.9 1079.5 216.1 1079.3 217.3 1079.1 218.5 1078.9 219.7 1078.6 220.9 1078.3 222.1 1078.1 223.4 1077.8 224.6 1077.5 225.8 1077.1 227.0 1076.8 228.2 1076.4 229.4 1076.0 230.6 1075.6 231.9 1075.1 233.1 1074.6 234.3 1074.1 235.5 1073.6 236.7 1073.0 237.9 1072.3 239.1 1071.7 240.4 1070.9 241.6 1070.2 242.8 1069.4 244.0 1068.5 245.2 1067.5 246.4 1066.6 247.6 1065.5 248.9 1064.4 250.1 1063.2 251.3 1061.9 252.5 1060.6 253.7 1059.3 254.9 1057.8 256.1 1056.4 257.4 1054.8 258.6 1053.3 259.8 1051.8 261.0 1050.3 262.2 1048.9 263.4 1047.5 264.6 1046.3 265.9 1045.2 267.1 1044.3 268.3 1043.6 269.5 1043.2 270.7 1043.0 271.9 1043.1 273.1 1043.4 274.4 1044.0 275.6 1044.8 276.8 1045.8 278.0 1047.0 279.2 1048.3 280.4 1049.7 281.6 1051.2 282.9 1052.7 284.1 1054.2 285.3 1055.8 286.5 1057.2 287.7 1058.7 288.9 1060.1 290.1 1061.4 291.4 1062.7 292.6 1063.9 293.8 1065.1 295.0 1066.1 296.2 1067.2 297.4 1068.1 298.6 1069.0 299.9 1069.9 301.1 1070.6 302.3 1071.4 303.5 1072.1 304.7 1072.7 305.9 1073.3 307.1 1073.9 308.4 1074.4 309.6 1074.9 310.8 1075.4 312.0 1075.8 313.2 1076.2 314.4 1076.6 315.6 1077.0 316.9 1077.3 318.1 1077.6 319.3 1078.0 320.5 1078.2 321.7 1078.5 322.9 1078.8 324.1 1079.0 325.4 1079.2 326.6 1079.4 327.8 1079.7 329.0 1079.8 330.2 1080.0 331.4 1080.2 332.6 1080.4 333.9 1080.5 335.1 1080.7 336.3 1080.8 337.5 1081.0 338.7 1081.1 339.9 1081.2 341.1 1081.3 342.4 1081.4 343.6 1081.6 344.8 1081.7 346.0 1081.8 347.2 1081.9 348.4 1081.9 349.6 1082.0 350.9 1082.1 352.1 1082.2 353.3 1082.3 354.5 1082.3 355.7 1082.4 356.9 1082.5 358.1 1082.5 359.4 1082.6 360.6 1082.7 361.8 1082.7 363.0 1082.8 364.2 1082.8 365.4 1082.9 366.6 1082.9 367.9 1083.0 369.1 1083.0 370.3 1083.1 371.5 1083.1 372.7 1083.2 373.9 1083.2 375.1 1083.3 376.4 1083.3 377.6 1083.3 378.8 1083.4 380.0 1083.4 381.2 1083.4 382.4 1083.5 383.6 1083.5 384.9 1083.5 386.1 1083.6 387.3 1083.6 388.5 1083.6 389.7 1083.6 390.9 1083.7 392.1 1083.7 393.4 1083.7 394.6 1083.7 395.8 1083.8 397.0 1083.8 398.2 1083.8 399.4 1083.8 400.6 1083.9 401.9 1083.9 403.1 1083.9 404.3 1083.9 405.5 1083.9 406.7 1084.0 407.9 1084.0 409.1 1084.0 410.4 1084.0 411.6 1084.0 412.8 1084.0 414.0 1084.1 415.2 1084.1 416.4 1084.1 417.6 1084.1 418.9 1084.1 420.1 1084.1 421.3 1084.1 422.5 1084.2 423.7 1084.2 424.9 1084.2 426.1 1084.2 427.4 1084.2 428.6 1084.2 429.8 1084.2 431.0 1084.2 432.2 1084.3 433.4 1084.3 434.6 1084.3 435.9 1084.3 437.1 1084.3 438.3 1084.3 439.5 1084.3 440.7 1084.3 441.9 1084.3 443.1 1084.3 444.4 1084.4 445.6 1084.4 446.8 1084.4 448.0 1084.4 449.2 1084.4 450.4 1084.4 451.6 1084.4 452.9 1084.4 454.1 1084.4 455.3 1084.4 456.5 1084.4 457.7 1084.4 458.9 1084.4 460.1 1084.5 461.4 1084.5 462.6 1084.5 463.8 1084.5 465.0 1084.5 466.2 1084.5 467.4 1084.5 468.6 1084.5 469.9 1084.5 471.1 1084.5 472.3 1084.5 473.5 1084.5 474.7 1084.5 475.9 1084.5 477.1 1084.5 478.4 1084.5 479.6 1084.6 480.8 1084.6 482.0 1084.6 483.2 1084.6 484.4 1084.6 485.6 1084.6 486.9 1084.6 488.1 1084.6 489.3 1084.6 490.5 1084.6 491.7 1084.6 492.9 1084.6 494.1 1084.6 495.4 1084.6 496.6 1084.6 497.8 1084.6 499.0 1084.6 500.2 1084.6 501.4 1084.6 502.6 1084.6 503.9 1084.6 505.1 1084.6 506.3 1084.6 507.5 1084.6 508.7 1084.7 509.9 1084.7 511.1 1084.7 512.4 1084.7 513.6 1084.7 514.8 1084.7 516.0 1084.7 517.2 1084.7 518.4 1084.7 519.6 1084.7 520.9 1084.7 522.1 1084.7 523.3 1084.7 524.5 1084.7 525.7 1084.7 526.9 1084.7 528.1 1084.7 529.4 1084.7 530.6 1084.7 531.8 1084.7 533.0 1084.7 534.2 1084.7 535.4 1084.7 536.6 1084.7 537.9 1084.7 539.1 1084.7 540.3 1084.7 541.5 1084.7 542.7 1084.7 543.9 1084.7 545.1 1084.7 546.4 1084.7 547.6 1084.7 548.8 1084.7 550.0 1084.7 551.2 1084.7 552.4 1084.8 553.6 1084.8 554.9 1084.8 556.1 1084.8 557.3 1084.8 558.5 1084.8 559.7 1084.8 560.9 1084.8 562.1 1084.8 563.4 1084.8 564.6 1084.8 565.8 1084.8 567.0 1084.8 568.2 1084.8 569.4 1084.8 570.6 1084.8 571.9 1084.8 573.1 1084.8 574.3 1084.8 575.5 1084.8 576.7 1084.8 577.9 1084.8 579.1 1084.8 580.4 1084.8 581.6 1084.8 582.8 1084.8 584.0 1084.8 585.2 1084.8 586.4 1084.8 587.6 1084.8 588.9 1084.8 590.1 1084.8 591.3 1084.8 592.5 1084.8 593.7 1084.8 594.9 1084.8 596.1 1084.8 597.4 1084.8 598.6 1084.8 599.8 1084.8 601.0 1084.8 602.2 1084.8 603.4 1084.8 604.6 1084.8 605.9 1084.8 607.1 1084.8 608.3 1084.8 609.5 1084.8 610.7 1084.8 611.9 1084.8 613.1 1084.8 614.4 1084.8 615.6 1084.8 616.8 1084.8 618.0 1084.8 619.2 1084.8 620.4 1084.8 621.6 1084.8 622.9 1084.8 624.1 1084.8 625.3 1084.8 626.5 1084.8 627.7 1084.8 628.9 1084.8 630.1 1084.8 631.4 1084.8 632.6 1084.8 633.8 1084.9 635.0 1084.9 636.2 1084.9 637.4 1084.9 638.6 1084.9 639.9 1084.9 641.1 1084.9 642.3 1084.9 643.5 1084.9 644.7 1084.9 645.9 1084.9 647.1 1084.9 648.4 1084.9 649.6 1084.9 650.8 1084.9 652.0 1084.9 653.2 1084.9 654.4 1084.9 655.6 1084.9 656.9 1084.9 658.1 1084.9 659.3 1084.9 660.5 1084.9 661.7 1084.9 662.9 1084.9 664.1 1084.9 665.4 1084.9 666.6 1084.9 667.8 1084.9 669.0 1084.9 670.2 1084.9 671.4 1084.9 672.6 1084.9 673.9 1084.9 675.1 1084.9 676.3 1084.9 677.5 1084.9 678.7 1084.9 679.9 1084.9 681.1 1084.9 682.4 1084.9 683.6 1084.9 684.8 1084.9 686.0 1084.9 687.2 1084.9 688.4 1084.9 689.6 1084.9 690.9 1084.9 692.1 1084.9 693.3 1084.9 694.5 1084.9 695.7 1084.9 696.9 1084.9 698.1 1084.9 699.4 1084.9 700.6 1084.9 701.8 1084.9 703.0 1084.9 704.2 1084.9 705.4 1084.9 706.6 1084.9 707.9 1084.9 709.1 1084.9 710.3 1084.9 711.5 1084.9 712.7 1084.9 713.9 1084.9 715.1 1084.9 716.4 1084.9 717.6 1084.9 718.8 1084.9 720.0 1084.9 721.2 1084.9 722.4 1084.9 723.6 1084.9 724.9 1084.9 726.1 1084.9 727.3 1084.9 728.5 1084.9 729.7 1084.9 730.9 1084.9 732.1 1084.9 733.4 1084.9 734.6 1084.9 735.8 1084.9 737.0 1084.9 738.2 1084.9 739.4 1084.9 740.6 1084.9 741.9 1084.9 743.1 1084.9 744.3 1084.9 745.5 1084.9 746.7 1084.9 747.9 1084.9 749.1 1084.9 750.4 1084.9 751.6 1084.9 752.8 1084.9 754.0 1084.9 755.2 1084.9 756.4 1084.9 757.6 1084.9 758.9 1084.9 760.1 1084.9 761.3 1084.9 762.5 1084.9 763.7 1084.9 764.9 1084.9 766.1 1084.9 767.4 1084.9 768.6 1084.9 769.8 1084.9 771.0 1084.9 772.2 1084.9 773.4 1084.9 774.6 1084.9 775.9 1084.9 777.1 1084.9 778.3 1084.9 779.5 1084.9 780.7 1084.9 781.9 1084.9 783.1 1084.9 784.4 1084.9 785.6 1084.9 786.8 1084.9 788.0 1084.9 789.2 1084.9 790.4 1084.9 791.6 1084.9 792.9 1084.9 794.1 1084.9 795.3 1084.9 796.5 1084.9 797.7 1084.9 798.9 1084.9 800.1 1084.9 801.4 1084.9 802.6 1084.9 803.8 1084.9 805.0 1084.9 806.2 1084.9 807.4 1084.9 808.6 1084.9 809.9 1084.9 811.1 1084.9 812.3 1084.9 813.5 1084.9 814.7 1084.9 815.9 1084.9 817.1 1084.9 818.4 1084.9 819.6 1084.9 820.8 1084.9 822.0 1084.9 823.2 1084.9 824.4 1084.9 825.6 1084.9 826.9 1084.9 828.1 1084.9 829.3 1084.9 830.5 1084.9 831.7 1084.9 832.9 1084.9" fill="none" stroke="#00ffff" stroke-width="3.6" stroke-linejoin="round"/><path d="M67.9 1084.8 69.1 1084.8 70.4 1084.8 71.6 1084.8 72.8 1084.8 74.0 1084.7 75.2 1084.7 76.4 1084.7 77.6 1084.7 78.9 1084.7 80.1 1084.7 81.3 1084.7 82.5 1084.7 83.7 1084.7 84.9 1084.7 86.1 1084.7 87.4 1084.7 88.6 1084.7 89.8 1084.7 91.0 1084.7 92.2 1084.7 93.4 1084.7 94.6 1084.7 95.9 1084.7 97.1 1084.7 98.3 1084.7 99.5 1084.7 100.7 1084.7 101.9 1084.7 103.1 1084.7 104.4 1084.7 105.6 1084.7 106.8 1084.7 108.0 1084.7 109.2 1084.7 110.4 1084.7 111.6 1084.6 112.9 1084.6 114.1 1084.6 115.3 1084.6 116.5 1084.6 117.7 1084.6 118.9 1084.6 120.1 1084.6 121.4 1084.6 122.6 1084.6 123.8 1084.6 125.0 1084.6 126.2 1084.6 127.4 1084.6 128.6 1084.6 129.9 1084.6 131.1 1084.6 132.3 1084.6 133.5 1084.6 134.7 1084.6 135.9 1084.5 137.1 1084.5 138.4 1084.5 139.6 1084.5 140.8 1084.5 142.0 1084.5 143.2 1084.5 144.4 1084.5 145.6 1084.5 146.9 1084.5 148.1 1084.5 149.3 1084.5 150.5 1084.5 151.7 1084.5 152.9 1084.4 154.1 1084.4 155.4 1084.4 156.6 1084.4 157.8 1084.4 159.0 1084.4 160.2 1084.4 161.4 1084.4 162.6 1084.4 163.9 1084.4 165.1 1084.4 166.3 1084.3 167.5 1084.3 168.7 1084.3 169.9 1084.3 171.1 1084.3 172.4 1084.3 173.6 1084.3 174.8 1084.3 176.0 1084.3 177.2 1084.2 178.4 1084.2 179.6 1084.2 180.9 1084.2 182.1 1084.2 183.3 1084.2 184.5 1084.2 185.7 1084.1 186.9 1084.1 188.1 1084.1 189.4 1084.1 190.6 1084.1 191.8 1084.1 193.0 1084.0 194.2 1084.0 195.4 1084.0 196.6 1084.0 197.9 1084.0 199.1 1083.9 200.3 1083.9 201.5 1083.9 202.7 1083.9 203.9 1083.8 205.1 1083.8 206.4 1083.8 207.6 1083.8 208.8 1083.7 210.0 1083.7 211.2 1083.7 212.4 1083.7 213.6 1083.6 214.9 1083.6 216.1 1083.5 217.3 1083.5 218.5 1083.5 219.7 1083.4 220.9 1083.4 222.1 1083.3 223.4 1083.3 224.6 1083.2 225.8 1083.2 227.0 1083.1 228.2 1083.0 229.4 1083.0 230.6 1082.9 231.9 1082.8 233.1 1082.7 234.3 1082.6 235.5 1082.5 236.7 1082.4 237.9 1082.3 239.1 1082.2 240.4 1082.1 241.6 1081.9 242.8 1081.8 244.0 1081.6 245.2 1081.4 246.4 1081.2 247.6 1081.0 248.9 1080.8 250.1 1080.6 251.3 1080.3 252.5 1080.0 253.7 1079.7 254.9 1079.4 256.1 1079.1 257.4 1078.7 258.6 1078.4 259.8 1078.0 261.0 1077.5 262.2 1077.1 263.4 1076.6 264.6 1076.1 265.9 1075.6 267.1 1075.0 268.3 1074.4 269.5 1073.8 270.7 1073.2 271.9 1072.5 273.1 1071.8 274.4 1071.1 275.6 1070.3 276.8 1069.6 278.0 1068.8 279.2 1067.9 280.4 1067.1 281.6 1066.2 282.9 1065.3 284.1 1064.4 285.3 1063.5 286.5 1062.6 287.7 1061.7 288.9 1060.7 290.1 1059.8 291.4 1058.9 292.6 1058.0 293.8 1057.0 295.0 1056.2 296.2 1055.3 297.4 1054.5 298.6 1053.7 299.9 1052.9 301.1 1052.2 302.3 1051.6 303.5 1051.0 304.7 1050.4 305.9 1050.0 307.1 1049.6 308.4 1049.3 309.6 1049.1 310.8 1049.0 312.0 1049.0 313.2 1049.0 314.4 1049.2 315.6 1049.4 316.9 1049.7 318.1 1050.1 319.3 1050.6 320.5 1051.1 321.7 1051.7 322.9 1052.4 324.1 1053.1 325.4 1053.9 326.6 1054.7 327.8 1055.5 329.0 1056.4 330.2 1057.3 331.4 1058.2 332.6 1059.1 333.9 1060.0 335.1 1061.0 336.3 1061.9 337.5 1062.8 338.7 1063.8 339.9 1064.7 341.1 1065.6 342.4 1066.4 343.6 1067.3 344.8 1068.1 346.0 1069.0 347.2 1069.8 348.4 1070.5 349.6 1071.3 350.9 1072.0 352.1 1072.7 353.3 1073.3 354.5 1074.0 355.7 1074.6 356.9 1075.2 358.1 1075.7 359.4 1076.2 360.6 1076.7 361.8 1077.2 363.0 1077.7 364.2 1078.1 365.4 1078.5 366.6 1078.8 367.9 1079.2 369.1 1079.5 370.3 1079.8 371.5 1080.1 372.7 1080.4 373.9 1080.6 375.1 1080.9 376.4 1081.1 377.6 1081.3 378.8 1081.5 380.0 1081.6 381.2 1081.8 382.4 1082.0 383.6 1082.1 384.9 1082.2 386.1 1082.3 387.3 1082.5 388.5 1082.6 389.7 1082.7 390.9 1082.7 392.1 1082.8 393.4 1082.9 394.6 1083.0 395.8 1083.1 397.0 1083.1 398.2 1083.2 399.4 1083.2 400.6 1083.3 401.9 1083.3 403.1 1083.4 404.3 1083.4 405.5 1083.5 406.7 1083.5 407.9 1083.6 409.1 1083.6 410.4 1083.6 411.6 1083.7 412.8 1083.7 414.0 1083.7 415.2 1083.8 416.4 1083.8 417.6 1083.8 418.9 1083.8 420.1 1083.9 421.3 1083.9 422.5 1083.9 423.7 1083.9 424.9 1083.9 426.1 1084.0 427.4 1084.0 428.6 1084.0 429.8 1084.0 431.0 1084.0 432.2 1084.1 433.4 1084.1 434.6 1084.1 435.9 1084.1 437.1 1084.1 438.3 1084.1 439.5 1084.2 440.7 1084.2 441.9 1084.2 443.1 1084.2 444.4 1084.2 445.6 1084.2 446.8 1084.2 448.0 1084.3 449.2 1084.3 450.4 1084.3 451.6 1084.3 452.9 1084.3 454.1 1084.3 455.3 1084.3 456.5 1084.3 457.7 1084.4 458.9 1084.4 460.1 1084.4 461.4 1084.4 462.6 1084.4 463.8 1084.4 465.0 1084.4 466.2 1084.4 467.4 1084.4 468.6 1084.4 469.9 1084.4 471.1 1084.5 472.3 1084.5 473.5 1084.5 474.7 1084.5 475.9 1084.5 477.1 1084.5 478.4 1084.5 479.6 1084.5 480.8 1084.5 482.0 1084.5 483.2 1084.5 484.4 1084.5 485.6 1084.5 486.9 1084.5 488.1 1084.5 489.3 1084.6 490.5 1084.6 491.7 1084.6 492.9 1084.6 494.1 1084.6 495.4 1084.6 496.6 1084.6 497.8 1084.6 499.0 1084.6 500.2 1084.6 501.4 1084.6 502.6 1084.6 503.9 1084.6 505.1 1084.6 506.3 1084.6 507.5 1084.6 508.7 1084.6 509.9 1084.6 511.1 1084.6 512.4 1084.6 513.6 1084.7 514.8 1084.7 516.0 1084.7 517.2 1084.7 518.4 1084.7 519.6 1084.7 520.9 1084.7 522.1 1084.7 523.3 1084.7 524.5 1084.7 525.7 1084.7 526.9 1084.7 528.1 1084.7 529.4 1084.7 530.6 1084.7 531.8 1084.7 533.0 1084.7 534.2 1084.7 535.4 1084.7 536.6 1084.7 537.9 1084.7 539.1 1084.7 540.3 1084.7 541.5 1084.7 542.7 1084.7 543.9 1084.7 545.1 1084.7 546.4 1084.7 547.6 1084.7 548.8 1084.7 550.0 1084.7 551.2 1084.8 552.4 1084.8 553.6 1084.8 554.9 1084.8 556.1 1084.8 557.3 1084.8 558.5 1084.8 559.7 1084.8 560.9 1084.8 562.1 1084.8 563.4 1084.8 564.6 1084.8 565.8 1084.8 567.0 1084.8 568.2 1084.8 569.4 1084.8 570.6 1084.8 571.9 1084.8 573.1 1084.8 574.3 1084.8 575.5 1084.8 576.7 1084.8 577.9 1084.8 579.1 1084.8 580.4 1084.8 581.6 1084.8 582.8 1084.8 584.0 1084.8 585.2 1084.8 586.4 1084.8 587.6 1084.8 588.9 1084.8 590.1 1084.8 591.3 1084.8 592.5 1084.8 593.7 1084.8 594.9 1084.8 596.1 1084.8 597.4 1084.8 598.6 1084.8 599.8 1084.8 601.0 1084.8 602.2 1084.8 603.4 1084.8 604.6 1084.8 605.9 1084.8 607.1 1084.8 608.3 1084.8 609.5 1084.8 610.7 1084.8 611.9 1084.8 613.1 1084.8 614.4 1084.8 615.6 1084.8 616.8 1084.8 618.0 1084.8 619.2 1084.8 620.4 1084.8 621.6 1084.9 622.9 1084.9 624.1 1084.9 625.3 1084.9 626.5 1084.9 627.7 1084.9 628.9 1084.9 630.1 1084.9 631.4 1084.9 632.6 1084.9 633.8 1084.9 635.0 1084.9 636.2 1084.9 637.4 1084.9 638.6 1084.9 639.9 1084.9 641.1 1084.9 642.3 1084.9 643.5 1084.9 644.7 1084.9 645.9 1084.9 647.1 1084.9 648.4 1084.9 649.6 1084.9 650.8 1084.9 652.0 1084.9 653.2 1084.9 654.4 1084.9 655.6 1084.9 656.9 1084.9 658.1 1084.9 659.3 1084.9 660.5 1084.9 661.7 1084.9 662.9 1084.9 664.1 1084.9 665.4 1084.9 666.6 1084.9 667.8 1084.9 669.0 1084.9 670.2 1084.9 671.4 1084.9 672.6 1084.9 673.9 1084.9 675.1 1084.9 676.3 1084.9 677.5 1084.9 678.7 1084.9 679.9 1084.9 681.1 1084.9 682.4 1084.9 683.6 1084.9 684.8 1084.9 686.0 1084.9 687.2 1084.9 688.4 1084.9 689.6 1084.9 690.9 1084.9 692.1 1084.9 693.3 1084.9 694.5 1084.9 695.7 1084.9 696.9 1084.9 698.1 1084.9 699.4 1084.9 700.6 1084.9 701.8 1084.9 703.0 1084.9 704.2 1084.9 705.4 1084.9 706.6 1084.9 707.9 1084.9 709.1 1084.9 710.3 1084.9 711.5 1084.9 712.7 1084.9 713.9 1084.9 715.1 1084.9 716.4 1084.9 717.6 1084.9 718.8 1084.9 720.0 1084.9 721.2 1084.9 722.4 1084.9 723.6 1084.9 724.9 1084.9 726.1 1084.9 727.3 1084.9 728.5 1084.9 729.7 1084.9 730.9 1084.9 732.1 1084.9 733.4 1084.9 734.6 1084.9 735.8 1084.9 737.0 1084.9 738.2 1084.9 739.4 1084.9 740.6 1084.9 741.9 1084.9 743.1 1084.9 744.3 1084.9 745.5 1084.9 746.7 1084.9 747.9 1084.9 749.1 1084.9 750.4 1084.9 751.6 1084.9 752.8 1084.9 754.0 1084.9 755.2 1084.9 756.4 1084.9 757.6 1084.9 758.9 1084.9 760.1 1084.9 761.3 1084.9 762.5 1084.9 763.7 1084.9 764.9 1084.9 766.1 1084.9 767.4 1084.9 768.6 1084.9 769.8 1084.9 771.0 1084.9 772.2 1084.9 773.4 1084.9 774.6 1084.9 775.9 1084.9 777.1 1084.9 778.3 1084.9 779.5 1084.9 780.7 1084.9 781.9 1084.9 783.1 1084.9 784.4 1084.9 785.6 1084.9 786.8 1084.9 788.0 1084.9 789.2 1084.9 790.4 1084.9 791.6 1084.9 792.9 1084.9 794.1 1084.9 795.3 1084.9 796.5 1084.9 797.7 1084.9 798.9 1084.9 800.1 1084.9 801.4 1084.9 802.6 1084.9 803.8 1084.9 805.0 1084.9 806.2 1084.9 807.4 1084.9 808.6 1084.9 809.9 1084.9 811.1 1084.9 812.3 1084.9 813.5 1084.9 814.7 1084.9 815.9 1084.9 817.1 1084.9 818.4 1084.9 819.6 1084.9 820.8 1084.9 822.0 1084.9 823.2 1084.9 824.4 1084.9 825.6 1084.9 826.9 1084.9 828.1 1084.9 829.3 1084.9 830.5 1084.9 831.7 1084.9 832.9 1084.9" fill="none" stroke="#ff00ff" stroke-width="3.6" stroke-linejoin="round"/><path d="M67.9 1084.9 69.1 1084.9 70.4 1084.9 71.6 1084.9 72.8 1084.9 74.0 1084.9 75.2 1084.9 76.4 1084.9 77.6 1084.9 78.9 1084.9 80.1 1084.9 81.3 1084.9 82.5 1084.9 83.7 1084.9 84.9 1084.9 86.1 1084.9 87.4 1084.9 88.6 1084.9 89.8 1084.9 91.0 1084.9 92.2 1084.9 93.4 1084.9 94.6 1084.9 95.9 1084.9 97.1 1084.9 98.3 1084.9 99.5 1084.9 100.7 1084.9 101.9 1084.9 103.1 1084.9 104.4 1084.9 105.6 1084.9 106.8 1084.9 108.0 1084.9 109.2 1084.9 110.4 1084.9 111.6 1084.9 112.9 1084.9 114.1 1084.9 115.3 1084.9 116.5 1084.9 117.7 1084.9 118.9 1084.9 120.1 1084.9 121.4 1084.9 122.6 1084.9 123.8 1084.9 125.0 1084.9 126.2 1084.9 127.4 1084.9 128.6 1084.9 129.9 1084.9 131.1 1084.9 132.3 1084.9 133.5 1084.9 134.7 1084.9 135.9 1084.9 137.1 1084.9 138.4 1084.9 139.6 1084.9 140.8 1084.9 142.0 1084.9 143.2 1084.9 144.4 1084.9 145.6 1084.9 146.9 1084.9 148.1 1084.9 149.3 1084.9 150.5 1084.9 151.7 1084.9 152.9 1084.9 154.1 1084.9 155.4 1084.8 156.6 1084.8 157.8 1084.8 159.0 1084.8 160.2 1084.8 161.4 1084.8 162.6 1084.8 163.9 1084.8 165.1 1084.8 166.3 1084.8 167.5 1084.8 168.7 1084.8 169.9 1084.8 171.1 1084.8 172.4 1084.8 173.6 1084.8 174.8 1084.8 176.0 1084.8 177.2 1084.8 178.4 1084.8 179.6 1084.8 180.9 1084.8 182.1 1084.8 183.3 1084.8 184.5 1084.8 185.7 1084.8 186.9 1084.8 188.1 1084.8 189.4 1084.8 190.6 1084.8 191.8 1084.8 193.0 1084.8 194.2 1084.8 195.4 1084.8 196.6 1084.8 197.9 1084.8 199.1 1084.8 200.3 1084.8 201.5 1084.8 202.7 1084.8 203.9 1084.8 205.1 1084.8 206.4 1084.8 207.6 1084.8 208.8 1084.8 210.0 1084.8 211.2 1084.7 212.4 1084.7 213.6 1084.7 214.9 1084.7 216.1 1084.7 217.3 1084.7 218.5 1084.7 219.7 1084.7 220.9 1084.7 222.1 1084.7 223.4 1084.7 224.6 1084.7 225.8 1084.7 227.0 1084.7 228.2 1084.7 229.4 1084.7 230.6 1084.7 231.9 1084.7 233.1 1084.7 234.3 1084.7 235.5 1084.7 236.7 1084.7 237.9 1084.7 239.1 1084.7 240.4 1084.7 241.6 1084.6 242.8 1084.6 244.0 1084.6 245.2 1084.6 246.4 1084.6 247.6 1084.6 248.9 1084.6 250.1 1084.6 251.3 1084.6 252.5 1084.6 253.7 1084.6 254.9 1084.6 256.1 1084.6 257.4 1084.6 258.6 1084.6 259.8 1084.6 261.0 1084.5 262.2 1084.5 263.4 1084.5 264.6 1084.5 265.9 1084.5 267.1 1084.5 268.3 1084.5 269.5 1084.5 270.7 1084.5 271.9 1084.5 273.1 1084.5 274.4 1084.4 275.6 1084.4 276.8 1084.4 278.0 1084.4 279.2 1084.4 280.4 1084.4 281.6 1084.4 282.9 1084.4 284.1 1084.3 285.3 1084.3 286.5 1084.3 287.7 1084.3 288.9 1084.3 290.1 1084.2 291.4 1084.2 292.6 1084.2 293.8 1084.2 295.0 1084.1 296.2 1084.1 297.4 1084.1 298.6 1084.0 299.9 1084.0 301.1 1083.9 302.3 1083.9 303.5 1083.8 304.7 1083.8 305.9 1083.7 307.1 1083.6 308.4 1083.6 309.6 1083.5 310.8 1083.4 312.0 1083.3 313.2 1083.2 314.4 1083.1 315.6 1082.9 316.9 1082.8 318.1 1082.6 319.3 1082.5 320.5 1082.3 321.7 1082.1 322.9 1081.9 324.1 1081.7 325.4 1081.4 326.6 1081.2 327.8 1080.9 329.0 1080.6 330.2 1080.3 331.4 1079.9 332.6 1079.6 333.9 1079.2 335.1 1078.8 336.3 1078.3 337.5 1077.9 338.7 1077.4 339.9 1076.8 341.1 1076.3 342.4 1075.7 343.6 1075.1 344.8 1074.4 346.0 1073.7 347.2 1073.0 348.4 1072.3 349.6 1071.5 350.9 1070.7 352.1 1069.8 353.3 1069.0 354.5 1068.1 355.7 1067.1 356.9 1066.2 358.1 1065.2 359.4 1064.2 360.6 1063.1 361.8 1062.1 363.0 1061.0 364.2 1059.9 365.4 1058.8 366.6 1057.6 367.9 1056.5 369.1 1055.4 370.3 1054.2 371.5 1053.1 372.7 1051.9 373.9 1050.8 375.1 1049.6 376.4 1048.5 377.6 1047.4 378.8 1046.4 380.0 1045.3 381.2 1044.3 382.4 1043.4 383.6 1042.4 384.9 1041.6 386.1 1040.7 387.3 1040.0 388.5 1039.3 389.7 1038.6 390.9 1038.0 392.1 1037.5 393.4 1037.1 394.6 1036.7 395.8 1036.4 397.0 1036.2 398.2 1036.1 399.4 1036.0 400.6 1036.1 401.9 1036.2 403.1 1036.4 404.3 1036.7 405.5 1037.0 406.7 1037.4 407.9 1037.9 409.1 1038.5 410.4 1039.2 411.6 1039.9 412.8 1040.6 414.0 1041.5 415.2 1042.3 416.4 1043.3 417.6 1044.2 418.9 1045.2 420.1 1046.3 421.3 1047.3 422.5 1048.4 423.7 1049.5 424.9 1050.6 426.1 1051.8 427.4 1052.9 428.6 1054.1 429.8 1055.2 431.0 1056.4 432.2 1057.5 433.4 1058.6 434.6 1059.7 435.9 1060.8 437.1 1061.9 438.3 1063.0 439.5 1064.0 440.7 1065.1 441.9 1066.1 443.1 1067.0 444.4 1068.0 445.6 1068.9 446.8 1069.7 448.0 1070.6 449.2 1071.4 450.4 1072.2 451.6 1072.9 452.9 1073.7 454.1 1074.3 455.3 1075.0 456.5 1075.6 457.7 1076.2 458.9 1076.8 460.1 1077.3 461.4 1077.8 462.6 1078.3 463.8 1078.7 465.0 1079.1 466.2 1079.5 467.4 1079.9 468.6 1080.2 469.9 1080.6 471.1 1080.9 472.3 1081.1 473.5 1081.4 474.7 1081.6 475.9 1081.9 477.1 1082.1 478.4 1082.3 479.6 1082.5 480.8 1082.6 482.0 1082.8 483.2 1082.9 484.4 1083.0 485.6 1083.2 486.9 1083.3 488.1 1083.4 489.3 1083.5 490.5 1083.5 491.7 1083.6 492.9 1083.7 494.1 1083.8 495.4 1083.8 496.6 1083.9 497.8 1083.9 499.0 1084.0 500.2 1084.0 501.4 1084.1 502.6 1084.1 503.9 1084.1 505.1 1084.2 506.3 1084.2 507.5 1084.2 508.7 1084.2 509.9 1084.3 511.1 1084.3 512.4 1084.3 513.6 1084.3 514.8 1084.3 516.0 1084.4 517.2 1084.4 518.4 1084.4 519.6 1084.4 520.9 1084.4 522.1 1084.4 523.3 1084.4 524.5 1084.4 525.7 1084.5 526.9 1084.5 528.1 1084.5 529.4 1084.5 530.6 1084.5 531.8 1084.5 533.0 1084.5 534.2 1084.5 535.4 1084.5 536.6 1084.5 537.9 1084.5 539.1 1084.6 540.3 1084.6 541.5 1084.6 542.7 1084.6 543.9 1084.6 545.1 1084.6 546.4 1084.6 547.6 1084.6 548.8 1084.6 550.0 1084.6 551.2 1084.6 552.4 1084.6 553.6 1084.6 554.9 1084.6 556.1 1084.6 557.3 1084.6 558.5 1084.7 559.7 1084.7 560.9 1084.7 562.1 1084.7 563.4 1084.7 564.6 1084.7 565.8 1084.7 567.0 1084.7 568.2 1084.7 569.4 1084.7 570.6 1084.7 571.9 1084.7 573.1 1084.7 574.3 1084.7 575.5 1084.7 576.7 1084.7 577.9 1084.7 579.1 1084.7 580.4 1084.7 581.6 1084.7 582.8 1084.7 584.0 1084.7 585.2 1084.7 586.4 1084.7 587.6 1084.7 588.9 1084.8 590.1 1084.8 591.3 1084.8 592.5 1084.8 593.7 1084.8 594.9 1084.8 596.1 1084.8 597.4 1084.8 598.6 1084.8 599.8 1084.8 601.0 1084.8 602.2 1084.8 603.4 1084.8 604.6 1084.8 605.9 1084.8 607.1 1084.8 608.3 1084.8 609.5 1084.8 610.7 1084.8 611.9 1084.8 613.1 1084.8 614.4 1084.8 615.6 1084.8 616.8 1084.8 618.0 1084.8 619.2 1084.8 620.4 1084.8 621.6 1084.8 622.9 1084.8 624.1 1084.8 625.3 1084.8 626.5 1084.8 627.7 1084.8 628.9 1084.8 630.1 1084.8 631.4 1084.8 632.6 1084.8 633.8 1084.8 635.0 1084.8 636.2 1084.8 637.4 1084.8 638.6 1084.8 639.9 1084.8 641.1 1084.8 642.3 1084.8 643.5 1084.8 644.7 1084.9 645.9 1084.9 647.1 1084.9 648.4 1084.9 649.6 1084.9 650.8 1084.9 652.0 1084.9 653.2 1084.9 654.4 1084.9 655.6 1084.9 656.9 1084.9 658.1 1084.9 659.3 1084.9 660.5 1084.9 661.7 1084.9 662.9 1084.9 664.1 1084.9 665.4 1084.9 666.6 1084.9 667.8 1084.9 669.0 1084.9 670.2 1084.9 671.4 1084.9 672.6 1084.9 673.9 1084.9 675.1 1084.9 676.3 1084.9 677.5 1084.9 678.7 1084.9 679.9 1084.9 681.1 1084.9 682.4 1084.9 683.6 1084.9 684.8 1084.9 686.0 1084.9 687.2 1084.9 688.4 1084.9 689.6 1084.9 690.9 1084.9 692.1 1084.9 693.3 1084.9 694.5 1084.9 695.7 1084.9 696.9 1084.9 698.1 1084.9 699.4 1084.9 700.6 1084.9 701.8 1084.9 703.0 1084.9 704.2 1084.9 705.4 1084.9 706.6 1084.9 707.9 1084.9 709.1 1084.9 710.3 1084.9 711.5 1084.9 712.7 1084.9 713.9 1084.9 715.1 1084.9 716.4 1084.9 717.6 1084.9 718.8 1084.9 720.0 1084.9 721.2 1084.9 722.4 1084.9 723.6 1084.9 724.9 1084.9 726.1 1084.9 727.3 1084.9 728.5 1084.9 729.7 1084.9 730.9 1084.9 732.1 1084.9 733.4 1084.9 734.6 1084.9 735.8 1084.9 737.0 1084.9 738.2 1084.9 739.4 1084.9 740.6 1084.9 741.9 1084.9 743.1 1084.9 744.3 1084.9 745.5 1084.9 746.7 1084.9 747.9 1084.9 749.1 1084.9 750.4 1084.9 751.6 1084.9 752.8 1084.9 754.0 1084.9 755.2 1084.9 756.4 1084.9 757.6 1084.9 758.9 1084.9 760.1 1084.9 761.3 1084.9 762.5 1084.9 763.7 1084.9 764.9 1084.9 766.1 1084.9 767.4 1084.9 768.6 1084.9 769.8 1084.9 771.0 1084.9 772.2 1084.9 773.4 1084.9 774.6 1084.9 775.9 1084.9 777.1 1084.9 778.3 1084.9 779.5 1084.9 780.7 1084.9 781.9 1084.9 783.1 1084.9 784.4 1084.9 785.6 1084.9 786.8 1084.9 788.0 1084.9 789.2 1084.9 790.4 1084.9 791.6 1084.9 792.9 1084.9 794.1 1084.9 795.3 1084.9 796.5 1084.9 797.7 1084.9 798.9 1084.9 800.1 1084.9 801.4 1084.9 802.6 1084.9 803.8 1084.9 805.0 1084.9 806.2 1084.9 807.4 1084.9 808.6 1084.9 809.9 1084.9 811.1 1084.9 812.3 1084.9 813.5 1084.9 814.7 1084.9 815.9 1084.9 817.1 1084.9 818.4 1084.9 819.6 1084.9 820.8 1084.9 822.0 1084.9 823.2 1084.9 824.4 1084.9 825.6 1084.9 826.9 1084.9 828.1 1085.0 829.3 1085.0 830.5 1085.0 831.7 1085.0 832.9 1085.0" fill="none" stroke="#fa8a14" stroke-width="3.6" stroke-linejoin="round"/><path d="M67.9 1085.0 69.1 1085.0 70.4 1085.0 71.6 1085.0 72.8 1085.0 74.0 1085.0 75.2 1085.0 76.4 1085.0 77.6 1085.0 78.9 1085.0 80.1 1085.0 81.3 1085.0 82.5 1085.0 83.7 1085.0 84.9 1085.0 86.1 1085.0 87.4 1085.0 88.6 1085.0 89.8 1085.0 91.0 1085.0 92.2 1085.0 93.4 1085.0 94.6 1085.0 95.9 1085.0 97.1 1085.0 98.3 1085.0 99.5 1085.0 100.7 1085.0 101.9 1085.0 103.1 1085.0 104.4 1085.0 105.6 1085.0 106.8 1085.0 108.0 1085.0 109.2 1085.0 110.4 1085.0 111.6 1085.0 112.9 1085.0 114.1 1085.0 115.3 1085.0 116.5 1085.0 117.7 1085.0 118.9 1085.0 120.1 1085.0 121.4 1085.0 122.6 1085.0 123.8 1085.0 125.0 1085.0 126.2 1085.0 127.4 1085.0 128.6 1085.0 129.9 1085.0 131.1 1085.0 132.3 1085.0 133.5 1085.0 134.7 1085.0 135.9 1085.0 137.1 1085.0 138.4 1085.0 139.6 1085.0 140.8 1085.0 142.0 1085.0 143.2 1085.0 144.4 1085.0 145.6 1085.0 146.9 1085.0 148.1 1085.0 149.3 1085.0 150.5 1085.0 151.7 1085.0 152.9 1085.0 154.1 1085.0 155.4 1085.0 156.6 1085.0 157.8 1085.0 159.0 1085.0 160.2 1085.0 161.4 1085.0 162.6 1085.0 163.9 1085.0 165.1 1085.0 166.3 1085.0 167.5 1085.0 168.7 1085.0 169.9 1085.0 171.1 1085.0 172.4 1085.0 173.6 1085.0 174.8 1085.0 176.0 1085.0 177.2 1085.0 178.4 1085.0 179.6 1085.0 180.9 1085.0 182.1 1085.0 183.3 1085.0 184.5 1085.0 185.7 1085.0 186.9 1085.0 188.1 1085.0 189.4 1085.0 190.6 1085.0 191.8 1085.0 193.0 1085.0 194.2 1085.0 195.4 1085.0 196.6 1085.0 197.9 1085.0 199.1 1085.0 200.3 1085.0 201.5 1085.0 202.7 1085.0 203.9 1085.0 205.1 1085.0 206.4 1085.0 207.6 1085.0 208.8 1085.0 210.0 1085.0 211.2 1085.0 212.4 1085.0 213.6 1085.0 214.9 1085.0 216.1 1085.0 217.3 1085.0 218.5 1085.0 219.7 1085.0 220.9 1085.0 222.1 1085.0 223.4 1085.0 224.6 1085.0 225.8 1085.0 227.0 1085.0 228.2 1085.0 229.4 1085.0 230.6 1085.0 231.9 1085.0 233.1 1085.0 234.3 1085.0 235.5 1085.0 236.7 1085.0 237.9 1085.0 239.1 1085.0 240.4 1085.0 241.6 1085.0 242.8 1085.0 244.0 1085.0 245.2 1085.0 246.4 1085.0 247.6 1085.0 248.9 1085.0 250.1 1085.0 251.3 1085.0 252.5 1085.0 253.7 1085.0 254.9 1085.0 256.1 1085.0 257.4 1085.0 258.6 1085.0 259.8 1085.0 261.0 1085.0 262.2 1085.0 263.4 1085.0 264.6 1085.0 265.9 1085.0 267.1 1085.0 268.3 1085.0 269.5 1085.0 270.7 1085.0 271.9 1085.0 273.1 1085.0 274.4 1085.0 275.6 1085.0 276.8 1085.0 278.0 1085.0 279.2 1085.0 280.4 1085.0 281.6 1085.0 282.9 1085.0 284.1 1085.0 285.3 1085.0 286.5 1085.0 287.7 1085.0 288.9 1085.0 290.1 1085.0 291.4 1085.0 292.6 1085.0 293.8 1085.0 295.0 1085.0 296.2 1085.0 297.4 1085.0 298.6 1085.0 299.9 1085.0 301.1 1085.0 302.3 1085.0 303.5 1085.0 304.7 1085.0 305.9 1085.0 307.1 1085.0 308.4 1085.0 309.6 1085.0 310.8 1085.0 312.0 1085.0 313.2 1085.0 314.4 1085.0 315.6 1085.0 316.9 1085.0 318.1 1085.0 319.3 1085.0 320.5 1085.0 321.7 1085.0 322.9 1085.0 324.1 1085.0 325.4 1085.0 326.6 1085.0 327.8 1085.0 329.0 1085.0 330.2 1085.0 331.4 1085.0 332.6 1085.0 333.9 1085.0 335.1 1085.0 336.3 1085.0 337.5 1085.0 338.7 1085.0 339.9 1085.0 341.1 1085.0 342.4 1085.0 343.6 1085.0 344.8 1085.0 346.0 1085.0 347.2 1085.0 348.4 1085.0 349.6 1085.0 350.9 1085.0 352.1 1085.0 353.3 1085.0 354.5 1085.0 355.7 1085.0 356.9 1085.0 358.1 1085.0 359.4 1085.0 360.6 1085.0 361.8 1085.0 363.0 1085.0 364.2 1085.0 365.4 1085.0 366.6 1085.0 367.9 1085.0 369.1 1085.0 370.3 1085.0 371.5 1085.0 372.7 1085.0 373.9 1085.0 375.1 1084.9 376.4 1084.9 377.6 1084.9 378.8 1084.9 380.0 1084.9 381.2 1084.9 382.4 1084.8 383.6 1084.8 384.9 1084.7 386.1 1084.7 387.3 1084.6 388.5 1084.5 389.7 1084.4 390.9 1084.3 392.1 1084.2 393.4 1084.1 394.6 1083.9 395.8 1083.7 397.0 1083.5 398.2 1083.2 399.4 1082.9 400.6 1082.6 401.9 1082.2 403.1 1081.8 404.3 1081.3 405.5 1080.8 406.7 1080.2 407.9 1079.6 409.1 1078.9 410.4 1078.1 411.6 1077.3 412.8 1076.4 414.0 1075.4 415.2 1074.4 416.4 1073.2 417.6 1072.1 418.9 1070.8 420.1 1069.5 421.3 1068.1 422.5 1066.7 423.7 1065.2 424.9 1063.6 426.1 1062.1 427.4 1060.5 428.6 1058.8 429.8 1057.2 431.0 1055.6 432.2 1054.0 433.4 1052.5 434.6 1051.0 435.9 1049.5 437.1 1048.1 438.3 1046.8 439.5 1045.7 440.7 1044.6 441.9 1043.6 443.1 1042.8 444.4 1042.1 445.6 1041.6 446.8 1041.2 448.0 1040.9 449.2 1040.9 450.4 1041.0 451.6 1041.2 452.9 1041.6 454.1 1042.2 455.3 1042.9 456.5 1043.7 457.7 1044.7 458.9 1045.8 460.1 1047.0 461.4 1048.3 462.6 1049.7 463.8 1051.1 465.0 1052.7 466.2 1054.2 467.4 1055.8 468.6 1057.4 469.9 1059.0 471.1 1060.7 472.3 1062.2 473.5 1063.8 474.7 1065.3 475.9 1066.8 477.1 1068.3 478.4 1069.6 479.6 1071.0 480.8 1072.2 482.0 1073.4 483.2 1074.5 484.4 1075.5 485.6 1076.5 486.9 1077.4 488.1 1078.2 489.3 1079.0 490.5 1079.7 491.7 1080.3 492.9 1080.9 494.1 1081.4 495.4 1081.9 496.6 1082.3 497.8 1082.6 499.0 1083.0 500.2 1083.2 501.4 1083.5 502.6 1083.7 503.9 1083.9 505.1 1084.1 506.3 1084.2 507.5 1084.3 508.7 1084.5 509.9 1084.5 511.1 1084.6 512.4 1084.7 513.6 1084.7 514.8 1084.8 516.0 1084.8 517.2 1084.9 518.4 1084.9 519.6 1084.9 520.9 1084.9 522.1 1084.9 523.3 1085.0 524.5 1085.0 525.7 1085.0 526.9 1085.0 528.1 1085.0 529.4 1085.0 530.6 1085.0 531.8 1085.0 533.0 1085.0 534.2 1085.0 535.4 1085.0 536.6 1085.0 537.9 1085.0 539.1 1085.0 540.3 1085.0 541.5 1085.0 542.7 1085.0 543.9 1085.0 545.1 1085.0 546.4 1085.0 547.6 1085.0 548.8 1085.0 550.0 1085.0 551.2 1085.0 552.4 1085.0 553.6 1085.0 554.9 1085.0 556.1 1085.0 557.3 1085.0 558.5 1085.0 559.7 1085.0 560.9 1085.0 562.1 1085.0 563.4 1085.0 564.6 1085.0 565.8 1085.0 567.0 1085.0 568.2 1085.0 569.4 1085.0 570.6 1085.0 571.9 1085.0 573.1 1085.0 574.3 1085.0 575.5 1085.0 576.7 1085.0 577.9 1085.0 579.1 1085.0 580.4 1085.0 581.6 1085.0 582.8 1085.0 584.0 1085.0 585.2 1085.0 586.4 1085.0 587.6 1085.0 588.9 1085.0 590.1 1085.0 591.3 1085.0 592.5 1085.0 593.7 1085.0 594.9 1085.0 596.1 1085.0 597.4 1085.0 598.6 1085.0 599.8 1085.0 601.0 1085.0 602.2 1085.0 603.4 1085.0 604.6 1085.0 605.9 1085.0 607.1 1085.0 608.3 1085.0 609.5 1085.0 610.7 1085.0 611.9 1085.0 613.1 1085.0 614.4 1085.0 615.6 1085.0 616.8 1085.0 618.0 1085.0 619.2 1085.0 620.4 1085.0 621.6 1085.0 622.9 1085.0 624.1 1085.0 625.3 1085.0 626.5 1085.0 627.7 1085.0 628.9 1085.0 630.1 1085.0 631.4 1085.0 632.6 1085.0 633.8 1085.0 635.0 1085.0 636.2 1085.0 637.4 1085.0 638.6 1085.0 639.9 1085.0 641.1 1085.0 642.3 1085.0 643.5 1085.0 644.7 1085.0 645.9 1085.0 647.1 1085.0 648.4 1085.0 649.6 1085.0 650.8 1085.0 652.0 1085.0 653.2 1085.0 654.4 1085.0 655.6 1085.0 656.9 1085.0 658.1 1085.0 659.3 1085.0 660.5 1085.0 661.7 1085.0 662.9 1085.0 664.1 1085.0 665.4 1085.0 666.6 1085.0 667.8 1085.0 669.0 1085.0 670.2 1085.0 671.4 1085.0 672.6 1085.0 673.9 1085.0 675.1 1085.0 676.3 1085.0 677.5 1085.0 678.7 1085.0 679.9 1085.0 681.1 1085.0 682.4 1085.0 683.6 1085.0 684.8 1085.0 686.0 1085.0 687.2 1085.0 688.4 1085.0 689.6 1085.0 690.9 1085.0 692.1 1085.0 693.3 1085.0 694.5 1085.0 695.7 1085.0 696.9 1085.0 698.1 1085.0 699.4 1085.0 700.6 1085.0 701.8 1085.0 703.0 1085.0 704.2 1085.0 705.4 1085.0 706.6 1085.0 707.9 1085.0 709.1 1085.0 710.3 1085.0 711.5 1085.0 712.7 1085.0 713.9 1085.0 715.1 1085.0 716.4 1085.0 717.6 1085.0 718.8 1085.0 720.0 1085.0 721.2 1085.0 722.4 1085.0 723.6 1085.0 724.9 1085.0 726.1 1085.0 727.3 1085.0 728.5 1085.0 729.7 1085.0 730.9 1085.0 732.1 1085.0 733.4 1085.0 734.6 1085.0 735.8 1085.0 737.0 1085.0 738.2 1085.0 739.4 1085.0 740.6 1085.0 741.9 1085.0 743.1 1085.0 744.3 1085.0 745.5 1085.0 746.7 1085.0 747.9 1085.0 749.1 1085.0 750.4 1085.0 751.6 1085.0 752.8 1085.0 754.0 1085.0 755.2 1085.0 756.4 1085.0 757.6 1085.0 758.9 1085.0 760.1 1085.0 761.3 1085.0 762.5 1085.0 763.7 1085.0 764.9 1085.0 766.1 1085.0 767.4 1085.0 768.6 1085.0 769.8 1085.0 771.0 1085.0 772.2 1085.0 773.4 1085.0 774.6 1085.0 775.9 1085.0 777.1 1085.0 778.3 1085.0 779.5 1085.0 780.7 1085.0 781.9 1085.0 783.1 1085.0 784.4 1085.0 785.6 1085.0 786.8 1085.0 788.0 1085.0 789.2 1085.0 790.4 1085.0 791.6 1085.0 792.9 1085.0 794.1 1085.0 795.3 1085.0 796.5 1085.0 797.7 1085.0 798.9 1085.0 800.1 1085.0 801.4 1085.0 802.6 1085.0 803.8 1085.0 805.0 1085.0 806.2 1085.0 807.4 1085.0 808.6 1085.0 809.9 1085.0 811.1 1085.0 812.3 1085.0 813.5 1085.0 814.7 1085.0 815.9 1085.0 817.1 1085.0 818.4 1085.0 819.6 1085.0 820.8 1085.0 822.0 1085.0 823.2 1085.0 824.4 1085.0 825.6 1085.0 826.9 1085.0 828.1 1085.0 829.3 1085.0 830.5 1085.0 831.7 1085.0 832.9 1085.0" fill="none" stroke="#808000" stroke-width="3.6" stroke-linejoin="round"/><path d="M67.9 1084.9 69.1 1084.9 70.4 1084.9 71.6 1084.9 72.8 1084.9 74.0 1084.9 75.2 1084.9 76.4 1084.9 77.6 1084.9 78.9 1084.9 80.1 1084.9 81.3 1084.9 82.5 1084.9 83.7 1084.9 84.9 1084.9 86.1 1084.9 87.4 1084.9 88.6 1084.9 89.8 1084.9 91.0 1084.9 92.2 1084.9 93.4 1084.9 94.6 1084.9 95.9 1084.9 97.1 1084.9 98.3 1084.9 99.5 1084.9 100.7 1084.9 101.9 1084.9 103.1 1084.9 104.4 1084.9 105.6 1084.9 106.8 1084.9 108.0 1084.8 109.2 1084.8 110.4 1084.8 111.6 1084.8 112.9 1084.8 114.1 1084.8 115.3 1084.8 116.5 1084.8 117.7 1084.8 118.9 1084.8 120.1 1084.8 121.4 1084.8 122.6 1084.8 123.8 1084.8 125.0 1084.8 126.2 1084.8 127.4 1084.8 128.6 1084.8 129.9 1084.8 131.1 1084.8 132.3 1084.8 133.5 1084.8 134.7 1084.8 135.9 1084.8 137.1 1084.8 138.4 1084.8 139.6 1084.8 140.8 1084.8 142.0 1084.8 143.2 1084.8 144.4 1084.8 145.6 1084.8 146.9 1084.8 148.1 1084.8 149.3 1084.8 150.5 1084.8 151.7 1084.8 152.9 1084.8 154.1 1084.8 155.4 1084.8 156.6 1084.8 157.8 1084.8 159.0 1084.8 160.2 1084.8 161.4 1084.8 162.6 1084.8 163.9 1084.8 165.1 1084.8 166.3 1084.8 167.5 1084.8 168.7 1084.8 169.9 1084.8 171.1 1084.8 172.4 1084.8 173.6 1084.8 174.8 1084.8 176.0 1084.8 177.2 1084.8 178.4 1084.8 179.6 1084.8 180.9 1084.8 182.1 1084.8 183.3 1084.8 184.5 1084.8 185.7 1084.8 186.9 1084.8 188.1 1084.8 189.4 1084.8 190.6 1084.8 191.8 1084.8 193.0 1084.8 194.2 1084.8 195.4 1084.8 196.6 1084.8 197.9 1084.8 199.1 1084.8 200.3 1084.8 201.5 1084.8 202.7 1084.8 203.9 1084.8 205.1 1084.8 206.4 1084.8 207.6 1084.8 208.8 1084.8 210.0 1084.8 211.2 1084.8 212.4 1084.8 213.6 1084.8 214.9 1084.8 216.1 1084.8 217.3 1084.8 218.5 1084.8 219.7 1084.8 220.9 1084.8 222.1 1084.8 223.4 1084.8 224.6 1084.8 225.8 1084.7 227.0 1084.7 228.2 1084.7 229.4 1084.7 230.6 1084.7 231.9 1084.7 233.1 1084.7 234.3 1084.7 235.5 1084.7 236.7 1084.7 237.9 1084.7 239.1 1084.7 240.4 1084.7 241.6 1084.7 242.8 1084.7 244.0 1084.7 245.2 1084.7 246.4 1084.7 247.6 1084.7 248.9 1084.7 250.1 1084.7 251.3 1084.7 252.5 1084.7 253.7 1084.7 254.9 1084.7 256.1 1084.7 257.4 1084.7 258.6 1084.7 259.8 1084.7 261.0 1084.7 262.2 1084.7 263.4 1084.7 264.6 1084.7 265.9 1084.7 267.1 1084.7 268.3 1084.7 269.5 1084.7 270.7 1084.7 271.9 1084.7 273.1 1084.7 274.4 1084.7 275.6 1084.7 276.8 1084.7 278.0 1084.7 279.2 1084.7 280.4 1084.7 281.6 1084.7 282.9 1084.7 284.1 1084.7 285.3 1084.7 286.5 1084.7 287.7 1084.7 288.9 1084.6 290.1 1084.6 291.4 1084.6 292.6 1084.6 293.8 1084.6 295.0 1084.6 296.2 1084.6 297.4 1084.6 298.6 1084.6 299.9 1084.6 301.1 1084.6 302.3 1084.6 303.5 1084.6 304.7 1084.6 305.9 1084.6 307.1 1084.6 308.4 1084.6 309.6 1084.6 310.8 1084.6 312.0 1084.6 313.2 1084.6 314.4 1084.6 315.6 1084.6 316.9 1084.6 318.1 1084.6 319.3 1084.6 320.5 1084.6 321.7 1084.6 322.9 1084.6 324.1 1084.6 325.4 1084.6 326.6 1084.6 327.8 1084.6 329.0 1084.5 330.2 1084.5 331.4 1084.5 332.6 1084.5 333.9 1084.5 335.1 1084.5 336.3 1084.5 337.5 1084.5 338.7 1084.5 339.9 1084.5 341.1 1084.5 342.4 1084.5 343.6 1084.5 344.8 1084.5 346.0 1084.5 347.2 1084.5 348.4 1084.5 349.6 1084.5 350.9 1084.5 352.1 1084.5 353.3 1084.5 354.5 1084.5 355.7 1084.5 356.9 1084.5 358.1 1084.5 359.4 1084.4 360.6 1084.4 361.8 1084.4 363.0 1084.4 364.2 1084.4 365.4 1084.4 366.6 1084.4 367.9 1084.4 369.1 1084.4 370.3 1084.4 371.5 1084.4 372.7 1084.4 373.9 1084.4 375.1 1084.4 376.4 1084.4 377.6 1084.4 378.8 1084.4 380.0 1084.4 381.2 1084.3 382.4 1084.3 383.6 1084.3 384.9 1084.3 386.1 1084.3 387.3 1084.3 388.5 1084.3 389.7 1084.3 390.9 1084.3 392.1 1084.3 393.4 1084.3 394.6 1084.3 395.8 1084.3 397.0 1084.2 398.2 1084.2 399.4 1084.2 400.6 1084.2 401.9 1084.2 403.1 1084.2 404.3 1084.2 405.5 1084.2 406.7 1084.2 407.9 1084.2 409.1 1084.2 410.4 1084.1 411.6 1084.1 412.8 1084.1 414.0 1084.1 415.2 1084.1 416.4 1084.1 417.6 1084.1 418.9 1084.1 420.1 1084.0 421.3 1084.0 422.5 1084.0 423.7 1084.0 424.9 1084.0 426.1 1084.0 427.4 1083.9 428.6 1083.9 429.8 1083.9 431.0 1083.9 432.2 1083.9 433.4 1083.8 434.6 1083.8 435.9 1083.8 437.1 1083.8 438.3 1083.7 439.5 1083.7 440.7 1083.7 441.9 1083.6 443.1 1083.6 444.4 1083.6 445.6 1083.5 446.8 1083.5 448.0 1083.5 449.2 1083.4 450.4 1083.4 451.6 1083.3 452.9 1083.3 454.1 1083.2 455.3 1083.2 456.5 1083.1 457.7 1083.1 458.9 1083.0 460.1 1082.9 461.4 1082.9 462.6 1082.8 463.8 1082.7 465.0 1082.7 466.2 1082.6 467.4 1082.5 468.6 1082.4 469.9 1082.3 471.1 1082.2 472.3 1082.1 473.5 1082.0 474.7 1081.9 475.9 1081.8 477.1 1081.6 478.4 1081.5 479.6 1081.4 480.8 1081.2 482.0 1081.1 483.2 1080.9 484.4 1080.7 485.6 1080.6 486.9 1080.4 488.1 1080.2 489.3 1080.0 490.5 1079.8 491.7 1079.6 492.9 1079.4 494.1 1079.1 495.4 1078.9 496.6 1078.6 497.8 1078.4 499.0 1078.1 500.2 1077.8 501.4 1077.5 502.6 1077.2 503.9 1076.9 505.1 1076.6 506.3 1076.2 507.5 1075.9 508.7 1075.5 509.9 1075.1 511.1 1074.7 512.4 1074.3 513.6 1073.9 514.8 1073.5 516.0 1073.0 517.2 1072.5 518.4 1072.1 519.6 1071.6 520.9 1071.0 522.1 1070.5 523.3 1070.0 524.5 1069.4 525.7 1068.9 526.9 1068.3 528.1 1067.7 529.4 1067.0 530.6 1066.4 531.8 1065.8 533.0 1065.1 534.2 1064.4 535.4 1063.7 536.6 1063.0 537.9 1062.3 539.1 1061.5 540.3 1060.7 541.5 1060.0 542.7 1059.2 543.9 1058.4 545.1 1057.6 546.4 1056.7 547.6 1055.9 548.8 1055.0 550.0 1054.1 551.2 1053.3 552.4 1052.4 553.6 1051.5 554.9 1050.5 556.1 1049.6 557.3 1048.7 558.5 1047.7 559.7 1046.8 560.9 1045.8 562.1 1044.9 563.4 1043.9 564.6 1042.9 565.8 1041.9 567.0 1040.9 568.2 1039.9 569.4 1039.0 570.6 1038.0 571.9 1037.0 573.1 1036.0 574.3 1035.0 575.5 1034.0 576.7 1033.0 577.9 1032.1 579.1 1031.1 580.4 1030.1 581.6 1029.2 582.8 1028.3 584.0 1027.3 585.2 1026.4 586.4 1025.5 587.6 1024.6 588.9 1023.8 590.1 1022.9 591.3 1022.1 592.5 1021.3 593.7 1020.5 594.9 1019.7 596.1 1019.0 597.4 1018.3 598.6 1017.6 599.8 1016.9 601.0 1016.3 602.2 1015.7 603.4 1015.1 604.6 1014.6 605.9 1014.1 607.1 1013.6 608.3 1013.1 609.5 1012.7 610.7 1012.4 611.9 1012.0 613.1 1011.7 614.4 1011.5 615.6 1011.2 616.8 1011.1 618.0 1010.9 619.2 1010.8 620.4 1010.8 621.6 1010.7 622.9 1010.8 624.1 1010.8 625.3 1010.9 626.5 1011.0 627.7 1011.2 628.9 1011.4 630.1 1011.7 631.4 1012.0 632.6 1012.3 633.8 1012.7 635.0 1013.1 636.2 1013.5 637.4 1014.0 638.6 1014.5 639.9 1015.0 641.1 1015.6 642.3 1016.2 643.5 1016.8 644.7 1017.5 645.9 1018.2 647.1 1018.9 648.4 1019.6 649.6 1020.4 650.8 1021.2 652.0 1022.0 653.2 1022.8 654.4 1023.7 655.6 1024.5 656.9 1025.4 658.1 1026.3 659.3 1027.2 660.5 1028.1 661.7 1029.1 662.9 1030.0 664.1 1031.0 665.4 1031.9 666.6 1032.9 667.8 1033.9 669.0 1034.9 670.2 1035.9 671.4 1036.8 672.6 1037.8 673.9 1038.8 675.1 1039.8 676.3 1040.8 677.5 1041.8 678.7 1042.8 679.9 1043.7 681.1 1044.7 682.4 1045.7 683.6 1046.7 684.8 1047.6 686.0 1048.6 687.2 1049.5 688.4 1050.4 689.6 1051.3 690.9 1052.2 692.1 1053.1 693.3 1054.0 694.5 1054.9 695.7 1055.8 696.9 1056.6 698.1 1057.4 699.4 1058.3 700.6 1059.1 701.8 1059.9 703.0 1060.6 704.2 1061.4 705.4 1062.2 706.6 1062.9 707.9 1063.6 709.1 1064.3 710.3 1065.0 711.5 1065.7 712.7 1066.3 713.9 1067.0 715.1 1067.6 716.4 1068.2 717.6 1068.8 718.8 1069.3 720.0 1069.9 721.2 1070.5 722.4 1071.0 723.6 1071.5 724.9 1072.0 726.1 1072.5 727.3 1072.9 728.5 1073.4 729.7 1073.8 730.9 1074.3 732.1 1074.7 733.4 1075.1 734.6 1075.4 735.8 1075.8 737.0 1076.2 738.2 1076.5 739.4 1076.9 740.6 1077.2 741.9 1077.5 743.1 1077.8 744.3 1078.1 745.5 1078.3 746.7 1078.6 747.9 1078.9 749.1 1079.1 750.4 1079.3 751.6 1079.6 752.8 1079.8 754.0 1080.0 755.2 1080.2 756.4 1080.4 757.6 1080.6 758.9 1080.7 760.1 1080.9 761.3 1081.0 762.5 1081.2 763.7 1081.3 764.9 1081.5 766.1 1081.6 767.4 1081.7 768.6 1081.9 769.8 1082.0 771.0 1082.1 772.2 1082.2 773.4 1082.3 774.6 1082.4 775.9 1082.5 777.1 1082.6 778.3 1082.6 779.5 1082.7 780.7 1082.8 781.9 1082.9 783.1 1082.9 784.4 1083.0 785.6 1083.1 786.8 1083.1 788.0 1083.2 789.2 1083.2 790.4 1083.3 791.6 1083.3 792.9 1083.4 794.1 1083.4 795.3 1083.5 796.5 1083.5 797.7 1083.5 798.9 1083.6 800.1 1083.6 801.4 1083.6 802.6 1083.7 803.8 1083.7 805.0 1083.7 806.2 1083.8 807.4 1083.8 808.6 1083.8 809.9 1083.8 811.1 1083.9 812.3 1083.9 813.5 1083.9 814.7 1083.9 815.9 1083.9 817.1 1084.0 818.4 1084.0 819.6 1084.0 820.8 1084.0 822.0 1084.0 823.2 1084.0 824.4 1084.1 825.6 1084.1 826.9 1084.1 828.1 1084.1 829.3 1084.1 830.5 1084.1 831.7 1084.1 832.9 1084.1" fill="none" stroke="#000080" stroke-width="3.6" stroke-linejoin="round"/><path d="M67.9 1084.5 69.1 1084.5 70.4 1084.5 71.6 1084.5 72.8 1084.5 74.0 1084.5 75.2 1084.5 76.4 1084.5 77.6 1084.5 78.9 1084.5 80.1 1084.5 81.3 1084.5 82.5 1084.5 83.7 1084.5 84.9 1084.5 86.1 1084.5 87.4 1084.5 88.6 1084.5 89.8 1084.5 91.0 1084.5 92.2 1084.5 93.4 1084.5 94.6 1084.5 95.9 1084.5 97.1 1084.5 98.3 1084.5 99.5 1084.5 100.7 1084.5 101.9 1084.5 103.1 1084.5 104.4 1084.5 105.6 1084.5 106.8 1084.5 108.0 1084.5 109.2 1084.5 110.4 1084.5 111.6 1084.5 112.9 1084.5 114.1 1084.5 115.3 1084.4 116.5 1084.4 117.7 1084.4 118.9 1084.4 120.1 1084.4 121.4 1084.4 122.6 1084.4 123.8 1084.4 125.0 1084.4 126.2 1084.4 127.4 1084.4 128.6 1084.4 129.9 1084.4 131.1 1084.4 132.3 1084.4 133.5 1084.4 134.7 1084.4 135.9 1084.4 137.1 1084.4 138.4 1084.4 139.6 1084.4 140.8 1084.4 142.0 1084.4 143.2 1084.4 144.4 1084.4 145.6 1084.4 146.9 1084.4 148.1 1084.4 149.3 1084.4 150.5 1084.4 151.7 1084.4 152.9 1084.4 154.1 1084.4 155.4 1084.4 156.6 1084.4 157.8 1084.4 159.0 1084.4 160.2 1084.3 161.4 1084.3 162.6 1084.3 163.9 1084.3 165.1 1084.3 166.3 1084.3 167.5 1084.3 168.7 1084.3 169.9 1084.3 171.1 1084.3 172.4 1084.3 173.6 1084.3 174.8 1084.3 176.0 1084.3 177.2 1084.3 178.4 1084.3 179.6 1084.3 180.9 1084.3 182.1 1084.3 183.3 1084.3 184.5 1084.3 185.7 1084.3 186.9 1084.3 188.1 1084.3 189.4 1084.3 190.6 1084.3 191.8 1084.3 193.0 1084.3 194.2 1084.3 195.4 1084.3 196.6 1084.2 197.9 1084.2 199.1 1084.2 200.3 1084.2 201.5 1084.2 202.7 1084.2 203.9 1084.2 205.1 1084.2 206.4 1084.2 207.6 1084.2 208.8 1084.2 210.0 1084.2 211.2 1084.2 212.4 1084.2 213.6 1084.2 214.9 1084.2 216.1 1084.2 217.3 1084.2 218.5 1084.2 219.7 1084.2 220.9 1084.2 222.1 1084.2 223.4 1084.2 224.6 1084.2 225.8 1084.1 227.0 1084.1 228.2 1084.1 229.4 1084.1 230.6 1084.1 231.9 1084.1 233.1 1084.1 234.3 1084.1 235.5 1084.1 236.7 1084.1 237.9 1084.1 239.1 1084.1 240.4 1084.1 241.6 1084.1 242.8 1084.1 244.0 1084.1 245.2 1084.1 246.4 1084.1 247.6 1084.1 248.9 1084.1 250.1 1084.0 251.3 1084.0 252.5 1084.0 253.7 1084.0 254.9 1084.0 256.1 1084.0 257.4 1084.0 258.6 1084.0 259.8 1084.0 261.0 1084.0 262.2 1084.0 263.4 1084.0 264.6 1084.0 265.9 1084.0 267.1 1084.0 268.3 1084.0 269.5 1084.0 270.7 1084.0 271.9 1083.9 273.1 1083.9 274.4 1083.9 275.6 1083.9 276.8 1083.9 278.0 1083.9 279.2 1083.9 280.4 1083.9 281.6 1083.9 282.9 1083.9 284.1 1083.9 285.3 1083.9 286.5 1083.9 287.7 1083.9 288.9 1083.9 290.1 1083.8 291.4 1083.8 292.6 1083.8 293.8 1083.8 295.0 1083.8 296.2 1083.8 297.4 1083.8 298.6 1083.8 299.9 1083.8 301.1 1083.8 302.3 1083.8 303.5 1083.8 304.7 1083.8 305.9 1083.7 307.1 1083.7 308.4 1083.7 309.6 1083.7 310.8 1083.7 312.0 1083.7 313.2 1083.7 314.4 1083.7 315.6 1083.7 316.9 1083.7 318.1 1083.7 319.3 1083.7 320.5 1083.6 321.7 1083.6 322.9 1083.6 324.1 1083.6 325.4 1083.6 326.6 1083.6 327.8 1083.6 329.0 1083.6 330.2 1083.6 331.4 1083.6 332.6 1083.5 333.9 1083.5 335.1 1083.5 336.3 1083.5 337.5 1083.5 338.7 1083.5 339.9 1083.5 341.1 1083.5 342.4 1083.5 343.6 1083.5 344.8 1083.4 346.0 1083.4 347.2 1083.4 348.4 1083.4 349.6 1083.4 350.9 1083.4 352.1 1083.4 353.3 1083.4 354.5 1083.3 355.7 1083.3 356.9 1083.3 358.1 1083.3 359.4 1083.3 360.6 1083.3 361.8 1083.3 363.0 1083.3 364.2 1083.2 365.4 1083.2 366.6 1083.2 367.9 1083.2 369.1 1083.2 370.3 1083.2 371.5 1083.2 372.7 1083.1 373.9 1083.1 375.1 1083.1 376.4 1083.1 377.6 1083.1 378.8 1083.1 380.0 1083.1 381.2 1083.0 382.4 1083.0 383.6 1083.0 384.9 1083.0 386.1 1083.0 387.3 1083.0 388.5 1082.9 389.7 1082.9 390.9 1082.9 392.1 1082.9 393.4 1082.9 394.6 1082.9 395.8 1082.8 397.0 1082.8 398.2 1082.8 399.4 1082.8 400.6 1082.8 401.9 1082.7 403.1 1082.7 404.3 1082.7 405.5 1082.7 406.7 1082.7 407.9 1082.6 409.1 1082.6 410.4 1082.6 411.6 1082.6 412.8 1082.6 414.0 1082.5 415.2 1082.5 416.4 1082.5 417.6 1082.5 418.9 1082.4 420.1 1082.4 421.3 1082.4 422.5 1082.4 423.7 1082.3 424.9 1082.3 426.1 1082.3 427.4 1082.3 428.6 1082.2 429.8 1082.2 431.0 1082.2 432.2 1082.2 433.4 1082.1 434.6 1082.1 435.9 1082.1 437.1 1082.0 438.3 1082.0 439.5 1082.0 440.7 1082.0 441.9 1081.9 443.1 1081.9 444.4 1081.9 445.6 1081.8 446.8 1081.8 448.0 1081.8 449.2 1081.7 450.4 1081.7 451.6 1081.7 452.9 1081.6 454.1 1081.6 455.3 1081.5 456.5 1081.5 457.7 1081.5 458.9 1081.4 460.1 1081.4 461.4 1081.4 462.6 1081.3 463.8 1081.3 465.0 1081.2 466.2 1081.2 467.4 1081.1 468.6 1081.1 469.9 1081.1 471.1 1081.0 472.3 1081.0 473.5 1080.9 474.7 1080.9 475.9 1080.8 477.1 1080.8 478.4 1080.7 479.6 1080.7 480.8 1080.6 482.0 1080.6 483.2 1080.5 484.4 1080.5 485.6 1080.4 486.9 1080.3 488.1 1080.3 489.3 1080.2 490.5 1080.2 491.7 1080.1 492.9 1080.0 494.1 1080.0 495.4 1079.9 496.6 1079.8 497.8 1079.8 499.0 1079.7 500.2 1079.6 501.4 1079.6 502.6 1079.5 503.9 1079.4 505.1 1079.3 506.3 1079.3 507.5 1079.2 508.7 1079.1 509.9 1079.0 511.1 1078.9 512.4 1078.9 513.6 1078.8 514.8 1078.7 516.0 1078.6 517.2 1078.5 518.4 1078.4 519.6 1078.3 520.9 1078.2 522.1 1078.1 523.3 1078.0 524.5 1077.9 525.7 1077.8 526.9 1077.7 528.1 1077.5 529.4 1077.4 530.6 1077.3 531.8 1077.2 533.0 1077.1 534.2 1076.9 535.4 1076.8 536.6 1076.7 537.9 1076.5 539.1 1076.4 540.3 1076.2 541.5 1076.1 542.7 1075.9 543.9 1075.8 545.1 1075.6 546.4 1075.4 547.6 1075.3 548.8 1075.1 550.0 1074.9 551.2 1074.7 552.4 1074.5 553.6 1074.4 554.9 1074.2 556.1 1073.9 557.3 1073.7 558.5 1073.5 559.7 1073.3 560.9 1073.1 562.1 1072.8 563.4 1072.6 564.6 1072.3 565.8 1072.1 567.0 1071.8 568.2 1071.5 569.4 1071.3 570.6 1071.0 571.9 1070.7 573.1 1070.3 574.3 1070.0 575.5 1069.7 576.7 1069.4 577.9 1069.0 579.1 1068.6 580.4 1068.3 581.6 1067.9 582.8 1067.5 584.0 1067.0 585.2 1066.6 586.4 1066.2 587.6 1065.7 588.9 1065.2 590.1 1064.7 591.3 1064.2 592.5 1063.7 593.7 1063.1 594.9 1062.5 596.1 1061.9 597.4 1061.3 598.6 1060.6 599.8 1060.0 601.0 1059.3 602.2 1058.5 603.4 1057.7 604.6 1056.9 605.9 1056.1 607.1 1055.2 608.3 1054.3 609.5 1053.3 610.7 1052.3 611.9 1051.3 613.1 1050.2 614.4 1049.0 615.6 1047.8 616.8 1046.5 618.0 1045.1 619.2 1043.7 620.4 1042.2 621.6 1040.6 622.9 1038.9 624.1 1037.2 625.3 1035.3 626.5 1033.4 627.7 1031.3 628.9 1029.1 630.1 1026.8 631.4 1024.3 632.6 1021.7 633.8 1019.0 635.0 1016.1 636.2 1013.0 637.4 1009.7 638.6 1006.3 639.9 1002.7 641.1 998.8 642.3 994.8 643.5 990.5 644.7 986.0 645.9 981.2 647.1 976.2 648.4 970.9 649.6 965.3 650.8 959.5 652.0 953.4 653.2 947.0 654.4 940.3 655.6 933.4 656.9 926.2 658.1 918.7 659.3 911.0 660.5 903.2 661.7 895.2 662.9 887.1 664.1 878.9 665.4 870.8 666.6 862.8 667.8 854.9 669.0 847.4 670.2 840.3 671.4 833.8 672.6 827.9 673.9 822.7 675.1 818.5 676.3 815.2 677.5 812.9 678.7 811.7 679.9 811.7 681.1 812.7 682.4 814.9 683.6 818.1 684.8 822.3 686.0 827.4 687.2 833.2 688.4 839.7 689.6 846.8 690.9 854.3 692.1 862.1 693.3 870.1 694.5 878.2 695.7 886.3 696.9 894.5 698.1 902.5 699.4 910.4 700.6 918.0 701.8 925.5 703.0 932.7 704.2 939.7 705.4 946.4 706.6 952.8 707.9 959.0 709.1 964.8 710.3 970.4 711.5 975.7 712.7 980.8 713.9 985.5 715.1 990.1 716.4 994.4 717.6 998.5 718.8 1002.3 720.0 1006.0 721.2 1009.4 722.4 1012.7 723.6 1015.8 724.9 1018.7 726.1 1021.5 727.3 1024.1 728.5 1026.6 729.7 1028.9 730.9 1031.1 732.1 1033.2 733.4 1035.1 734.6 1037.0 735.8 1038.8 737.0 1040.5 738.2 1042.1 739.4 1043.6 740.6 1045.0 741.9 1046.4 743.1 1047.7 744.3 1048.9 745.5 1050.1 746.7 1051.2 747.9 1052.2 749.1 1053.2 750.4 1054.2 751.6 1055.1 752.8 1056.0 754.0 1056.9 755.2 1057.7 756.4 1058.4 757.6 1059.2 758.9 1059.9 760.1 1060.6 761.3 1061.2 762.5 1061.9 763.7 1062.5 764.9 1063.1 766.1 1063.6 767.4 1064.2 768.6 1064.7 769.8 1065.2 771.0 1065.7 772.2 1066.1 773.4 1066.6 774.6 1067.0 775.9 1067.4 777.1 1067.8 778.3 1068.2 779.5 1068.6 780.7 1069.0 781.9 1069.3 783.1 1069.7 784.4 1070.0 785.6 1070.3 786.8 1070.6 788.0 1070.9 789.2 1071.2 790.4 1071.5 791.6 1071.8 792.9 1072.1 794.1 1072.3 795.3 1072.6 796.5 1072.8 797.7 1073.0 798.9 1073.3 800.1 1073.5 801.4 1073.7 802.6 1073.9 803.8 1074.1 805.0 1074.3 806.2 1074.5 807.4 1074.7 808.6 1074.9 809.9 1075.1 811.1 1075.3 812.3 1075.4 813.5 1075.6 814.7 1075.8 815.9 1075.9 817.1 1076.1 818.4 1076.2 819.6 1076.4 820.8 1076.5 822.0 1076.6 823.2 1076.8 824.4 1076.9 825.6 1077.0 826.9 1077.2 828.1 1077.3 829.3 1077.4 830.5 1077.5 831.7 1077.6 832.9 1077.8" fill="none" stroke="#800080" stroke-width="3.6" stroke-linejoin="round"/><path d="M67.9 1085.0 69.1 1085.0 70.4 1085.0 71.6 1085.0 72.8 1085.0 74.0 1085.0 75.2 1085.0 76.4 1085.0 77.6 1085.0 78.9 1085.0 80.1 1085.0 81.3 1085.0 82.5 1085.0 83.7 1085.0 84.9 1085.0 86.1 1085.0 87.4 1085.0 88.6 1085.0 89.8 1085.0 91.0 1085.0 92.2 1085.0 93.4 1085.0 94.6 1085.0 95.9 1085.0 97.1 1085.0 98.3 1085.0 99.5 1085.0 100.7 1085.0 101.9 1085.0 103.1 1085.0 104.4 1085.0 105.6 1085.0 106.8 1085.0 108.0 1085.0 109.2 1085.0 110.4 1085.0 111.6 1085.0 112.9 1085.0 114.1 1085.0 115.3 1085.0 116.5 1085.0 117.7 1085.0 118.9 1085.0 120.1 1085.0 121.4 1085.0 122.6 1085.0 123.8 1085.0 125.0 1085.0 126.2 1085.0 127.4 1085.0 128.6 1085.0 129.9 1085.0 131.1 1085.0 132.3 1085.0 133.5 1085.0 134.7 1085.0 135.9 1085.0 137.1 1085.0 138.4 1085.0 139.6 1085.0 140.8 1085.0 142.0 1085.0 143.2 1085.0 144.4 1085.0 145.6 1085.0 146.9 1085.0 148.1 1085.0 149.3 1085.0 150.5 1085.0 151.7 1085.0 152.9 1085.0 154.1 1085.0 155.4 1085.0 156.6 1085.0 157.8 1085.0 159.0 1085.0 160.2 1085.0 161.4 1085.0 162.6 1085.0 163.9 1085.0 165.1 1085.0 166.3 1085.0 167.5 1085.0 168.7 1085.0 169.9 1085.0 171.1 1085.0 172.4 1085.0 173.6 1085.0 174.8 1085.0 176.0 1085.0 177.2 1085.0 178.4 1085.0 179.6 1085.0 180.9 1085.0 182.1 1085.0 183.3 1085.0 184.5 1085.0 185.7 1085.0 186.9 1085.0 188.1 1085.0 189.4 1085.0 190.6 1085.0 191.8 1085.0 193.0 1085.0 194.2 1085.0 195.4 1085.0 196.6 1085.0 197.9 1085.0 199.1 1085.0 200.3 1085.0 201.5 1085.0 202.7 1085.0 203.9 1085.0 205.1 1085.0 206.4 1085.0 207.6 1085.0 208.8 1085.0 210.0 1085.0 211.2 1085.0 212.4 1085.0 213.6 1085.0 214.9 1085.0 216.1 1085.0 217.3 1085.0 218.5 1085.0 219.7 1085.0 220.9 1085.0 222.1 1085.0 223.4 1085.0 224.6 1085.0 225.8 1085.0 227.0 1085.0 228.2 1085.0 229.4 1085.0 230.6 1085.0 231.9 1085.0 233.1 1085.0 234.3 1085.0 235.5 1085.0 236.7 1085.0 237.9 1085.0 239.1 1085.0 240.4 1085.0 241.6 1085.0 242.8 1085.0 244.0 1085.0 245.2 1085.0 246.4 1085.0 247.6 1085.0 248.9 1085.0 250.1 1085.0 251.3 1085.0 252.5 1085.0 253.7 1085.0 254.9 1085.0 256.1 1085.0 257.4 1085.0 258.6 1085.0 259.8 1085.0 261.0 1085.0 262.2 1085.0 263.4 1085.0 264.6 1085.0 265.9 1085.0 267.1 1085.0 268.3 1085.0 269.5 1085.0 270.7 1085.0 271.9 1085.0 273.1 1085.0 274.4 1085.0 275.6 1085.0 276.8 1085.0 278.0 1085.0 279.2 1085.0 280.4 1085.0 281.6 1085.0 282.9 1085.0 284.1 1085.0 285.3 1085.0 286.5 1085.0 287.7 1085.0 288.9 1085.0 290.1 1085.0 291.4 1085.0 292.6 1085.0 293.8 1085.0 295.0 1085.0 296.2 1085.0 297.4 1085.0 298.6 1085.0 299.9 1085.0 301.1 1085.0 302.3 1085.0 303.5 1085.0 304.7 1085.0 305.9 1085.0 307.1 1085.0 308.4 1085.0 309.6 1085.0 310.8 1085.0 312.0 1085.0 313.2 1085.0 314.4 1085.0 315.6 1085.0 316.9 1085.0 318.1 1085.0 319.3 1085.0 320.5 1085.0 321.7 1085.0 322.9 1085.0 324.1 1085.0 325.4 1085.0 326.6 1085.0 327.8 1085.0 329.0 1085.0 330.2 1085.0 331.4 1085.0 332.6 1085.0 333.9 1085.0 335.1 1085.0 336.3 1085.0 337.5 1085.0 338.7 1085.0 339.9 1085.0 341.1 1085.0 342.4 1085.0 343.6 1085.0 344.8 1085.0 346.0 1085.0 347.2 1085.0 348.4 1085.0 349.6 1085.0 350.9 1085.0 352.1 1085.0 353.3 1085.0 354.5 1085.0 355.7 1085.0 356.9 1085.0 358.1 1085.0 359.4 1085.0 360.6 1085.0 361.8 1085.0 363.0 1085.0 364.2 1085.0 365.4 1085.0 366.6 1085.0 367.9 1085.0 369.1 1085.0 370.3 1085.0 371.5 1085.0 372.7 1085.0 373.9 1085.0 375.1 1085.0 376.4 1085.0 377.6 1085.0 378.8 1085.0 380.0 1085.0 381.2 1085.0 382.4 1085.0 383.6 1085.0 384.9 1085.0 386.1 1085.0 387.3 1085.0 388.5 1085.0 389.7 1085.0 390.9 1085.0 392.1 1085.0 393.4 1085.0 394.6 1085.0 395.8 1085.0 397.0 1085.0 398.2 1085.0 399.4 1085.0 400.6 1085.0 401.9 1085.0 403.1 1085.0 404.3 1085.0 405.5 1085.0 406.7 1085.0 407.9 1085.0 409.1 1085.0 410.4 1085.0 411.6 1085.0 412.8 1085.0 414.0 1085.0 415.2 1085.0 416.4 1085.0 417.6 1085.0 418.9 1085.0 420.1 1085.0 421.3 1085.0 422.5 1085.0 423.7 1085.0 424.9 1085.0 426.1 1085.0 427.4 1085.0 428.6 1085.0 429.8 1085.0 431.0 1085.0 432.2 1085.0 433.4 1085.0 434.6 1085.0 435.9 1085.0 437.1 1085.0 438.3 1085.0 439.5 1085.0 440.7 1085.0 441.9 1085.0 443.1 1085.0 444.4 1085.0 445.6 1085.0 446.8 1085.0 448.0 1085.0 449.2 1085.0 450.4 1085.0 451.6 1085.0 452.9 1085.0 454.1 1085.0 455.3 1085.0 456.5 1085.0 457.7 1085.0 458.9 1085.0 460.1 1085.0 461.4 1085.0 462.6 1085.0 463.8 1085.0 465.0 1085.0 466.2 1085.0 467.4 1085.0 468.6 1085.0 469.9 1085.0 471.1 1085.0 472.3 1085.0 473.5 1085.0 474.7 1085.0 475.9 1085.0 477.1 1085.0 478.4 1085.0 479.6 1085.0 480.8 1085.0 482.0 1085.0 483.2 1085.0 484.4 1085.0 485.6 1085.0 486.9 1085.0 488.1 1085.0 489.3 1085.0 490.5 1085.0 491.7 1085.0 492.9 1085.0 494.1 1085.0 495.4 1085.0 496.6 1085.0 497.8 1085.0 499.0 1085.0 500.2 1085.0 501.4 1085.0 502.6 1085.0 503.9 1085.0 505.1 1085.0 506.3 1085.0 507.5 1085.0 508.7 1085.0 509.9 1085.0 511.1 1085.0 512.4 1085.0 513.6 1085.0 514.8 1085.0 516.0 1085.0 517.2 1085.0 518.4 1085.0 519.6 1085.0 520.9 1085.0 522.1 1085.0 523.3 1085.0 524.5 1085.0 525.7 1085.0 526.9 1085.0 528.1 1085.0 529.4 1085.0 530.6 1085.0 531.8 1085.0 533.0 1085.0 534.2 1085.0 535.4 1085.0 536.6 1085.0 537.9 1085.0 539.1 1085.0 540.3 1085.0 541.5 1085.0 542.7 1085.0 543.9 1085.0 545.1 1085.0 546.4 1085.0 547.6 1085.0 548.8 1085.0 550.0 1085.0 551.2 1085.0 552.4 1085.0 553.6 1085.0 554.9 1085.0 556.1 1085.0 557.3 1085.0 558.5 1085.0 559.7 1085.0 560.9 1085.0 562.1 1085.0 563.4 1085.0 564.6 1085.0 565.8 1085.0 567.0 1085.0 568.2 1085.0 569.4 1085.0 570.6 1085.0 571.9 1085.0 573.1 1085.0 574.3 1085.0 575.5 1085.0 576.7 1085.0 577.9 1085.0 579.1 1085.0 580.4 1085.0 581.6 1085.0 582.8 1085.0 584.0 1085.0 585.2 1085.0 586.4 1085.0 587.6 1085.0 588.9 1085.0 590.1 1085.0 591.3 1085.0 592.5 1085.0 593.7 1085.0 594.9 1085.0 596.1 1085.0 597.4 1085.0 598.6 1085.0 599.8 1085.0 601.0 1085.0 602.2 1085.0 603.4 1085.0 604.6 1085.0 605.9 1085.0 607.1 1085.0 608.3 1085.0 609.5 1085.0 610.7 1085.0 611.9 1085.0 613.1 1085.0 614.4 1085.0 615.6 1085.0 616.8 1085.0 618.0 1085.0 619.2 1085.0 620.4 1085.0 621.6 1085.0 622.9 1085.0 624.1 1085.0 625.3 1085.0 626.5 1085.0 627.7 1085.0 628.9 1085.0 630.1 1085.0 631.4 1085.0 632.6 1085.0 633.8 1085.0 635.0 1085.0 636.2 1085.0 637.4 1085.0 638.6 1085.0 639.9 1085.0 641.1 1085.0 642.3 1085.0 643.5 1085.0 644.7 1085.0 645.9 1085.0 647.1 1085.0 648.4 1085.0 649.6 1085.0 650.8 1085.0 652.0 1085.0 653.2 1085.0 654.4 1085.0 655.6 1085.0 656.9 1085.0 658.1 1085.0 659.3 1085.0 660.5 1085.0 661.7 1085.0 662.9 1085.0 664.1 1085.0 665.4 1085.0 666.6 1085.0 667.8 1085.0 669.0 1085.0 670.2 1085.0 671.4 1085.0 672.6 1085.0 673.9 1085.0 675.1 1085.0 676.3 1085.0 677.5 1085.0 678.7 1085.0 679.9 1085.0 681.1 1085.0 682.4 1085.0 683.6 1085.0 684.8 1085.0 686.0 1085.0 687.2 1085.0 688.4 1085.0 689.6 1085.0 690.9 1085.0 692.1 1085.0 693.3 1085.0 694.5 1084.9 695.7 1084.9 696.9 1084.9 698.1 1084.9 699.4 1084.9 700.6 1084.9 701.8 1084.9 703.0 1084.9 704.2 1084.9 705.4 1084.9 706.6 1084.9 707.9 1084.8 709.1 1084.8 710.3 1084.8 711.5 1084.8 712.7 1084.8 713.9 1084.7 715.1 1084.7 716.4 1084.7 717.6 1084.7 718.8 1084.6 720.0 1084.6 721.2 1084.6 722.4 1084.5 723.6 1084.5 724.9 1084.4 726.1 1084.4 727.3 1084.3 728.5 1084.3 729.7 1084.2 730.9 1084.2 732.1 1084.1 733.4 1084.0 734.6 1083.9 735.8 1083.9 737.0 1083.8 738.2 1083.7 739.4 1083.6 740.6 1083.5 741.9 1083.4 743.1 1083.3 744.3 1083.2 745.5 1083.0 746.7 1082.9 747.9 1082.8 749.1 1082.6 750.4 1082.5 751.6 1082.3 752.8 1082.2 754.0 1082.0 755.2 1081.8 756.4 1081.6 757.6 1081.5 758.9 1081.3 760.1 1081.1 761.3 1080.9 762.5 1080.6 763.7 1080.4 764.9 1080.2 766.1 1080.0 767.4 1079.7 768.6 1079.5 769.8 1079.3 771.0 1079.0 772.2 1078.8 773.4 1078.5 774.6 1078.2 775.9 1078.0 777.1 1077.7 778.3 1077.5 779.5 1077.2 780.7 1076.9 781.9 1076.7 783.1 1076.4 784.4 1076.1 785.6 1075.9 786.8 1075.6 788.0 1075.3 789.2 1075.1 790.4 1074.8 791.6 1074.6 792.9 1074.3 794.1 1074.1 795.3 1073.9 796.5 1073.6 797.7 1073.4 798.9 1073.2 800.1 1073.0 801.4 1072.8 802.6 1072.7 803.8 1072.5 805.0 1072.3 806.2 1072.2 807.4 1072.1 808.6 1072.0 809.9 1071.8 811.1 1071.8 812.3 1071.7 813.5 1071.6 814.7 1071.6 815.9 1071.5 817.1 1071.5 818.4 1071.5 819.6 1071.5 820.8 1071.5 822.0 1071.6 823.2 1071.6 824.4 1071.7 825.6 1071.8 826.9 1071.8 828.1 1072.0 829.3 1072.1 830.5 1072.2 831.7 1072.3 832.9 1072.5" fill="none" stroke="#800000" stroke-width="3.6" stroke-linejoin="round"/>
<line x1="341.9" y1="560.0" x2="319.7" y2="603.3" stroke="#1a0dbf" stroke-width="2.2"/><path d="M312.8 616.6 L315.7 599.0 L325.5 604.0 Z" fill="#1a0dbf"/><line x1="303.2" y1="989.4" x2="289.5" y2="1032.0" stroke="#00ffff" stroke-width="2.2"/><path d="M284.9 1046.3 L284.9 1028.4 L295.3 1031.8 Z" fill="#00ffff"/><line x1="340.0" y1="1010.5" x2="331.3" y2="1036.6" stroke="#ff00ff" stroke-width="2.2"/><path d="M326.5 1050.8 L326.7 1032.9 L337.1 1036.4 Z" fill="#ff00ff"/>
</g>
<g font-family="'Liberation Serif', serif" font-size="46" fill="#000"><text transform="translate(171.7,110.0) rotate(-90)" text-anchor="middle" dy="0.34em">302</text><text transform="translate(225.6,231.5) rotate(-90)" text-anchor="middle" dy="0.34em">343</text><text transform="translate(271.6,222.3) rotate(-90)" text-anchor="middle" dy="0.34em">383</text><text transform="translate(319.8,233.8) rotate(-90)" text-anchor="middle" dy="0.34em">418</text><text transform="translate(401.5,248.2) rotate(-90)" text-anchor="middle" dy="0.34em">494</text><text transform="translate(453.7,243.7) rotate(-90)" text-anchor="middle" dy="0.34em">534</text><text transform="translate(538.0,289.6) rotate(-90)" text-anchor="middle" dy="0.34em">605</text><text transform="translate(614.2,190.5) rotate(-90)" text-anchor="middle" dy="0.34em">688</text><text transform="translate(719.3,66.3) rotate(-90)" text-anchor="middle" dy="0.34em">720</text><text transform="translate(128.2,422.7) rotate(-90)" text-anchor="middle" dy="0.34em">302</text><text transform="translate(229.5,474.5) rotate(-90)" text-anchor="middle" dy="0.34em">347</text><text transform="translate(305.3,405.9) rotate(-90)" text-anchor="middle" dy="0.34em">389</text><text transform="translate(347.2,519.8) rotate(-90)" text-anchor="middle" dy="0.34em">422</text><text transform="translate(397.0,580.8) rotate(-90)" text-anchor="middle" dy="0.34em">493</text><text transform="translate(458.3,555.7) rotate(-90)" text-anchor="middle" dy="0.34em">537</text><text transform="translate(539.0,600.5) rotate(-90)" text-anchor="middle" dy="0.34em">605</text><text transform="translate(619.5,502.5) rotate(-90)" text-anchor="middle" dy="0.34em">678</text><text transform="translate(718.0,443.9) rotate(-90)" text-anchor="middle" dy="0.34em">720</text><text transform="translate(100.9,886.0) rotate(-90)" text-anchor="middle" dy="0.34em">245</text><text transform="translate(173.0,854.7) rotate(-90)" text-anchor="middle" dy="0.34em">304</text><text transform="translate(218.3,938.0) rotate(-90)" text-anchor="middle" dy="0.34em">335</text><text transform="translate(261.0,913.8) rotate(-90)" text-anchor="middle" dy="0.34em">374</text><text transform="translate(302.9,948.8) rotate(-90)" text-anchor="middle" dy="0.34em">388</text><text transform="translate(347.8,970.8) rotate(-90)" text-anchor="middle" dy="0.34em">421</text><text transform="translate(401.6,954.7) rotate(-90)" text-anchor="middle" dy="0.34em">494</text><text transform="translate(461.6,964.6) rotate(-90)" text-anchor="middle" dy="0.34em">535</text><text transform="translate(614.2,884.5) rotate(-90)" text-anchor="middle" dy="0.34em">676</text><text transform="translate(733.1,795.4) rotate(-90)" text-anchor="middle" dy="0.34em">723</text><text x="796.2" y="326" text-anchor="middle">(a)</text><text x="797" y="646.5" text-anchor="middle">(b)</text><text x="796" y="1029.5" text-anchor="middle">(c)</text></g>
<rect x="68.3" y="4.9" width="764.8" height="1147" fill="none" stroke="#000" stroke-width="2.5"/>
<g stroke="#000" stroke-width="2.5"><line x1="165.1" y1="1151.5" x2="165.1" y2="1160"/><line x1="286.5" y1="1151.5" x2="286.5" y2="1167"/><line x1="407.9" y1="1151.5" x2="407.9" y2="1160"/><line x1="529.4" y1="1151.5" x2="529.4" y2="1167"/><line x1="650.8" y1="1151.5" x2="650.8" y2="1160"/><line x1="772.2" y1="1151.5" x2="772.2" y2="1167"/></g>
<g font-family="'Liberation Sans', sans-serif" font-size="46" fill="#000" text-anchor="middle">
<text x="286.5" y="1212.5">400</text><text x="529.4" y="1212.5">600</text><text x="772.2" y="1212.5">800</text>
<text x="451.5" y="1266.5">Wavenumber (cm<tspan font-size="25" dy="-25.5">-1</tspan><tspan dy="25.5">)</tspan></text>
<text transform="translate(36,549.5) rotate(-90)">Intensity (a.u.)</text>
</g>
</svg></body></html>
